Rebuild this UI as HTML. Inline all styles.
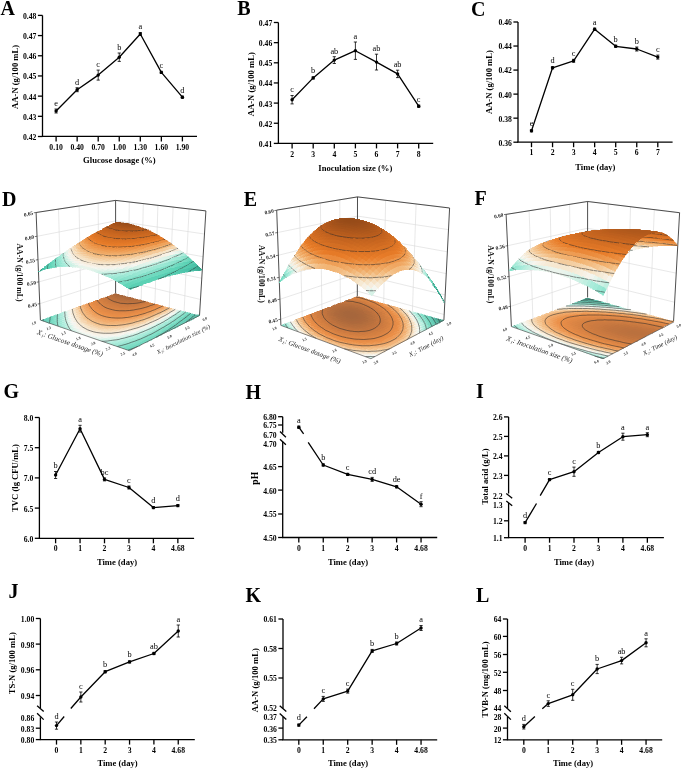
<!DOCTYPE html>
<html><head><meta charset="utf-8"><style>
html,body{margin:0;padding:0;background:#fff;}
svg{display:block;font-family:'Liberation Serif', serif;filter:blur(0.35px);}
.k{fill:none;stroke:#2b2b2b;stroke-width:.55}
.s path{fill:currentColor;stroke:currentColor;stroke-width:1.8;shape-rendering:crispEdges}
.s path.k{fill:none;stroke:#2b2b2b;stroke-width:2.2;shape-rendering:auto}
</style></head><body>
<svg width="685" height="768" viewBox="0 0 685 768">
<rect width="685" height="768" fill="#fff"/>
<line x1="61.5" y1="312.8" x2="58.5" y2="209.1" stroke="#d9d9d9" stroke-width="0.6"/>
<line x1="80.8" y1="305.9" x2="79.1" y2="206.0" stroke="#d9d9d9" stroke-width="0.6"/>
<line x1="98.7" y1="299.5" x2="98.2" y2="203.1" stroke="#d9d9d9" stroke-width="0.6"/>
<line x1="128.0" y1="296.9" x2="129.3" y2="202.0" stroke="#d9d9d9" stroke-width="0.6"/>
<line x1="141.2" y1="300.3" x2="143.3" y2="203.6" stroke="#d9d9d9" stroke-width="0.6"/>
<line x1="154.9" y1="303.9" x2="157.9" y2="205.3" stroke="#d9d9d9" stroke-width="0.6"/>
<line x1="169.2" y1="307.6" x2="173.1" y2="207.1" stroke="#d9d9d9" stroke-width="0.6"/>
<line x1="184.1" y1="311.5" x2="189.1" y2="208.9" stroke="#d9d9d9" stroke-width="0.6"/>
<path d="M36.0 212.5L115.8 200.4L205.8 210.9" fill="none" stroke="#d9d9d9" stroke-width="0.6"/>
<path d="M37.0 236.3L115.7 220.9L204.4 234.0" fill="none" stroke="#d9d9d9" stroke-width="0.6"/>
<path d="M38.0 259.7L115.6 241.0L203.1 256.7" fill="none" stroke="#d9d9d9" stroke-width="0.6"/>
<path d="M38.9 281.9L115.5 260.3L201.8 278.3" fill="none" stroke="#d9d9d9" stroke-width="0.6"/>
<path d="M39.9 303.7L115.4 279.2L200.6 299.5" fill="none" stroke="#d9d9d9" stroke-width="0.6"/>
<line x1="36.1" y1="212.5" x2="115.6" y2="200.4" stroke="#3a3a3a" stroke-width="0.9"/>
<line x1="115.6" y1="200.4" x2="205.9" y2="210.9" stroke="#3a3a3a" stroke-width="0.9"/>
<line x1="40.4" y1="320.1" x2="36.1" y2="212.5" stroke="#3a3a3a" stroke-width="0.9"/>
<line x1="115.6" y1="293.7" x2="115.6" y2="200.4" stroke="#3a3a3a" stroke-width="0.9"/>
<line x1="199.5" y1="315.5" x2="205.9" y2="210.9" stroke="#3a3a3a" stroke-width="0.9"/>
<line x1="33.8" y1="212.8" x2="36.0" y2="212.5" stroke="#3a3a3a" stroke-width="0.7"/>
<text x="33.0" y="212.8" font-size="5.3" font-weight="bold" text-anchor="end" dominant-baseline="central" fill="#222" transform="rotate(-12 33.0 212.8)">0.65</text>
<line x1="34.8" y1="236.6" x2="37.0" y2="236.3" stroke="#3a3a3a" stroke-width="0.7"/>
<text x="34.0" y="236.6" font-size="5.3" font-weight="bold" text-anchor="end" dominant-baseline="central" fill="#222" transform="rotate(-12 34.0 236.6)">0.60</text>
<line x1="35.8" y1="260.0" x2="38.0" y2="259.7" stroke="#3a3a3a" stroke-width="0.7"/>
<text x="35.0" y="260.0" font-size="5.3" font-weight="bold" text-anchor="end" dominant-baseline="central" fill="#222" transform="rotate(-12 35.0 260.0)">0.55</text>
<line x1="36.7" y1="282.2" x2="38.9" y2="281.9" stroke="#3a3a3a" stroke-width="0.7"/>
<text x="35.9" y="282.2" font-size="5.3" font-weight="bold" text-anchor="end" dominant-baseline="central" fill="#222" transform="rotate(-12 35.9 282.2)">0.50</text>
<line x1="37.7" y1="304.0" x2="39.9" y2="303.7" stroke="#3a3a3a" stroke-width="0.7"/>
<text x="36.9" y="304.0" font-size="5.3" font-weight="bold" text-anchor="end" dominant-baseline="central" fill="#222" transform="rotate(-12 36.9 304.0)">0.45</text>
<g class="s" transform="scale(.25)">
<path color="#62c8b2" d="M162 1281l11 3 11-4-10-3z"/>
<path color="#69ceb8" d="M174 1277l10 3 12-4-11-3zM173 1284l10 4 11-4-10-4zM749 1268l13 3 8-4-13-3z"/>
<path color="#6ed3bc" d="M185 1273l11 3 11-4-10-3zM184 1280l10 4 12-4-10-4zM183 1288l10 4 12-5-11-3zM753 1256l12 4 8-4-12-3zM724 1280l13 3 8-4-12-3z"/>
<path color="#74d8c0" d="M197 1269l10 3 11-4-10-3zM196 1276l10 4 11-4-10-4zM194 1284l11 3 11-4-10-3zM728 1268l13 4 8-4-12-4zM689 1296l13 4 9-4-13-4zM536 1382l14 4 11-5-14-5zM547 1376l14 5 10-6-13-4zM609 1346l13 4 10-5-13-4zM619 1341l13 4 10-5-14-4z"/>
<path color="#80dec6" d="M208 1265l10 3 11-4-10-3zM207 1272l10 4 11-5-10-3zM732 1257l13 3 8-4-12-3zM634 1323l14 4 9-5-13-3z"/>
<path color="#92e3cf" d="M219 1261l10 3 11-4-10-3zM521 1368l13 4 10-5-13-5z"/>
<path color="#a2e8d7" d="M230 1257l10 3 11-4-10-3z"/>
<path color="#b3eedf" d="M241 1253l10 3 11-4-11-3zM505 1354l13 4 11-5-13-4z"/>
<path color="#cef2e6" d="M251 1249l11 3 10-3-10-4z"/>
<path color="#ebf6ef" d="M262 1245l10 4 11-4-11-3zM351 1345l12 5 11-5-12-4zM456 1346l13 5 11-5-13-4zM688 1251l12 3 8-4-12-3z"/>
<path color="#f8f2e8" d="M272 1242l11 3 10-4-10-3zM636 1275l12 3 9-4-12-3z"/>
<path color="#f7e9d3" d="M283 1238l10 3 10-4-10-3z"/>
<path color="#f6dbb9" d="M293 1234l10 3 10-3-10-3zM337 1299l11 4 11-5-11-3z"/>
<path color="#f5cc9e" d="M303 1231l10 3 10-4-10-3zM336 1283l11 4 11-4-11-4z"/>
<path color="#f4bd85" d="M313 1227l10 3 10-3-10-3z"/>
<path color="#f1b174" d="M323 1224l10 3 10-4-10-3zM632 1242l11 3 9-3-12-4z"/>
<path color="#f0a565" d="M333 1220l10 3 10-3-10-3zM423 1281l11 3 10-4-11-3z"/>
<path color="#ed9a56" d="M343 1217l10 3 10-4-10-3z"/>
<path color="#eb9048" d="M353 1213l10 3 9-3-10-3zM386 1249l11 3 10-4-11-3zM441 1265l12 4 9-4-11-4zM504 1264l12 3 9-4-11-3z"/>
<path color="#e68b47" d="M362 1210l10 3 10-4-10-3zM374 1225l10 4 10-4-11-3zM385 1235l10 3 10-3-11-3zM407 1248l11 4 10-4-11-3zM418 1252l11 3 10-4-11-3zM429 1255l11 3 10-4-11-3zM502 1256l12 4 9-4-11-4zM532 1252l12 3 9-4-12-3zM597 1233l12 3 8-4-11-3zM606 1229l11 3 9-3-12-3zM614 1226l12 3 8-4-11-3zM623 1222l11 3 8-3-11-3z"/>
<path color="#e08745" d="M372 1206l10 3 9-3-10-3zM500 1249l12 3 9-3-11-4zM530 1245l11 3 10-4-12-3z"/>
<path color="#da8444" d="M381 1203l10 3 9-4-10-2zM425 1234l11 3 9-3-10-4zM436 1237l11 3 9-3-11-3zM447 1240l11 3 9-3-11-3zM478 1243l11 3 10-4-12-3zM499 1242l11 3 9-3-11-3zM528 1238l11 3 9-4-11-3zM566 1230l11 3 9-3-11-3z"/>
<path color="#d48042" d="M390 1200l10 2 10-3-11-3zM401 1209l11 3 9-4-10-3zM413 1218l10 3 9-4-10-3zM466 1233l10 3 10-4-11-3zM497 1236l11 3 9-4-11-3zM526 1231l11 3 9-3-11-3zM555 1227l11 3 9-3-12-3zM563 1224l12 3 8-4-11-3z"/>
<path color="#cf7d41" d="M399 1196l11 3 9-3-10-3zM495 1229l11 3 9-4-11-3z"/>
<path color="#ca7a40" d="M409 1193l10 3 9-3-10-3zM420 1202l10 3 9-4-10-2zM452 1217l11 3 9-4-11-3zM493 1222l11 3 9-3-11-3zM513 1222l11 3 9-4-11-3z"/>
<path color="#c4763f" d="M418 1190l10 3 9-4-10-2zM429 1199l10 2 9-3-10-3zM491 1216l11 3 9-4-11-3zM511 1215l11 3 9-3-11-3zM567 1207l11 3 8-3-10-3z"/>
<path color="#be733e" d="M427 1187l10 2 8-3-10-2zM438 1195l10 3 9-3-10-3zM490 1210l10 2 9-3-11-3zM528 1208l11 3 9-3-11-3zM556 1205l11 2 9-3-11-3z"/>
<path color="#b86f3d" d="M435 1184l10 2 9-3-10-3zM457 1195l10 3 9-4-10-2z"/>
<path color="#b16c3d" d="M444 1180l10 3 9-3-10-3z"/>
<path color="#ac693c" d="M453 1177l10 3 8-3-10-3z"/>
<path color="#91e3cf" d="M218 1268l10 3 11-4-10-3zM650 1306l12 4 10-5-13-4z"/>
<path color="#a2e8d6" d="M229 1264l10 3 11-4-10-3zM228 1271l11 4 11-4-11-4zM712 1258l12 3 8-4-12-3zM508 1363l13 5 10-6-13-4zM664 1289l13 4 9-4-13-4z"/>
<path color="#b2eddf" d="M240 1260l10 3 11-3-10-4zM716 1247l12 3 8-4-12-3z"/>
<path color="#ccf1e6" d="M251 1256l10 4 11-4-10-4zM683 1262l12 3 9-4-13-3z"/>
<path color="#e8f6ee" d="M262 1252l10 4 10-4-10-3zM281 1305l11 4 11-5-11-4zM574 1312l12 4 10-4-13-4z"/>
<path color="#f8f3ea" d="M272 1249l10 3 11-4-10-3zM552 1313l12 4 10-5-13-3z"/>
<path color="#f7ead5" d="M283 1245l10 3 10-4-10-3zM372 1327l12 4 11-5-12-4zM486 1323l13 4 10-4-12-4z"/>
<path color="#f6ddbd" d="M293 1241l10 3 11-3-11-4z"/>
<path color="#f5cea2" d="M303 1237l11 4 10-4-11-3zM314 1262l11 3 10-4-11-3zM359 1298l11 4 11-4-11-4z"/>
<path color="#f4bf88" d="M313 1234l11 3 10-4-11-3zM591 1268l12 4 9-4-12-4zM626 1253l12 3 9-4-12-3z"/>
<path color="#f1b378" d="M323 1230l11 3 10-3-11-3zM402 1289l11 4 11-4-12-4zM510 1286l12 4 10-5-12-3z"/>
<path color="#f0a769" d="M333 1227l11 3 10-4-11-3z"/>
<path color="#ee9c59" d="M343 1223l11 3 9-4-10-2zM355 1239l10 4 10-4-11-3zM421 1273l12 4 10-4-12-4zM454 1276l12 4 9-4-11-4zM475 1276l12 3 10-4-12-4z"/>
<path color="#eb914b" d="M353 1220l10 2 10-3-10-3zM474 1268l11 3 10-4-12-3z"/>
<path color="#e68c47" d="M363 1216l10 3 9-3-10-3zM396 1245l11 3 10-3-11-4zM440 1258l11 3 10-4-11-3zM580 1240l11 3 9-4-12-3zM588 1236l12 3 9-3-12-3z"/>
<path color="#e18946" d="M372 1213l10 3 10-4-10-3zM417 1245l11 3 9-4-11-3zM428 1248l11 3 9-4-11-3zM521 1249l11 3 9-4-11-3zM559 1241l12 3 9-4-12-3z"/>
<path color="#dc8544" d="M382 1209l10 3 9-3-10-3zM404 1228l11 3 9-4-10-3z"/>
<path color="#d68143" d="M391 1206l10 3 10-4-11-3zM402 1215l11 3 9-4-10-2zM424 1227l11 3 9-3-10-3zM435 1230l10 4 10-4-11-3zM445 1234l11 3 10-4-11-3zM546 1231l11 3 9-4-11-3z"/>
<path color="#d27e41" d="M400 1202l11 3 9-3-10-3zM535 1228l11 3 9-4-11-3z"/>
<path color="#cd7b41" d="M410 1199l10 3 9-3-10-3zM421 1208l10 3 9-3-10-3zM504 1225l11 3 9-3-11-3zM561 1217l11 3 9-3-11-3z"/>
<path color="#c77840" d="M419 1196l10 3 9-4-10-2z"/>
<path color="#c1743f" d="M428 1193l10 2 9-3-10-3zM449 1204l11 3 9-3-11-3zM460 1207l10 3 9-3-10-3zM470 1210l11 3 9-3-11-3zM500 1212l11 3 9-3-11-3zM520 1212l11 3 8-4-11-3z"/>
<path color="#bb713e" d="M437 1189l10 3 9-3-11-3zM537 1205l11 3 8-3-10-3z"/>
<path color="#b56e3d" d="M445 1186l11 3 8-3-10-3z"/>
<path color="#af6b3c" d="M454 1183l10 3 9-3-10-3z"/>
<path color="#a9683c" d="M463 1180l10 3 8-3-10-3zM493 1188l11 3 8-3-10-3z"/>
<path color="#80ddc6" d="M206 1280l10 3 12-4-11-3zM523 1377l13 5 11-6-13-4z"/>
<path color="#90e3cf" d="M217 1276l11 3 11-4-11-4z"/>
<path color="#b2edde" d="M239 1267l11 4 11-4-11-4z"/>
<path color="#c9f1e6" d="M250 1263l11 4 11-4-11-3zM259 1297l11 4 11-4-11-4zM492 1350l13 4 11-5-13-4z"/>
<path color="#e5f5ed" d="M261 1260l11 3 10-4-10-3zM696 1247l12 3 8-3-12-3z"/>
<path color="#f8f5ec" d="M272 1256l10 3 11-4-11-3zM292 1300l11 4 12-4-12-4zM542 1318l12 3 10-4-12-4zM653 1267l13 3 8-4-12-3z"/>
<path color="#f7ebd8" d="M282 1252l11 3 10-4-10-3zM293 1277l10 4 11-5-11-3zM326 1312l11 3 12-4-12-4zM529 1314l13 4 10-5-13-4zM667 1252l12 3 9-4-12-3z"/>
<path color="#f6e0c1" d="M293 1248l10 3 11-4-11-3zM326 1295l11 4 11-4-12-4zM680 1237l12 3 8-3-12-3z"/>
<path color="#f6d0a7" d="M303 1244l11 3 10-3-10-3z"/>
<path color="#f4c28d" d="M314 1241l10 3 10-4-10-3z"/>
<path color="#f2b67b" d="M324 1237l10 3 10-4-10-3zM551 1277l12 4 9-5-12-3z"/>
<path color="#f1ab6c" d="M334 1233l10 3 10-3-10-3zM390 1278l11 4 10-5-11-3zM539 1274l12 3 9-4-11-3z"/>
<path color="#eea05e" d="M344 1230l10 3 10-4-10-3z"/>
<path color="#ec954f" d="M354 1226l10 3 10-4-11-3z"/>
<path color="#e98e47" d="M363 1222l11 3 9-3-10-3zM514 1260l11 3 10-4-12-3z"/>
<path color="#e38a47" d="M373 1219l10 3 10-4-11-2zM450 1254l11 3 9-3-11-4zM512 1252l11 4 9-4-11-3z"/>
<path color="#de8645" d="M382 1216l11 2 9-3-10-3zM394 1225l10 3 10-4-11-3zM416 1238l10 3 10-4-11-3zM426 1241l11 3 10-4-11-3zM437 1244l11 3 10-4-11-3zM539 1241l12 3 8-3-11-4zM603 1223l11 3 9-4-12-3zM611 1219l12 3 8-3-11-3z"/>
<path color="#d98343" d="M392 1212l10 3 10-3-11-3z"/>
<path color="#cf7c41" d="M411 1205l10 3 9-3-10-3zM432 1217l11 3 9-3-10-3zM443 1220l10 3 10-3-11-3zM453 1223l11 3 9-3-10-3zM464 1226l11 3 9-3-11-3zM552 1221l11 3 9-4-11-3z"/>
<path color="#b8703e" d="M447 1192l10 3 9-3-10-3z"/>
<path color="#b36d3d" d="M456 1189l10 3 8-3-10-3zM516 1200l10 2 9-3-11-3z"/>
<path color="#ad6a3c" d="M464 1186l10 3 9-4-10-2zM474 1189l11 2 8-3-10-3zM485 1191l10 3 9-3-11-3z"/>
<path color="#a8683c" d="M473 1183l10 2 9-3-11-2zM483 1185l10 3 9-3-10-3z"/>
<path color="#74d8bf" d="M193 1292l11 3 11-4-10-4z"/>
<path color="#7fddc5" d="M205 1287l10 4 12-4-11-4zM644 1319l13 3 9-4-13-4z"/>
<path color="#90e2ce" d="M216 1283l11 4 11-5-10-3zM707 1269l13 3 8-4-12-3zM510 1373l13 4 11-5-13-4z"/>
<path color="#a0e7d5" d="M228 1279l10 3 11-4-10-3z"/>
<path color="#b0ecdd" d="M239 1275l10 3 11-4-10-3z"/>
<path color="#c6f1e5" d="M250 1271l10 3 11-4-10-3zM691 1258l13 3 8-3-12-4zM615 1303l13 3 9-4-13-4z"/>
<path color="#e1f4ec" d="M261 1267l10 3 11-4-10-3zM544 1326l13 4 10-5-13-4z"/>
<path color="#f8f6f0" d="M272 1263l10 3 11-4-11-3zM362 1341l12 4 11-5-12-4zM444 1342l12 4 11-4-12-4zM478 1337l12 4 11-5-13-4zM662 1263l12 3 9-4-12-3z"/>
<path color="#f7eddb" d="M282 1259l11 3 10-4-10-3zM303 1296l12 4 11-5-12-3zM419 1334l13 4 10-4-12-4zM476 1328l12 4 11-5-13-4zM676 1248l12 3 8-4-12-3z"/>
<path color="#f7e3c7" d="M293 1255l10 3 11-4-11-3z"/>
<path color="#f6d4ad" d="M303 1251l11 3 10-3-10-4zM505 1306l12 4 10-5-12-3zM566 1288l12 4 9-4-12-4zM638 1256l12 3 9-4-12-3z"/>
<path color="#f5c593" d="M314 1247l10 4 10-4-10-3zM325 1265l10 3 11-4-11-3zM660 1238l12 3 8-4-11-3z"/>
<path color="#f3b880" d="M324 1244l10 3 10-4-10-3z"/>
<path color="#f1ad70" d="M334 1240l10 3 11-4-11-3zM368 1271l11 4 10-4-11-4z"/>
<path color="#efa362" d="M344 1236l11 3 9-3-10-3zM645 1228l12 3 8-3-11-3z"/>
<path color="#ed9854" d="M354 1233l10 3 10-4-10-3zM443 1273l11 3 10-4-11-3z"/>
<path color="#eb8f48" d="M364 1229l10 3 10-3-10-4zM544 1255l11 3 9-3-11-4z"/>
<path color="#e08846" d="M383 1222l11 3 9-4-10-3zM394 1232l11 3 10-4-11-3zM459 1250l11 4 10-4-11-3zM568 1237l12 3 8-4-11-3zM577 1233l11 3 9-3-11-3z"/>
<path color="#db8544" d="M393 1218l10 3 10-3-11-3zM458 1243l11 4 9-4-11-3zM519 1242l11 3 9-4-11-3zM557 1234l11 3 9-4-11-3z"/>
<path color="#d17e41" d="M412 1212l10 2 9-3-10-3zM581 1217l11 3 8-4-11-3z"/>
<path color="#c97840" d="M430 1205l10 3 9-4-10-3zM482 1219l11 3 9-3-11-3z"/>
<path color="#c3753f" d="M439 1201l10 3 9-3-10-3zM481 1213l10 3 9-4-10-2zM539 1211l11 3 9-3-11-3z"/>
<path color="#bd723e" d="M448 1198l10 3 9-3-10-3zM479 1207l11 3 8-4-10-3zM509 1209l11 3 8-4-10-2z"/>
<path color="#b26d3d" d="M466 1192l10 2 9-3-11-2zM476 1194l10 3 9-3-10-3zM486 1197l11 3 8-3-10-3z"/>
<path color="#7edcc5" d="M204 1295l11 4 11-4-11-4zM703 1280l13 4 8-4-12-4zM512 1382l14 5 10-5-13-5z"/>
<path color="#8ee2cd" d="M215 1291l11 4 12-5-11-3z"/>
<path color="#9ee7d4" d="M227 1287l11 3 11-4-11-4z"/>
<path color="#adebdc" d="M238 1282l11 4 11-4-11-4z"/>
<path color="#c2f1e3" d="M249 1278l11 4 11-4-11-4zM633 1294l13 4 9-5-12-3z"/>
<path color="#dcf4eb" d="M260 1274l11 4 11-4-11-4zM292 1325l11 4 12-4-12-4z"/>
<path color="#f6f7f2" d="M271 1270l11 4 11-4-11-4zM374 1345l12 4 11-5-12-4zM671 1259l12 3 8-4-12-3z"/>
<path color="#f8efe0" d="M282 1266l11 4 10-4-10-4zM350 1328l11 4 11-5-11-4zM509 1323l13 4 10-5-13-4zM684 1244l12 3 8-3-12-4z"/>
<path color="#f7e6cd" d="M293 1262l10 4 11-4-11-4z"/>
<path color="#f6d8b3" d="M303 1258l11 4 10-4-10-4zM462 1316l12 4 10-5-12-4zM655 1248l12 4 9-4-12-3z"/>
<path color="#f5c99a" d="M314 1254l10 4 11-4-11-3zM460 1308l12 3 11-4-12-4z"/>
<path color="#f3bc84" d="M324 1251l11 3 10-4-11-3zM403 1297l12 4 10-5-12-3zM437 1300l11 4 11-5-12-3zM459 1299l12 4 10-4-12-4z"/>
<path color="#f1b275" d="M334 1247l11 3 10-4-11-3zM579 1265l12 3 9-4-12-3zM640 1238l12 4 8-4-11-3z"/>
<path color="#f0a767" d="M344 1243l11 3 10-3-10-4zM456 1284l11 3 10-4-11-3zM508 1278l12 4 10-4-12-4zM558 1266l12 3 9-4-12-3z"/>
<path color="#ec924c" d="M364 1236l11 3 10-4-11-3zM376 1246l10 3 10-4-10-3zM453 1269l11 3 10-4-12-3zM600 1239l11 4 9-4-11-3zM609 1236l11 3 9-4-12-3zM617 1232l12 3 8-3-11-3zM626 1229l11 3 8-4-11-3z"/>
<path color="#e78d47" d="M374 1232l11 3 9-3-10-3zM472 1261l11 3 10-4-11-3zM493 1260l11 4 10-4-12-4zM523 1256l12 3 9-4-12-3zM571 1244l11 3 9-4-11-3z"/>
<path color="#e38a46" d="M384 1229l10 3 10-4-10-3zM551 1244l11 4 9-4-12-3z"/>
<path color="#d98344" d="M403 1221l11 3 9-3-10-3zM575 1227l11 3 8-4-11-3z"/>
<path color="#d07d41" d="M422 1214l10 3 10-3-11-3zM475 1229l11 3 9-3-11-3zM515 1228l11 3 9-3-11-3zM544 1224l11 3 8-3-11-3z"/>
<path color="#cc7a41" d="M431 1211l11 3 9-3-11-3zM473 1223l11 3 9-4-11-3zM533 1221l11 3 8-3-11-3zM570 1214l11 3 8-4-11-3z"/>
<path color="#c77740" d="M440 1208l11 3 9-4-11-3zM472 1216l10 3 9-3-10-3z"/>
<path color="#bc723e" d="M458 1201l11 3 9-4-11-2zM469 1204l10 3 9-4-10-3z"/>
<path color="#b76f3d" d="M467 1198l11 2 8-3-10-3zM478 1200l10 3 9-3-11-3z"/>
<path color="#8be1cc" d="M215 1299l10 3 12-4-11-3z"/>
<path color="#9ce6d4" d="M226 1295l11 3 11-4-10-4zM720 1254l12 3 9-4-13-3zM486 1374l13 4 11-5-13-5zM682 1281l12 3 9-4-13-3z"/>
<path color="#abebda" d="M238 1290l10 4 12-4-11-4zM437 1375l13 5 12-6-13-4zM618 1311l13 4 9-5-12-4z"/>
<path color="#bdf0e2" d="M249 1286l11 4 11-5-11-3z"/>
<path color="#d7f3e9" d="M260 1282l11 3 11-4-11-3zM666 1270l12 3 9-4-13-3z"/>
<path color="#f1f6f1" d="M271 1278l11 3 11-4-11-3zM303 1321l12 4 11-5-11-4zM433 1347l13 4 10-5-12-4zM679 1255l12 3 9-4-12-3z"/>
<path color="#f8f1e5" d="M282 1274l11 3 10-4-10-3zM292 1293l11 3 11-4-11-4zM408 1339l13 4 11-5-13-4zM432 1338l12 4 11-4-13-4zM499 1327l12 4 11-4-13-4zM692 1240l12 4 8-4-12-3zM581 1300l12 3 9-4-12-4zM618 1283l12 3 9-4-12-3z"/>
<path color="#f7e9d2" d="M293 1270l10 3 11-4-11-3zM430 1330l12 4 11-5-12-4zM549 1305l12 4 10-5-12-4zM650 1259l12 4 9-4-12-4z"/>
<path color="#f6dcba" d="M303 1266l11 3 11-4-11-3z"/>
<path color="#f4c08a" d="M324 1258l11 3 10-4-10-3zM635 1249l12 3 8-4-12-3z"/>
<path color="#f2b57a" d="M335 1254l10 3 11-4-11-3zM413 1293l12 3 10-4-11-3z"/>
<path color="#f1ab6d" d="M345 1250l11 3 10-3-11-4zM356 1260l11 4 10-4-11-3zM401 1282l11 3 11-4-12-4z"/>
<path color="#efa15f" d="M355 1246l11 4 10-4-11-3zM603 1246l11 4 9-4-12-3zM611 1243l12 3 9-4-12-3zM620 1239l12 3 8-4-11-3z"/>
<path color="#ed9652" d="M365 1243l11 3 10-4-11-3z"/>
<path color="#ea8f48" d="M375 1239l11 3 9-4-10-3zM397 1252l11 3 10-3-11-4zM430 1262l11 3 10-4-11-3zM462 1265l12 3 9-4-11-3zM483 1264l12 3 9-3-11-4z"/>
<path color="#d78243" d="M414 1224l10 3 10-3-11-3zM456 1237l11 3 9-4-10-3zM487 1239l12 3 9-3-11-3zM592 1220l11 3 8-4-11-3zM600 1216l11 3 9-3-12-3z"/>
<path color="#d38042" d="M423 1221l11 3 9-4-11-3z"/>
<path color="#cb7a40" d="M442 1214l10 3 9-4-10-2zM463 1220l10 3 9-4-10-3zM578 1210l11 3 8-3-11-3z"/>
<path color="#c67740" d="M451 1211l10 2 9-3-10-3zM461 1213l11 3 9-3-11-3zM559 1211l11 3 8-4-11-3z"/>
<path color="#ae6a3c" d="M495 1194l10 3 9-4-10-2z"/>
<path color="#aa693c" d="M504 1191l10 2 8-3-10-2z"/>
<path color="#98e6d2" d="M225 1302l11 4 12-4-11-4zM562 1348l14 4 10-5-13-4z"/>
<path color="#a7ead9" d="M237 1298l11 4 11-5-11-3zM529 1353l13 4 10-5-13-4zM646 1298l13 3 9-4-13-4z"/>
<path color="#b7efe0" d="M248 1294l11 3 11-4-10-3zM660 1282l13 3 9-4-13-4z"/>
<path color="#d0f2e7" d="M260 1290l10 3 11-4-10-4z"/>
<path color="#eaf6ee" d="M271 1285l10 4 11-4-10-4zM593 1303l13 4 9-4-13-4zM602 1299l13 4 9-5-12-3z"/>
<path color="#f8f4ea" d="M282 1281l10 4 11-4-10-4zM488 1332l13 4 10-5-12-4zM645 1271l12 3 9-4-13-3z"/>
<path color="#f6e0c3" d="M303 1273l11 3 11-4-11-3z"/>
<path color="#f6d3ab" d="M314 1269l11 3 10-4-10-3zM629 1260l12 3 9-4-12-3z"/>
<path color="#f3ba80" d="M335 1261l11 3 10-4-11-3z"/>
<path color="#f1af73" d="M345 1257l11 3 10-3-10-4zM606 1253l11 4 9-4-12-3zM614 1250l12 3 9-4-12-3z"/>
<path color="#f0a665" d="M356 1253l10 4 10-4-10-3z"/>
<path color="#ee9c58" d="M366 1250l10 3 10-4-10-3zM388 1263l11 4 10-4-11-4z"/>
<path color="#e88d47" d="M386 1242l10 3 10-4-11-3zM451 1261l11 4 10-4-11-4z"/>
<path color="#e48b47" d="M395 1238l11 3 10-3-11-3zM541 1248l12 3 9-3-11-4z"/>
<path color="#df8745" d="M405 1235l11 3 9-4-10-3zM448 1247l11 3 10-3-11-4zM480 1250l11 3 9-4-11-3zM586 1230l11 3 9-4-12-3zM594 1226l12 3 8-3-11-3z"/>
<path color="#da8544" d="M415 1231l10 3 10-4-11-3z"/>
<path color="#d27f42" d="M434 1224l10 3 9-4-10-3zM444 1227l11 3 9-4-11-3zM486 1232l11 4 9-4-11-3zM506 1232l11 3 9-4-11-3zM572 1220l11 3 9-3-11-3z"/>
<path color="#b86f3e" d="M488 1203l10 3 9-3-10-3zM546 1202l10 3 9-4-11-2z"/>
<path color="#b46e3d" d="M497 1200l10 3 9-3-11-3z"/>
<path color="#b06b3c" d="M505 1197l11 3 8-4-10-3zM524 1196l11 3 8-3-10-3z"/>
<path color="#ad693c" d="M514 1193l10 3 9-3-11-3z"/>
<path color="#a4e9d7" d="M236 1306l11 4 12-4-11-4z"/>
<path color="#b2eedf" d="M248 1302l11 4 11-5-11-4z"/>
<path color="#e2f5ec" d="M270 1293l11 4 11-4-11-4z"/>
<path color="#f8f6f1" d="M281 1289l11 4 11-5-11-3z"/>
<path color="#f7eede" d="M292 1285l11 3 11-4-11-3zM396 1335l12 4 11-5-12-4z"/>
<path color="#f7e6cc" d="M303 1281l11 3 11-4-11-4zM578 1292l12 3 9-4-12-3zM624 1271l12 4 9-4-12-4z"/>
<path color="#f6d9b4" d="M314 1276l11 4 11-4-11-4zM348 1303l11 4 11-5-11-4zM546 1297l13 3 9-4-12-3z"/>
<path color="#f5cb9d" d="M325 1272l11 4 10-4-11-4z"/>
<path color="#f4be87" d="M335 1268l11 4 11-4-11-4zM415 1301l11 3 11-4-12-4zM481 1299l12 3 10-4-12-4zM600 1264l12 4 9-4-12-3zM609 1261l12 3 8-4-12-3zM617 1257l12 3 9-4-12-3z"/>
<path color="#f2b47a" d="M346 1264l11 4 10-4-11-4z"/>
<path color="#efa260" d="M366 1257l11 3 10-4-11-3zM466 1280l11 3 10-4-12-3zM594 1250l12 3 8-3-11-4zM629 1235l11 3 9-3-12-3z"/>
<path color="#ed9853" d="M376 1253l11 3 10-4-11-3z"/>
<path color="#e28a46" d="M406 1241l11 4 9-4-10-3z"/>
<path color="#ba713e" d="M498 1206l11 3 9-3-11-3z"/>
<path color="#b76e3d" d="M507 1203l11 3 8-4-10-2zM526 1202l11 3 9-3-11-3z"/>
<path color="#aeecdc" d="M247 1310l11 4 12-5-11-3z"/>
<path color="#c1f1e3" d="M259 1306l11 3 11-4-11-4zM547 1335l13 4 10-5-13-4z"/>
<path color="#daf3ea" d="M270 1301l11 4 11-5-11-3zM387 1358l12 4 12-5-13-4zM524 1335l13 4 10-4-13-4z"/>
<path color="#f2f6f1" d="M281 1297l11 3 11-4-11-3z"/>
<path color="#f7ead4" d="M303 1288l11 4 11-4-11-4zM315 1300l11 3 11-4-11-4zM337 1315l12 4 11-4-11-4zM407 1330l12 4 11-4-12-4zM453 1329l12 4 11-5-12-4zM539 1309l13 4 9-4-12-4zM659 1255l12 4 8-4-12-3z"/>
<path color="#f6dfbe" d="M314 1284l11 4 11-5-11-3z"/>
<path color="#f6d1a8" d="M325 1280l11 3 11-4-11-3zM603 1272l12 3 9-4-12-3z"/>
<path color="#f5c592" d="M336 1276l11 3 10-4-11-3z"/>
<path color="#f3ba81" d="M346 1272l11 3 11-4-11-3zM380 1290l12 4 10-5-11-3zM491 1294l12 4 10-4-12-4zM532 1285l12 4 10-4-12-4z"/>
<path color="#f1b074" d="M357 1268l11 3 10-4-11-3zM520 1282l12 3 10-4-12-3zM588 1261l12 3 9-3-12-4zM597 1257l12 4 8-4-11-4zM623 1246l12 3 8-4-11-3z"/>
<path color="#f0a768" d="M367 1264l11 3 10-4-11-3zM477 1283l12 4 10-5-12-3z"/>
<path color="#ee9e5c" d="M377 1260l11 3 10-4-11-3z"/>
<path color="#ec9650" d="M387 1256l11 3 10-4-11-3zM431 1269l12 4 10-4-12-4zM573 1251l12 3 9-4-12-3z"/>
<path color="#d37f42" d="M455 1230l11 3 9-4-11-3z"/>
<path color="#b9703e" d="M518 1206l10 2 9-3-11-3z"/>
<path color="#b36e3d" d="M535 1199l11 3 8-3-11-3z"/>
<path color="#b8efe1" d="M258 1314l11 4 12-5-11-4z"/>
<path color="#d1f2e7" d="M270 1309l11 4 11-4-11-4z"/>
<path color="#f7e5ca" d="M314 1292l12 3 10-4-11-3zM596 1283l13 4 9-4-12-4zM606 1279l12 4 9-4-12-4z"/>
<path color="#f6d8b4" d="M325 1288l11 3 11-4-11-4zM383 1314l11 4 11-5-12-3zM495 1311l12 3 10-4-12-4z"/>
<path color="#f4c089" d="M347 1279l11 4 10-4-11-4zM513 1294l12 3 9-4-12-3zM582 1272l12 4 9-4-12-4z"/>
<path color="#f2b77c" d="M357 1275l11 4 11-4-11-4zM447 1296l12 3 10-4-12-3zM501 1290l12 4 9-4-12-4z"/>
<path color="#efa564" d="M378 1267l11 4 10-4-11-4zM567 1262l12 3 9-4-12-3z"/>
<path color="#ec944e" d="M398 1259l11 4 10-4-11-4zM420 1266l11 3 10-4-11-3zM525 1263l12 3 9-4-11-3zM582 1247l12 3 9-4-12-3z"/>
<path color="#ea8e47" d="M408 1255l11 4 10-4-11-3zM419 1259l11 3 10-4-11-3zM553 1251l11 4 9-4-11-3z"/>
<path color="#ce7b41" d="M484 1226l11 3 9-4-11-3zM524 1225l11 3 9-4-11-3z"/>
<path color="#c87840" d="M502 1219l11 3 9-4-11-3zM522 1218l11 3 8-3-10-3zM550 1214l11 3 9-3-11-3z"/>
<path color="#c7f1e5" d="M269 1318l12 3 11-4-11-4zM447 1361l13 4 11-5-13-4zM577 1321l12 4 10-5-13-4zM606 1307l12 4 10-5-13-3z"/>
<path color="#def4eb" d="M281 1313l11 4 11-5-11-3zM704 1244l12 3 8-4-12-3zM534 1331l13 4 10-5-13-4z"/>
<path color="#f5f6f1" d="M292 1309l11 3 12-4-12-4z"/>
<path color="#f8f1e4" d="M303 1304l12 4 11-5-11-3zM326 1320l12 4 11-5-12-4zM373 1336l12 4 11-5-12-4zM590 1295l12 4 10-4-13-4zM599 1291l13 4 9-4-12-4zM609 1287l12 4 9-5-12-3z"/>
<path color="#f6d4ac" d="M336 1291l12 4 10-4-11-4z"/>
<path color="#f5c896" d="M347 1287l11 4 11-5-11-3z"/>
<path color="#f3bd85" d="M358 1283l11 3 10-4-11-3zM522 1290l12 3 10-4-12-4z"/>
<path color="#f2b479" d="M368 1279l11 3 11-4-11-3zM560 1273l12 3 10-4-12-3zM657 1231l12 3 8-3-12-3z"/>
<path color="#f1ac6e" d="M379 1275l11 3 10-4-11-3zM412 1285l12 4 10-5-11-3zM445 1288l12 4 10-5-11-3zM467 1287l12 4 10-4-12-4z"/>
<path color="#efa363" d="M389 1271l11 3 10-4-11-3zM411 1277l12 4 10-4-12-4zM518 1274l12 4 9-4-12-4zM576 1258l12 3 9-4-12-3z"/>
<path color="#ed9b58" d="M399 1267l11 3 10-4-11-3zM546 1262l12 4 9-4-12-4z"/>
<path color="#ec934d" d="M409 1263l11 3 10-4-11-3zM495 1267l11 4 10-4-12-3zM591 1243l12 3 8-3-11-4z"/>
<path color="#e28946" d="M439 1251l11 3 9-4-11-3zM470 1254l12 3 9-4-11-3zM491 1253l11 3 10-4-12-3z"/>
<path color="#d88343" d="M467 1240l11 3 9-4-11-3zM583 1223l11 3 9-3-11-3z"/>
<path color="#d58042" d="M476 1236l11 3 10-3-11-4z"/>
<path color="#c5763f" d="M531 1215l10 3 9-4-11-3z"/>
<path color="#c0743f" d="M548 1208l11 3 8-4-11-2z"/>
<path color="#d3f2e8" d="M281 1321l11 4 11-4-11-4z"/>
<path color="#e9f6ee" d="M292 1317l11 4 12-5-12-4zM315 1333l12 4 11-4-11-4zM583 1308l13 4 10-5-13-4zM612 1295l12 3 9-4-12-3z"/>
<path color="#f8f5ed" d="M303 1312l12 4 11-4-11-4zM421 1343l12 4 11-5-12-4z"/>
<path color="#f7eedd" d="M315 1308l11 4 11-5-11-4z"/>
<path color="#f7e7ce" d="M326 1303l11 4 11-4-11-4z"/>
<path color="#f6cfa5" d="M348 1295l11 3 11-4-12-3zM428 1313l12 3 10-4-12-4z"/>
<path color="#f5c491" d="M358 1291l12 3 10-4-11-4zM554 1285l12 3 9-4-12-3z"/>
<path color="#f3bb82" d="M369 1286l11 4 11-4-12-4z"/>
<path color="#f1b277" d="M379 1282l12 4 10-4-11-4zM391 1286l11 3 10-4-11-3zM479 1291l12 3 10-4-12-3zM570 1269l12 3 9-4-12-3zM649 1235l11 3 9-4-12-3z"/>
<path color="#efa262" d="M400 1274l11 3 10-4-11-3zM487 1279l12 3 9-4-11-3z"/>
<path color="#ed9c58" d="M410 1270l11 3 10-4-11-3z"/>
<path color="#dd8545" d="M469 1247l11 3 9-4-11-3z"/>
<path color="#ca7940" d="M541 1218l11 3 9-4-11-3z"/>
<path color="#f8f2e7" d="M315 1316l11 4 11-5-11-3zM561 1309l13 3 9-4-12-4z"/>
<path color="#f7e4c9" d="M337 1307l12 4 10-4-11-4zM418 1326l12 4 11-5-12-4zM441 1325l12 4 11-5-12-4z"/>
<path color="#f4c48f" d="M370 1294l11 4 11-4-12-4z"/>
<path color="#e58b47" d="M461 1257l11 4 10-4-12-3zM482 1257l11 3 9-4-11-3z"/>
<path color="#dc8545" d="M489 1246l11 3 10-4-11-3zM548 1237l11 4 9-4-11-3z"/>
<path color="#d88243" d="M508 1239l11 3 9-4-11-3zM537 1234l11 3 9-3-11-3z"/>
<path color="#d58143" d="M517 1235l11 3 9-4-11-3z"/>
<path color="#e4f5ec" d="M303 1329l12 4 12-4-12-4z"/>
<path color="#f8f7f2" d="M315 1325l12 4 11-5-12-4zM522 1327l12 4 10-5-12-4z"/>
<path color="#f7e2c4" d="M349 1311l11 4 11-5-12-3z"/>
<path color="#f6d7b2" d="M359 1307l12 3 11-4-12-4zM371 1310l12 4 10-4-11-4zM417 1317l12 4 11-5-12-3z"/>
<path color="#f5cda0" d="M370 1302l12 4 10-5-11-3zM525 1297l12 4 9-4-12-4z"/>
<path color="#f4c38f" d="M381 1298l11 3 11-4-11-3z"/>
<path color="#f3ba82" d="M392 1294l11 3 10-4-11-4z"/>
<path color="#ee9f5d" d="M433 1277l11 3 10-4-11-3zM497 1275l11 3 10-4-12-3z"/>
<path color="#dd8645" d="M510 1245l11 4 9-4-11-3z"/>
<path color="#d07e41" d="M589 1213l11 3 8-3-11-3z"/>
<path color="#f8f6ef" d="M327 1329l11 4 12-5-12-4zM532 1322l12 4 10-5-12-3z"/>
<path color="#f8f0e1" d="M338 1324l12 4 11-5-12-4zM361 1332l12 4 11-5-12-4zM465 1333l13 4 10-5-12-4z"/>
<path color="#f7e9d4" d="M349 1319l12 4 11-4-12-4zM361 1323l11 4 11-5-11-3z"/>
<path color="#f6e1c4" d="M360 1315l12 4 11-5-12-4zM517 1310l12 4 10-5-12-4z"/>
<path color="#f5cea1" d="M382 1306l11 4 11-5-12-4z"/>
<path color="#f4c490" d="M392 1301l12 4 11-4-12-4zM471 1303l12 4 10-5-12-3zM503 1298l12 4 10-5-12-3zM652 1242l12 3 8-4-12-3z"/>
<path color="#f1ae71" d="M424 1289l11 3 10-4-11-4zM489 1287l12 3 9-4-11-4z"/>
<path color="#f0a869" d="M434 1284l11 4 11-4-12-4zM549 1270l11 3 10-4-12-3z"/>
<path color="#efa261" d="M444 1280l12 4 10-4-12-4zM585 1254l12 3 9-4-12-3zM637 1232l12 3 8-4-12-3z"/>
<path color="#ec9652" d="M464 1272l11 4 10-5-11-3z"/>
<path color="#ecf6ef" d="M327 1337l12 4 11-4-12-4z"/>
<path color="#f8f6ee" d="M338 1333l12 4 11-5-11-4zM350 1337l12 4 11-5-12-4zM397 1344l13 4 11-5-13-4z"/>
<path color="#f7e1c4" d="M372 1319l11 3 11-4-11-4zM474 1320l12 3 11-4-13-4z"/>
<path color="#f6cfa4" d="M393 1310l12 3 11-4-12-4zM450 1312l12 4 10-5-12-3z"/>
<path color="#f5c795" d="M404 1305l12 4 10-5-11-3z"/>
<path color="#f2b87e" d="M425 1296l12 4 10-4-12-4zM542 1281l12 4 9-4-12-4z"/>
<path color="#f1b276" d="M435 1292l12 4 10-4-12-4z"/>
<path color="#ed9752" d="M485 1271l12 4 9-4-11-4zM516 1267l11 3 10-4-12-3zM564 1255l12 3 9-4-12-3z"/>
<path color="#edf6ef" d="M339 1341l12 4 11-4-12-4zM501 1336l13 4 10-5-13-4z"/>
<path color="#f7e4c8" d="M383 1322l12 4 11-4-12-4z"/>
<path color="#f6dab8" d="M394 1318l12 4 11-5-12-4z"/>
<path color="#f6d2aa" d="M405 1313l12 4 11-4-12-4zM472 1311l12 4 11-4-12-4z"/>
<path color="#f5ca9c" d="M416 1309l12 4 10-5-12-4z"/>
<path color="#f4c38e" d="M426 1304l12 4 10-4-11-4zM563 1281l12 3 9-4-12-4z"/>
<path color="#f1b175" d="M457 1292l12 3 10-4-12-4z"/>
<path color="#ed9b57" d="M506 1271l12 3 9-4-11-3z"/>
<path color="#eb914a" d="M535 1259l11 3 9-4-11-3z"/>
<path color="#e88e47" d="M562 1248l11 3 9-4-11-3z"/>
<path color="#f7ebd9" d="M384 1331l12 4 11-5-12-4z"/>
<path color="#f7e6ce" d="M395 1326l12 4 11-4-12-4zM464 1324l12 4 10-5-12-3zM568 1296l13 4 9-5-12-3zM633 1267l12 4 8-4-12-4z"/>
<path color="#f6dfbf" d="M406 1322l12 4 11-5-12-4z"/>
<path color="#f5c998" d="M438 1308l12 4 10-4-12-4zM493 1302l12 4 10-4-12-4z"/>
<path color="#f4c28c" d="M448 1304l12 4 11-5-12-4zM643 1245l12 3 9-3-12-3z"/>
<path color="#f2b77d" d="M469 1295l12 4 10-5-12-3z"/>
<path color="#f1aa6c" d="M499 1282l11 4 10-4-12-4z"/>
<path color="#eea15e" d="M527 1270l12 4 10-4-12-4z"/>
<path color="#ee9d5b" d="M537 1266l12 4 9-4-12-4z"/>
<path color="#ed9954" d="M555 1258l12 4 9-4-12-3z"/>
<path color="#ec934c" d="M634 1225l11 3 9-3-12-3z"/>
<path color="#e7f5ee" d="M363 1350l12 4 11-5-12-4zM621 1291l12 3 10-4-13-4z"/>
<path color="#f8f3e8" d="M385 1340l12 4 11-5-12-4zM455 1338l12 4 11-5-13-4z"/>
<path color="#f6ddbc" d="M429 1321l12 4 11-5-12-4zM484 1315l13 4 10-5-12-3zM672 1241l12 3 8-4-12-3z"/>
<path color="#f6d6b0" d="M440 1316l12 4 10-4-12-4z"/>
<path color="#f1ad6f" d="M530 1278l12 3 9-4-12-3z"/>
<path color="#e1f5ec" d="M375 1354l12 4 11-5-12-4zM446 1351l12 5 11-5-13-5z"/>
<path color="#f0f6f0" d="M386 1349l12 4 12-5-13-4z"/>
<path color="#f6debe" d="M452 1320l12 4 10-4-12-4zM527 1305l12 4 10-4-12-4z"/>
<path color="#f5cda1" d="M483 1307l12 4 10-5-12-4z"/>
<path color="#e6f5ed" d="M398 1353l13 4 11-5-12-4zM422 1352l13 4 11-5-13-4zM490 1341l13 4 11-5-13-4zM564 1317l13 4 9-5-12-4zM630 1286l13 4 9-4-13-4z"/>
<path color="#f3f6f1" d="M410 1348l12 4 11-5-12-4zM511 1331l13 4 10-4-12-4z"/>
<path color="#f7eddc" d="M442 1334l13 4 10-5-12-4zM519 1318l13 4 10-4-13-4z"/>
<path color="#f6d0a6" d="M515 1302l12 3 10-4-12-4z"/>
<path color="#f5c99b" d="M534 1293l12 4 10-4-12-4z"/>
<path color="#f5c796" d="M544 1289l12 4 10-5-12-3z"/>
<path color="#f4c18b" d="M572 1276l12 4 10-4-12-4z"/>
<path color="#f5c897" d="M669 1234l11 3 8-3-11-3z"/>
<path color="#cff2e7" d="M399 1362l13 4 11-5-12-4zM458 1356l13 4 11-5-13-4zM503 1345l13 4 10-5-12-4z"/>
<path color="#dbf4eb" d="M411 1357l12 4 12-5-13-4zM657 1274l12 3 9-4-12-3z"/>
<path color="#f7e7cf" d="M497 1319l12 4 10-5-12-4zM559 1300l12 4 10-4-13-4zM641 1263l12 4 9-4-12-4z"/>
<path color="#f7e5c9" d="M507 1314l12 4 10-4-12-4z"/>
<path color="#f6dbb8" d="M537 1301l12 4 10-5-13-3z"/>
<path color="#f6d6b1" d="M556 1293l12 3 10-4-12-4z"/>
<path color="#f6d4ab" d="M575 1284l12 4 9-5-12-3z"/>
<path color="#f6d2a9" d="M584 1280l12 3 10-4-12-3zM621 1264l12 3 8-4-12-3z"/>
<path color="#f6d2a8" d="M594 1276l12 3 9-4-12-3zM612 1268l12 3 9-4-12-3z"/>
<path color="#f6d5af" d="M647 1252l12 3 8-3-12-4z"/>
<path color="#f6dab7" d="M664 1245l12 3 8-4-12-3z"/>
<path color="#c2f1e4" d="M412 1366l13 5 11-5-13-5z"/>
<path color="#cdf1e6" d="M423 1361l13 5 11-5-12-5z"/>
<path color="#d8f3ea" d="M435 1356l12 5 11-5-12-5zM469 1351l13 4 10-5-12-4z"/>
<path color="#f4f6f1" d="M467 1342l13 4 10-5-12-4z"/>
<path color="#f7e6cb" d="M587 1288l12 3 10-4-13-4z"/>
<path color="#f7e6ca" d="M615 1275l12 4 9-4-12-4z"/>
<path color="#b5eee0" d="M425 1371l12 4 12-5-13-4zM460 1365l13 4 11-5-13-4z"/>
<path color="#bef0e2" d="M436 1366l13 4 11-5-13-4zM537 1339l12 4 11-4-13-4zM643 1290l12 3 9-4-12-3z"/>
<path color="#e0f4eb" d="M480 1346l12 4 11-5-13-4zM648 1278l12 4 9-5-12-3z"/>
<path color="#f8f1e6" d="M571 1304l12 4 10-5-12-3z"/>
<path color="#f8f2e6" d="M627 1279l12 3 9-4-12-3z"/>
<path color="#b0eddd" d="M449 1370l13 4 11-5-13-4zM495 1359l13 4 10-5-13-4z"/>
<path color="#bbf0e1" d="M471 1360l13 4 11-5-13-4zM652 1286l12 3 9-4-13-3z"/>
<path color="#c3f1e4" d="M482 1355l13 4 10-5-13-4z"/>
<path color="#d4f3e9" d="M514 1340l12 4 11-5-13-4z"/>
<path color="#e4f5ed" d="M554 1321l13 4 10-4-13-4z"/>
<path color="#e3f5ec" d="M639 1282l13 4 8-4-12-4z"/>
<path color="#d2f2e8" d="M674 1266l13 3 8-4-12-3z"/>
<path color="#bff0e3" d="M700 1254l12 4 8-4-12-4z"/>
<path color="#b8efe0" d="M708 1250l12 4 8-4-12-3z"/>
<path color="#a1e8d5" d="M450 1380l13 4 12-5-13-5z"/>
<path color="#a5e9d8" d="M462 1374l13 5 11-5-13-5z"/>
<path color="#a9ebda" d="M473 1369l13 5 11-6-13-4z"/>
<path color="#adebdb" d="M484 1364l13 4 11-5-13-4zM580 1329l13 4 9-5-13-3zM589 1325l13 3 10-4-13-4zM599 1320l13 4 10-5-13-4z"/>
<path color="#b6efe0" d="M516 1349l13 4 10-5-13-4z"/>
<path color="#baf0e1" d="M526 1344l13 4 10-5-12-4z"/>
<path color="#c4f1e4" d="M557 1330l13 4 10-5-13-4zM624 1298l13 4 9-4-13-4z"/>
<path color="#c5f1e5" d="M567 1325l13 4 9-4-12-4z"/>
<path color="#c8f1e5" d="M586 1316l13 4 10-5-13-3zM596 1312l13 3 9-4-12-4z"/>
<path color="#b4eedf" d="M669 1277l13 4 8-4-12-4z"/>
<path color="#b1edde" d="M678 1273l12 4 9-4-12-4z"/>
<path color="#adecdc" d="M687 1269l12 4 8-4-12-4z"/>
<path color="#aaebda" d="M695 1265l12 4 9-4-12-4zM549 1343l13 5 11-5-13-4zM628 1306l12 4 10-4-13-4z"/>
<path color="#a6ead8" d="M704 1261l12 4 8-4-12-3z"/>
<path color="#97e5d1" d="M728 1250l13 3 8-4-13-3zM552 1352l13 5 11-5-14-4z"/>
<path color="#94e4d0" d="M463 1384l14 5 11-6-13-4zM531 1362l13 5 11-5-13-5z"/>
<path color="#98e5d2" d="M475 1379l13 4 11-5-13-4zM690 1277l13 3 9-4-13-3zM612 1324l13 4 9-5-12-4z"/>
<path color="#9fe7d5" d="M497 1368l13 5 11-5-13-5z"/>
<path color="#a4e9d8" d="M518 1358l13 4 11-5-13-4zM655 1293l13 4 9-4-13-4z"/>
<path color="#a8ebda" d="M539 1348l13 4 10-4-13-5zM637 1302l13 4 9-5-13-3z"/>
<path color="#abebdb" d="M560 1339l13 4 10-5-13-4z"/>
<path color="#acebdb" d="M570 1334l13 4 10-5-13-4zM609 1315l13 4 9-4-13-4z"/>
<path color="#9fe7d4" d="M673 1285l13 4 8-5-12-3z"/>
<path color="#94e4cf" d="M699 1273l13 3 8-4-13-3zM640 1310l13 4 9-4-12-4z"/>
<path color="#8be0cb" d="M716 1265l12 3 9-4-13-3zM488 1383l13 5 11-6-13-4z"/>
<path color="#86e0c9" d="M724 1261l13 3 8-4-13-3z"/>
<path color="#7bdbc4" d="M741 1253l12 3 8-3-12-4z"/>
<path color="#87e0c9" d="M477 1389l13 4 11-5-13-5z"/>
<path color="#8de1cd" d="M499 1378l13 4 11-5-13-4z"/>
<path color="#96e5d0" d="M542 1357l13 5 10-5-13-5z"/>
<path color="#99e6d2" d="M573 1343l13 4 10-5-13-4zM583 1338l13 4 10-5-13-4zM593 1333l13 4 9-5-13-4zM602 1328l13 4 10-4-13-4z"/>
<path color="#96e5d1" d="M622 1319l12 4 10-4-13-4z"/>
<path color="#96e4d0" d="M631 1315l13 4 9-5-13-4z"/>
<path color="#8fe2ce" d="M659 1301l13 4 9-4-13-4z"/>
<path color="#8ce1cc" d="M668 1297l13 4 8-5-12-3z"/>
<path color="#89e0ca" d="M677 1293l12 3 9-4-12-3z"/>
<path color="#85dfc9" d="M686 1289l12 3 9-4-13-4zM565 1357l14 4 10-5-13-4zM576 1352l13 4 10-5-13-4zM586 1347l13 4 10-5-13-4zM596 1342l13 4 10-5-13-4z"/>
<path color="#82dec7" d="M694 1284l13 4 9-4-13-4zM625 1328l13 4 10-5-14-4z"/>
<path color="#79dbc3" d="M712 1276l12 4 9-4-13-4zM490 1393l13 5 12-6-14-4z"/>
<path color="#76dac1" d="M720 1272l13 4 8-4-13-4z"/>
<path color="#73d6be" d="M737 1264l12 4 8-4-12-4z"/>
<path color="#70d4bd" d="M745 1260l12 4 8-4-12-4zM716 1284l12 3 9-4-13-3zM666 1318l13 4 9-5-13-4z"/>
<path color="#7bdcc4" d="M501 1388l14 4 11-5-14-5z"/>
<path color="#81dec7" d="M534 1372l13 4 11-5-14-4z"/>
<path color="#83dec8" d="M544 1367l14 4 10-5-13-4z"/>
<path color="#84dfc8" d="M555 1362l13 4 11-5-14-4z"/>
<path color="#85dfc8" d="M606 1337l13 4 9-5-13-4z"/>
<path color="#83dfc8" d="M615 1332l13 4 10-4-13-4z"/>
<path color="#7cdcc4" d="M653 1314l13 4 9-5-13-3z"/>
<path color="#7adbc3" d="M662 1310l13 3 9-4-12-4z"/>
<path color="#77dac2" d="M672 1305l12 4 9-5-12-3z"/>
<path color="#75dac1" d="M681 1301l12 3 9-4-13-4z"/>
<path color="#73d7bf" d="M698 1292l13 4 9-4-13-4zM515 1392l13 5 11-6-13-4zM638 1332l13 4 10-5-13-4z"/>
<path color="#72d5be" d="M707 1288l13 4 8-5-12-3z"/>
<path color="#6dd1ba" d="M733 1276l12 3 9-4-13-3zM693 1304l13 4 9-4-13-4z"/>
<path color="#6acfb8" d="M741 1272l13 3 8-4-13-3z"/>
<path color="#66ccb6" d="M757 1264l13 3 8-4-13-3zM728 1287l13 4 9-4-13-4z"/>
<path color="#64c9b4" d="M765 1260l13 3 8-4-13-3z"/>
<path color="#72d6be" d="M503 1398l14 4 11-5-13-5zM648 1327l13 4 9-5-13-4z"/>
<path color="#74d7bf" d="M526 1387l13 4 11-5-14-4zM628 1336l14 4 9-4-13-4z"/>
<path color="#74d9c0" d="M558 1371l13 4 11-5-14-4zM599 1351l13 4 10-5-13-4z"/>
<path color="#75d9c0" d="M568 1366l14 4 10-5-13-4zM579 1361l13 4 10-5-13-4zM589 1356l13 4 10-5-13-4z"/>
<path color="#71d5be" d="M657 1322l13 4 9-4-13-4z"/>
<path color="#6fd4bc" d="M675 1313l13 4 10-4-14-4z"/>
<path color="#6ed3bb" d="M684 1309l14 4 8-5-13-4z"/>
<path color="#6bd0b9" d="M702 1300l13 4 9-5-13-3z"/>
<path color="#69cfb8" d="M711 1296l13 3 9-4-13-3z"/>
<path color="#69ceb7" d="M720 1292l13 3 8-4-13-4z"/>
<path color="#64cab4" d="M737 1283l13 4 8-4-13-4z"/>
<path color="#63c9b3" d="M745 1279l13 4 8-5-12-3z"/>
<path color="#60c4af" d="M754 1275l12 3 9-4-13-3z"/>
<path color="#5dc0ab" d="M762 1271l13 3 8-4-13-3z"/>
<path color="#59baa5" d="M770 1267l13 3 8-4-13-3z"/>
<path color="#56b5a0" d="M778 1263l13 3 8-4-13-3z"/>
<path class="k" d="M172 1284l1-7"/>
<path class="k" d="M781 1258l-5 4-4 4-1 1-6 5-5 5-6 4-6 5-4 3"/>
<path class="k" d="M198 1293l0-3 1-5 0-3 1-4 0-4 1-4 0-3"/>
<path class="k" d="M763 1253l-6 5-5 4-6 5-6 4-1 2-5 3-6 5-6 4-7 5-6 5-7 5-1 1-6 4-7 5-8 5-7 5-8 5-8 5-8 5-9 5-9 5-7 4"/>
<path class="k" d="M552 1385l-2 1-12 5-13 5-13 5"/>
<path class="k" d="M232 1305l-1-5-1-4 0-3-1-5 0-2 0-7 0-1 0-6 0-1 0-7 0 0 1-7 0 0"/>
<path class="k" d="M743 1248l-5 4-6 5-1 1-5 3-6 5-7 4-6 5-7 5-6 4-4 2-4 3-7 5-7 4-8 5-8 5-8 4-8 5-9 5-9 5-9 5-9 5-10 4-10 5-11 5-11 5-11 4-12 5-13 4-13 5-13 4-4 1-11 3-15 4"/>
<path class="k" d="M286 1323l-3-3-5-6-1-2-3-4-3-7 0 0-3-7-1-2-2-5-1-4-1-2-1-6 0-1-2-7 0 0 0-7 0-1-1-6 0-1 0-6"/>
<path class="k" d="M723 1243l-3 2-3 2-6 4-6 5-7 4-7 4-7 5-7 4-3 2-4 3-8 4-7 5-8 4-9 5-8 4-9 5-9 4-9 5-10 4-10 4-11 5-11 4-11 5-12 4-8 3-5 1-13 4-14 4-15 3-5 2-11 2-17 2-7 1-13 2-14 1-9 0"/>
<path class="k" d="M701 1237l-6 4-7 4-7 4-7 5-7 4-7 4-8 4-8 4-5 3-3 2-8 4-9 4-9 4-10 4-9 5-10 3 0 1-11 4-11 4-12 4-12 3-13 4-12 3-1 1-15 3-16 3-5 1-13 1-15 2-5 0-18 0-7 0-12-1-16-2-14-3-12-4-11-4-9-5-9-5-7-5-1-1-5-5-6-6-1-1-4-5-3-5-1-1-3-6-2-2-1-4-2-5-1-2-2-6 0 0-2-6 0-2-1-5 0-2-1-4"/>
<path class="k" d="M678 1231l-7 4-8 4-7 4-8 4-8 4-8 3-8 4-9 4-9 4-9 4-10 4-11 4-10 3-12 4-4 1-8 2-12 4-14 3-11 2-4 1-16 2-10 1-9 1-14 0-9 0-10 0-17-2-9-1-5-1-12-4-11-4-4-2-5-2-8-5-8-5-3-3-3-2-6-5-2-3-2-3-5-6 0-1-3-4-2-4-1-2-2-6-1 0-2-6 0-1-1-6"/>
<path class="k" d="M651 1224l-8 4-7 3-9 4-8 4-9 3-9 4-10 3-10 4-11 3-11 3-12 4-3 0-10 2-14 3-11 2-5 0-17 2-4 0-18 0-2 0-17-1-14-2-5-1-8-2-10-3-3-1-7-3-8-4-7-5-4-3-3-2-5-5-3-3-2-2-4-6-1-1-3-4-2-3-1-3-2-5-1 0"/>
<path class="k" d="M620 1216l-8 3-5 2-5 1-9 4-10 3-11 3-12 3-11 2-1 0-14 3-15 2-1 0-16 1-6 0-17 0-1 0-15-1-13-3-11-3-10-3-9-4-7-4-1-1-5-4-6-5-1-1-4-3-4-5 0 0-4-6"/>
<path class="k" d="M581 1206l-11 2-10 2-2 1-14 2-12 1-3 0-17 1-2 0-15-1-14-1-6-2-5-1-10-3-1 0-8-3-8-4-7-4-2-1-4-3-5-5"/>
</g>
<line x1="40.4" y1="320.1" x2="129.3" y2="350.7" stroke="#555" stroke-width="0.7"/>
<line x1="129.3" y1="350.7" x2="199.5" y2="315.5" stroke="#555" stroke-width="0.7"/>
<g class="s" transform="scale(.25)">
<path color="#9d4e1a" d="M454 893l10 0 9-4-10-1z"/>
<path color="#9a4d1a" d="M464 893l11 1 9-4-11-1z"/>
<path color="#a3521b" d="M445 897l10 1 9-5-10 0z"/>
<path color="#994d19" d="M475 894l10 2 9-4-10-2z"/>
<path color="#a1511a" d="M455 898l11 0 9-4-11-1z"/>
<path color="#ab561b" d="M436 902l10 0 9-4-10-1z"/>
<path color="#994d19" d="M485 896l11 1 9-4-11-1z"/>
<path color="#9f501a" d="M466 898l10 2 9-4-10-2z"/>
<path color="#a8541b" d="M446 902l11 1 9-5-11 0z"/>
<path color="#b25a1c" d="M426 907l11 0 9-5-10 0z"/>
<path color="#9a4d19" d="M496 897l11 2 9-4-11-2z"/>
<path color="#9f501a" d="M476 900l11 1 9-4-11-1z"/>
<path color="#a6531b" d="M457 903l10 1 9-4-10-2z"/>
<path color="#af581c" d="M437 907l10 0 10-4-11-1z"/>
<path color="#ba5e1d" d="M417 912l11 0 9-5-11 0z"/>
<path class="k" d="M431 910l-6-3"/>
<path color="#9b4e1a" d="M507 899l11 3 9-4-11-3z"/>
<path color="#9f501a" d="M487 901l11 2 9-4-11-2z"/>
<path color="#a4531b" d="M467 904l11 1 9-4-11-1z"/>
<path color="#ac571c" d="M447 907l11 1 9-4-10-1z"/>
<path color="#b65c1d" d="M428 912l10 0 9-5-10 0z"/>
<path class="k" d="M435 912l-4-2"/>
<path color="#c1621e" d="M408 917l10-1 10-4-11 0z"/>
<path color="#9e4f1a" d="M518 902l11 2 9-3-11-3z"/>
<path color="#a0501a" d="M498 903l11 2 9-3-11-3z"/>
<path color="#a4531b" d="M478 905l11 2 9-4-11-2z"/>
<path color="#ab561b" d="M458 908l11 1 9-4-11-1z"/>
<path color="#b35a1c" d="M438 912l11 1 9-5-11-1z"/>
<path color="#bd601e" d="M418 916l11 1 9-5-10 0z"/>
<path class="k" d="M437 913l-2-1"/>
<path color="#c76620" d="M398 922l11 0 9-6-10 1z"/>
<path color="#a2511a" d="M529 904l11 3 9-3-11-3z"/>
<path color="#a2511a" d="M509 905l11 3 9-4-11-2z"/>
<path color="#a5531b" d="M489 907l11 2 9-4-11-2z"/>
<path color="#aa561b" d="M469 909l11 2 9-4-11-2z"/>
<path color="#b1591c" d="M449 913l11 1 9-5-11-1z"/>
<path color="#ba5e1d" d="M429 917l10 0 10-4-11-1z"/>
<path class="k" d="M444 915l-7-2"/>
<path color="#c4641f" d="M409 922l10 0 10-5-11-1z"/>
<path color="#cd6a21" d="M389 927l10 0 10-5-11 0z"/>
<path color="#a6541b" d="M540 907l11 4 9-3-11-4z"/>
<path color="#a6531b" d="M520 908l11 3 9-4-11-3z"/>
<path color="#a7541b" d="M500 909l11 2 9-3-11-3z"/>
<path color="#aa561b" d="M480 911l11 2 9-4-11-2z"/>
<path color="#b0591c" d="M460 914l10 1 10-4-11-2z"/>
<path color="#b85d1d" d="M439 917l11 1 10-4-11-1z"/>
<path class="k" d="M452 917l-8-2"/>
<path color="#ac561c" d="M551 911l11 4 9-3-11-4z"/>
<path color="#c1621e" d="M419 922l11 0 9-5-10 0z"/>
<path color="#ca6720" d="M399 927l11 0 9-5-10 0z"/>
<path color="#d36e23" d="M379 933l10-1 10-5-10 0z"/>
<path class="k" d="M390 932l-4-3"/>
<path color="#aa551b" d="M531 911l11 3 9-3-11-4z"/>
<path color="#aa551b" d="M511 911l11 3 9-3-11-3z"/>
<path color="#ac561c" d="M491 913l11 2 9-4-11-2z"/>
<path color="#b0591c" d="M470 915l11 2 10-4-11-2z"/>
<path color="#b25a1c" d="M562 915l11 4 9-3-11-4z"/>
<path color="#b65c1d" d="M450 918l11 1 9-4-10-1z"/>
<path class="k" d="M460 919l-8-2"/>
<path color="#bf601e" d="M430 922l11 1 9-5-11-1z"/>
<path color="#c66520" d="M410 927l10 0 10-5-11 0z"/>
<path color="#af581c" d="M542 914l11 4 9-3-11-4z"/>
<path color="#cf6b22" d="M389 932l11 0 10-5-11 0z"/>
<path class="k" d="M390 932l0 0"/>
<path color="#da7224" d="M369 938l11 0 9-6-10 1z"/>
<path color="#ad571c" d="M522 914l11 4 9-4-11-3z"/>
<path color="#ae581c" d="M502 915l11 3 9-4-11-3z"/>
<path color="#ba5e1d" d="M573 919l12 5 9-3-12-5z"/>
<path class="k" d="M588 919l-12 1"/>
<path color="#b1591c" d="M481 917l11 2 10-4-11-2z"/>
<path color="#b65c1d" d="M461 919l11 2 9-4-11-2z"/>
<path color="#b55b1d" d="M553 918l12 4 8-3-11-4z"/>
<path class="k" d="M566 922l-2 0"/>
<path color="#bd5f1e" d="M441 923l11 1 9-5-11-1z"/>
<path class="k" d="M461 920l-1-1"/>
<path color="#c4641f" d="M420 927l11 1 10-5-11-1z"/>
<path color="#cc6921" d="M400 932l11 0 9-5-10 0z"/>
<path color="#d67023" d="M380 938l10-1 10-5-11 0z"/>
<path class="k" d="M395 935l-5-3"/>
<path color="#e17726" d="M359 944l11-1 10-5-11 0z"/>
<path color="#b25a1c" d="M533 918l11 3 9-3-11-4z"/>
<path color="#b1591c" d="M513 918l11 3 9-3-11-4z"/>
<path color="#c2621e" d="M585 924l11 5 9-2-11-6z"/>
<path color="#b35a1c" d="M492 919l11 3 10-4-11-3z"/>
<path color="#b65c1d" d="M472 921l11 2 9-4-11-2z"/>
<path class="k" d="M484 923l-7-1"/>
<path color="#bc5f1e" d="M565 922l11 5 9-3-12-5z"/>
<path class="k" d="M576 920l-10 2"/>
<path color="#bc5f1e" d="M452 924l11 2 9-5-11-2z"/>
<path class="k" d="M471 921l-10-1"/>
<path color="#c3631f" d="M431 928l11 1 10-5-11-1z"/>
<path color="#b85d1d" d="M544 921l12 4 9-3-12-4z"/>
<path class="k" d="M564 922l-15 1"/>
<path color="#c96720" d="M411 932l11 1 9-5-11-1z"/>
<path color="#d26d22" d="M390 937l11 0 10-5-11 0z"/>
<path class="k" d="M398 937l-3-2"/>
<path color="#dc7425" d="M370 943l10 0 10-6-10 1z"/>
<path color="#e77c28" d="M349 950l11-1 10-6-11 1z"/>
<path class="k" d="M350 950l0 0"/>
<path color="#b65c1d" d="M524 921l11 4 9-4-11-3z"/>
<path class="k" d="M537 924l-4 0"/>
<path color="#c86720" d="M596 929l12 6 8-3-11-5z"/>
<path color="#b65c1d" d="M503 922l12 3 9-4-11-3z"/>
<path class="k" d="M516 924l-3 0"/>
<path color="#c3631f" d="M576 927l11 5 9-3-11-5z"/>
<path color="#b85d1d" d="M483 923l11 3 9-4-11-3z"/>
<path class="k" d="M498 924l-14-1"/>
<path color="#bc5f1e" d="M463 926l11 1 9-4-11-2z"/>
<path class="k" d="M477 922l-6-1"/>
<path color="#be601e" d="M556 925l11 5 9-3-11-5z"/>
<path color="#c2621e" d="M442 929l11 1 10-4-11-2z"/>
<path color="#c86620" d="M422 933l10 0 10-4-11-1z"/>
<path color="#d06c22" d="M608 935l11 6 9-3-12-6z"/>
<path color="#cf6b22" d="M401 937l11 1 10-5-11-1z"/>
<path color="#bb5e1d" d="M535 925l11 4 10-4-12-4z"/>
<path class="k" d="M549 923l-12 1"/>
<path color="#d87124" d="M380 943l11 0 10-6-11 0z"/>
<path class="k" d="M400 938l-2-1"/>
<path color="#ea8838" d="M339 956l11-1 10-6-11 1z"/>
<path class="k" d="M353 953l-3-3"/>
<path color="#e27827" d="M360 949l10-1 10-5-10 0z"/>
<path color="#b95e1d" d="M515 925l11 3 9-3-11-4z"/>
<path class="k" d="M533 924l-17 0"/>
<path color="#c96720" d="M587 932l12 5 9-2-12-6z"/>
<path color="#ba5e1d" d="M494 926l11 3 10-4-12-3z"/>
<path class="k" d="M513 924l-15 0"/>
<path color="#c4641f" d="M567 930l11 5 9-3-11-5z"/>
<path color="#bd5f1e" d="M474 927l11 3 9-4-11-3z"/>
<path color="#c1621e" d="M453 930l11 2 10-5-11-1z"/>
<path color="#d87124" d="M619 941l12 6 9-2-12-7z"/>
<path class="k" d="M629 939l-9 2"/>
<path color="#c1611e" d="M546 929l12 4 9-3-11-5z"/>
<path color="#c66520" d="M432 933l11 2 10-5-11-1z"/>
<path color="#cd6a21" d="M412 938l11 0 9-5-10 0z"/>
<path color="#d56f23" d="M391 943l11 0 10-5-11-1z"/>
<path class="k" d="M406 941l-6-3"/>
<path color="#de7526" d="M370 948l11 0 10-5-11 0z"/>
<path color="#ed954a" d="M329 962l11-1 10-6-11 1z"/>
<path color="#e87e2b" d="M350 955l10-1 10-6-10 1z"/>
<path class="k" d="M354 955l-1-2"/>
<path color="#d06c22" d="M599 937l12 6 8-2-11-6z"/>
<path class="k" d="M615 942l-5 1"/>
<path color="#be601e" d="M526 928l11 4 9-3-11-4z"/>
<path color="#be601e" d="M505 929l12 3 9-4-11-3z"/>
<path color="#ca6821" d="M578 935l12 5 9-3-12-5z"/>
<path color="#bf601e" d="M485 930l11 3 9-4-11-3z"/>
<path color="#e17726" d="M631 947l12 7 8-2-11-7z"/>
<path color="#c2621e" d="M464 932l11 2 10-4-11-3z"/>
<path color="#c6651f" d="M558 933l11 5 9-3-11-5z"/>
<path color="#c6651f" d="M443 935l11 1 10-4-11-2z"/>
<path color="#d87124" d="M611 943l11 6 9-2-12-6z"/>
<path class="k" d="M620 941l-5 1"/>
<path color="#cb6921" d="M423 938l11 1 9-4-11-2z"/>
<path color="#c3631f" d="M537 932l12 4 9-3-12-4z"/>
<path color="#d26d23" d="M402 943l11 0 10-5-11 0z"/>
<path class="k" d="M411 943l-5-2"/>
<path color="#db7325" d="M381 948l11 0 10-5-11 0z"/>
<path color="#efa35c" d="M319 969l10-2 11-6-11 1z"/>
<path color="#e57a27" d="M360 954l11 0 10-6-11 0z"/>
<path color="#eb8b3c" d="M340 961l10-1 10-6-10 1z"/>
<path class="k" d="M356 957l-2-2"/>
<path color="#c1621e" d="M517 932l11 4 9-4-11-4z"/>
<path color="#d16d22" d="M590 940l12 6 9-3-12-6z"/>
<path class="k" d="M610 943l-10 2"/>
<path color="#e9802d" d="M643 954l11 7 9-2-12-7z"/>
<path class="k" d="M660 957l-7 3"/>
<path color="#c1621e" d="M496 933l11 3 10-4-12-3z"/>
<path color="#cc6921" d="M569 938l12 5 9-3-12-5z"/>
<path color="#c3631f" d="M475 934l12 3 9-4-11-3z"/>
<path color="#e17726" d="M622 949l12 7 9-2-12-7z"/>
<path color="#c6651f" d="M454 936l12 2 9-4-11-2z"/>
<path color="#c86620" d="M549 936l11 5 9-3-11-5z"/>
<path color="#ca6821" d="M434 939l11 2 9-5-11-1z"/>
<path color="#d06c22" d="M413 943l11 1 10-5-11-1z"/>
<path color="#d97224" d="M602 946l11 6 9-3-11-6z"/>
<path color="#d87124" d="M392 948l11 1 10-6-11 0z"/>
<path class="k" d="M412 944l-1-1"/>
<path color="#ec9346" d="M654 961l12 8 9-2-12-8z"/>
<path color="#c5641f" d="M528 936l12 4 9-4-12-4z"/>
<path color="#f2b16f" d="M309 975l10-1 10-7-10 2z"/>
<path class="k" d="M318 974l-2-3"/>
<path color="#e17726" d="M371 954l11 0 10-6-11 0z"/>
<path color="#ed984e" d="M329 967l11-1 10-6-10 1z"/>
<path color="#e98230" d="M350 960l11 0 10-6-11 0z"/>
<path class="k" d="M359 960l-3-3"/>
<path color="#c4641f" d="M507 936l12 3 9-3-11-4z"/>
<path color="#d26d23" d="M581 943l12 5 9-2-12-6z"/>
<path class="k" d="M600 945l-11 2"/>
<path color="#e97f2c" d="M634 956l12 7 8-2-11-7z"/>
<path class="k" d="M653 960l-9 2"/>
<path color="#c5641f" d="M487 937l11 3 9-4-11-3z"/>
<path color="#cd6a21" d="M560 941l12 5 9-3-12-5z"/>
<path color="#c76520" d="M466 938l11 3 10-4-12-3z"/>
<path color="#f0a761" d="M666 969l12 8 9-2-12-8z"/>
<path color="#ca6821" d="M445 941l11 2 10-5-12-2z"/>
<path color="#e17726" d="M613 952l12 6 9-2-12-7z"/>
<path color="#ca6720" d="M540 940l11 4 9-3-11-5z"/>
<path color="#cf6b22" d="M424 944l11 2 10-5-11-2z"/>
<path color="#d67023" d="M403 949l11 1 10-6-11-1z"/>
<path class="k" d="M420 946l-8-2"/>
<path color="#de7525" d="M382 954l11 0 10-5-11-1z"/>
<path color="#f3c38d" d="M298 982l11-2 10-6-10 1z"/>
<path class="k" d="M318 975l0-1"/>
<path color="#e77b28" d="M361 960l11-1 10-5-11 0z"/>
<path color="#efa660" d="M319 974l11-1 10-7-11 1z"/>
<path color="#eb8f41" d="M340 966l11 0 10-6-11 0z"/>
<path class="k" d="M360 960l-1 0"/>
<path color="#d97224" d="M593 948l11 6 9-2-11-6z"/>
<path color="#c86620" d="M519 939l11 4 10-3-12-4z"/>
<path color="#ec9145" d="M646 963l12 8 8-2-12-8z"/>
<path color="#c76620" d="M498 940l11 3 10-4-12-3z"/>
<path color="#d36e23" d="M572 946l12 5 9-3-12-5z"/>
<path class="k" d="M589 947l-11 2"/>
<path color="#f3be85" d="M678 977l12 8 9-1-12-9z"/>
<path class="k" d="M688 976l-8 2"/>
<path color="#c86620" d="M477 941l11 3 10-4-11-3z"/>
<path color="#e97f2c" d="M625 958l12 7 9-2-12-7z"/>
<path class="k" d="M644 962l-8 3"/>
<path color="#cb6821" d="M456 943l11 2 10-4-11-3z"/>
<path color="#cf6b22" d="M551 944l12 5 9-3-12-5z"/>
<path color="#cf6b22" d="M435 946l11 2 10-5-11-2z"/>
<path color="#e17726" d="M604 954l12 7 9-3-12-6z"/>
<path color="#efa55f" d="M658 971l12 8 8-2-12-8z"/>
<path color="#d46f23" d="M414 950l11 1 10-5-11-2z"/>
<path class="k" d="M429 949l-9-3"/>
<path color="#cc6921" d="M530 943l12 4 9-3-11-4z"/>
<path color="#db7325" d="M393 954l11 1 10-5-11-1z"/>
<path color="#f5d5ad" d="M288 989l10-2 11-7-11 2z"/>
<path color="#e37927" d="M372 959l11 1 10-6-11 0z"/>
<path color="#f2b473" d="M309 980l10-1 11-6-11 1z"/>
<path class="k" d="M320 979l-2-4"/>
<path color="#ea8636" d="M351 966l11-1 10-6-11 1z"/>
<path class="k" d="M364 964l-4-4"/>
<path color="#ee9c52" d="M330 973l10-1 11-6-11 0z"/>
<path color="#f5dab6" d="M690 985l12 9 9-1-12-9z"/>
<path color="#ca6821" d="M509 943l12 4 9-4-11-4z"/>
<path color="#da7325" d="M584 951l11 6 9-3-11-6z"/>
<path color="#ec9144" d="M637 965l12 8 9-2-12-8z"/>
<path color="#ca6821" d="M488 944l12 3 9-4-11-3z"/>
<path color="#d56f23" d="M563 949l12 5 9-3-12-5z"/>
<path class="k" d="M578 949l-12 1"/>
<path color="#cc6921" d="M467 945l12 3 9-4-11-3z"/>
<path color="#f3bb80" d="M670 979l12 8 8-2-12-8z"/>
<path class="k" d="M680 978l-7 3"/>
<path color="#e97f2c" d="M616 961l12 7 9-3-12-7z"/>
<path class="k" d="M636 965l-9 2"/>
<path color="#cf6b22" d="M446 948l11 2 10-5-11-2z"/>
<path color="#d16c22" d="M542 947l12 5 9-3-12-5z"/>
<path class="k" d="M554 952l-1 0"/>
<path color="#d36e23" d="M425 951l11 1 10-4-11-2z"/>
<path class="k" d="M439 951l-10-2"/>
<path color="#f7efe0" d="M702 994l13 9 8-1-12-9z"/>
<path class="k" d="M712 993l-7 3"/>
<path color="#d97224" d="M404 955l11 1 10-5-11-1z"/>
<path color="#e27826" d="M595 957l12 6 9-2-12-7z"/>
<path color="#f6e5cb" d="M277 996l11-2 10-7-10 2z"/>
<path class="k" d="M285 995l-1-3"/>
<path color="#e17726" d="M383 960l11 0 10-5-11-1z"/>
<path color="#efa45d" d="M649 973l12 8 9-2-12-8z"/>
<path color="#ce6b22" d="M521 947l11 4 10-4-12-4z"/>
<path color="#f3c591" d="M298 987l11-1 10-7-10 1z"/>
<path color="#e97f2c" d="M362 965l11 0 10-5-11-1z"/>
<path class="k" d="M366 965l-2-1"/>
<path color="#f0a964" d="M319 979l11-1 10-6-10 1z"/>
<path class="k" d="M320 979l0 0"/>
<path color="#ec9346" d="M340 972l11-1 11-6-11 1z"/>
<path color="#cd6a21" d="M500 947l11 4 10-4-12-4z"/>
<path color="#db7325" d="M575 954l11 6 9-3-11-6z"/>
<path color="#f5d7b0" d="M682 987l12 9 8-2-12-9z"/>
<path color="#ec9043" d="M628 968l12 7 9-2-12-8z"/>
<path color="#ce6a21" d="M479 948l11 3 10-4-12-3z"/>
<path color="#d8f2e8" d="M715 1003l12 10 8-1-12-10z"/>
<path class="k" d="M734 1011l-3 2"/>
<path color="#d67024" d="M554 952l11 5 10-3-12-5z"/>
<path class="k" d="M566 950l-12 2"/>
<path color="#d06c22" d="M457 950l12 2 10-4-12-3z"/>
<path color="#f2b97c" d="M661 981l12 8 9-2-12-8z"/>
<path class="k" d="M673 981l-8 2"/>
<path color="#d36e23" d="M436 952l12 2 9-4-11-2z"/>
<path class="k" d="M451 953l-12-2"/>
<path color="#e97f2c" d="M607 963l12 7 9-2-12-7z"/>
<path class="k" d="M627 967l-9 2"/>
<path color="#d36e23" d="M532 951l12 5 10-4-12-5z"/>
<path class="k" d="M553 952l-14 2"/>
<path color="#d87124" d="M415 956l11 1 10-5-11-1z"/>
<path color="#df7626" d="M394 960l11 1 10-5-11-1z"/>
<path color="#f7f0e4" d="M266 1003l11-2 11-7-11 2z"/>
<path class="k" d="M285 996l0-1"/>
<path color="#f7ecda" d="M694 996l12 9 9-2-13-9z"/>
<path class="k" d="M705 996l-7 3"/>
<path color="#e67b28" d="M373 965l11 1 10-6-11 0z"/>
<path color="#f5d7b1" d="M288 994l10-1 11-7-11 1z"/>
<path color="#eb8b3c" d="M351 971l11 0 11-6-11 0z"/>
<path class="k" d="M369 967l-3-2"/>
<path color="#f2b779" d="M309 986l11-1 10-7-11 1z"/>
<path class="k" d="M323 983l-3-4"/>
<path color="#ee9f57" d="M330 978l11-1 10-6-11 1z"/>
<path color="#e27827" d="M586 960l12 6 9-3-12-6z"/>
<path color="#d16c22" d="M511 951l12 4 9-4-11-4z"/>
<path color="#efa35c" d="M640 975l12 8 9-2-12-8z"/>
<path color="#a5ead9" d="M727 1013l12 11 8-2-12-10z"/>
<path class="k" d="M731 1013l-3 1"/>
<path color="#d06c22" d="M490 951l12 4 9-4-11-4z"/>
<path color="#dc7425" d="M565 957l12 6 9-3-11-6z"/>
<path color="#f5d3aa" d="M673 989l12 8 9-1-12-9z"/>
<path color="#d16d22" d="M469 952l11 3 10-4-11-3z"/>
<path color="#ec9043" d="M619 970l12 7 9-2-12-7z"/>
<path color="#d46e23" d="M448 954l11 3 10-5-12-2z"/>
<path class="k" d="M464 954l-13-1"/>
<path color="#d87124" d="M544 956l12 5 9-4-11-5z"/>
<path color="#e0f3ea" d="M706 1005l12 10 9-2-12-10z"/>
<path color="#d87124" d="M426 957l12 2 10-5-12-2z"/>
<path color="#85e0c9" d="M739 1024l12 10 9-1-13-11z"/>
<path class="k" d="M754 1029l-5 3"/>
<path color="#e9802e" d="M598 966l12 7 9-3-12-7z"/>
<path class="k" d="M618 969l-10 2"/>
<path color="#f2b778" d="M652 983l12 8 9-2-12-8z"/>
<path class="k" d="M665 983l-8 3"/>
<path color="#dd7525" d="M405 961l11 1 10-5-11-1z"/>
<path color="#d56f23" d="M523 955l12 4 9-3-12-5z"/>
<path class="k" d="M539 954l-16 1"/>
<path color="#e7f4ec" d="M256 1011l10-2 11-8-11 2z"/>
<path color="#e47927" d="M384 966l11 1 10-6-11-1z"/>
<path color="#f6e6ce" d="M277 1001l11-2 10-6-10 1z"/>
<path class="k" d="M286 1000l-1-4"/>
<path color="#ea8433" d="M362 971l11 0 11-5-11-1z"/>
<path class="k" d="M375 971l-6-4"/>
<path color="#f4c897" d="M298 993l11-2 11-6-11 1z"/>
<path color="#ed974c" d="M341 977l11 0 10-6-11 0z"/>
<path color="#f1ac69" d="M320 985l10-1 11-7-11 1z"/>
<path class="k" d="M324 984l-1-1"/>
<path color="#f6ead5" d="M685 997l13 10 8-2-12-9z"/>
<path class="k" d="M698 999l-7 3"/>
<path color="#d36e23" d="M502 955l11 3 10-3-12-4z"/>
<path class="k" d="M522 955l-17 1"/>
<path color="#e37927" d="M577 963l12 6 9-3-12-6z"/>
<path color="#efa25b" d="M631 977l12 8 9-2-12-8z"/>
<path color="#abecdb" d="M718 1015l13 10 8-1-12-11z"/>
<path class="k" d="M728 1014l-7 3"/>
<path color="#d36e23" d="M480 955l12 4 10-4-12-4z"/>
<path class="k" d="M499 956l-18 0"/>
<path color="#de7525" d="M556 961l12 5 9-3-12-6z"/>
<path color="#64d5b9" d="M751 1034l13 11 8-1-12-11z"/>
<path color="#d56f23" d="M459 957l12 3 9-5-11-3z"/>
<path class="k" d="M480 955l-16-1"/>
<path color="#f4d1a6" d="M664 991l13 8 8-2-12-8z"/>
<path color="#ec9043" d="M610 973l12 7 9-3-12-7z"/>
<path color="#d87124" d="M438 959l11 3 10-5-11-3z"/>
<path color="#da7224" d="M535 959l12 5 9-3-12-5z"/>
<path color="#dc7425" d="M416 962l12 2 10-5-12-2z"/>
<path color="#e8f4ec" d="M698 1007l12 9 8-1-12-10z"/>
<path color="#c5f0e2" d="M245 1018l10-2 11-7-10 2z"/>
<path class="k" d="M253 1017l0-4"/>
<path color="#e27827" d="M395 967l11 1 10-6-11-1z"/>
<path color="#e9812f" d="M589 969l12 6 9-2-12-7z"/>
<path class="k" d="M608 971l-10 3"/>
<path color="#f7f1e6" d="M266 1009l11-2 11-8-11 2z"/>
<path class="k" d="M286 1001l0-1"/>
<path color="#f2b575" d="M643 985l13 8 8-2-12-8z"/>
<path class="k" d="M657 986l-8 3"/>
<path color="#e97f2c" d="M373 971l11 1 11-5-11-1z"/>
<path class="k" d="M377 972l-2-1"/>
<path color="#d77124" d="M513 958l12 5 10-4-12-4z"/>
<path class="k" d="M523 955l-1 0"/>
<path color="#8be2cc" d="M731 1025l12 10 8-1-12-10z"/>
<path class="k" d="M749 1032l-6 3"/>
<path color="#f5dab6" d="M288 999l10-1 11-7-11 2z"/>
<path color="#ec9043" d="M352 977l11 0 10-6-11 0z"/>
<path color="#f3bb80" d="M309 991l11-1 10-6-10 1z"/>
<path class="k" d="M326 987l-2-3"/>
<path color="#efa45d" d="M330 984l11-1 11-6-11 0z"/>
<path color="#55cbb0" d="M764 1045l12 12 8-1-12-12z"/>
<path class="k" d="M774 1046l-6 3"/>
<path color="#d67024" d="M492 959l12 3 9-4-11-3z"/>
<path class="k" d="M505 956l-6 0"/>
<path color="#e47a27" d="M568 966l12 6 9-3-12-6z"/>
<path color="#f6e8d1" d="M677 999l12 9 9-1-13-10z"/>
<path class="k" d="M691 1002l-7 3"/>
<path color="#efa15a" d="M622 980l12 7 9-2-12-8z"/>
<path color="#d77024" d="M471 960l11 3 10-4-12-4z"/>
<path class="k" d="M481 956l-1-1"/>
<path color="#b4edde" d="M710 1016l12 10 9-1-13-10z"/>
<path class="k" d="M721 1017l-6 3"/>
<path color="#df7626" d="M547 964l11 5 10-3-12-5z"/>
<path color="#d97224" d="M449 962l12 2 10-4-12-3z"/>
<path color="#6ad8bc" d="M743 1035l13 11 8-1-13-11z"/>
<path color="#f4cea1" d="M656 993l12 8 9-2-13-8z"/>
<path color="#dc7425" d="M428 964l11 2 10-4-11-3z"/>
<path color="#49c0a7" d="M776 1057l13 12 8-1-13-12z"/>
<path class="k" d="M792 1064l-5 3"/>
<path color="#ec9144" d="M601 975l12 7 9-2-12-7z"/>
<path color="#dc7425" d="M525 963l12 5 10-4-12-5z"/>
<path color="#e17726" d="M406 968l11 1 11-5-12-2z"/>
<path color="#a6ebd9" d="M234 1026l10-2 11-8-10 2z"/>
<path class="k" d="M253 1018l0-1"/>
<path color="#e87c28" d="M384 972l12 1 10-5-11-1z"/>
<path color="#e4f4eb" d="M255 1016l11-2 11-7-11 2z"/>
<path color="#eff5ee" d="M689 1008l12 10 9-2-12-9z"/>
<path color="#eb8a3b" d="M363 977l11 1 10-6-11-1z"/>
<path class="k" d="M382 974l-5-2"/>
<path color="#f6e8d1" d="M277 1007l10-2 11-7-10 1z"/>
<path class="k" d="M287 1005l-1-4"/>
<path color="#ee9c53" d="M341 983l11 0 11-6-11 0z"/>
<path color="#f4cc9e" d="M298 998l11-1 11-7-11 1z"/>
<path color="#f1b06e" d="M320 990l11 0 10-7-11 1z"/>
<path class="k" d="M329 990l-3-3"/>
<path color="#e98331" d="M580 972l12 6 9-3-12-6z"/>
<path class="k" d="M598 974l-11 2"/>
<path color="#da7224" d="M504 962l11 5 10-4-12-5z"/>
<path color="#f2b473" d="M634 987l13 8 9-2-13-8z"/>
<path class="k" d="M649 989l-8 2"/>
<path color="#91e4cf" d="M722 1026l13 11 8-2-12-10z"/>
<path class="k" d="M743 1035l-1 1"/>
<path color="#d97224" d="M482 963l12 4 10-5-12-3z"/>
<path color="#57cdb1" d="M756 1046l12 12 8-1-12-12z"/>
<path class="k" d="M768 1049l-6 4"/>
<path color="#38a88f" d="M789 1069l12 13 8-1-12-13z"/>
<path color="#e67a27" d="M558 969l12 6 10-3-12-6z"/>
<path color="#f6e6cd" d="M668 1001l12 9 9-2-12-9z"/>
<path class="k" d="M684 1005l-7 3"/>
<path color="#da7325" d="M461 964l11 3 10-4-11-3z"/>
<path color="#efa15a" d="M613 982l12 8 9-3-12-7z"/>
<path color="#dd7425" d="M439 966l12 3 10-5-12-2z"/>
<path color="#e17726" d="M537 968l12 5 9-4-11-5z"/>
<path color="#bceee0" d="M701 1018l13 10 8-2-12-10z"/>
<path class="k" d="M715 1020l-7 3"/>
<path color="#e17726" d="M417 969l12 2 10-5-11-2z"/>
<path color="#92e4d0" d="M223 1034l10-3 11-7-10 2z"/>
<path class="k" d="M223 1034l0 0"/>
<path color="#71dabf" d="M735 1037l12 11 9-2-13-11z"/>
<path class="k" d="M742 1036l-6 2"/>
<path color="#ec9245" d="M592 978l12 7 9-3-12-7z"/>
<path color="#f4cd9e" d="M647 995l12 8 9-2-12-8z"/>
<path color="#e67b28" d="M396 973l11 2 10-6-11-1z"/>
<path color="#de7526" d="M515 967l12 4 10-3-12-5z"/>
<path color="#c3efe2" d="M244 1024l11-3 11-7-11 2z"/>
<path class="k" d="M253 1022l0-4"/>
<path color="#4bc3a9" d="M768 1058l13 12 8-1-13-12z"/>
<path class="k" d="M787 1067l-4 3"/>
<path color="#ea8635" d="M374 978l11 1 11-6-12-1z"/>
<path class="k" d="M389 977l-7-3"/>
<path color="#f7f3e9" d="M266 1014l10-2 11-7-10 2z"/>
<path color="#ed964a" d="M352 983l11 1 11-6-11-1z"/>
<path color="#f6debd" d="M287 1005l11-1 11-7-11 1z"/>
<path class="k" d="M288 1005l-1 0"/>
<path color="#f0a863" d="M331 990l11 0 10-7-11 0z"/>
<path color="#f3c088" d="M309 997l11-1 11-6-11 0z"/>
<path class="k" d="M329 991l0-1"/>
<path color="#f5f6f0" d="M680 1010l13 10 8-2-12-10z"/>
<path color="#dd7425" d="M494 967l12 4 9-4-11-5z"/>
<path color="#ea8534" d="M570 975l13 6 9-3-12-6z"/>
<path class="k" d="M587 976l-11 2"/>
<path color="#f2b372" d="M625 990l13 7 9-2-13-8z"/>
<path class="k" d="M641 991l-9 3"/>
<path color="#96e6d1" d="M714 1028l12 10 9-1-13-11z"/>
<path color="#dd7425" d="M472 967l12 4 10-4-12-4z"/>
<path color="#5acfb3" d="M747 1048l13 11 8-1-12-12z"/>
<path class="k" d="M762 1053l-5 3"/>
<path color="#e77b28" d="M549 973l12 5 9-3-12-6z"/>
<path color="#de7526" d="M451 969l11 3 10-5-11-3z"/>
<path color="#3cae95" d="M781 1070l12 12 8 0-12-13z"/>
<path class="k" d="M783 1070l-2 1"/>
<path color="#f6e5ca" d="M659 1003l12 9 9-2-12-9z"/>
<path class="k" d="M677 1008l-8 3"/>
<path color="#efa25b" d="M604 985l12 7 9-2-12-8z"/>
<path color="#e17726" d="M429 971l11 3 11-5-12-3z"/>
<path color="#e37927" d="M527 971l12 5 10-3-12-5z"/>
<path color="#7fdec6" d="M211 1042l11-3 11-8-10 3z"/>
<path class="k" d="M222 1039l1-5"/>
<path color="#e67a27" d="M407 975l12 2 10-6-12-2z"/>
<path color="#c3efe2" d="M693 1020l12 9 9-1-13-10z"/>
<path class="k" d="M708 1023l-7 3"/>
<path color="#a5ead9" d="M233 1031l11-2 11-8-11 3z"/>
<path class="k" d="M253 1022l0 0"/>
<path color="#e98331" d="M385 979l12 1 10-5-11-2z"/>
<path class="k" d="M398 980l-9-3"/>
<path color="#ec9347" d="M583 981l12 7 9-3-12-7z"/>
<path color="#e0f3ea" d="M255 1021l10-1 11-8-10 2z"/>
<path color="#f4cb9c" d="M638 997l12 9 9-3-12-8z"/>
<path color="#ec9144" d="M363 984l12 1 10-6-11-1z"/>
<path color="#e17726" d="M506 971l12 4 9-4-12-4z"/>
<path color="#76dbc2" d="M726 1038l13 11 8-1-12-11z"/>
<path class="k" d="M736 1038l-6 4"/>
<path color="#f6ead5" d="M276 1012l11-1 11-7-11 1z"/>
<path class="k" d="M290 1009l-2-4"/>
<path color="#efa15a" d="M342 990l11 0 10-6-11-1z"/>
<path color="#f4d1a6" d="M298 1004l11-1 11-7-11 1z"/>
<path color="#f2b575" d="M320 996l11 0 11-6-11 0z"/>
<path class="k" d="M334 994l-5-3"/>
<path color="#4ec5ab" d="M760 1059l12 12 9-1-13-12z"/>
<path color="#e07626" d="M484 971l12 4 10-4-12-4z"/>
<path color="#ea8736" d="M561 978l12 7 10-4-13-6z"/>
<path class="k" d="M576 978l-12 2"/>
<path color="#f7f5ed" d="M671 1012l13 9 9-1-13-10z"/>
<path color="#f2b372" d="M616 992l13 8 9-3-13-7z"/>
<path class="k" d="M632 994l-9 3"/>
<path color="#e07726" d="M462 972l12 3 10-4-12-4z"/>
<path color="#9be7d4" d="M705 1029l13 11 8-2-12-10z"/>
<path color="#e87e2a" d="M539 976l12 6 10-4-12-5z"/>
<path color="#e27827" d="M440 974l12 3 10-5-11-3z"/>
<path color="#5cd1b5" d="M739 1049l12 11 9-1-13-11z"/>
<path class="k" d="M757 1056l-6 4"/>
<path color="#f6e3c7" d="M650 1006l12 8 9-2-12-9z"/>
<path class="k" d="M669 1011l-8 2"/>
<path color="#40b59c" d="M772 1071l13 12 8-1-12-12z"/>
<path class="k" d="M781 1071l-5 3"/>
<path color="#e67a27" d="M419 977l11 2 10-5-11-3z"/>
<path color="#efa25c" d="M595 988l12 7 9-3-12-7z"/>
<path color="#6ad8bc" d="M200 1051l11-3 11-9-11 3z"/>
<path color="#e57a27" d="M518 975l12 5 9-4-12-5z"/>
<path color="#e9812f" d="M397 980l11 2 11-5-12-2z"/>
<path class="k" d="M405 981l-7-1"/>
<path color="#92e4cf" d="M222 1039l10-2 12-8-11 2z"/>
<path class="k" d="M222 1039l0 0"/>
<path color="#eb8d3f" d="M375 985l11 1 11-6-12-1z"/>
<path color="#c0efe1" d="M244 1029l10-2 11-7-10 1z"/>
<path class="k" d="M254 1027l-1-5"/>
<path color="#caf0e4" d="M684 1021l12 10 9-2-12-9z"/>
<path class="k" d="M701 1026l-7 3"/>
<path color="#ee9c53" d="M353 990l11 0 11-5-12-1z"/>
<path color="#f7f5ed" d="M265 1020l11-2 11-7-11 1z"/>
<path color="#f1ae6a" d="M331 996l11 0 11-6-11 0z"/>
<path class="k" d="M336 996l-2-2"/>
<path color="#f6e2c4" d="M287 1011l11-1 11-7-11 1z"/>
<path class="k" d="M290 1011l0-2"/>
<path color="#f3c591" d="M309 1003l11 0 11-7-11 0z"/>
<path color="#ec9549" d="M573 985l12 6 10-3-12-7z"/>
<path color="#e37927" d="M496 975l12 4 10-4-12-4z"/>
<path color="#f4ca9a" d="M629 1000l12 8 9-2-12-9z"/>
<path color="#7cddc5" d="M718 1040l12 10 9-1-13-11z"/>
<path class="k" d="M730 1042l-6 3"/>
<path color="#50c7ac" d="M751 1060l13 12 8-1-12-12z"/>
<path color="#e37927" d="M474 975l12 4 10-4-12-4z"/>
<path color="#ea893a" d="M551 982l12 6 10-3-12-7z"/>
<path class="k" d="M564 980l-12 2"/>
<path color="#f7f3e9" d="M662 1014l13 10 9-3-13-9z"/>
<path color="#e47927" d="M452 977l12 3 10-5-12-3z"/>
<path color="#f2b372" d="M607 995l12 8 10-3-13-8z"/>
<path class="k" d="M623 997l-10 2"/>
<path color="#e67b28" d="M430 979l12 2 10-4-12-3z"/>
<path color="#9fe9d6" d="M696 1031l13 10 9-1-13-11z"/>
<path color="#e9812f" d="M530 980l12 5 9-3-12-6z"/>
<path class="k" d="M549 983l-10 1"/>
<path color="#5cd1b5" d="M189 1059l10-3 12-8-11 3z"/>
<path class="k" d="M193 1058l1-2"/>
<path color="#e9802e" d="M408 982l12 2 10-5-11-2z"/>
<path color="#7edec6" d="M211 1048l10-3 11-8-10 2z"/>
<path class="k" d="M222 1045l0-6"/>
<path color="#5ed3b6" d="M730 1050l13 12 8-2-12-11z"/>
<path class="k" d="M751 1060l-2 1"/>
<path color="#f6e2c5" d="M641 1008l12 9 9-3-12-8z"/>
<path class="k" d="M661 1013l-8 3"/>
<path color="#efa45d" d="M585 991l13 7 9-3-12-7z"/>
<path color="#eb8b3b" d="M386 986l12 1 10-5-11-2z"/>
<path class="k" d="M408 982l-3-1"/>
<path color="#44baa1" d="M764 1072l13 12 8-1-13-12z"/>
<path class="k" d="M776 1074l-6 4"/>
<path color="#e87c28" d="M508 979l12 5 10-4-12-5z"/>
<path color="#a4ead8" d="M232 1037l11-2 11-8-10 2z"/>
<path class="k" d="M254 1027l0 0"/>
<path color="#ed984d" d="M364 990l12 2 10-6-11-1z"/>
<path color="#dcf2e9" d="M254 1027l11-2 11-7-11 2z"/>
<path color="#f0a762" d="M342 996l11 1 11-7-11 0z"/>
<path color="#f7ecda" d="M276 1018l11-1 11-7-11 1z"/>
<path class="k" d="M292 1014l-2-3"/>
<path color="#f3bb80" d="M320 1003l11 0 11-7-11 0z"/>
<path class="k" d="M339 998l-3-2"/>
<path color="#f5d6ae" d="M298 1010l11-1 11-6-11 0z"/>
<path color="#d0f1e5" d="M675 1024l12 9 9-2-12-10z"/>
<path class="k" d="M694 1029l-7 4"/>
<path color="#e67b28" d="M486 979l12 4 10-4-12-4z"/>
<path color="#ed974c" d="M563 988l13 6 9-3-12-6z"/>
<path color="#f4ca99" d="M619 1003l13 8 9-3-12-8z"/>
<path color="#81dfc7" d="M709 1041l13 11 8-2-12-10z"/>
<path class="k" d="M724 1045l-7 3"/>
<path color="#e67b28" d="M464 980l12 4 10-5-12-4z"/>
<path color="#53c9ae" d="M743 1062l13 11 8-1-13-12z"/>
<path class="k" d="M749 1061l-4 2"/>
<path color="#eb8c3e" d="M542 985l12 6 9-3-12-6z"/>
<path class="k" d="M552 982l-3 1"/>
<path color="#e87c28" d="M442 981l12 4 10-5-12-3z"/>
<path color="#f7f2e6" d="M653 1017l13 9 9-2-13-10z"/>
<path color="#f2b473" d="M598 998l12 7 9-2-12-8z"/>
<path class="k" d="M613 999l-9 3"/>
<path color="#55cbb0" d="M177 1068l11-3 11-9-10 3z"/>
<path class="k" d="M192 1061l1-3"/>
<path color="#e9812f" d="M420 984l11 3 11-6-12-2z"/>
<path class="k" d="M432 986l-5 0"/>
<path color="#ea8534" d="M520 984l12 5 10-4-12-5z"/>
<path class="k" d="M539 984l-15 2"/>
<path color="#6ad8bc" d="M199 1056l11-3 11-8-10 3z"/>
<path color="#ea893a" d="M398 987l11 2 11-5-12-2z"/>
<path class="k" d="M419 984l-11-2"/>
<path color="#a3ead8" d="M687 1033l13 10 9-2-13-10z"/>
<path color="#91e4cf" d="M221 1045l11-2 11-8-11 2z"/>
<path class="k" d="M222 1045l0 0"/>
<path color="#ec9549" d="M376 992l11 1 11-6-12-1z"/>
<path color="#efa55f" d="M576 994l12 7 10-3-13-7z"/>
<path color="#bceee0" d="M243 1035l11-2 11-8-11 2z"/>
<path class="k" d="M255 1032l-1-5"/>
<path color="#f6e1c3" d="M632 1011l12 8 9-2-12-9z"/>
<path class="k" d="M653 1016l-6 2"/>
<path color="#efa25c" d="M353 997l12 0 11-5-12-2z"/>
<path color="#61d5b8" d="M722 1052l12 11 9-1-13-12z"/>
<path color="#e9802e" d="M498 983l12 5 10-4-12-5z"/>
<path class="k" d="M513 987l-5 0"/>
<path color="#f5f6f0" d="M265 1025l11-1 11-7-11 1z"/>
<path color="#f2b372" d="M331 1003l12 0 10-6-11-1z"/>
<path class="k" d="M345 1002l-6-4"/>
<path color="#f6e5ca" d="M287 1017l11-1 11-7-11 1z"/>
<path class="k" d="M294 1016l-2-2"/>
<path color="#f4cb9c" d="M309 1009l11 0 11-6-11 0z"/>
<path color="#47bfa6" d="M756 1073l12 12 9-1-13-12z"/>
<path class="k" d="M770 1078l-6 3"/>
<path color="#e87e2b" d="M476 984l12 4 10-5-12-4z"/>
<path color="#d5f2e7" d="M666 1026l13 9 8-2-12-9z"/>
<path class="k" d="M687 1033l-4 1"/>
<path color="#ed994f" d="M554 991l12 7 10-4-13-6z"/>
<path color="#f4c999" d="M610 1005l12 8 10-2-13-8z"/>
<path color="#e97f2c" d="M454 985l11 3 11-4-12-4z"/>
<path color="#86e0ca" d="M700 1043l13 11 9-2-13-11z"/>
<path class="k" d="M717 1048l-7 3"/>
<path color="#eb9042" d="M532 989l12 6 10-4-12-6z"/>
<path color="#e98331" d="M431 987l12 2 11-4-12-4z"/>
<path class="k" d="M447 988l-15-2"/>
<path color="#4ec5ab" d="M166 1077l10-4 12-8-11 3z"/>
<path color="#55cbb0" d="M734 1063l13 12 9-2-13-11z"/>
<path class="k" d="M745 1063l-7 4"/>
<path color="#f7f0e4" d="M644 1019l13 9 9-2-13-9z"/>
<path class="k" d="M647 1018l-3 1"/>
<path color="#f2b574" d="M588 1001l12 7 10-3-12-7z"/>
<path class="k" d="M604 1002l-11 2"/>
<path color="#ea8a3a" d="M409 989l12 3 10-5-11-3z"/>
<path class="k" d="M427 986l-8-2"/>
<path color="#5cd1b5" d="M188 1065l10-3 12-9-11 3z"/>
<path class="k" d="M192 1063l0-2"/>
<path color="#ea8939" d="M510 988l12 5 10-4-12-5z"/>
<path class="k" d="M524 986l-11 1"/>
<path color="#ec9347" d="M387 993l12 2 10-6-11-2z"/>
<path color="#7ddec6" d="M210 1053l10-2 12-8-11 2z"/>
<path class="k" d="M222 1050l0-5"/>
<path color="#ee9f57" d="M365 997l11 2 11-6-11-1z"/>
<path color="#a2e9d7" d="M232 1043l10-2 12-8-11 2z"/>
<path color="#a7ebd9" d="M679 1035l12 10 9-2-13-10z"/>
<path class="k" d="M683 1034l-4 2"/>
<path color="#f1ae6b" d="M343 1003l11 1 11-7-12 0z"/>
<path class="k" d="M347 1003l-2-1"/>
<path color="#d6f2e7" d="M254 1033l11-1 11-8-11 1z"/>
<path class="k" d="M255 1033l0-1"/>
<path color="#f3c28c" d="M320 1009l12 0 11-6-12 0z"/>
<path color="#f7efe0" d="M276 1024l11-1 11-7-11 1z"/>
<path class="k" d="M295 1018l-1-2"/>
<path color="#f5dbb8" d="M298 1016l11 0 11-7-11 0z"/>
<path color="#f0a761" d="M566 998l12 6 10-3-12-7z"/>
<path color="#ea8534" d="M488 988l12 4 10-4-12-5z"/>
<path class="k" d="M508 987l-19 1"/>
<path color="#f6e1c1" d="M622 1013l13 9 9-3-12-8z"/>
<path color="#67d6bb" d="M713 1054l13 11 8-2-12-11z"/>
<path color="#49c1a7" d="M747 1075l13 12 8-2-12-12z"/>
<path class="k" d="M764 1081l-6 4"/>
<path color="#e98433" d="M465 988l12 4 11-4-12-4z"/>
<path class="k" d="M486 988l-19 1"/>
<path color="#ee9c52" d="M544 995l12 6 10-3-12-7z"/>
<path color="#daf2e8" d="M657 1028l12 9 10-2-13-9z"/>
<path color="#ea8636" d="M443 989l12 4 10-5-11-3z"/>
<path class="k" d="M465 988l-18 0"/>
<path color="#f4ca99" d="M600 1008l13 8 9-3-12-8z"/>
<path color="#46bea5" d="M154 1086l10-4 12-9-10 4z"/>
<path class="k" d="M163 1083l2-6"/>
<path color="#eb8b3c" d="M421 992l12 3 10-6-12-2z"/>
<path color="#8ae2cc" d="M691 1045l13 10 9-1-13-11z"/>
<path class="k" d="M710 1051l-7 4"/>
<path color="#ec9347" d="M522 993l12 6 10-4-12-6z"/>
<path color="#55cbb0" d="M176 1073l10-3 12-8-10 3z"/>
<path class="k" d="M191 1067l1-4"/>
<path color="#ec9246" d="M399 995l11 2 11-5-12-3z"/>
<path color="#57cdb1" d="M726 1065l12 11 9-1-13-12z"/>
<path class="k" d="M738 1067l-6 3"/>
<path color="#6ad7bc" d="M198 1062l11-3 11-8-10 2z"/>
<path color="#f7f0e2" d="M635 1022l13 8 9-2-13-9z"/>
<path class="k" d="M644 1019l-8 3"/>
<path color="#f2b677" d="M578 1004l13 7 9-3-12-7z"/>
<path class="k" d="M593 1004l-10 3"/>
<path color="#ee9d54" d="M376 999l12 1 11-5-12-2z"/>
<path color="#eb8e40" d="M500 992l12 5 10-4-12-5z"/>
<path color="#8fe3ce" d="M220 1051l11-2 11-8-10 2z"/>
<path class="k" d="M222 1050l0 0"/>
<path color="#f0aa65" d="M354 1004l11 1 11-6-11-2z"/>
<path color="#b7eede" d="M242 1041l11-2 12-7-11 1z"/>
<path class="k" d="M257 1037l-2-4"/>
<path color="#f3bb7f" d="M332 1009l11 1 11-6-11-1z"/>
<path class="k" d="M351 1005l-4-2"/>
<path color="#eef5ee" d="M265 1032l11-1 11-8-11 1z"/>
<path color="#f5d2a7" d="M309 1016l12 0 11-7-12 0z"/>
<path color="#f6e8d1" d="M287 1023l11 0 11-7-11 0z"/>
<path class="k" d="M299 1022l-4-4"/>
<path color="#aaecdb" d="M669 1037l13 10 9-2-12-10z"/>
<path class="k" d="M679 1036l-8 3"/>
<path color="#eb8b3c" d="M477 992l13 4 10-4-12-4z"/>
<path class="k" d="M489 988l-3 0"/>
<path color="#f0a964" d="M556 1001l13 7 9-4-12-6z"/>
<path color="#f6e0c1" d="M613 1016l13 8 9-2-13-9z"/>
<path color="#6cd8bd" d="M704 1055l13 11 9-1-13-11z"/>
<path color="#eb8b3c" d="M455 993l12 4 10-5-12-4z"/>
<path class="k" d="M467 989l-2-1"/>
<path color="#4bc3a9" d="M738 1076l13 12 9-1-13-12z"/>
<path class="k" d="M758 1085l-4 2"/>
<path color="#ee9f56" d="M534 999l12 6 10-4-12-6z"/>
<path color="#eb8e40" d="M433 995l12 3 10-5-12-4z"/>
<path color="#def3e9" d="M648 1030l12 10 9-3-12-9z"/>
<path color="#f4ca9a" d="M591 1011l12 8 10-3-13-8z"/>
<path color="#4ec5ab" d="M164 1082l11-3 11-9-10 3z"/>
<path color="#ec9347" d="M410 997l12 3 11-5-12-3z"/>
<path color="#ed974c" d="M512 997l12 6 10-4-12-6z"/>
<path color="#5cd1b5" d="M186 1070l11-3 12-8-11 3z"/>
<path class="k" d="M191 1069l0-2"/>
<path color="#8ee3cd" d="M682 1047l13 10 9-2-13-10z"/>
<path class="k" d="M703 1055l-3 1"/>
<path color="#ee9c52" d="M388 1000l12 3 10-6-11-2z"/>
<path color="#7cddc5" d="M209 1059l10-2 12-8-11 2z"/>
<path class="k" d="M222 1055l0-5"/>
<path color="#f0a761" d="M365 1005l12 1 11-6-12-1z"/>
<path color="#f2b87a" d="M569 1008l12 7 10-4-13-7z"/>
<path class="k" d="M583 1007l-11 2"/>
<path color="#9fe8d6" d="M231 1049l11-2 11-8-11 2z"/>
<path color="#f7efe0" d="M626 1024l12 9 10-3-13-8z"/>
<path class="k" d="M636 1022l-9 3"/>
<path color="#59ceb2" d="M717 1066l13 12 8-2-12-11z"/>
<path class="k" d="M732 1070l-7 4"/>
<path color="#f2b574" d="M343 1010l12 1 10-6-11-1z"/>
<path class="k" d="M359 1009l-8-4"/>
<path color="#ec9246" d="M490 996l12 5 10-4-12-5z"/>
<path color="#d0f1e5" d="M253 1039l11-1 12-7-11 1z"/>
<path class="k" d="M257 1039l0-2"/>
<path color="#f4c999" d="M321 1016l11 0 11-6-11-1z"/>
<path color="#f7f2e6" d="M276 1031l11-1 11-7-11 0z"/>
<path color="#f6e1c3" d="M298 1023l11 0 12-7-12 0z"/>
<path class="k" d="M299 1023l0-1"/>
<path color="#ec9144" d="M467 997l12 4 11-5-13-4z"/>
<path color="#afeddc" d="M660 1040l13 9 9-2-13-10z"/>
<path class="k" d="M671 1039l-8 3"/>
<path color="#f0ab67" d="M546 1005l13 6 10-3-13-7z"/>
<path color="#f6e0c1" d="M603 1019l13 8 10-3-13-8z"/>
<path color="#ec9245" d="M445 998l12 3 10-4-12-4z"/>
<path color="#70d9bf" d="M695 1057l13 11 9-2-13-11z"/>
<path class="k" d="M700 1056l-4 2"/>
<path color="#efa25b" d="M524 1003l13 5 9-3-12-6z"/>
<path color="#ed954a" d="M422 1000l12 3 11-5-12-3z"/>
<path color="#4ec5aa" d="M730 1078l13 11 8-1-13-12z"/>
<path color="#e1f3ea" d="M638 1033l13 9 9-2-12-10z"/>
<path color="#f4cc9c" d="M581 1015l13 7 9-3-12-8z"/>
<path color="#ee9c53" d="M400 1003l12 2 10-5-12-3z"/>
<path color="#55cbb0" d="M175 1079l10-3 12-9-11 3z"/>
<path class="k" d="M190 1072l1-3"/>
<path color="#ee9b52" d="M502 1001l12 6 10-4-12-6z"/>
<path color="#efa55f" d="M377 1006l12 2 11-5-12-3z"/>
<path color="#68d7bb" d="M197 1067l11-2 11-8-10 2z"/>
<path color="#f1b16f" d="M355 1011l11 1 11-6-12-1z"/>
<path class="k" d="M367 1012l-8-3"/>
<path color="#8de3cd" d="M219 1057l11-2 12-8-11 2z"/>
<path class="k" d="M222 1056l0-1"/>
<path color="#91e4cf" d="M673 1049l13 10 9-2-13-10z"/>
<path color="#f3c38d" d="M332 1016l12 1 11-6-12-1z"/>
<path color="#b1eddd" d="M242 1047l11-1 11-8-11 1z"/>
<path class="k" d="M259 1042l-2-3"/>
<path color="#f5d9b3" d="M309 1023l12 0 11-7-11 0z"/>
<path color="#e6f4eb" d="M264 1038l11-1 12-7-11 1z"/>
<path color="#f6ebd8" d="M287 1030l11 0 11-7-11 0z"/>
<path class="k" d="M303 1027l-4-4"/>
<path color="#f3ba7e" d="M559 1011l12 7 10-3-12-7z"/>
<path class="k" d="M572 1009l-12 3"/>
<path color="#ed984d" d="M479 1001l12 5 11-5-12-5z"/>
<path color="#f7eedf" d="M616 1027l13 9 9-3-12-9z"/>
<path class="k" d="M627 1025l-10 3"/>
<path color="#5ad0b4" d="M708 1068l13 11 9-1-13-12z"/>
<path class="k" d="M725 1074l-7 3"/>
<path color="#ed974c" d="M457 1001l12 5 10-5-12-4z"/>
<path color="#f1ae6b" d="M537 1008l12 7 10-4-13-6z"/>
<path class="k" d="M555 1012l-8 2"/>
<path color="#b3eddd" d="M651 1042l13 10 9-3-13-9z"/>
<path class="k" d="M663 1042l-8 3"/>
<path color="#ed994e" d="M434 1003l12 3 11-5-12-3z"/>
<path color="#f6e1c2" d="M594 1022l13 8 9-3-13-8z"/>
<path color="#ee9d55" d="M412 1005l11 3 11-5-12-3z"/>
<path color="#74dbc1" d="M686 1059l13 11 9-2-13-11z"/>
<path class="k" d="M696 1058l-8 4"/>
<path color="#efa660" d="M514 1007l12 5 11-4-13-5z"/>
<path color="#efa55f" d="M389 1008l12 3 11-6-12-2z"/>
<path color="#4fc6ac" d="M721 1079l13 12 9-2-13-11z"/>
<path color="#5bd1b4" d="M185 1076l11-2 12-9-11 2z"/>
<path class="k" d="M190 1075l0-3"/>
<path color="#e3f3eb" d="M629 1036l13 9 9-3-13-9z"/>
<path color="#f4cd9f" d="M571 1018l13 7 10-3-13-7z"/>
<path color="#f1af6c" d="M366 1012l12 2 11-6-12-2z"/>
<path class="k" d="M372 1013l-5-1"/>
<path color="#eea058" d="M491 1006l13 5 10-4-12-6z"/>
<path color="#7addc4" d="M208 1065l11-2 11-8-11 2z"/>
<path class="k" d="M223 1060l-1-4"/>
<path color="#f3be84" d="M344 1017l11 2 11-7-11-1z"/>
<path color="#9ce7d4" d="M230 1055l11-1 12-8-11 1z"/>
<path color="#f5d1a7" d="M321 1023l11 1 12-7-12-1z"/>
<path color="#c8f0e3" d="M253 1046l11-1 11-8-11 1z"/>
<path class="k" d="M260 1045l-1-3"/>
<path color="#f6e6cc" d="M298 1030l12 0 11-7-12 0z"/>
<path class="k" d="M307 1030l-4-3"/>
<path color="#f7f5ee" d="M275 1037l12 0 11-7-11 0z"/>
<path color="#94e5d1" d="M664 1052l13 10 9-3-13-10z"/>
<path color="#ee9d55" d="M469 1006l12 4 10-4-12-5z"/>
<path color="#f3bd83" d="M549 1015l13 6 9-3-12-7z"/>
<path class="k" d="M560 1012l-5 0"/>
<path color="#f7eedf" d="M607 1030l12 8 10-2-13-9z"/>
<path class="k" d="M617 1028l-10 3"/>
<path color="#5cd1b5" d="M699 1070l13 11 9-2-13-11z"/>
<path class="k" d="M718 1077l-6 4"/>
<path color="#ee9d55" d="M446 1006l12 4 11-4-12-5z"/>
<path color="#f1b16f" d="M526 1012l13 7 10-4-12-7z"/>
<path class="k" d="M547 1014l-13 2"/>
<path color="#eea058" d="M423 1008l13 4 10-6-12-3z"/>
<path color="#b7eede" d="M642 1045l12 9 10-2-13-10z"/>
<path class="k" d="M655 1045l-8 3"/>
<path color="#f6e1c3" d="M584 1025l13 8 10-3-13-8z"/>
<path color="#efa660" d="M401 1011l12 3 10-6-11-3z"/>
<path color="#f0aa65" d="M504 1011l12 5 10-4-12-5z"/>
<path color="#78dcc3" d="M677 1062l13 10 9-2-13-11z"/>
<path class="k" d="M688 1062l-7 3"/>
<path color="#f1ae6b" d="M378 1014l12 2 11-5-12-3z"/>
<path color="#67d6bb" d="M196 1074l11-2 12-9-11 2z"/>
<path color="#f3ba7e" d="M355 1019l12 1 11-6-12-2z"/>
<path class="k" d="M377 1015l-5-2"/>
<path color="#f4cfa3" d="M562 1021l12 8 10-4-13-7z"/>
<path color="#8ae2cc" d="M219 1063l11-1 11-8-11 1z"/>
<path class="k" d="M223 1062l0-2"/>
<path color="#e5f4eb" d="M619 1038l13 9 10-2-13-9z"/>
<path color="#51c8ad" d="M712 1081l13 12 9-2-13-12z"/>
<path color="#f4cc9d" d="M332 1024l12 1 11-6-11-2z"/>
<path color="#efa55f" d="M481 1010l12 5 11-4-13-5z"/>
<path color="#aaecdb" d="M241 1054l11-2 12-7-11 1z"/>
<path class="k" d="M261 1047l-1-2"/>
<path color="#f6e0c1" d="M310 1030l11 0 11-6-11-1z"/>
<path color="#ddf3e9" d="M264 1045l11-1 12-7-12 0z"/>
<path color="#f7efe0" d="M287 1037l11 0 12-7-12 0z"/>
<path class="k" d="M308 1031l-1-1"/>
<path color="#efa35d" d="M458 1010l13 5 10-5-12-4z"/>
<path color="#97e6d2" d="M654 1054l13 10 10-2-13-10z"/>
<path color="#f3c089" d="M539 1019l13 6 10-4-13-6z"/>
<path color="#f7eedf" d="M597 1033l13 8 9-3-12-8z"/>
<path class="k" d="M607 1031l-10 3"/>
<path color="#efa45e" d="M436 1012l12 3 10-5-12-4z"/>
<path color="#5dd3b6" d="M690 1072l13 11 9-2-13-11z"/>
<path class="k" d="M712 1081l-2 1"/>
<path color="#f2b574" d="M516 1016l13 6 10-3-13-7z"/>
<path class="k" d="M534 1016l-14 2"/>
<path color="#f0a863" d="M413 1014l12 3 11-5-13-4z"/>
<path color="#b9eedf" d="M632 1047l13 10 9-3-12-9z"/>
<path class="k" d="M647 1048l-9 3"/>
<path color="#f6e2c5" d="M574 1029l13 7 10-3-13-8z"/>
<path class="k" d="M588 1036l-1 0"/>
<path color="#f1ae6c" d="M390 1016l12 3 11-5-12-3z"/>
<path color="#f1ae6b" d="M493 1015l13 6 10-5-12-5z"/>
<path class="k" d="M509 1019l-5 1"/>
<path color="#f2b97b" d="M367 1020l12 2 11-6-12-2z"/>
<path class="k" d="M388 1017l-11-2"/>
<path color="#f4c795" d="M344 1025l12 1 11-6-12-1z"/>
<path color="#77dcc3" d="M207 1072l11-2 12-8-11 1z"/>
<path class="k" d="M224 1066l-1-4"/>
<path color="#7bddc5" d="M667 1064l14 10 9-2-13-10z"/>
<path class="k" d="M681 1065l-8 3"/>
<path color="#f5dab6" d="M321 1030l12 1 11-6-12-1z"/>
<path color="#98e6d2" d="M230 1062l11-2 11-8-11 2z"/>
<path color="#f6ead5" d="M298 1037l12 0 11-7-11 0z"/>
<path class="k" d="M314 1035l-6-4"/>
<path color="#c0efe1" d="M252 1052l12 0 11-8-11 1z"/>
<path class="k" d="M264 1051l-3-4"/>
<path color="#f5d2a7" d="M552 1025l12 7 10-3-12-8z"/>
<path color="#f0f5ee" d="M275 1044l12 0 11-7-11 0z"/>
<path color="#f0aa66" d="M471 1015l12 5 10-5-12-5z"/>
<path color="#e6f4eb" d="M610 1041l12 9 10-3-13-9z"/>
<path color="#53c9ae" d="M703 1083l13 12 9-2-13-12z"/>
<path class="k" d="M710 1082l-6 3"/>
<path color="#f0aa65" d="M448 1015l12 5 11-5-13-5z"/>
<path color="#f3c48f" d="M529 1022l12 7 11-4-13-6z"/>
<path color="#99e7d3" d="M645 1057l13 10 9-3-13-10z"/>
<path color="#f0ab67" d="M425 1017l12 3 11-5-12-3z"/>
<path color="#f7efe0" d="M587 1036l13 9 10-4-13-8z"/>
<path class="k" d="M597 1034l-9 2"/>
<path color="#f1b06e" d="M402 1019l12 3 11-5-12-3z"/>
<path class="k" d="M416 1021l-10-1"/>
<path color="#5fd4b7" d="M681 1074l13 11 9-2-13-11z"/>
<path color="#f2ba7d" d="M506 1021l12 6 11-5-13-6z"/>
<path class="k" d="M520 1018l-11 1"/>
<path color="#f2b87b" d="M379 1022l12 3 11-6-12-3z"/>
<path class="k" d="M401 1020l-13-3"/>
<path color="#bceee0" d="M622 1050l13 9 10-2-13-10z"/>
<path class="k" d="M638 1051l-9 4"/>
<path color="#f6e3c7" d="M564 1032l13 8 10-4-13-7z"/>
<path class="k" d="M587 1036l-11 3"/>
<path color="#f3c591" d="M356 1026l12 2 11-6-12-2z"/>
<path color="#f2b372" d="M483 1020l12 5 11-4-13-6z"/>
<path class="k" d="M504 1020l-17 1"/>
<path color="#f5d5ad" d="M333 1031l11 2 12-7-12-1z"/>
<path color="#86e1ca" d="M218 1070l11-2 12-8-11 2z"/>
<path class="k" d="M225 1069l-1-3"/>
<path color="#f6e6cc" d="M310 1037l11 1 12-7-12-1z"/>
<path class="k" d="M320 1038l-6-3"/>
<path color="#a5ebd9" d="M241 1060l11 0 12-8-12 0z"/>
<path color="#f7f3e9" d="M287 1044l11 0 12-7-12 0z"/>
<path color="#d3f1e6" d="M264 1052l11-1 12-7-12 0z"/>
<path class="k" d="M265 1052l-1-1"/>
<path color="#7edec6" d="M658 1067l13 10 10-3-14-10z"/>
<path class="k" d="M673 1068l-8 4"/>
<path color="#f1b06e" d="M460 1020l12 4 11-4-12-5z"/>
<path class="k" d="M477 1022l-9 1"/>
<path color="#f5d5ac" d="M541 1029l13 7 10-4-12-7z"/>
<path color="#e6f4eb" d="M600 1045l13 8 9-3-12-9z"/>
<path color="#55cbaf" d="M694 1085l13 12 9-2-13-12z"/>
<path class="k" d="M704 1085l-7 3"/>
<path color="#f1b06e" d="M437 1020l12 5 11-5-12-5z"/>
<path class="k" d="M453 1023l-9 0"/>
<path color="#f4c896" d="M518 1027l13 6 10-4-12-7z"/>
<path color="#f2b372" d="M414 1022l12 4 11-6-12-3z"/>
<path class="k" d="M433 1023l-17-2"/>
<path color="#9be7d4" d="M635 1059l14 10 9-2-13-10z"/>
<path color="#f7efe1" d="M577 1040l13 8 10-3-13-9z"/>
<path color="#f2ba7d" d="M391 1025l12 3 11-6-12-3z"/>
<path class="k" d="M406 1020l-5 0"/>
<path color="#f3bf86" d="M495 1025l13 6 10-4-12-6z"/>
<path color="#62d5b8" d="M671 1077l13 11 10-3-13-11z"/>
<path color="#f3c48f" d="M368 1028l12 3 11-6-12-3z"/>
<path color="#f5d2a7" d="M344 1033l12 2 12-7-12-2z"/>
<path color="#f6e5ca" d="M554 1036l13 7 10-3-13-8z"/>
<path class="k" d="M576 1039l-12 3"/>
<path color="#bdeee0" d="M613 1053l13 9 9-3-13-9z"/>
<path class="k" d="M629 1055l-10 3"/>
<path color="#f6e3c5" d="M321 1038l12 1 11-6-11-2z"/>
<path color="#f2b97c" d="M472 1024l13 6 10-5-12-5z"/>
<path class="k" d="M487 1021l-10 1"/>
<path color="#94e5d0" d="M229 1068l11-1 12-7-11 0z"/>
<path color="#f7eedf" d="M298 1044l12 1 11-7-11-1z"/>
<path class="k" d="M321 1039l-1-1"/>
<path color="#b6eede" d="M252 1060l11-1 12-8-11 1z"/>
<path class="k" d="M268 1056l-3-4"/>
<path color="#e4f4eb" d="M275 1051l12 1 11-8-11 0z"/>
<path color="#f2b778" d="M449 1025l13 4 10-5-12-4z"/>
<path class="k" d="M468 1023l-15 0"/>
<path color="#81dfc7" d="M649 1069l13 10 9-2-13-10z"/>
<path class="k" d="M665 1072l-9 3"/>
<path color="#f5d8b2" d="M531 1033l13 7 10-4-13-7z"/>
<path color="#e5f4eb" d="M590 1048l13 8 10-3-13-8z"/>
<path color="#f2b87a" d="M426 1026l12 4 11-5-12-5z"/>
<path class="k" d="M444 1023l-11 0"/>
<path color="#56ccb0" d="M684 1088l14 11 9-2-13-12z"/>
<path class="k" d="M697 1088l-8 4"/>
<path color="#f4cc9e" d="M508 1031l13 6 10-4-13-6z"/>
<path color="#f3bd82" d="M403 1028l12 3 11-5-12-4z"/>
<path color="#9ce8d4" d="M626 1062l13 10 10-3-14-10z"/>
<path color="#f7f0e3" d="M567 1043l13 8 10-3-13-8z"/>
<path color="#f3c590" d="M380 1031l12 3 11-6-12-3z"/>
<path color="#f3c490" d="M485 1030l13 5 10-4-13-6z"/>
<path color="#f4d0a4" d="M356 1035l12 2 12-6-12-3z"/>
<path color="#f6dfbf" d="M333 1039l12 2 11-6-12-2z"/>
<path color="#65d6ba" d="M662 1079l13 11 9-2-13-11z"/>
<path color="#f6ebd7" d="M310 1045l12 1 11-7-12-1z"/>
<path class="k" d="M328 1042l-7-3"/>
<path color="#f3f5ef" d="M287 1052l11 0 12-7-12-1z"/>
<path color="#a0e9d6" d="M240 1067l11 0 12-8-11 1z"/>
<path color="#f6e6cd" d="M544 1040l13 7 10-4-13-7z"/>
<path class="k" d="M564 1042l-12 3"/>
<path color="#c9f0e3" d="M263 1059l12 0 12-7-12-1z"/>
<path class="k" d="M271 1059l-3-3"/>
<path color="#f3c088" d="M462 1029l12 5 11-4-13-6z"/>
<path color="#beefe0" d="M603 1056l13 9 10-3-13-9z"/>
<path class="k" d="M619 1058l-9 3"/>
<path color="#f3bf86" d="M438 1030l13 4 11-5-13-4z"/>
<path color="#f5dcb9" d="M521 1037l13 7 10-4-13-7z"/>
<path color="#83dfc8" d="M639 1072l13 10 10-3-13-10z"/>
<path class="k" d="M656 1075l-8 4"/>
<path color="#f3c18a" d="M415 1031l12 4 11-5-12-4z"/>
<path color="#e4f4eb" d="M580 1051l13 9 10-4-13-8z"/>
<path color="#f4c794" d="M392 1034l12 3 11-6-12-3z"/>
<path color="#57cdb1" d="M675 1090l13 11 10-2-14-11z"/>
<path class="k" d="M689 1092l-8 4"/>
<path color="#f5d1a7" d="M498 1035l12 6 11-4-13-6z"/>
<path color="#f4d0a4" d="M368 1037l13 3 11-6-12-3z"/>
<path color="#9de8d5" d="M616 1065l13 10 10-3-13-10z"/>
<path color="#f7f1e6" d="M557 1047l13 8 10-4-13-8z"/>
<path color="#f6ddba" d="M345 1041l12 2 11-6-12-2z"/>
<path color="#f4ca9b" d="M474 1034l13 6 11-5-13-5z"/>
<path color="#f6e8d1" d="M322 1046l11 2 12-7-12-2z"/>
<path class="k" d="M337 1046l-9-4"/>
<path color="#f7f3ea" d="M298 1052l12 1 12-7-12-1z"/>
<path color="#d8f2e8" d="M275 1059l11 0 12-7-11 0z"/>
<path color="#acecdc" d="M251 1067l12 0 12-8-12 0z"/>
<path class="k" d="M272 1061l-1-2"/>
<path color="#68d7bb" d="M652 1082l13 11 10-3-13-11z"/>
<path color="#f4c794" d="M451 1034l12 5 11-5-12-5z"/>
<path color="#f6e8d1" d="M534 1044l12 7 11-4-13-7z"/>
<path class="k" d="M552 1045l-12 2"/>
<path color="#beefe0" d="M593 1060l13 9 10-4-13-9z"/>
<path class="k" d="M610 1061l-11 3"/>
<path color="#f4c795" d="M427 1035l13 4 11-5-13-4z"/>
<path color="#f6e0c0" d="M510 1041l13 7 11-4-13-7z"/>
<path color="#f4ca9b" d="M404 1037l12 4 11-6-12-4z"/>
<path color="#84e0c9" d="M629 1075l13 10 10-3-13-10z"/>
<path class="k" d="M648 1079l-9 3"/>
<path color="#e2f3ea" d="M570 1055l13 8 10-3-13-9z"/>
<path color="#f5d1a7" d="M381 1040l12 3 11-6-12-3z"/>
<path color="#f5d7b0" d="M487 1040l13 6 10-5-12-6z"/>
<path color="#58ceb2" d="M665 1093l14 11 9-3-13-11z"/>
<path class="k" d="M681 1096l-8 3"/>
<path color="#f5dcb9" d="M357 1043l12 3 12-6-13-3z"/>
<path color="#f6e6cd" d="M333 1048l12 2 12-7-12-2z"/>
<path class="k" d="M347 1049l-10-3"/>
<path color="#f7f3e9" d="M546 1051l13 8 11-4-13-8z"/>
<path color="#9ee8d5" d="M606 1069l13 9 10-3-13-10z"/>
<path color="#f7f0e3" d="M310 1053l12 2 11-7-11-2z"/>
<path color="#f5d1a6" d="M463 1039l13 6 11-5-13-6z"/>
<path color="#e5f4eb" d="M286 1059l12 1 12-7-12-1z"/>
<path color="#bdeee0" d="M263 1067l12 0 11-8-11 0z"/>
<path class="k" d="M277 1065l-5-4"/>
<path color="#f4cfa2" d="M440 1039l13 5 10-5-12-5z"/>
<path color="#6ad8bc" d="M642 1085l14 10 9-2-13-11z"/>
<path color="#f6ead6" d="M523 1048l13 7 10-4-12-7z"/>
<path class="k" d="M540 1047l-14 3"/>
<path color="#bdeee0" d="M583 1063l13 9 10-3-13-9z"/>
<path class="k" d="M599 1064l-10 3"/>
<path color="#f4d0a4" d="M416 1041l13 4 11-6-13-4z"/>
<path color="#f6e3c7" d="M500 1046l12 6 11-4-13-7z"/>
<path class="k" d="M514 1052l-2 0"/>
<path color="#f5d4ac" d="M393 1043l12 3 11-5-12-4z"/>
<path color="#86e0ca" d="M619 1078l13 10 10-3-13-10z"/>
<path class="k" d="M639 1082l-9 4"/>
<path color="#dff3ea" d="M559 1059l14 8 10-4-13-8z"/>
<path color="#f6dcba" d="M369 1046l12 3 12-6-12-3z"/>
<path color="#f6dcba" d="M476 1045l13 5 11-4-13-6z"/>
<path color="#f6e5cc" d="M345 1050l13 2 11-6-12-3z"/>
<path class="k" d="M358 1052l-11-3"/>
<path color="#f7eedf" d="M322 1055l12 1 11-6-12-2z"/>
<path color="#59cfb3" d="M656 1095l13 11 10-2-14-11z"/>
<path class="k" d="M673 1099l-8 4"/>
<path color="#eff5ee" d="M298 1060l12 2 12-7-12-2z"/>
<path color="#cbf0e4" d="M275 1067l11 1 12-8-12-1z"/>
<path class="k" d="M280 1067l-3-2"/>
<path color="#f7f4ec" d="M536 1055l13 8 10-4-13-8z"/>
<path color="#f5d8b2" d="M453 1044l12 6 11-5-13-6z"/>
<path color="#9ee8d5" d="M596 1072l13 9 10-3-13-9z"/>
<path color="#f5d7b0" d="M429 1045l12 4 12-5-13-5z"/>
<path color="#f7ecdb" d="M512 1052l13 7 11-4-13-7z"/>
<path class="k" d="M526 1050l-12 2"/>
<path color="#6cd8bd" d="M632 1088l14 10 10-3-14-10z"/>
<path color="#f5d9b4" d="M405 1046l13 4 11-5-13-4z"/>
<path color="#bbeee0" d="M573 1067l13 8 10-3-13-9z"/>
<path class="k" d="M589 1067l-11 3"/>
<path color="#f6dfbe" d="M381 1049l13 3 11-6-12-3z"/>
<path color="#f6e6ce" d="M489 1050l13 7 10-5-12-6z"/>
<path class="k" d="M512 1052l-15 2"/>
<path color="#f6e5cc" d="M358 1052l12 3 11-6-12-3z"/>
<path class="k" d="M370 1055l-12-3"/>
<path color="#87e1ca" d="M609 1081l14 10 9-3-13-10z"/>
<path class="k" d="M630 1086l-10 3"/>
<path color="#dcf2e9" d="M549 1063l13 8 11-4-14-8z"/>
<path color="#f7eddc" d="M334 1056l12 3 12-7-13-2z"/>
<path color="#f6e2c5" d="M465 1050l13 5 11-5-13-5z"/>
<path color="#f7f6f0" d="M310 1062l12 1 12-7-12-1z"/>
<path color="#d6f2e7" d="M286 1068l12 1 12-7-12-2z"/>
<path color="#5ad0b4" d="M646 1098l13 11 10-3-13-11z"/>
<path class="k" d="M665 1103l-8 4"/>
<path color="#f6dfbf" d="M441 1049l13 6 11-5-12-6z"/>
<path color="#f7f6f0" d="M525 1059l14 8 10-4-13-8z"/>
<path color="#9ee8d5" d="M586 1075l13 10 10-4-13-9z"/>
<path color="#f6dfbf" d="M418 1050l12 5 11-6-12-4z"/>
<path color="#f7efe0" d="M502 1057l13 7 10-5-13-7z"/>
<path color="#f6e2c5" d="M394 1052l12 4 12-6-13-4z"/>
<path color="#6dd9be" d="M623 1091l13 10 10-3-14-10z"/>
<path color="#b9eedf" d="M562 1071l13 8 11-4-13-8z"/>
<path class="k" d="M578 1070l-11 3"/>
<path color="#f6e6ce" d="M370 1055l12 3 12-6-13-3z"/>
<path class="k" d="M385 1057l-15-2"/>
<path color="#f6ead5" d="M478 1055l13 6 11-4-13-7z"/>
<path class="k" d="M497 1054l-17 2"/>
<path color="#f7ecdb" d="M346 1059l12 2 12-6-12-3z"/>
<path color="#f7f4ec" d="M322 1063l12 2 12-6-12-3z"/>
<path color="#d8f2e7" d="M539 1067l13 8 10-4-13-8z"/>
<path color="#87e1ca" d="M599 1085l13 9 11-3-14-10z"/>
<path class="k" d="M620 1089l-10 4"/>
<path color="#dff3e9" d="M298 1069l12 1 12-7-12-1z"/>
<path color="#f6e6cd" d="M454 1055l13 5 11-5-13-5z"/>
<path class="k" d="M475 1057l-13 1"/>
<path color="#f6e5ca" d="M430 1055l13 5 11-5-13-6z"/>
<path class="k" d="M445 1059l-4 0"/>
<path color="#5bd0b4" d="M636 1101l13 11 10-3-13-11z"/>
<path class="k" d="M657 1107l-9 4"/>
<path color="#f1f5ee" d="M515 1064l13 7 11-4-14-8z"/>
<path color="#9de8d5" d="M575 1079l14 9 10-3-13-10z"/>
<path color="#f6e6cc" d="M406 1056l13 5 11-6-12-5z"/>
<path class="k" d="M422 1059l-8 0"/>
<path color="#f7f2e6" d="M491 1061l13 7 11-4-13-7z"/>
<path color="#f6e8d2" d="M382 1058l13 4 11-6-12-4z"/>
<path class="k" d="M402 1058l-17-1"/>
<path color="#6fd9be" d="M612 1094l14 10 10-3-13-10z"/>
<path color="#b6eede" d="M552 1075l13 8 10-4-13-8z"/>
<path class="k" d="M567 1073l-12 4"/>
<path color="#f7eddc" d="M358 1061l13 4 11-7-12-3z"/>
<path color="#f7eddc" d="M467 1060l13 6 11-5-13-6z"/>
<path class="k" d="M480 1056l-5 1"/>
<path color="#f7f4eb" d="M334 1065l13 3 11-7-12-2z"/>
<path color="#e5f4eb" d="M310 1070l12 2 12-7-12-2z"/>
<path color="#d3f1e6" d="M528 1071l13 8 11-4-13-8z"/>
<path color="#f6ead6" d="M443 1060l13 5 11-5-13-5z"/>
<path class="k" d="M462 1058l-17 1"/>
<path color="#87e1ca" d="M589 1088l13 10 10-4-13-9z"/>
<path class="k" d="M610 1093l-10 3"/>
<path color="#f6ead5" d="M419 1061l13 4 11-5-13-5z"/>
<path class="k" d="M441 1059l-19 0"/>
<path color="#eaf4ec" d="M504 1068l13 7 11-4-13-7z"/>
<path color="#5cd1b5" d="M626 1104l13 11 10-3-13-11z"/>
<path class="k" d="M648 1111l-9 3"/>
<path color="#f6ebd8" d="M395 1062l13 4 11-5-13-5z"/>
<path class="k" d="M414 1059l-12-1"/>
<path color="#9ce8d5" d="M565 1083l13 9 11-4-14-9z"/>
<path color="#f7eedf" d="M371 1065l12 3 12-6-13-4z"/>
<path color="#f7f5ed" d="M480 1066l13 7 11-5-13-7z"/>
<path color="#f7f4eb" d="M347 1068l12 3 12-6-13-4z"/>
<path color="#6fd9bf" d="M602 1098l14 10 10-4-14-10z"/>
<path color="#b2eddd" d="M541 1079l13 8 11-4-13-8z"/>
<path class="k" d="M555 1077l-12 3"/>
<path color="#e9f4ec" d="M322 1072l13 3 12-7-13-3z"/>
<path color="#f7f1e4" d="M456 1065l13 6 11-5-13-6z"/>
<path color="#f7efe0" d="M432 1065l13 6 11-6-13-5z"/>
<path color="#cdf1e5" d="M517 1075l13 8 11-4-13-8z"/>
<path class="k" d="M534 1081l-4 1"/>
<path color="#87e1ca" d="M578 1092l14 9 10-3-13-10z"/>
<path class="k" d="M600 1096l-10 4"/>
<path color="#f7efe0" d="M408 1066l12 5 12-6-13-4z"/>
<path color="#e2f3ea" d="M493 1073l13 7 11-5-13-7z"/>
<path color="#f7f1e4" d="M383 1068l13 4 12-6-13-4z"/>
<path color="#5cd1b5" d="M616 1108l13 10 10-3-13-11z"/>
<path class="k" d="M639 1114l-8 3"/>
<path color="#9be7d4" d="M554 1087l14 9 10-4-13-9z"/>
<path color="#f7f5ed" d="M359 1071l13 3 11-6-12-3z"/>
<path color="#f2f5ef" d="M469 1071l13 7 11-5-13-7z"/>
<path color="#eaf4ec" d="M335 1075l12 3 12-7-12-3z"/>
<path color="#aeeddc" d="M530 1083l14 8 10-4-13-8z"/>
<path class="k" d="M543 1080l-9 1"/>
<path color="#70d9bf" d="M592 1101l13 10 11-3-14-10z"/>
<path color="#f7f5ed" d="M445 1071l13 5 11-5-13-6z"/>
<path color="#f7f3ea" d="M420 1071l13 5 12-5-13-6z"/>
<path color="#c7f0e3" d="M506 1080l13 7 11-4-13-8z"/>
<path class="k" d="M530 1082l-14 3"/>
<path color="#86e1ca" d="M568 1096l13 9 11-4-14-9z"/>
<path class="k" d="M590 1100l-11 3"/>
<path color="#f7f4eb" d="M396 1072l13 5 11-6-12-5z"/>
<path color="#daf2e8" d="M482 1078l13 7 11-5-13-7z"/>
<path color="#f5f6f0" d="M372 1074l12 4 12-6-13-4z"/>
<path color="#5cd2b5" d="M605 1111l14 10 10-3-13-10z"/>
<path color="#99e7d3" d="M544 1091l13 9 11-4-14-9z"/>
<path color="#e8f4ec" d="M347 1078l13 3 12-7-13-3z"/>
<path color="#e7f4ec" d="M458 1076l13 7 11-5-13-7z"/>
<path color="#a9ecdb" d="M519 1087l14 8 11-4-14-8z"/>
<path color="#eff5ee" d="M433 1076l13 6 12-6-13-5z"/>
<path color="#70d9bf" d="M581 1105l14 10 10-4-13-10z"/>
<path color="#f1f5ee" d="M409 1077l13 5 11-6-13-5z"/>
<path color="#c0efe1" d="M495 1085l13 7 11-5-13-7z"/>
<path class="k" d="M516 1085l-15 3"/>
<path color="#edf5ed" d="M384 1078l13 5 12-6-13-5z"/>
<path color="#85e0c9" d="M557 1100l14 9 10-4-13-9z"/>
<path class="k" d="M579 1103l-12 4"/>
<path color="#e3f3eb" d="M360 1081l12 4 12-7-12-4z"/>
<path color="#d1f1e6" d="M471 1083l13 6 11-4-13-7z"/>
<path color="#5dd2b5" d="M595 1115l14 10 10-4-14-10z"/>
<path color="#97e6d2" d="M533 1095l13 9 11-4-13-9z"/>
<path color="#dcf3e9" d="M446 1082l13 6 12-5-13-7z"/>
<path color="#e2f3ea" d="M422 1082l13 5 11-5-13-6z"/>
<path color="#a6ebd9" d="M508 1092l14 8 11-5-14-8z"/>
<path color="#6fd9bf" d="M571 1109l13 9 11-3-14-10z"/>
<path color="#e2f3ea" d="M397 1083l13 5 12-6-13-5z"/>
<path color="#b8eedf" d="M484 1089l13 8 11-5-13-7z"/>
<path class="k" d="M501 1088l-15 2"/>
<path color="#dcf3e9" d="M372 1085l13 4 12-6-13-5z"/>
<path color="#83e0c8" d="M546 1104l14 9 11-4-14-9z"/>
<path class="k" d="M567 1107l-12 3"/>
<path color="#c7f0e3" d="M459 1088l14 7 11-6-13-6z"/>
<path class="k" d="M480 1091l-11 2"/>
<path color="#94e5d1" d="M522 1100l13 8 11-4-13-9z"/>
<path color="#5dd2b5" d="M584 1118l14 11 11-4-14-10z"/>
<path color="#d1f1e6" d="M435 1087l13 6 11-5-13-6z"/>
<path color="#d5f2e7" d="M410 1088l13 5 12-6-13-5z"/>
<path color="#a2ead7" d="M497 1097l14 8 11-5-14-8z"/>
<path color="#6ed9be" d="M560 1113l14 9 10-4-13-9z"/>
<path color="#d3f1e6" d="M385 1089l13 5 12-6-13-5z"/>
<path color="#afeddc" d="M473 1095l13 7 11-5-13-8z"/>
<path class="k" d="M486 1090l-6 1"/>
<path color="#81dfc8" d="M535 1108l14 9 11-4-14-9z"/>
<path class="k" d="M555 1110l-12 3"/>
<path color="#bdeee0" d="M448 1093l13 7 12-5-14-7z"/>
<path class="k" d="M469 1093l-18 2"/>
<path color="#91e4cf" d="M511 1105l13 8 11-5-13-8z"/>
<path color="#c4efe2" d="M423 1093l13 6 12-6-13-6z"/>
<path class="k" d="M444 1095l-14 1"/>
<path color="#5dd2b5" d="M574 1122l14 10 10-3-14-11z"/>
<path color="#c6f0e3" d="M398 1094l13 5 12-6-13-5z"/>
<path class="k" d="M415 1097l-9 0"/>
<path color="#9ee8d5" d="M486 1102l14 7 11-4-14-8z"/>
<path color="#6dd8be" d="M549 1117l14 10 11-5-14-9z"/>
<path color="#a8ebda" d="M461 1100l14 7 11-5-13-7z"/>
<path color="#7fdec6" d="M524 1113l14 9 11-5-14-9z"/>
<path class="k" d="M543 1113l-13 4"/>
<path color="#b2eddd" d="M436 1099l14 6 11-5-13-7z"/>
<path class="k" d="M451 1095l-7 0"/>
<path color="#b7eedf" d="M411 1099l13 6 12-6-13-6z"/>
<path class="k" d="M430 1096l-15 1"/>
<path color="#8ee3ce" d="M500 1109l13 9 11-5-13-8z"/>
<path color="#5cd2b5" d="M563 1127l14 9 11-4-14-10z"/>
<path color="#9ae7d3" d="M475 1107l13 7 12-5-14-7z"/>
<path color="#6bd8bd" d="M538 1122l14 9 11-4-14-10z"/>
<path color="#a2ead7" d="M450 1105l13 7 12-5-14-7z"/>
<path color="#7cddc5" d="M513 1118l14 8 11-4-14-9z"/>
<path class="k" d="M530 1117l-13 3"/>
<path color="#a8ebda" d="M424 1105l14 6 12-6-14-6z"/>
<path color="#8ae2cc" d="M488 1114l14 8 11-4-13-9z"/>
<path color="#5cd1b5" d="M552 1131l14 10 11-5-14-9z"/>
<path color="#95e5d1" d="M463 1112l14 8 11-6-13-7z"/>
<path color="#69d7bc" d="M527 1126l14 9 11-4-14-9z"/>
<path color="#9ce8d4" d="M438 1111l13 7 12-6-13-7z"/>
<path color="#79dcc4" d="M502 1122l14 9 11-5-14-8z"/>
<path class="k" d="M517 1120l-14 3"/>
<path color="#86e0ca" d="M477 1120l13 7 12-5-14-8z"/>
<path class="k" d="M499 1124l-11 2"/>
<path color="#5cd1b5" d="M541 1135l14 10 11-4-14-10z"/>
<path class="k" d="M557 1144l-3 1"/>
<path color="#90e4ce" d="M451 1118l14 7 12-5-14-8z"/>
<path color="#67d6bb" d="M516 1131l13 9 12-5-14-9z"/>
<path color="#76dbc2" d="M490 1127l14 9 12-5-14-9z"/>
<path class="k" d="M503 1123l-4 1"/>
<path color="#81dfc8" d="M465 1125l14 8 11-6-13-7z"/>
<path class="k" d="M488 1126l-16 3"/>
<path color="#5bd0b4" d="M529 1140l14 10 12-5-14-10z"/>
<path class="k" d="M554 1145l-12 4"/>
<path color="#64d6b9" d="M504 1136l14 9 11-5-13-9z"/>
<path color="#72dac0" d="M479 1133l13 8 12-5-14-9z"/>
<path color="#5ad0b4" d="M518 1145l14 9 11-4-14-10z"/>
<path class="k" d="M542 1149l-13 3"/>
<path color="#61d5b8" d="M492 1141l14 9 12-5-14-9z"/>
<path color="#59cfb3" d="M506 1150l15 9 11-5-14-9z"/>
<path class="k" d="M529 1152l-13 4"/>
</g>
<text x="34.4" y="324.3" font-size="3.8" font-weight="bold" fill="#333" text-anchor="middle" transform="rotate(-22.0 34.4 324.3)">1.0</text>
<text x="49.2" y="329.4" font-size="3.8" font-weight="bold" fill="#333" text-anchor="middle" transform="rotate(-22.0 49.2 329.4)">1.3</text>
<text x="64.0" y="334.5" font-size="3.8" font-weight="bold" fill="#333" text-anchor="middle" transform="rotate(-22.0 64.0 334.5)">1.5</text>
<text x="78.8" y="339.6" font-size="3.8" font-weight="bold" fill="#333" text-anchor="middle" transform="rotate(-22.0 78.8 339.6)">1.8</text>
<text x="93.7" y="344.7" font-size="3.8" font-weight="bold" fill="#333" text-anchor="middle" transform="rotate(-22.0 93.7 344.7)">2.0</text>
<text x="108.5" y="349.8" font-size="3.8" font-weight="bold" fill="#333" text-anchor="middle" transform="rotate(-22.0 108.5 349.8)">2.3</text>
<text x="123.3" y="354.9" font-size="3.8" font-weight="bold" fill="#333" text-anchor="middle" transform="rotate(-22.0 123.3 354.9)">2.5</text>
<text x="135.1" y="355.5" font-size="3.8" font-weight="bold" fill="#333" text-anchor="middle" transform="rotate(-26.6 135.1 355.5)">4.0</text>
<text x="152.7" y="346.7" font-size="3.8" font-weight="bold" fill="#333" text-anchor="middle" transform="rotate(-26.6 152.7 346.7)">4.5</text>
<text x="170.2" y="337.9" font-size="3.8" font-weight="bold" fill="#333" text-anchor="middle" transform="rotate(-26.6 170.2 337.9)">5.0</text>
<text x="187.8" y="329.1" font-size="3.8" font-weight="bold" fill="#333" text-anchor="middle" transform="rotate(-26.6 187.8 329.1)">5.5</text>
<text x="205.3" y="320.3" font-size="3.8" font-weight="bold" fill="#333" text-anchor="middle" transform="rotate(-26.6 205.3 320.3)">6.0</text>
<text x="70.0" y="343.4" font-size="7.15" font-style="italic" fill="#222" text-anchor="middle" dominant-baseline="central" transform="rotate(19.0 70.0 343.4)">X₁: Glucose dosage (%)</text>
<text x="183.4" y="339.3" font-size="6.1" font-style="italic" fill="#222" text-anchor="middle" dominant-baseline="central" transform="rotate(-26.6 183.4 339.3)">X₂: Inoculation size (%)</text>
<text x="0" y="0" font-size="7.8" font-weight="bold" fill="#111" text-anchor="middle" dominant-baseline="central" transform="translate(19.7 272.5) rotate(90)">AA-N (g/100 mL)</text>
<text x="2.1" y="206.3" font-size="20" font-weight="bold">D</text>
<line x1="302.2" y1="317.2" x2="299.4" y2="206.5" stroke="#d9d9d9" stroke-width="0.6"/>
<line x1="321.9" y1="309.8" x2="320.4" y2="203.1" stroke="#d9d9d9" stroke-width="0.6"/>
<line x1="340.3" y1="302.8" x2="339.8" y2="199.9" stroke="#d9d9d9" stroke-width="0.6"/>
<line x1="383.7" y1="303.7" x2="385.6" y2="200.2" stroke="#d9d9d9" stroke-width="0.6"/>
<line x1="412.4" y1="311.7" x2="416.1" y2="203.8" stroke="#d9d9d9" stroke-width="0.6"/>
<path d="M276.6 210.3L357.7 196.9L449.5 207.8" fill="none" stroke="#d9d9d9" stroke-width="0.6"/>
<path d="M277.4 232.6L357.6 216.1L448.4 229.6" fill="none" stroke="#d9d9d9" stroke-width="0.6"/>
<path d="M278.2 255.3L357.6 235.6L447.2 251.8" fill="none" stroke="#d9d9d9" stroke-width="0.6"/>
<path d="M279.0 277.5L357.5 254.9L446.1 273.6" fill="none" stroke="#d9d9d9" stroke-width="0.6"/>
<path d="M279.8 299.3L357.4 273.7L445.1 294.9" fill="none" stroke="#d9d9d9" stroke-width="0.6"/>
<path d="M280.6 319.3L357.3 291.2L444.1 314.5" fill="none" stroke="#d9d9d9" stroke-width="0.6"/>
<line x1="276.7" y1="210.1" x2="357.5" y2="196.9" stroke="#3a3a3a" stroke-width="0.9"/>
<line x1="357.5" y1="196.9" x2="449.6" y2="208.0" stroke="#3a3a3a" stroke-width="0.9"/>
<line x1="280.9" y1="325.4" x2="276.7" y2="210.1" stroke="#3a3a3a" stroke-width="0.9"/>
<line x1="357.3" y1="296.5" x2="357.5" y2="196.9" stroke="#3a3a3a" stroke-width="0.9"/>
<line x1="443.9" y1="320.1" x2="449.6" y2="208.0" stroke="#3a3a3a" stroke-width="0.9"/>
<line x1="274.4" y1="210.6" x2="276.6" y2="210.3" stroke="#3a3a3a" stroke-width="0.7"/>
<text x="273.6" y="210.6" font-size="5.3" font-weight="bold" text-anchor="end" dominant-baseline="central" fill="#222" transform="rotate(-12 273.6 210.6)">0.60</text>
<line x1="275.2" y1="232.9" x2="277.4" y2="232.6" stroke="#3a3a3a" stroke-width="0.7"/>
<text x="274.4" y="232.9" font-size="5.3" font-weight="bold" text-anchor="end" dominant-baseline="central" fill="#222" transform="rotate(-12 274.4 232.9)">0.57</text>
<line x1="276.0" y1="255.6" x2="278.2" y2="255.3" stroke="#3a3a3a" stroke-width="0.7"/>
<text x="275.2" y="255.6" font-size="5.3" font-weight="bold" text-anchor="end" dominant-baseline="central" fill="#222" transform="rotate(-12 275.2 255.6)">0.54</text>
<line x1="276.8" y1="277.8" x2="279.0" y2="277.5" stroke="#3a3a3a" stroke-width="0.7"/>
<text x="276.0" y="277.8" font-size="5.3" font-weight="bold" text-anchor="end" dominant-baseline="central" fill="#222" transform="rotate(-12 276.0 277.8)">0.51</text>
<line x1="277.6" y1="299.6" x2="279.8" y2="299.3" stroke="#3a3a3a" stroke-width="0.7"/>
<text x="276.8" y="299.6" font-size="5.3" font-weight="bold" text-anchor="end" dominant-baseline="central" fill="#222" transform="rotate(-12 276.8 299.6)">0.48</text>
<line x1="278.4" y1="319.6" x2="280.6" y2="319.3" stroke="#3a3a3a" stroke-width="0.7"/>
<text x="277.6" y="319.6" font-size="5.3" font-weight="bold" text-anchor="end" dominant-baseline="central" fill="#222" transform="rotate(-12 277.6 319.6)">0.45</text>
<g class="s" transform="scale(.25)">
<path color="#8ae0cb" d="M1123 1301l11 4 11-4-10-4z"/>
<path color="#a8eada" d="M1135 1297l10 4 12-5-10-4z"/>
<path color="#cff2e7" d="M1147 1292l10 4 12-4-11-4z"/>
<path color="#f8f5ed" d="M1158 1288l11 4 11-5-10-3z"/>
<path color="#f7e5c9" d="M1170 1284l10 3 11-4-10-4z"/>
<path color="#f5cb9d" d="M1181 1279l10 4 12-4-11-4z"/>
<path color="#f2b67b" d="M1192 1275l11 4 11-4-11-4zM1614 1311l13 4 9-4-12-4z"/>
<path color="#efa463" d="M1203 1271l11 4 11-5-11-3zM1375 1375l13 4 11-5-13-5zM1449 1382l13 5 11-6-13-4zM1473 1381l13 5 11-5-13-5zM1589 1334l13 5 10-5-13-4z"/>
<path color="#ec944d" d="M1214 1267l11 3 10-4-10-3zM1586 1295l12 4 9-4-12-4z"/>
<path color="#e68b47" d="M1225 1263l10 3 11-4-10-3zM1235 1282l10 3 11-4-10-4zM1493 1209l11 3 9-3-11-3zM1517 1222l11 3 9-3-11-3zM1565 1268l12 4 9-5-12-3zM1385 1360l13 4 11-5-13-4zM1570 1284l13 3 9-4-12-4z"/>
<path color="#df8745" d="M1236 1259l10 3 11-4-11-3zM1555 1272l12 4 10-4-12-4zM1558 1280l12 4 10-5-13-3zM1490 1352l13 4 10-5-13-5z"/>
<path color="#d88243" d="M1246 1255l11 3 10-4-10-3zM1487 1342l13 4 11-4-13-5zM1528 1323l13 4 10-5-13-4z"/>
<path color="#d27f41" d="M1257 1251l10 3 11-4-11-3zM1516 1319l12 4 10-5-13-4z"/>
<path color="#cd7b41" d="M1267 1247l11 3 10-4-10-3zM1267 1254l11 3 10-4-10-3zM1404 1202l10 3 9-3-10-3zM1456 1217l11 3 9-3-11-4zM1334 1316l12 4 11-5-12-4zM1358 1324l12 4 10-5-11-4zM1520 1297l13 4 9-4-12-4zM1473 1329l12 4 10-5-12-4z"/>
<path color="#c87840" d="M1278 1243l10 3 10-4-10-3zM1278 1250l10 3 10-3-10-4zM1289 1276l10 4 11-4-11-4zM1300 1288l11 3 10-4-11-4zM1482 1237l11 3 9-3-11-4zM1495 1248l11 3 9-4-11-3zM1380 1323l12 4 11-5-12-4zM1508 1294l12 3 10-4-12-4z"/>
<path color="#c4753f" d="M1288 1239l10 3 10-4-10-3zM1299 1280l11 3 11-4-11-3zM1483 1244l12 4 9-4-11-4zM1499 1262l12 4 9-4-12-4zM1501 1270l12 3 9-4-11-3zM1504 1278l11 3 10-4-12-4zM1448 1321l12 4 11-5-13-4z"/>
<path color="#bf743f" d="M1298 1235l10 3 10-3-10-4zM1396 1212l10 3 9-3-10-3zM1449 1228l10 3 10-4-11-3zM1344 1303l12 4 11-5-12-4zM1356 1307l12 4 10-5-11-4zM1368 1311l11 3 11-4-12-4zM1414 1318l12 4 10-5-12-4zM1494 1282l12 4 9-5-11-3zM1436 1317l12 4 10-5-12-4z"/>
<path color="#bc723e" d="M1308 1231l10 4 10-4-10-3zM1424 1313l12 4 10-5-12-4zM1456 1308l13 4 10-5-12-4z"/>
<path color="#ba713e" d="M1318 1228l10 3 10-4-10-3zM1450 1234l11 4 9-4-11-3zM1476 1255l12 4 9-4-11-4z"/>
<path color="#b9703e" d="M1328 1224l10 3 10-4-11-3zM1337 1220l11 3 9-3-10-3zM1308 1238l11 4 10-4-11-3zM1367 1216l10 3 9-3-10-3zM1397 1219l10 3 10-4-11-3zM1321 1279l11 4 10-4-11-4zM1344 1295l11 3 11-4-12-4zM1463 1245l11 3 9-4-11-3zM1355 1298l12 4 10-4-11-4zM1378 1306l12 4 10-5-11-4zM1478 1263l12 3 9-4-11-3zM1482 1278l12 4 10-4-12-4zM1434 1308l12 4 10-4-11-4z"/>
<path color="#bb713e" d="M1347 1217l10 3 10-4-11-3zM1386 1216l11 3 9-4-10-3zM1332 1291l12 4 10-5-11-4zM1390 1310l12 4 10-5-12-4zM1484 1286l12 4 10-4-12-4z"/>
<path color="#bd723e" d="M1356 1213l11 3 9-3-10-3zM1376 1213l10 3 10-4-11-3zM1298 1250l11 3 10-4-10-3zM1299 1257l10 3 10-4-10-3zM1310 1276l11 3 10-4-11-4zM1461 1238l11 3 10-4-12-3zM1474 1248l12 3 9-3-12-4zM1402 1314l12 4 10-5-12-4zM1446 1312l12 4 11-4-13-4zM1477 1299l12 4 9-5-12-4z"/>
<path color="#c0743f" d="M1366 1210l10 3 9-4-10-3zM1299 1272l11 4 10-5-10-3zM1310 1283l11 4 11-4-11-4zM1333 1299l11 4 11-5-11-3zM1472 1241l11 3 10-4-11-3zM1379 1314l12 4 11-4-12-4z"/>
<path color="#c4763f" d="M1375 1206l10 3 10-3-11-3zM1415 1212l11 3 9-4-11-3zM1288 1269l11 3 11-4-11-4zM1426 1215l10 3 9-4-10-3zM1436 1218l11 3 9-4-11-3zM1311 1291l11 4 10-4-11-4zM1470 1234l12 3 9-4-11-3zM1403 1322l12 4 11-4-12-4zM1498 1298l13 4 9-5-12-3z"/>
<path color="#c97940" d="M1384 1203l11 3 9-4-11-3zM1278 1265l10 4 11-5-11-3zM1469 1227l11 3 9-4-11-3zM1511 1266l11 3 10-4-12-3zM1392 1327l12 4 11-5-12-4zM1513 1273l12 4 9-4-12-4zM1515 1281l12 4 10-4-12-4zM1460 1325l13 4 10-5-12-4z"/>
<path color="#cf7c41" d="M1393 1199l11 3 9-3-10-3zM1278 1280l11 4 10-4-10-4zM1289 1292l11 4 11-5-11-3zM1311 1308l12 4 11-5-12-4zM1491 1233l11 4 9-4-11-3zM1504 1244l11 3 9-4-11-3zM1520 1262l12 3 9-4-12-3zM1381 1332l13 4 10-5-12-4zM1527 1285l12 4 10-5-12-3zM1462 1334l13 4 10-5-12-4z"/>
<path color="#d48042" d="M1403 1196l10 3 9-4-10-3zM1257 1266l10 3 11-4-11-3zM1465 1213l11 4 9-4-11-3zM1312 1317l11 4 11-5-11-4zM1323 1321l12 4 11-5-12-4zM1529 1258l12 3 9-4-12-3zM1371 1337l12 4 11-5-13-4zM1532 1265l11 4 10-4-12-4zM1537 1281l12 3 9-4-12-4zM1418 1344l12 5 11-5-12-4zM1539 1289l13 3 9-4-12-4zM1441 1344l13 4 10-5-12-4zM1525 1314l13 4 10-4-13-4z"/>
<path color="#da8444" d="M1412 1192l10 3 9-3-11-3zM1463 1207l11 3 9-4-11-3zM1498 1223l11 3 8-4-11-3zM1324 1329l12 4 11-4-12-4zM1524 1243l12 3 9-4-12-3zM1336 1333l12 5 11-5-12-4zM1348 1338l11 4 12-5-12-4zM1359 1342l13 4 11-5-12-4zM1541 1261l12 4 9-5-12-3zM1407 1349l13 5 10-5-12-5zM1549 1284l12 4 9-4-12-4zM1477 1347l13 5 10-6-13-4zM1538 1318l13 4 9-4-12-4z"/>
<path color="#e08846" d="M1420 1189l11 3 8-4-10-2zM1235 1266l11 4 11-4-11-4zM1462 1200l10 3 9-3-11-3zM1278 1313l11 4 11-4-11-4zM1520 1229l11 3 9-4-12-3zM1432 1358l13 5 11-6-13-4zM1456 1357l13 5 10-5-13-5zM1551 1322l12 4 10-5-13-3z"/>
<path color="#9be6d3" d="M1134 1305l10 4 12-5-11-3z"/>
<path color="#b9efe1" d="M1145 1301l11 3 12-4-11-4z"/>
<path color="#ebf6ef" d="M1157 1296l11 4 11-5-10-3zM1176 1321l11 4 12-5-11-4z"/>
<path color="#f7ebd8" d="M1169 1292l10 3 11-4-10-4z"/>
<path color="#f6d4ae" d="M1180 1287l10 4 12-4-11-4z"/>
<path color="#f3bd85" d="M1191 1283l11 4 11-5-10-3zM1607 1267l12 3 8-4-12-3z"/>
<path color="#f1aa6b" d="M1203 1279l10 3 11-4-10-3z"/>
<path color="#ed9954" d="M1214 1275l10 3 11-4-10-4z"/>
<path color="#e88d47" d="M1225 1270l10 4 11-4-11-4zM1504 1212l11 3 9-3-11-3zM1398 1364l12 5 11-6-12-4zM1576 1300l13 4 9-5-12-4zM1458 1367l13 4 10-5-12-4z"/>
<path color="#d98344" d="M1246 1262l11 4 10-4-10-4zM1256 1281l11 4 11-5-11-3zM1267 1293l11 4 11-5-11-4zM1543 1269l12 3 10-4-12-3z"/>
<path color="#d37f42" d="M1257 1258l10 4 11-5-11-3zM1489 1226l11 4 9-4-11-3zM1335 1325l12 4 11-5-12-4zM1347 1329l12 4 11-5-12-4zM1533 1301l12 4 9-4-12-4z"/>
<path color="#c2743f" d="M1288 1246l10 4 11-4-11-4zM1385 1209l11 3 9-3-10-3zM1288 1253l11 4 10-4-11-3zM1459 1231l11 3 10-4-11-3zM1391 1318l12 4 11-4-12-4zM1458 1316l13 4 10-4-12-4zM1489 1303l12 3 10-4-13-4z"/>
<path color="#be733e" d="M1298 1242l11 4 10-4-11-4zM1406 1215l11 3 9-3-11-3zM1299 1264l11 4 10-4-11-4zM1417 1218l10 3 9-3-10-3zM1427 1221l11 3 9-3-11-3zM1438 1224l11 4 9-4-11-3zM1488 1259l11 3 9-4-11-3zM1490 1266l11 4 10-4-12-4zM1492 1274l12 4 9-5-12-3zM1486 1294l12 4 10-4-12-4z"/>
<path color="#b76f3d" d="M1318 1235l11 3 9-4-10-3zM1357 1220l10 3 10-4-10-3zM1332 1283l11 3 10-4-11-3zM1455 1299l12 4 10-4-12-4z"/>
<path color="#b56e3d" d="M1328 1231l10 3 10-4-10-3zM1338 1227l10 3 10-3-10-4zM1348 1223l10 4 9-4-10-3zM1319 1242l10 3 10-4-10-3zM1343 1286l11 4 11-4-12-4zM1467 1259l11 4 10-4-12-4zM1389 1301l11 4 11-4-12-4zM1471 1275l11 3 10-4-12-3z"/>
<path color="#c77840" d="M1395 1206l10 3 9-4-10-3zM1458 1224l11 3 9-4-11-3zM1415 1326l12 5 11-5-12-4zM1471 1320l12 4 10-4-12-4z"/>
<path color="#d27f42" d="M1413 1199l10 3 9-4-10-3zM1267 1277l11 3 11-4-11-3zM1454 1210l11 3 9-3-11-3zM1515 1247l12 3 9-4-12-3zM1406 1340l12 4 11-4-12-5z"/>
<path color="#d98343" d="M1422 1195l10 3 9-3-10-3zM1453 1204l10 3 9-4-10-3zM1511 1233l11 3 9-4-11-3zM1546 1276l12 4 9-4-12-4zM1545 1305l12 4 10-5-13-3z"/>
<path color="#e08745" d="M1431 1192l10 3 9-4-11-3zM1441 1195l10 3 9-4-10-3zM1451 1198l11 2 8-3-10-3zM1495 1216l11 3 9-4-11-3zM1553 1265l12 3 9-4-12-4zM1396 1355l13 4 11-5-13-5zM1557 1309l13 4 9-5-12-4z"/>
<path color="#abebda" d="M1144 1309l11 4 11-5-10-4z"/>
<path color="#d5f3e9" d="M1156 1304l10 4 12-4-10-4z"/>
<path color="#f8f2e8" d="M1168 1300l10 4 12-5-11-4z"/>
<path color="#f6e0c2" d="M1179 1295l11 4 11-4-11-4z"/>
<path color="#f5c694" d="M1190 1291l11 4 11-5-10-3zM1559 1384l13 4 11-5-14-5z"/>
<path color="#f1b175" d="M1202 1287l10 3 12-4-11-4z"/>
<path color="#ee9f5d" d="M1213 1282l11 4 11-4-11-4zM1290 1344l12 4 11-5-12-4zM1586 1267l12 4 9-4-13-4zM1595 1291l12 4 10-5-13-3zM1579 1339l14 5 9-5-13-5z"/>
<path color="#eb8f48" d="M1224 1278l11 4 11-5-11-3zM1301 1339l12 4 11-5-11-4zM1579 1308l13 4 10-4-13-4zM1516 1360l13 5 10-6-13-4z"/>
<path color="#e28a46" d="M1235 1274l11 3 10-4-10-3zM1506 1219l11 3 9-3-11-4zM1360 1351l13 4 11-5-12-4zM1523 1346l13 4 10-5-12-4zM1534 1341l12 4 11-5-13-4z"/>
<path color="#da8544" d="M1246 1270l10 3 11-4-10-3zM1278 1305l11 4 11-5-11-4zM1312 1325l12 4 11-4-12-4zM1552 1292l12 4 9-4-12-4z"/>
<path color="#ce7c41" d="M1267 1262l11 3 10-4-10-4zM1467 1220l11 3 9-3-11-3zM1522 1269l12 4 9-4-11-4zM1525 1277l12 4 9-5-12-3zM1417 1335l12 5 10-5-12-4z"/>
<path color="#c97840" d="M1278 1257l10 4 11-4-11-4zM1322 1303l12 4 10-4-11-4zM1501 1306l12 4 10-4-12-4z"/>
<path color="#b86f3e" d="M1309 1246l10 3 10-4-10-3zM1309 1253l10 3 11-4-11-3zM1309 1260l11 4 10-4-11-4zM1407 1222l11 3 9-4-10-3zM1429 1228l10 3 10-3-11-4z"/>
<path color="#b26d3d" d="M1329 1238l10 3 10-4-11-3zM1409 1229l10 3 10-4-11-3zM1419 1232l11 3 9-4-10-3zM1461 1279l12 4 9-5-11-3zM1443 1296l12 3 10-4-12-4z"/>
<path color="#b26c3d" d="M1338 1234l11 3 10-3-11-4zM1358 1227l10 3 10-4-11-3zM1378 1226l10 3 10-4-11-3zM1331 1267l11 4 10-4-11-4zM1342 1279l11 3 11-4-11-4zM1455 1256l12 3 9-4-11-3z"/>
<path color="#b16c3d" d="M1348 1230l11 4 9-4-10-3zM1329 1245l11 3 10-4-11-3zM1443 1245l11 4 9-4-11-3zM1457 1264l12 3 9-4-11-4zM1399 1297l12 4 10-5-12-3zM1459 1271l12 4 9-4-11-4zM1421 1296l12 4 10-4-12-4z"/>
<path color="#b46e3d" d="M1367 1223l11 3 9-4-10-3zM1387 1222l11 3 9-3-10-3zM1320 1264l11 3 10-4-11-3zM1441 1238l11 4 9-4-11-4zM1354 1290l12 4 10-4-11-4zM1377 1298l12 3 10-4-12-4zM1469 1267l11 4 10-5-12-3zM1463 1287l12 4 9-5-11-3z"/>
<path color="#b76e3d" d="M1377 1219l10 3 10-3-11-3zM1320 1271l11 4 11-4-11-4zM1452 1242l11 3 9-4-11-3zM1465 1252l11 3 10-4-12-3zM1400 1305l12 4 10-4-11-4z"/>
<path color="#c5773f" d="M1405 1209l10 3 9-4-10-3zM1447 1221l11 3 9-4-11-3z"/>
<path color="#cc7a41" d="M1414 1205l10 3 9-4-10-2zM1278 1273l11 3 10-4-11-3zM1445 1214l11 3 9-4-11-3zM1300 1296l11 4 11-5-11-4zM1480 1230l11 3 9-3-11-4zM1506 1251l12 3 9-4-12-3zM1483 1324l12 4 11-4-13-4zM1493 1320l13 4 10-5-13-4z"/>
<path color="#d17e41" d="M1423 1202l10 2 9-3-10-3zM1433 1204l11 3 9-3-11-3zM1444 1207l10 3 9-3-10-3zM1300 1304l11 4 11-5-11-3zM1502 1237l11 3 9-4-11-3zM1429 1340l12 4 11-5-13-4zM1452 1339l12 4 11-5-13-4zM1495 1328l13 4 10-4-12-4zM1506 1324l12 4 10-5-12-4z"/>
<path color="#d88343" d="M1432 1198l10 3 9-3-10-3zM1442 1201l11 3 9-4-11-2zM1289 1309l11 4 11-5-11-4zM1430 1349l13 4 11-5-13-4zM1454 1348l12 4 11-5-13-4z"/>
<path color="#bcf0e2" d="M1155 1313l10 4 12-5-11-4z"/>
<path color="#eff6f0" d="M1166 1308l11 4 12-4-11-4z"/>
<path color="#f7ead5" d="M1178 1304l11 4 11-5-10-4z"/>
<path color="#f6d2a8" d="M1190 1299l10 4 12-4-11-4z"/>
<path color="#f3ba80" d="M1201 1295l11 4 11-5-11-4z"/>
<path color="#f0a767" d="M1212 1290l11 4 11-4-10-4zM1223 1302l10 4 12-4-11-4zM1497 1381l13 4 11-5-13-5zM1542 1369l14 5 10-6-14-4z"/>
<path color="#ec954f" d="M1224 1286l10 4 11-5-10-3zM1423 1373l13 5 11-6-13-4z"/>
<path color="#de8645" d="M1246 1277l10 4 11-4-11-4zM1267 1301l11 4 11-5-11-3zM1289 1317l12 4 11-4-12-4zM1536 1246l11 4 9-4-11-4zM1541 1327l13 4 9-5-12-4z"/>
<path color="#d68143" d="M1256 1273l11 4 11-4-11-4zM1300 1313l12 4 11-5-12-4zM1527 1250l11 4 9-4-11-4zM1542 1297l12 4 10-5-12-4zM1498 1337l13 5 10-5-13-5zM1508 1332l13 5 10-5-13-4zM1518 1328l13 4 10-5-13-4z"/>
<path color="#cf7d41" d="M1267 1269l11 4 10-4-10-4z"/>
<path color="#c3753f" d="M1288 1261l11 3 10-4-10-3zM1322 1295l11 4 11-4-12-4zM1426 1322l12 4 10-5-12-4z"/>
<path color="#b36e3d" d="M1319 1249l11 3 10-4-11-3zM1331 1275l11 4 11-5-11-3zM1433 1300l12 4 10-5-12-3z"/>
<path color="#af6b3c" d="M1339 1241l11 3 9-3-10-4zM1368 1230l11 3 9-4-10-3zM1342 1271l11 3 10-4-11-3zM1432 1242l11 3 9-3-11-4zM1365 1286l11 4 10-5-11-3zM1444 1253l11 3 10-4-11-3zM1376 1290l11 3 11-4-12-4zM1431 1292l12 4 10-5-12-3zM1441 1288l12 3 10-4-12-4z"/>
<path color="#ae6a3c" d="M1349 1237l10 4 10-4-10-3zM1359 1234l10 3 10-4-11-3zM1399 1232l11 4 9-4-10-3zM1410 1236l11 3 9-4-11-3zM1421 1239l11 3 9-4-11-3zM1409 1293l12 3 10-4-12-4zM1449 1275l12 4 10-4-12-4z"/>
<path color="#cb7a41" d="M1424 1208l11 3 9-4-11-3zM1435 1211l10 3 9-4-10-3zM1404 1331l13 4 10-4-12-5z"/>
<path color="#d4f3e8" d="M1165 1317l11 4 12-5-11-4z"/>
<path color="#f8f2e7" d="M1177 1312l11 4 12-5-11-3zM1443 1419l14 5 12-6-14-5z"/>
<path color="#f6e0c0" d="M1189 1308l11 3 11-4-11-4z"/>
<path color="#f5c591" d="M1200 1303l11 4 12-5-11-3z"/>
<path color="#f1b073" d="M1212 1299l11 3 11-4-11-4zM1244 1327l11 4 12-4-12-4zM1560 1228l11 3 9-4-12-3z"/>
<path color="#ee9d5a" d="M1223 1294l11 4 11-5-11-3zM1551 1232l11 3 9-4-11-3z"/>
<path color="#ea8e47" d="M1234 1290l11 3 11-4-11-4zM1528 1225l12 3 8-3-11-3zM1542 1235l12 4 8-4-11-3zM1313 1343l12 4 11-5-12-4z"/>
<path color="#e08946" d="M1245 1285l11 4 11-4-11-4zM1550 1257l12 3 9-4-12-3z"/>
<path color="#b36d3d" d="M1319 1256l11 4 10-4-10-4zM1398 1225l11 4 9-4-11-3zM1430 1235l11 3 9-4-11-3zM1454 1249l11 3 9-4-11-3zM1366 1294l11 4 10-5-11-3zM1411 1301l11 4 11-5-12-4zM1453 1291l12 4 10-4-12-4z"/>
<path color="#b06b3c" d="M1330 1252l10 4 10-4-10-4zM1388 1229l11 3 10-3-11-4zM1330 1260l11 3 10-4-11-3zM1353 1282l12 4 10-4-11-4zM1387 1293l12 4 10-4-11-4zM1451 1283l12 4 10-4-12-4z"/>
<path color="#ad6a3c" d="M1340 1248l10 4 10-4-10-4zM1379 1233l11 3 9-4-11-3zM1341 1263l11 4 10-4-11-4zM1353 1274l11 4 10-4-11-4zM1446 1260l11 4 10-5-12-3zM1448 1268l11 3 10-4-12-3z"/>
<path color="#ac693c" d="M1350 1244l10 4 10-4-11-3zM1369 1237l11 3 10-4-11-3zM1390 1236l10 3 10-3-11-4zM1422 1246l11 3 10-4-11-3zM1364 1278l11 4 10-5-11-3zM1375 1282l11 3 11-4-12-4zM1435 1257l11 3 9-4-11-3zM1386 1285l12 4 10-4-11-4z"/>
<path color="#ab693c" d="M1359 1241l11 3 10-4-11-3zM1350 1252l11 3 10-4-11-3zM1400 1239l11 4 10-4-11-3zM1352 1267l11 3 10-4-11-3zM1411 1243l11 3 10-4-11-3zM1436 1264l12 4 9-4-11-4zM1408 1285l11 3 10-4-11-4zM1438 1272l11 3 10-4-11-3z"/>
<path color="#f7ebd7" d="M1188 1316l11 4 12-5-11-4z"/>
<path color="#f6d3aa" d="M1200 1311l11 4 11-4-11-4z"/>
<path color="#f3ba81" d="M1211 1307l11 4 11-5-10-4zM1571 1231l11 3 9-4-11-3zM1535 1384l13 5 11-5-14-5z"/>
<path color="#ec944e" d="M1234 1298l11 4 11-5-11-4zM1540 1228l11 4 9-4-12-3zM1583 1317l13 4 9-5-13-4z"/>
<path color="#e58b47" d="M1245 1293l11 4 11-4-11-4zM1289 1326l12 4 11-5-11-4zM1531 1232l11 3 9-3-11-4zM1567 1276l13 3 9-4-12-3zM1421 1363l13 5 11-5-13-5zM1554 1331l12 4 10-5-13-4z"/>
<path color="#dd8545" d="M1256 1289l11 4 11-5-11-3zM1485 1213l10 3 9-4-11-3zM1522 1236l11 3 9-4-11-3z"/>
<path color="#d58042" d="M1267 1285l11 3 11-4-11-4zM1476 1217l11 3 8-4-10-3zM1513 1240l11 3 9-4-11-3zM1464 1343l13 4 10-5-12-4z"/>
<path color="#ba703e" d="M1310 1268l10 3 11-4-11-3z"/>
<path color="#ad693c" d="M1340 1256l11 3 10-4-11-3zM1433 1249l11 4 10-4-11-4zM1398 1289l11 4 10-5-11-3zM1419 1288l12 4 10-4-12-4zM1429 1284l12 4 10-5-12-3zM1439 1280l12 3 10-4-12-4z"/>
<path color="#a9683c" d="M1360 1248l11 3 10-4-11-3zM1370 1244l11 3 10-4-11-3zM1391 1243l10 4 10-4-11-4zM1374 1274l11 3 10-4-11-3zM1385 1277l12 4 10-4-12-4zM1425 1261l11 3 10-4-11-3zM1397 1281l11 4 10-5-11-3zM1426 1268l12 4 10-4-12-4z"/>
<path color="#aa693c" d="M1380 1240l11 3 9-4-10-3zM1351 1259l11 4 10-5-11-3zM1418 1280l11 4 10-4-11-4zM1428 1276l11 4 10-5-11-3z"/>
<path color="#b86f3d" d="M1418 1225l11 3 9-4-11-3zM1445 1304l11 4 11-5-12-4zM1465 1295l12 4 9-5-11-3z"/>
<path color="#e18946" d="M1472 1203l11 3 9-3-11-3zM1256 1297l11 4 11-4-11-4zM1533 1239l12 3 9-3-12-4zM1324 1338l12 4 12-4-12-5zM1336 1342l12 5 11-5-11-4zM1348 1347l12 4 12-5-13-4zM1564 1296l12 4 10-5-13-3zM1479 1357l13 4 11-5-13-4z"/>
<path color="#f8f5ec" d="M1187 1325l11 4 12-5-11-4zM1659 1310l13 4 9-5-13-3z"/>
<path color="#f7e2c6" d="M1199 1320l11 4 12-5-11-4z"/>
<path color="#f5c896" d="M1211 1315l11 4 11-4-11-4z"/>
<path color="#f1b275" d="M1222 1311l11 4 11-5-11-4zM1278 1349l12 4 12-5-12-4zM1611 1303l13 4 9-5-13-3z"/>
<path color="#ee9e5c" d="M1233 1306l11 4 12-4-11-4zM1350 1366l12 4 12-5-13-5z"/>
<path color="#ea8f47" d="M1245 1302l11 4 11-5-11-4z"/>
<path color="#d27e41" d="M1278 1288l11 4 11-4-11-4zM1485 1333l13 4 10-5-13-4z"/>
<path color="#cb7a40" d="M1289 1284l11 4 10-5-11-3zM1493 1240l11 4 9-4-11-3zM1518 1289l12 4 9-4-12-4zM1450 1330l12 4 11-5-13-4z"/>
<path color="#a8683c" d="M1361 1255l11 3 10-4-11-3zM1362 1263l11 3 10-4-11-4zM1401 1247l11 3 10-4-11-3zM1412 1250l11 3 10-4-11-3zM1407 1277l11 3 10-4-11-4z"/>
<path color="#a7673c" d="M1371 1251l11 3 10-3-11-4zM1381 1247l11 4 9-4-10-4zM1372 1258l11 4 10-4-11-4zM1392 1251l11 3 9-4-11-3zM1373 1266l11 4 10-5-11-3zM1403 1254l11 3 9-4-11-3zM1384 1270l11 3 10-4-11-4zM1414 1257l11 4 10-4-12-4zM1395 1273l12 4 10-5-12-3zM1405 1269l12 3 9-4-11-3zM1415 1265l11 3 10-4-11-3z"/>
<path color="#db8544" d="M1474 1210l11 3 8-4-10-3zM1538 1254l12 3 9-4-12-3zM1372 1346l12 4 11-5-12-4zM1443 1353l13 4 10-5-12-4z"/>
<path color="#e38a47" d="M1483 1206l10 3 9-3-10-3zM1567 1304l12 4 10-4-13-4zM1544 1336l13 4 9-5-12-4z"/>
<path color="#f7eede" d="M1198 1329l11 4 12-5-11-4z"/>
<path color="#f6d8b2" d="M1210 1324l11 4 12-5-11-4z"/>
<path color="#f4be85" d="M1222 1319l11 4 11-4-11-4z"/>
<path color="#f0a96b" d="M1233 1315l11 4 12-5-12-4z"/>
<path color="#ec9652" d="M1244 1310l12 4 11-5-11-3z"/>
<path color="#e68c47" d="M1256 1306l11 3 11-4-11-4zM1278 1322l11 4 12-5-12-4zM1545 1242l11 4 9-4-11-3zM1562 1260l12 4 8-4-11-4zM1573 1292l13 3 9-4-12-4zM1570 1313l13 4 9-5-13-4zM1492 1361l13 4 11-5-13-4z"/>
<path color="#d58143" d="M1278 1297l11 3 11-4-11-4zM1383 1341l12 4 11-5-12-4zM1535 1310l13 4 9-5-12-4z"/>
<path color="#a7663c" d="M1382 1254l11 4 10-4-11-3zM1383 1262l11 3 10-4-11-3zM1404 1261l11 4 10-4-11-4z"/>
<path color="#b8703e" d="M1439 1231l11 3 9-3-10-3zM1367 1302l11 4 11-5-12-3zM1480 1271l12 3 9-4-11-4zM1412 1309l12 4 10-5-12-3zM1475 1291l11 3 10-4-12-4z"/>
<path color="#f7e8d1" d="M1209 1333l11 4 12-5-11-4zM1624 1259l12 3 9-4-12-3z"/>
<path color="#f5cea2" d="M1221 1328l11 4 12-5-11-4zM1477 1402l14 5 11-6-13-5z"/>
<path color="#f2b67c" d="M1233 1323l11 4 11-4-11-4zM1586 1358l14 4 10-5-14-4z"/>
<path color="#efa262" d="M1244 1319l11 4 12-5-11-4zM1596 1321l12 4 10-5-13-4z"/>
<path color="#eb9049" d="M1256 1314l11 4 11-5-11-4zM1577 1272l12 3 9-4-12-4zM1580 1279l12 4 9-4-12-4zM1566 1335l13 4 10-5-13-4z"/>
<path color="#e38a46" d="M1267 1309l11 4 11-4-11-4zM1301 1330l12 4 11-5-12-4zM1547 1250l12 3 9-4-12-3zM1560 1318l13 3 10-4-13-4zM1513 1351l13 4 10-5-13-4z"/>
<path color="#d38042" d="M1289 1300l11 4 11-4-11-4zM1359 1333l12 4 10-5-11-4zM1534 1273l12 3 9-4-12-3zM1475 1338l12 4 11-5-13-4z"/>
<path color="#be723e" d="M1321 1287l11 4 11-5-11-3z"/>
<path color="#aa683c" d="M1363 1270l11 4 10-4-11-4zM1423 1253l12 4 9-4-11-4z"/>
<path color="#a6663c" d="M1393 1258l11 3 10-4-11-3zM1394 1265l11 4 10-4-11-4z"/>
<path color="#d07d41" d="M1478 1223l11 3 9-3-11-3zM1518 1254l11 4 9-4-11-4zM1394 1336l12 4 11-5-13-4zM1523 1306l12 4 10-5-12-4z"/>
<path color="#d78243" d="M1487 1220l11 3 8-4-11-3zM1395 1345l12 4 11-5-12-4z"/>
<path color="#f6e0c3" d="M1220 1337l12 4 12-5-12-4z"/>
<path color="#f5c593" d="M1232 1332l12 4 11-5-11-4zM1352 1385l12 5 12-5-13-5z"/>
<path color="#ee9c59" d="M1255 1323l12 4 11-5-11-4zM1338 1361l12 5 11-6-12-4zM1592 1312l13 4 9-5-12-3zM1518 1370l14 4 10-5-13-4z"/>
<path color="#e98e47" d="M1267 1318l11 4 11-5-11-4zM1325 1347l12 5 11-5-12-5zM1337 1352l12 4 11-5-12-4zM1559 1253l12 3 9-4-12-3zM1434 1368l13 4 11-5-13-4zM1481 1366l14 5 10-6-13-4zM1526 1355l13 4 10-5-13-4zM1536 1350l13 4 11-5-14-4zM1546 1345l14 4 10-5-13-4z"/>
<path color="#ca7a40" d="M1311 1300l11 3 11-4-11-4zM1508 1258l12 4 9-4-11-4zM1427 1331l12 4 11-5-12-4zM1511 1302l12 4 10-5-13-4z"/>
<path color="#eb9048" d="M1515 1215l11 4 9-4-11-3zM1290 1335l11 4 12-5-12-4zM1556 1246l12 3 9-4-12-3zM1361 1360l13 5 11-5-12-5zM1410 1369l13 4 11-5-13-5z"/>
<path color="#f6d8b4" d="M1232 1341l11 4 12-4-11-5z"/>
<path color="#f4be86" d="M1244 1336l11 5 12-5-12-5zM1585 1241l12 4 9-4-12-4zM1620 1299l13 3 9-4-13-4z"/>
<path color="#f1aa6c" d="M1255 1331l12 5 11-5-11-4z"/>
<path color="#ed9752" d="M1267 1327l11 4 11-5-11-4zM1589 1304l13 4 9-5-13-4zM1549 1354l14 5 10-5-13-5z"/>
<path color="#d58043" d="M1500 1230l11 3 9-4-11-3z"/>
<path color="#dd8645" d="M1509 1226l11 3 8-4-11-3zM1384 1350l12 5 11-6-12-4zM1500 1346l13 5 10-5-12-4z"/>
<path color="#ec9651" d="M1526 1219l11 3 9-4-11-3zM1386 1369l13 5 11-5-12-5zM1495 1371l13 4 10-5-13-5z"/>
<path color="#f6d1a8" d="M1243 1345l12 5 12-5-12-4z"/>
<path color="#f3b980" d="M1255 1341l12 4 11-5-11-4zM1500 1391l13 4 11-5-14-5zM1596 1353l14 4 9-5-13-4z"/>
<path color="#f0a665" d="M1267 1336l11 4 12-5-12-4zM1563 1359l13 4 10-5-13-4z"/>
<path color="#ec934d" d="M1278 1331l12 4 11-5-12-4z"/>
<path color="#dc8544" d="M1301 1321l11 4 11-4-11-4zM1548 1314l12 4 10-5-13-4zM1511 1342l12 4 11-5-13-4zM1521 1337l13 4 10-5-13-4z"/>
<path color="#ce7b41" d="M1323 1312l11 4 11-5-11-4zM1370 1328l11 4 11-5-12-4zM1439 1335l13 4 10-5-12-4zM1513 1310l12 4 10-4-12-4z"/>
<path color="#c77740" d="M1334 1307l11 4 11-4-12-4zM1369 1319l11 4 11-5-12-4zM1438 1326l12 4 10-5-12-4zM1481 1316l12 4 10-5-12-4zM1491 1311l12 4 10-5-12-4z"/>
<path color="#a8673c" d="M1417 1272l11 4 10-4-12-4z"/>
<path color="#ee9d5b" d="M1537 1222l11 3 9-4-11-3z"/>
<path color="#f5cc9e" d="M1255 1350l12 4 11-5-11-4z"/>
<path color="#f2b57a" d="M1267 1345l11 4 12-5-12-4z"/>
<path color="#efa260" d="M1278 1340l12 4 11-5-11-4zM1582 1260l12 3 9-4-12-3z"/>
<path color="#c67740" d="M1345 1311l12 4 11-4-12-4zM1357 1315l12 4 10-5-11-3z"/>
<path color="#c1743f" d="M1486 1251l11 4 9-4-11-3zM1496 1290l12 4 10-5-12-3zM1469 1312l12 4 10-5-12-4zM1479 1307l12 4 10-5-12-3z"/>
<path color="#f0a666" d="M1548 1225l12 3 8-4-11-3zM1580 1252l11 4 9-4-12-3zM1602 1308l12 3 10-4-13-4z"/>
<path color="#f5c796" d="M1267 1354l11 4 12-5-12-4zM1582 1234l12 3 9-3-12-4z"/>
<path color="#e28946" d="M1313 1334l11 4 12-5-12-4zM1409 1359l12 4 11-5-12-4z"/>
<path color="#cd7a41" d="M1346 1320l12 4 11-5-12-4zM1503 1315l13 4 9-5-12-4z"/>
<path color="#c5763f" d="M1497 1255l11 3 10-4-12-3zM1506 1286l12 3 9-4-12-4z"/>
<path color="#f4c490" d="M1278 1358l12 5 12-5-12-5zM1439 1398l14 5 11-6-13-5zM1579 1373l14 4 10-5-13-4z"/>
<path color="#f1af72" d="M1290 1353l12 5 12-5-12-5zM1594 1263l13 4 8-4-12-4zM1438 1388l13 4 11-5-13-5z"/>
<path color="#ee9c5a" d="M1302 1348l12 5 11-6-12-4z"/>
<path color="#ec9650" d="M1554 1239l11 3 9-4-12-3zM1571 1256l11 4 9-4-11-4z"/>
<path color="#f0a768" d="M1562 1235l12 3 8-4-11-3zM1425 1383l13 5 11-6-13-4zM1573 1354l13 4 10-5-13-4z"/>
<path color="#f4c18b" d="M1290 1363l12 4 12-5-12-4zM1464 1397l13 5 12-6-14-5z"/>
<path color="#f1ad70" d="M1302 1358l12 4 12-5-12-4zM1326 1366l12 5 12-5-12-5zM1400 1384l13 4 12-5-13-5z"/>
<path color="#ee9c58" d="M1314 1353l12 4 11-5-12-5zM1326 1357l12 4 11-5-12-4zM1436 1378l13 4 11-5-13-5zM1484 1376l13 5 11-6-13-4z"/>
<path color="#b66e3d" d="M1422 1305l12 3 11-4-12-4zM1473 1283l11 3 10-4-12-4z"/>
<path color="#eea05e" d="M1565 1242l12 3 8-4-11-3z"/>
<path color="#f1b276" d="M1574 1238l11 3 9-4-12-3z"/>
<path color="#f4bf89" d="M1302 1367l12 5 12-6-12-4z"/>
<path color="#f1ad6f" d="M1314 1362l12 4 12-5-12-4zM1598 1271l12 4 9-5-12-3zM1462 1387l13 4 11-5-13-5zM1521 1380l14 4 10-5-13-5z"/>
<path color="#ed9a56" d="M1568 1249l12 3 8-3-11-4z"/>
<path color="#f1ab6d" d="M1577 1245l11 4 9-4-12-4z"/>
<path color="#f6d6b0" d="M1594 1237l12 4 8-4-11-3z"/>
<path color="#f4bf88" d="M1314 1372l13 4 11-5-12-5zM1524 1390l14 5 10-6-13-5z"/>
<path color="#ea8f48" d="M1349 1356l12 4 12-5-13-4zM1573 1321l13 5 10-5-13-4zM1557 1340l13 4 9-5-13-4z"/>
<path color="#bc713e" d="M1467 1303l12 4 10-4-12-4z"/>
<path color="#f2b87e" d="M1588 1249l12 3 9-4-12-3zM1376 1385l13 4 11-5-12-5z"/>
<path color="#f5cda0" d="M1597 1245l12 3 8-4-11-3zM1610 1357l13 5 10-6-14-4z"/>
<path color="#f7e6cd" d="M1606 1241l11 3 9-4-12-3zM1644 1328l13 4 10-5-14-4z"/>
<path color="#f4c08a" d="M1327 1376l12 5 12-6-13-4zM1603 1259l12 4 9-4-12-4z"/>
<path color="#f1ae71" d="M1338 1371l13 4 11-5-12-4zM1607 1295l13 4 9-5-12-4zM1486 1386l14 5 10-6-13-4zM1593 1344l13 4 10-5-14-4z"/>
<path color="#e48b47" d="M1373 1355l12 5 11-5-12-5zM1445 1363l13 4 11-5-13-5zM1469 1362l12 4 11-5-13-4zM1503 1356l13 4 10-5-13-4z"/>
<path color="#ec924c" d="M1574 1264l12 3 8-4-12-3zM1471 1371l13 5 11-5-14-5z"/>
<path color="#f1b277" d="M1591 1256l12 3 9-4-12-3zM1608 1325l14 4 9-5-13-4zM1510 1385l14 5 11-6-14-4z"/>
<path color="#f5c693" d="M1600 1252l12 3 9-4-12-3zM1616 1343l13 4 10-5-14-4z"/>
<path color="#f6debe" d="M1609 1248l12 3 8-4-12-3zM1640 1319l13 4 10-4-14-4z"/>
<path color="#f8f1e3" d="M1617 1244l12 3 9-4-12-3zM1651 1293l13 4 8-4-12-4z"/>
<path color="#f4c38e" d="M1339 1381l13 4 11-5-12-5zM1402 1394l13 5 11-6-13-5z"/>
<path color="#f1b174" d="M1351 1375l12 5 12-5-13-5z"/>
<path color="#efa15f" d="M1362 1370l13 5 11-6-12-4zM1412 1378l13 5 11-5-13-5zM1508 1375l13 5 11-6-14-4z"/>
<path color="#eb924c" d="M1374 1365l12 4 12-5-13-4z"/>
<path color="#d07e41" d="M1530 1293l12 4 10-5-13-3z"/>
<path color="#f6d7b2" d="M1612 1255l12 4 9-4-12-4zM1636 1311l13 4 10-5-13-4zM1527 1400l14 5 10-6-13-4z"/>
<path color="#f7ebd9" d="M1621 1251l12 4 8-4-12-4z"/>
<path color="#eef6f0" d="M1629 1247l12 4 9-4-12-4z"/>
<path color="#f2b378" d="M1363 1380l13 5 12-6-13-4z"/>
<path color="#dc8545" d="M1420 1354l12 4 11-5-13-4zM1554 1301l13 3 9-4-12-4zM1466 1352l13 5 11-5-13-5zM1531 1332l13 4 10-5-13-4z"/>
<path color="#e08845" d="M1561 1288l12 4 10-5-13-3z"/>
<path color="#ee9e5b" d="M1589 1275l12 4 9-4-12-4zM1592 1283l12 4 9-5-12-3z"/>
<path color="#f6d2a9" d="M1615 1263l12 3 9-4-12-3zM1633 1302l13 4 9-4-13-4z"/>
<path color="#f8f6f1" d="M1633 1255l12 3 8-4-12-3z"/>
<path color="#cdf1e6" d="M1641 1251l12 3 9-4-12-3zM1676 1323l13 4 9-5-13-4z"/>
<path color="#f5c99b" d="M1364 1390l13 5 12-6-13-4z"/>
<path color="#f0a869" d="M1388 1379l12 5 12-6-13-4z"/>
<path color="#ed9b57" d="M1399 1374l13 4 11-5-13-4zM1460 1377l13 4 11-5-13-5z"/>
<path color="#eb914a" d="M1583 1287l12 4 9-4-12-4z"/>
<path color="#f1ac6e" d="M1601 1279l12 3 9-4-12-3zM1605 1316l13 4 9-5-13-4z"/>
<path color="#f3bb82" d="M1610 1275l12 3 9-4-12-4zM1613 1282l13 4 9-4-13-4zM1426 1393l13 5 12-6-13-4zM1612 1334l13 4 10-5-13-4z"/>
<path color="#f6cfa3" d="M1619 1270l12 4 9-4-13-4zM1629 1294l13 4 9-5-13-3zM1453 1403l13 5 11-6-13-5zM1625 1338l14 4 9-5-13-4z"/>
<path color="#f7e5ca" d="M1627 1266l13 4 8-4-12-4z"/>
<path color="#f8f3ea" d="M1636 1262l12 4 9-4-12-4z"/>
<path color="#d9f3ea" d="M1645 1258l12 4 8-5-12-3zM1672 1314l13 4 9-5-13-4z"/>
<path color="#b0ecdd" d="M1653 1254l12 3 9-4-12-3z"/>
<path color="#f6cfa4" d="M1377 1395l13 5 12-6-13-5z"/>
<path color="#f3bc84" d="M1389 1389l13 5 11-6-13-4zM1618 1320l13 4 9-5-13-4z"/>
<path color="#f1ad6e" d="M1604 1287l13 3 9-4-13-4z"/>
<path color="#f5cda1" d="M1622 1278l13 4 8-5-12-3zM1626 1286l12 4 9-5-12-3z"/>
<path color="#f7e2c5" d="M1631 1274l12 3 9-4-12-3z"/>
<path color="#f8f1e5" d="M1640 1270l12 3 9-4-13-3z"/>
<path color="#e1f4ec" d="M1648 1266l13 3 8-4-12-3zM1668 1306l13 3 9-4-13-4z"/>
<path color="#b6efe0" d="M1657 1262l12 3 9-4-13-4z"/>
<path color="#9ce6d4" d="M1665 1257l13 4 8-4-12-4z"/>
<path color="#f6d5af" d="M1390 1400l13 4 12-5-13-5z"/>
<path color="#f2b479" d="M1413 1388l13 5 12-5-13-5z"/>
<path color="#eb924b" d="M1447 1372l13 5 11-6-13-4z"/>
<path color="#efa261" d="M1598 1299l13 4 9-4-13-4z"/>
<path color="#f3bc83" d="M1617 1290l12 4 9-4-12-4z"/>
<path color="#f6e1c4" d="M1635 1282l12 3 9-4-13-4z"/>
<path color="#f8f0e2" d="M1643 1277l13 4 9-4-13-4zM1469 1418l13 5 12-6-14-5z"/>
<path color="#e6f5ed" d="M1652 1273l13 4 8-4-12-4zM1664 1297l13 4 8-4-13-4z"/>
<path color="#bdf0e2" d="M1661 1269l12 4 9-5-13-3z"/>
<path color="#a1e8d6" d="M1669 1265l13 3 8-4-12-3z"/>
<path color="#86e0c9" d="M1678 1261l12 3 8-4-12-3z"/>
<path color="#f6ddbd" d="M1403 1404l13 5 12-5-13-5z"/>
<path color="#f5cb9c" d="M1415 1399l13 5 11-6-13-5z"/>
<path color="#e78c47" d="M1563 1326l13 4 10-4-13-5z"/>
<path color="#f7e1c4" d="M1638 1290l13 3 9-4-13-4z"/>
<path color="#f8f0e1" d="M1647 1285l13 4 8-4-12-4zM1494 1417l14 5 11-5-14-5z"/>
<path color="#eaf6ee" d="M1656 1281l12 4 9-5-12-3zM1660 1289l12 4 9-5-13-3z"/>
<path color="#c1f1e3" d="M1665 1277l12 3 9-4-13-3z"/>
<path color="#a5e9d8" d="M1673 1273l13 3 8-4-12-4z"/>
<path color="#8be1cb" d="M1682 1268l12 4 9-4-13-4zM1703 1309l13 4 9-5-14-4z"/>
<path color="#74d9c0" d="M1690 1264l13 4 8-4-13-4z"/>
<path color="#f7e6cc" d="M1416 1409l14 5 11-6-13-4z"/>
<path color="#f6d4ad" d="M1428 1404l13 4 12-5-14-5z"/>
<path color="#f2b77d" d="M1451 1392l13 5 11-6-13-4z"/>
<path color="#eb904a" d="M1505 1365l13 5 11-5-13-5z"/>
<path color="#ec9550" d="M1576 1330l13 4 10-4-13-4z"/>
<path color="#ed9c58" d="M1586 1326l13 4 9-5-12-4z"/>
<path color="#f4c28d" d="M1624 1307l12 4 10-5-13-4z"/>
<path color="#f7e4c9" d="M1642 1298l13 4 9-5-13-4z"/>
<path color="#c3f1e4" d="M1668 1285l13 3 9-4-13-4z"/>
<path color="#a7ead9" d="M1677 1280l13 4 8-4-12-4zM1681 1288l13 4 9-4-13-4zM1685 1297l13 3 9-4-13-4z"/>
<path color="#8ee2cd" d="M1686 1276l12 4 9-4-13-4zM1698 1300l13 4 9-4-13-4z"/>
<path color="#76dac1" d="M1694 1272l13 4 8-5-12-3z"/>
<path color="#6dd1ba" d="M1703 1268l12 3 9-4-13-3z"/>
<path color="#f7ecd9" d="M1430 1414l13 5 12-6-14-5z"/>
<path color="#f6dfbf" d="M1441 1408l14 5 11-5-13-5z"/>
<path color="#f2b77c" d="M1475 1391l14 5 11-5-14-5zM1545 1379l14 5 10-6-13-4z"/>
<path color="#ed9955" d="M1529 1365l13 4 10-5-13-5z"/>
<path color="#ed9853" d="M1539 1359l13 5 11-5-14-5z"/>
<path color="#ed9854" d="M1560 1349l13 5 10-5-13-5z"/>
<path color="#ed9b58" d="M1570 1344l13 5 10-5-14-5z"/>
<path color="#f1ab6c" d="M1599 1330l13 4 10-5-14-4z"/>
<path color="#f5c998" d="M1627 1315l13 4 9-4-13-4z"/>
<path color="#f7e7cf" d="M1646 1306l13 4 9-4-13-4zM1480 1412l14 5 11-5-14-5z"/>
<path color="#f8f2e6" d="M1655 1302l13 4 9-5-13-4z"/>
<path color="#c2f1e4" d="M1672 1293l13 4 9-5-13-4z"/>
<path color="#90e2ce" d="M1690 1284l13 4 8-5-13-3zM1694 1292l13 4 9-5-13-3z"/>
<path color="#77dac2" d="M1698 1280l13 3 9-4-13-3z"/>
<path color="#6ed3bb" d="M1707 1276l13 3 8-4-13-4z"/>
<path color="#64cab5" d="M1715 1271l13 4 8-4-12-4z"/>
<path color="#f7e9d2" d="M1455 1413l14 5 11-6-14-4zM1505 1412l14 5 11-6-14-5z"/>
<path color="#f6dbb8" d="M1466 1408l14 4 11-5-14-5z"/>
<path color="#f4c28c" d="M1489 1396l13 5 11-6-13-4z"/>
<path color="#f0a96a" d="M1532 1374l13 5 11-5-14-5z"/>
<path color="#f0a565" d="M1552 1364l14 4 10-5-13-4z"/>
<path color="#f0aa6b" d="M1583 1349l13 4 10-5-13-4z"/>
<path color="#f2b379" d="M1602 1339l14 4 9-5-13-4zM1566 1368l13 5 11-5-14-5z"/>
<path color="#f5c490" d="M1622 1329l13 4 9-5-13-4zM1569 1378l14 5 10-6-14-4z"/>
<path color="#f6d0a6" d="M1631 1324l13 4 9-5-13-4zM1502 1401l14 5 11-6-14-5z"/>
<path color="#f7ebd6" d="M1649 1315l14 4 9-5-13-4z"/>
<path color="#bef0e2" d="M1677 1301l13 4 8-5-13-3z"/>
<path color="#78dac3" d="M1703 1288l13 3 8-4-13-4z"/>
<path color="#6ed4bc" d="M1711 1283l13 4 9-4-13-4z"/>
<path color="#66cbb5" d="M1720 1279l13 4 8-4-13-4z"/>
<path color="#5abba6" d="M1728 1275l13 4 8-5-13-3z"/>
<path color="#f3f6f1" d="M1457 1424l14 5 11-6-13-5z"/>
<path color="#f6dbb9" d="M1491 1407l14 5 11-6-14-5zM1629 1347l14 4 9-5-13-4z"/>
<path color="#f5c795" d="M1513 1395l14 5 11-5-14-5z"/>
<path color="#f2b47a" d="M1556 1374l13 4 10-5-13-5zM1576 1363l14 5 10-6-14-4z"/>
<path color="#f4be87" d="M1606 1348l13 4 10-5-13-4z"/>
<path color="#f6dab7" d="M1635 1333l13 4 9-5-13-4z"/>
<path color="#f7efe0" d="M1653 1323l14 4 9-4-13-4z"/>
<path color="#f6f7f1" d="M1663 1319l13 4 9-5-13-4z"/>
<path color="#b8efe0" d="M1681 1309l13 4 9-4-13-4z"/>
<path color="#a4e9d7" d="M1690 1305l13 4 8-5-13-4z"/>
<path color="#78dac2" d="M1707 1296l13 4 9-5-13-4z"/>
<path color="#6fd4bc" d="M1716 1291l13 4 8-4-13-4z"/>
<path color="#66ccb6" d="M1724 1287l13 4 9-5-13-3zM1729 1295l13 4 8-4-13-4z"/>
<path color="#5bbea8" d="M1733 1283l13 3 8-4-13-3z"/>
<path color="#4da792" d="M1741 1279l13 3 8-4-13-4z"/>
<path color="#ddf4eb" d="M1471 1429l14 5 11-6-14-5z"/>
<path color="#f6f7f2" d="M1482 1423l14 5 12-6-14-5z"/>
<path color="#f6e0c1" d="M1516 1406l14 5 11-6-14-5z"/>
<path color="#f6cfa5" d="M1538 1395l13 4 11-5-14-5z"/>
<path color="#f5ca9b" d="M1548 1389l14 5 10-6-13-4z"/>
<path color="#f5c592" d="M1590 1368l13 4 10-5-13-5z"/>
<path color="#f5c897" d="M1600 1362l13 5 10-5-13-5z"/>
<path color="#f6d3ab" d="M1619 1352l14 4 10-5-14-4z"/>
<path color="#f7e6cb" d="M1639 1342l13 4 10-5-14-4z"/>
<path color="#f7ecda" d="M1648 1337l14 4 9-5-14-4z"/>
<path color="#f8f4eb" d="M1657 1332l14 4 9-4-13-5z"/>
<path color="#e9f6ee" d="M1667 1327l13 5 9-5-13-4z"/>
<path color="#b2edde" d="M1685 1318l13 4 9-5-13-4z"/>
<path color="#a0e7d5" d="M1694 1313l13 4 9-4-13-4z"/>
<path color="#76dac2" d="M1711 1304l14 4 8-4-13-4z"/>
<path color="#6ed3bc" d="M1720 1300l13 4 9-5-13-4z"/>
<path color="#5cbea9" d="M1737 1291l13 4 9-5-13-4z"/>
<path color="#4ea994" d="M1746 1286l13 4 8-4-13-4z"/>
<path color="#4ca690" d="M1754 1282l13 4 8-4-13-4z"/>
<path class="k" d="M1751 1275l5 6 1 2 4 6"/>
<path class="k" d="M1726 1268l5 6 2 2 3 5 2 3 3 5 2 4 3 4"/>
<path class="k" d="M1699 1261l6 6 1 2 4 5 2 3 3 4 2 4 3 4 2 4 2 5 2 3 2 5"/>
<path class="k" d="M1151 1312l-3-5-4-6 0-1-3-5"/>
<path class="k" d="M1670 1252l2 2 6 7 0 0 5 7 1 1 4 6 2 2 3 6 2 2 2 6 2 2 2 6 1 2 2 7 0 1 2 8 0 1"/>
<path class="k" d="M1193 1327l-3-3-6-6-4-5-2-1-4-7-4-4-1-2-4-6-2-3-1-3"/>
<path class="k" d="M1637 1243l1 0 6 7 2 2 3 4 4 4 2 2 5 7 0 0 5 8 0 0 4 7 0 1 4 8 0 0 2 8 1 0 1 7 1 3 0 5 1 5 0 3-1 7 0 2"/>
<path class="k" d="M1500 1426l-9 0-15 0-14 0"/>
<path class="k" d="M1265 1353l-8-4-9-6-8-5-8-6 0 0-7-6-7-5-4-4-2-2-6-6-5-6 0 0-5-6-3-5-1-1-4-7-1-3-2-3"/>
<path class="k" d="M1599 1233l2 1 7 6 2 2 4 4 4 5 2 1 5 6 1 1 4 6 2 2 3 5 2 4 2 4 2 4 1 4 2 3 1 5 1 3 1 7 0 1 0 7 0 2 0 5-1 6-1 2-2 7-2 5-1 1-4 7-5 7-4 4"/>
<path class="k" d="M1559 1395l-11 3-18 3-8 2-12 1-16 1-7 0-17 1-10-1-11 0-20-2-3 0-15-2-18-3-16-3"/>
<path class="k" d="M1550 1219l5 3 7 5 3 2 4 3 6 5 2 2 4 4 5 5 1 1 6 6 1 2 4 5 2 3 2 4 3 4 1 3 2 5 1 3 2 5 1 4 0 3 1 6 0 2-1 7 0 2-1 5-3 7 0 0-3 6-5 7-3 3-3 3-6 6-8 6-10 5-10 5-13 5-14 4-5 1-11 2-18 3-4 0-18 2-7 0-20 0-2 0-20-2-12-1-6-1-17-3-15-3-15-3-7-2-7-2-13-4-12-5-11-4-8-3-3-2-10-5-10-5-9-5-8-6-4-2-4-3-7-6-7-5-2-2-4-4-6-6-2-3-3-3-5-6-1-2-2-4-4-6 0-1-3-6"/>
<path class="k" d="M1423 1188l12 2 11 3 10 3 10 3 9 3 9 4 8 3 1 0 9 4 8 5 8 4 0 0 7 5 7 5 2 1 5 4 6 5 1 1 5 5 3 4 2 2 5 6 0 1 5 7 0 1 3 6 0 1 2 7 1 1 0 7 0 1 0 7-1 3-1 3-2 7-2 3-2 4-5 6-7 6-4 3-4 2-9 5-11 5-4 1-9 3-15 4-15 2-3 0-22 2-1 0-21-1-6 0-12-1-17-3-14-2-1-1-15-3-13-4-12-4-11-4-11-5-10-5-3-1-7-3-8-6-8-5-7-5-1 0-6-6-6-6-2-1-4-5-5-6 0 0-4-6-2-4-1-2-3-7 0 0-2-6"/>
<path class="k" d="M1382 1203l6 1 9 1 14 1 12 3 11 2 10 3 10 4 9 4 9 4 8 4 1 1 7 4 7 5 3 2 3 3 6 6 1 0 4 6 2 3 2 3 3 5 0 3 2 5 0 3 0 4-1 5 0 2-3 6-3 4-2 2-6 6-8 5-10 5-12 4-15 3-1 0-20 1-4 1-19-1-6-1-11-1-14-3-14-4-12-3-11-5-9-4-10-5-7-5-1 0-7-5-7-6-2-2-4-3-4-6-2-2-2-5-2-4-1-2-2-6 0-1 0-7 0 0 1-6 1-2"/>
</g>
<line x1="280.9" y1="325.4" x2="370.9" y2="358.7" stroke="#555" stroke-width="0.7"/>
<line x1="370.9" y1="358.7" x2="443.9" y2="320.1" stroke="#555" stroke-width="0.7"/>
<g class="s" transform="scale(.25)">
<path color="#db7325" d="M1421 899l11 0 9 7-11-1z"/>
<path class="k" d="M1424 901l12 2"/>
<path color="#da7224" d="M1432 899l11 1 9 7-11-1z"/>
<path class="k" d="M1436 903l11 1"/>
<path color="#d36e23" d="M1412 893l11 0 9 6-11 0z"/>
<path color="#da7224" d="M1443 900l10 2 9 7-10-2z"/>
<path class="k" d="M1447 904l11 2"/>
<path color="#d26d22" d="M1423 893l10 1 10 6-11-1z"/>
<path color="#cc6921" d="M1403 889l10-1 10 5-11 0z"/>
<path color="#da7224" d="M1453 902l11 2 9 8-11-3z"/>
<path class="k" d="M1458 906l11 2"/>
<path color="#d16d22" d="M1433 894l11 1 9 7-10-2z"/>
<path color="#ca6821" d="M1413 888l11 1 9 5-10-1z"/>
<path color="#db7325" d="M1464 904l11 3 9 8-11-3z"/>
<path class="k" d="M1469 908l9 2"/>
<path color="#c6651f" d="M1393 885l11-1 9 4-10 1z"/>
<path color="#d16d22" d="M1444 895l11 2 9 7-11-2z"/>
<path color="#c96720" d="M1424 889l11 1 9 5-11-1z"/>
<path color="#dc7425" d="M1475 907l11 3 9 9-11-4z"/>
<path class="k" d="M1478 910l10 2"/>
<path color="#c4641f" d="M1404 884l11 0 9 5-11-1z"/>
<path color="#d26d22" d="M1455 897l11 3 9 7-11-3z"/>
<path color="#c0611e" d="M1384 882l10-1 10 3-11 1z"/>
<path class="k" d="M1388 881l9 1"/>
<path color="#c96720" d="M1435 890l11 1 9 6-11-2z"/>
<path color="#de7526" d="M1486 910l11 5 9 8-11-4z"/>
<path class="k" d="M1488 912l8 2"/>
<path color="#c3631f" d="M1415 884l11 1 9 5-11-1z"/>
<path color="#d36e23" d="M1466 900l11 3 9 7-11-3z"/>
<path color="#bd601e" d="M1394 881l11 0 10 3-11 0z"/>
<path class="k" d="M1397 882l14 1"/>
<path color="#ba5e1d" d="M1374 880l11-2 9 3-10 1z"/>
<path class="k" d="M1381 881l7 0"/>
<path color="#e17726" d="M1497 915l11 4 9 9-11-5z"/>
<path color="#c96720" d="M1446 891l11 3 9 6-11-3z"/>
<path color="#c2621f" d="M1426 885l11 1 9 5-11-1z"/>
<path color="#d56f23" d="M1477 903l11 4 9 8-11-5z"/>
<path class="k" d="M1496 914l1 0"/>
<path color="#bb5f1d" d="M1405 881l11 0 10 4-11-1z"/>
<path class="k" d="M1411 883l13 1"/>
<path color="#e47927" d="M1508 919l12 6 9 9-12-6z"/>
<path color="#ca6821" d="M1457 894l11 2 9 7-11-3z"/>
<path color="#b75c1d" d="M1385 878l11 0 9 3-11 0z"/>
<path color="#b55b1d" d="M1364 879l11-2 10 1-11 2z"/>
<path color="#c2621f" d="M1437 886l11 2 9 6-11-3z"/>
<path color="#d77024" d="M1488 907l11 4 9 8-11-4z"/>
<path class="k" d="M1497 914l9 3"/>
<path color="#e87c28" d="M1520 925l11 6 9 9-11-6z"/>
<path color="#ba5e1d" d="M1416 881l11 1 10 4-11-1z"/>
<path class="k" d="M1424 884l12 2"/>
<path color="#cc6921" d="M1468 896l11 4 9 7-11-4z"/>
<path color="#b45b1d" d="M1396 878l10 0 10 3-11 0z"/>
<path color="#b1591c" d="M1375 877l11-1 10 2-11 0z"/>
<path color="#da7224" d="M1499 911l12 5 9 9-12-6z"/>
<path class="k" d="M1506 917l8 2"/>
<path color="#c3631f" d="M1448 888l11 3 9 5-11-2z"/>
<path color="#b1591c" d="M1355 878l10-2 10 1-11 2z"/>
<path color="#e98332" d="M1531 931l12 6 8 10-11-7z"/>
<path color="#ba5e1d" d="M1427 882l11 1 10 5-11-2z"/>
<path class="k" d="M1436 886l11 2"/>
<path color="#ce6a21" d="M1479 900l11 4 9 7-11-4z"/>
<path color="#b35a1c" d="M1406 878l11 0 10 4-11-1z"/>
<path color="#dd7525" d="M1511 916l11 6 9 9-11-6z"/>
<path class="k" d="M1514 919l8 3"/>
<path color="#af581c" d="M1386 876l11 0 9 2-10 0z"/>
<path color="#c4641f" d="M1459 891l11 3 9 6-11-4z"/>
<path color="#eb8c3e" d="M1543 937l11 8 9 10-12-8z"/>
<path class="k" d="M1556 950l4 2"/>
<path color="#ad571c" d="M1365 876l11-1 10 1-11 1z"/>
<path color="#af581c" d="M1345 879l10-2 10-1-10 2z"/>
<path color="#ba5e1d" d="M1438 883l11 3 10 5-11-3z"/>
<path class="k" d="M1447 888l10 1"/>
<path color="#d06c22" d="M1490 904l12 5 9 7-12-5z"/>
<path color="#b25a1c" d="M1417 878l12 2 9 3-11-1z"/>
<path color="#e17726" d="M1522 922l12 6 9 9-12-6z"/>
<path class="k" d="M1522 922l1 0"/>
<path color="#ed964b" d="M1554 945l12 8 8 10-11-8z"/>
<path class="k" d="M1560 952l8 3"/>
<path color="#c5651f" d="M1470 894l11 3 9 7-11-4z"/>
<path color="#ad571c" d="M1397 876l11 0 9 2-11 0z"/>
<path color="#aa551b" d="M1376 875l11-1 10 2-11 0z"/>
<path color="#d36e23" d="M1502 909l11 5 9 8-11-6z"/>
<path color="#bb5f1d" d="M1449 886l12 2 9 6-11-3z"/>
<path class="k" d="M1457 889l9 3"/>
<path color="#aa561b" d="M1355 877l11-2 10 0-11 1z"/>
<path color="#ad571c" d="M1335 881l10-3 10-1-10 2z"/>
<path color="#e67a27" d="M1534 928l11 7 9 10-11-8z"/>
<path color="#b25a1c" d="M1429 880l11 2 9 4-11-3z"/>
<path color="#efa25a" d="M1566 953l11 8 9 11-12-9z"/>
<path class="k" d="M1568 955l3 2"/>
<path color="#c86620" d="M1481 897l12 5 9 7-12-5z"/>
<path color="#ab561c" d="M1408 876l11 1 10 3-12-2z"/>
<path color="#d77124" d="M1513 914l12 6 9 8-12-6z"/>
<path class="k" d="M1523 922l7 3"/>
<path color="#a7541b" d="M1387 874l11 0 10 2-11 0z"/>
<path color="#bd601e" d="M1461 888l11 4 9 5-11-3z"/>
<path class="k" d="M1466 892l9 2"/>
<path color="#e9812f" d="M1545 935l12 8 9 10-12-8z"/>
<path color="#a7541b" d="M1366 875l11-1 10 0-11 1z"/>
<path color="#f1ae6b" d="M1577 961l12 10 8 11-11-10z"/>
<path color="#a8551b" d="M1345 878l11-2 10-1-11 2z"/>
<path color="#ad571c" d="M1324 883l11-3 10-2-10 3z"/>
<path color="#b35a1c" d="M1440 882l11 2 10 4-12-2z"/>
<path color="#cb6821" d="M1493 902l11 5 9 7-11-5z"/>
<path color="#ab561b" d="M1419 877l11 1 10 4-11-2z"/>
<path color="#db7325" d="M1525 920l11 7 9 8-11-7z"/>
<path class="k" d="M1530 925l7 3"/>
<path color="#c0611e" d="M1472 892l11 4 10 6-12-5z"/>
<path class="k" d="M1475 894l9 2"/>
<path color="#eb8c3d" d="M1557 943l12 9 8 9-11-8z"/>
<path class="k" d="M1571 957l4 2"/>
<path color="#f3bd83" d="M1589 971l12 10 8 11-12-10z"/>
<path class="k" d="M1606 989l2 1"/>
<path color="#a6531b" d="M1398 874l11 1 10 2-11-1z"/>
<path color="#a4521b" d="M1377 874l11 0 10 0-11 0z"/>
<path color="#ce6a22" d="M1504 907l12 6 9 7-12-6z"/>
<path color="#b45b1d" d="M1451 884l11 3 10 5-11-4z"/>
<path color="#a4521b" d="M1356 876l11-1 10-1-11 1z"/>
<path color="#a8541b" d="M1335 880l11-2 10-2-11 2z"/>
<path color="#ae581c" d="M1314 887l11-3 10-4-11 3z"/>
<path color="#e07726" d="M1536 927l12 7 9 9-12-8z"/>
<path class="k" d="M1537 928l2 1"/>
<path color="#ab561c" d="M1430 878l11 3 10 3-11-2z"/>
<path color="#ed984d" d="M1569 952l11 9 9 10-12-10z"/>
<path class="k" d="M1575 959l7 3"/>
<path color="#f4cfa2" d="M1601 981l12 11 8 11-12-11z"/>
<path class="k" d="M1608 990l6 4"/>
<path color="#c3631f" d="M1483 896l12 5 9 6-11-5z"/>
<path class="k" d="M1484 896l1 1"/>
<path color="#a5531b" d="M1409 875l11 1 10 2-11-1z"/>
<path color="#d26d22" d="M1516 913l11 6 9 8-11-7z"/>
<path color="#a2511a" d="M1388 874l11 0 10 1-11-1z"/>
<path color="#b75c1d" d="M1462 887l12 4 9 5-11-4z"/>
<path color="#a1511a" d="M1367 875l11-1 10 0-11 0z"/>
<path color="#e67a27" d="M1548 934l12 8 9 10-12-9z"/>
<path color="#f6e2c4" d="M1613 992l11 11 9 12-12-12z"/>
<path class="k" d="M1614 994l3 2"/>
<path color="#efa45e" d="M1580 961l12 9 9 11-12-10z"/>
<path class="k" d="M1582 962l1 1"/>
<path color="#a3521b" d="M1346 878l11-2 10-1-11 1z"/>
<path color="#b0591c" d="M1304 891l11-3 10-4-11 3z"/>
<path color="#a8551b" d="M1325 884l11-3 10-3-11 2z"/>
<path color="#ac571c" d="M1441 881l12 3 9 3-11-3z"/>
<path color="#c6651f" d="M1495 901l11 5 10 7-12-6z"/>
<path color="#a5531b" d="M1420 876l12 2 9 3-11-3z"/>
<path color="#d77024" d="M1527 919l12 7 9 8-12-7z"/>
<path class="k" d="M1539 929l5 2"/>
<path color="#f7eede" d="M1624 1003l12 12 9 12-12-12z"/>
<path class="k" d="M1644 1027l1 0"/>
<path color="#ba5e1d" d="M1474 891l11 5 10 5-12-5z"/>
<path class="k" d="M1485 897l7 2"/>
<path color="#e98331" d="M1560 942l12 9 8 10-11-9z"/>
<path color="#a0501a" d="M1399 874l11 1 10 1-11-1z"/>
<path color="#f2b271" d="M1592 970l12 11 9 11-12-11z"/>
<path color="#9f501a" d="M1378 874l11 0 10 0-11 0z"/>
<path color="#a0501a" d="M1357 876l11-1 10-1-11 1z"/>
<path color="#c96720" d="M1506 906l12 6 9 7-11-6z"/>
<path color="#ae581c" d="M1453 884l11 3 10 4-12-4z"/>
<path color="#b45b1d" d="M1293 897l11-4 11-5-11 3z"/>
<path color="#a4521b" d="M1336 881l11-2 10-3-11 2z"/>
<path color="#aa561b" d="M1315 888l10-3 11-4-11 3z"/>
<path color="#dc7425" d="M1539 926l12 8 9 8-12-8z"/>
<path class="k" d="M1544 931l7 4"/>
<path color="#ebf4ed" d="M1636 1015l12 13 9 12-12-13z"/>
<path class="k" d="M1645 1027l6 5"/>
<path color="#a6531b" d="M1432 878l11 3 10 3-12-3z"/>
<path color="#eb8f42" d="M1572 951l11 10 9 9-12-9z"/>
<path class="k" d="M1583 963l5 3"/>
<path color="#f3c48f" d="M1604 981l12 11 8 11-11-11z"/>
<path class="k" d="M1617 996l4 2"/>
<path color="#be601e" d="M1485 896l12 5 9 5-11-5z"/>
<path class="k" d="M1492 899l7 3"/>
<path color="#a0501a" d="M1410 875l12 2 10 1-12-2z"/>
<path color="#ce6a21" d="M1518 912l12 7 9 7-12-7z"/>
<path color="#9d4f1a" d="M1389 874l11 1 10 0-11-1z"/>
<path color="#b1591c" d="M1464 887l12 4 9 5-11-5z"/>
<path color="#c4efe2" d="M1648 1028l13 14 8 12-12-14z"/>
<path class="k" d="M1651 1032l2 1"/>
<path color="#9d4f1a" d="M1368 875l11 0 10-1-11 0z"/>
<path color="#b95d1d" d="M1283 903l11-4 10-6-11 4z"/>
<path class="k" d="M1285 902l1-1"/>
<path color="#e17826" d="M1551 934l12 9 9 8-12-9z"/>
<path class="k" d="M1551 935l1 0"/>
<path color="#f5d8b2" d="M1616 992l12 12 8 11-12-12z"/>
<path class="k" d="M1621 998l5 4"/>
<path color="#a0501a" d="M1347 879l11-1 10-3-11 1z"/>
<path color="#ad571c" d="M1304 893l11-3 10-5-10 3z"/>
<path color="#ee9c53" d="M1583 961l12 10 9 10-12-11z"/>
<path class="k" d="M1588 966l5 3"/>
<path color="#a5531b" d="M1325 885l11-2 11-4-11 2z"/>
<path color="#a7541b" d="M1443 881l12 3 9 3-11-3z"/>
<path color="#c2621e" d="M1497 901l12 6 9 5-12-6z"/>
<path class="k" d="M1499 902l3 1"/>
<path color="#a2e9d7" d="M1661 1042l12 14 8 13-12-15z"/>
<path class="k" d="M1677 1064l2 2"/>
<path color="#a0501a" d="M1422 877l11 2 10 2-11-3z"/>
<path color="#d36e23" d="M1530 919l12 8 9 7-12-8z"/>
<path color="#f6e8d2" d="M1628 1004l12 13 8 11-12-13z"/>
<path color="#b55b1d" d="M1476 891l12 5 9 5-12-5z"/>
<path color="#e87c28" d="M1563 943l12 9 8 9-11-10z"/>
<path color="#9c4e1a" d="M1400 875l12 1 10 1-12-2z"/>
<path color="#f0ab67" d="M1595 971l12 11 9 10-12-11z"/>
<path color="#9b4e1a" d="M1379 875l11 0 10 0-11-1z"/>
<path color="#be601e" d="M1272 911l11-4 11-8-11 4z"/>
<path class="k" d="M1284 906l1-4"/>
<path color="#9c4e1a" d="M1358 878l11-1 10-2-11 0z"/>
<path color="#b25a1c" d="M1294 899l10-3 11-6-11 3z"/>
<path color="#c6651f" d="M1509 907l12 6 9 6-12-7z"/>
<path color="#aa551b" d="M1455 884l11 4 10 3-12-4z"/>
<path color="#8ae2cc" d="M1673 1056l12 15 8 13-12-15z"/>
<path class="k" d="M1679 1066l6 5"/>
<path color="#a1511a" d="M1336 883l11-2 11-3-11 1z"/>
<path color="#a8541b" d="M1315 890l11-3 10-4-11 2z"/>
<path color="#d87124" d="M1542 927l12 8 9 8-12-9z"/>
<path class="k" d="M1552 935l5 3"/>
<path color="#f7f5ee" d="M1640 1017l12 13 9 12-13-14z"/>
<path class="k" d="M1653 1033l4 3"/>
<path color="#a1511a" d="M1433 879l12 3 10 2-12-3z"/>
<path color="#ea8838" d="M1575 952l12 10 8 9-12-10z"/>
<path class="k" d="M1593 969l1 1"/>
<path color="#f3bc80" d="M1607 982l13 11 8 11-12-12z"/>
<path class="k" d="M1626 1002l1 1"/>
<path color="#b95d1d" d="M1488 896l11 6 10 5-12-6z"/>
<path class="k" d="M1502 903l4 2"/>
<path color="#9c4e1a" d="M1412 876l11 2 10 1-11-2z"/>
<path color="#71dac0" d="M1685 1071l12 16 8 13-12-16z"/>
<path color="#c4641f" d="M1262 920l10-5 11-8-11 4z"/>
<path color="#9a4d19" d="M1390 875l12 1 10 0-12-1z"/>
<path color="#ca6821" d="M1521 913l11 7 10 7-12-8z"/>
<path color="#ad571c" d="M1466 888l12 4 10 4-12-5z"/>
<path color="#d2f1e6" d="M1652 1030l13 14 8 12-12-14z"/>
<path class="k" d="M1657 1036l4 4"/>
<path color="#b75c1d" d="M1283 907l11-4 10-7-10 3z"/>
<path class="k" d="M1284 906l0 0"/>
<path color="#9a4d19" d="M1369 877l11 0 10-2-11 0z"/>
<path color="#de7525" d="M1554 935l12 9 9 8-12-9z"/>
<path class="k" d="M1557 938l4 2"/>
<path color="#ac561c" d="M1304 896l11-3 11-6-11 3z"/>
<path color="#9d4f1a" d="M1347 881l12-1 10-3-11 1z"/>
<path color="#a3521b" d="M1326 887l11-2 10-4-11 2z"/>
<path color="#f4d0a4" d="M1620 993l12 13 8 11-12-13z"/>
<path class="k" d="M1627 1003l6 4"/>
<path color="#ed964b" d="M1587 962l12 10 8 10-12-11z"/>
<path class="k" d="M1594 970l6 4"/>
<path color="#5cd2b5" d="M1697 1087l12 16 8 14-12-17z"/>
<path class="k" d="M1706 1101l5 5"/>
<path color="#a3521b" d="M1445 882l11 3 10 3-11-4z"/>
<path color="#be601e" d="M1499 902l12 6 10 5-12-6z"/>
<path class="k" d="M1506 905l6 3"/>
<path color="#9d4f1a" d="M1423 878l12 2 10 2-12-3z"/>
<path color="#a9ecda" d="M1665 1044l12 15 8 12-12-15z"/>
<path class="k" d="M1685 1071l0 0"/>
<path color="#cf6b22" d="M1532 920l12 8 10 7-12-8z"/>
<path color="#ca6820" d="M1251 929l11-5 10-9-10 5z"/>
<path color="#f6e4c9" d="M1632 1006l12 13 8 11-12-13z"/>
<path class="k" d="M1633 1007l1 1"/>
<path color="#b1591c" d="M1478 892l12 5 9 5-11-6z"/>
<path color="#994d19" d="M1402 876l11 2 10 0-11-2z"/>
<path color="#53c9ae" d="M1709 1103l13 17 7 14-12-17z"/>
<path class="k" d="M1711 1106l2 2"/>
<path color="#e57a27" d="M1566 944l12 10 9 8-12-10z"/>
<path color="#efa55f" d="M1599 972l12 12 9 9-13-11z"/>
<path class="k" d="M1600 974l1 1"/>
<path color="#be601e" d="M1272 915l11-4 11-8-11 4z"/>
<path class="k" d="M1284 910l0-4"/>
<path color="#984c19" d="M1380 877l12 1 10-2-12-1z"/>
<path color="#b1591c" d="M1294 903l11-3 10-7-11 3z"/>
<path color="#9a4d19" d="M1359 880l11 0 10-3-11 0z"/>
<path color="#a6541b" d="M1315 893l11-2 11-6-11 2z"/>
<path color="#9f501a" d="M1337 885l11-1 11-4-12 1z"/>
<path color="#a6531b" d="M1456 885l12 4 10 3-12-4z"/>
<path color="#c3631f" d="M1511 908l12 7 9 5-11-7z"/>
<path class="k" d="M1512 908l1 1"/>
<path color="#90e4cf" d="M1677 1059l12 15 8 13-12-16z"/>
<path class="k" d="M1685 1071l5 5"/>
<path color="#49c1a8" d="M1722 1120l12 18 8 14-13-18z"/>
<path class="k" d="M1732 1138l4 4"/>
<path color="#d56f23" d="M1544 928l12 9 10 7-12-9z"/>
<path class="k" d="M1561 940l2 2"/>
<path color="#f7f1e6" d="M1644 1019l12 14 9 11-13-14z"/>
<path class="k" d="M1661 1040l2 1"/>
<path color="#9e4f1a" d="M1435 880l12 4 9 1-11-3z"/>
<path color="#e98331" d="M1578 954l12 10 9 8-12-10z"/>
<path color="#f2b575" d="M1611 984l12 12 9 10-12-13z"/>
<path color="#b65c1d" d="M1490 897l12 6 9 5-12-6z"/>
<path color="#d16c22" d="M1240 940l11-5 11-11-11 5z"/>
<path color="#994d19" d="M1413 878l12 2 10 0-12-2z"/>
<path color="#77dcc2" d="M1689 1074l12 16 8 13-12-16z"/>
<path class="k" d="M1690 1076l1 1"/>
<path color="#c4641f" d="M1262 924l10-4 11-9-11 4z"/>
<path color="#3daf96" d="M1734 1138l12 19 8 14-12-19z"/>
<path class="k" d="M1736 1142l2 3"/>
<path color="#974c19" d="M1392 878l11 1 10-1-11-2z"/>
<path color="#c86620" d="M1523 915l12 7 9 6-12-8z"/>
<path color="#aa551b" d="M1468 889l12 5 10 3-12-5z"/>
<path color="#b75c1d" d="M1283 911l11-4 11-7-11 3z"/>
<path class="k" d="M1284 910l0 0"/>
<path color="#dcf2e9" d="M1656 1033l13 14 8 12-12-15z"/>
<path class="k" d="M1663 1041l4 5"/>
<path color="#984c19" d="M1370 880l11 0 11-2-12-1z"/>
<path color="#ab561c" d="M1305 900l11-3 10-6-11 2z"/>
<path color="#9c4e1a" d="M1348 884l11-1 11-3-11 0z"/>
<path color="#a2511a" d="M1326 891l12-2 10-5-11 1z"/>
<path color="#db7425" d="M1556 937l13 9 9 8-12-10z"/>
<path class="k" d="M1563 942l5 4"/>
<path color="#f4ca9a" d="M1623 996l12 13 9 10-12-13z"/>
<path class="k" d="M1634 1008l4 4"/>
<path color="#ec9144" d="M1590 964l12 11 9 9-12-12z"/>
<path class="k" d="M1601 975l4 3"/>
<path color="#5ed3b6" d="M1701 1090l13 17 8 13-13-17z"/>
<path class="k" d="M1713 1108l4 4"/>
<path color="#a1511a" d="M1447 884l11 4 10 1-12-4z"/>
<path color="#2e987f" d="M1746 1157l13 19 7 14-12-19z"/>
<path class="k" d="M1756 1174l5 6"/>
<path color="#bb5e1d" d="M1502 903l12 7 9 5-12-7z"/>
<path class="k" d="M1513 909l4 3"/>
<path color="#d97224" d="M1229 952l11-6 11-11-11 5z"/>
<path class="k" d="M1239 947l-2-4"/>
<path color="#9b4d1a" d="M1425 880l11 3 11 1-12-4z"/>
<path color="#b1eddd" d="M1669 1047l12 15 8 12-12-15z"/>
<path color="#cd6a21" d="M1535 922l12 9 9 6-12-9z"/>
<path color="#cb6821" d="M1251 935l10-5 11-10-10 4z"/>
<path color="#974c19" d="M1403 879l12 2 10-1-12-2z"/>
<path color="#ae581c" d="M1480 894l12 6 10 3-12-6z"/>
<path color="#f6e0c1" d="M1635 1009l13 13 8 11-12-14z"/>
<path class="k" d="M1638 1012l2 2"/>
<path color="#2d967d" d="M1759 1176l12 20 8 15-13-21z"/>
<path class="k" d="M1761 1180l1 1"/>
<path color="#55cbaf" d="M1714 1107l12 18 8 13-12-18z"/>
<path class="k" d="M1717 1112l2 2"/>
<path color="#e27827" d="M1569 946l12 10 9 8-12-10z"/>
<path color="#bf601e" d="M1272 920l11-4 11-9-11 4z"/>
<path class="k" d="M1286 914l-2-4"/>
<path color="#efa159" d="M1602 975l12 12 9 9-12-12z"/>
<path class="k" d="M1605 978l3 2"/>
<path color="#974b19" d="M1381 880l12 1 10-2-11-1z"/>
<path color="#b1591c" d="M1294 907l11-2 11-8-11 3z"/>
<path color="#994d19" d="M1359 883l12 0 10-3-11 0z"/>
<path color="#a6531b" d="M1316 897l11-2 11-6-12 2z"/>
<path color="#9e4f1a" d="M1338 889l11-1 10-5-11 1z"/>
<path color="#a4521b" d="M1458 888l12 4 10 2-12-5z"/>
<path color="#c1621e" d="M1514 910l12 7 9 5-12-7z"/>
<path class="k" d="M1517 912l3 2"/>
<path color="#95e5d1" d="M1681 1062l12 16 8 12-12-16z"/>
<path class="k" d="M1691 1077l5 5"/>
<path color="#e17726" d="M1218 965l11-6 11-13-11 6z"/>
<path class="k" d="M1239 947l0 0"/>
<path color="#4bc2a8" d="M1726 1125l13 18 7 14-12-19z"/>
<path class="k" d="M1738 1145l4 4"/>
<path color="#d36e23" d="M1547 931l12 9 10 6-13-9z"/>
<path class="k" d="M1568 946l0 0"/>
<path color="#f7efe0" d="M1648 1022l12 14 9 11-13-14z"/>
<path class="k" d="M1667 1046l1 0"/>
<path color="#9d4e1a" d="M1436 883l12 4 10 1-11-4z"/>
<path color="#e97f2c" d="M1581 956l12 11 9 8-12-11z"/>
<path color="#f1b16f" d="M1614 987l13 12 8 10-12-13z"/>
<path color="#d26d23" d="M1240 946l10-5 11-11-10 5z"/>
<path color="#b35a1c" d="M1492 900l12 6 10 4-12-7z"/>
<path color="#984c19" d="M1415 881l11 2 10 0-11-3z"/>
<path color="#7addc4" d="M1693 1078l13 17 8 12-13-17z"/>
<path class="k" d="M1696 1082l1 2"/>
<path color="#c5651f" d="M1261 930l11-4 11-10-11 4z"/>
<path color="#3eb299" d="M1739 1143l12 19 8 14-13-19z"/>
<path class="k" d="M1742 1149l2 3"/>
<path color="#964b19" d="M1393 881l11 2 11-2-12-2z"/>
<path color="#b85d1d" d="M1283 916l11-3 11-8-11 2z"/>
<path class="k" d="M1287 915l-1-1"/>
<path color="#c66520" d="M1526 917l12 8 9 6-12-9z"/>
<path color="#a8541b" d="M1470 892l12 5 10 3-12-6z"/>
<path color="#974c19" d="M1371 883l11 1 11-3-12-1z"/>
<path color="#ac561c" d="M1305 905l11-3 11-7-11 2z"/>
<path color="#e2f3ea" d="M1660 1036l13 15 8 11-12-15z"/>
<path class="k" d="M1668 1046l5 6"/>
<path color="#e9812e" d="M1207 979l11-6 11-14-11 6z"/>
<path color="#9b4e1a" d="M1349 888l11 0 11-5-12 0z"/>
<path color="#a2511a" d="M1327 895l11-1 11-6-11 1z"/>
<path color="#da7224" d="M1559 940l13 9 9 7-12-10z"/>
<path class="k" d="M1568 946l5 4"/>
<path color="#f4c693" d="M1627 999l12 14 9 9-13-13z"/>
<path class="k" d="M1640 1014l3 3"/>
<path color="#eb8e40" d="M1593 967l12 12 9 8-12-12z"/>
<path class="k" d="M1608 980l2 3"/>
<path color="#5fd4b7" d="M1706 1095l12 17 8 13-12-18z"/>
<path class="k" d="M1719 1114l3 4"/>
<path color="#9f501a" d="M1448 887l12 4 10 1-12-4z"/>
<path color="#2f9a81" d="M1751 1162l13 20 7 14-12-20z"/>
<path class="k" d="M1762 1181l4 5"/>
<path color="#da7325" d="M1229 959l10-5 11-13-10 5z"/>
<path class="k" d="M1242 951l-3-4"/>
<path color="#b95d1d" d="M1504 906l12 7 10 4-12-7z"/>
<path class="k" d="M1520 914l2 2"/>
<path color="#9a4d19" d="M1426 883l12 4 10 0-12-4z"/>
<path color="#b6eede" d="M1673 1051l12 16 8 11-12-16z"/>
<path class="k" d="M1673 1052l0 0"/>
<path color="#cc6921" d="M1250 941l11-4 11-11-11 4z"/>
<path color="#cc6921" d="M1538 925l12 9 9 6-12-9z"/>
<path color="#974b19" d="M1404 883l12 2 10-2-11-2z"/>
<path color="#ad571c" d="M1482 897l12 6 10 3-12-6z"/>
<path color="#c0611e" d="M1272 926l11-3 11-10-11 3z"/>
<path class="k" d="M1289 918l-2-3"/>
<path color="#f6ddbb" d="M1639 1013l13 14 8 9-12-14z"/>
<path class="k" d="M1643 1017l2 2"/>
<path color="#55ccb0" d="M1718 1112l13 19 8 12-13-18z"/>
<path class="k" d="M1722 1118l2 3"/>
<path color="#ec9448" d="M1196 994l11-7 11-14-11 6z"/>
<path class="k" d="M1207 987l-3-4"/>
<path color="#e17726" d="M1572 949l12 11 9 7-12-11z"/>
<path class="k" d="M1573 950l0 1"/>
<path color="#ee9e56" d="M1605 979l13 12 9 8-13-12z"/>
<path class="k" d="M1610 983l3 3"/>
<path color="#974b19" d="M1382 884l12 1 10-2-11-2z"/>
<path color="#b25a1c" d="M1294 913l11-2 11-9-11 3z"/>
<path color="#994d19" d="M1360 888l12 0 10-4-11-1z"/>
<path color="#a7541b" d="M1316 902l12-1 10-7-11 1z"/>
<path color="#9f501a" d="M1338 894l12-1 10-5-11 0z"/>
<path color="#a3521b" d="M1460 891l12 5 10 1-12-5z"/>
<path color="#c0611e" d="M1516 913l12 8 10 4-12-8z"/>
<path class="k" d="M1522 916l2 3"/>
<path color="#e47927" d="M1218 973l10-6 11-13-10 5z"/>
<path color="#97e6d2" d="M1685 1067l13 17 8 11-13-17z"/>
<path class="k" d="M1697 1084l4 4"/>
<path color="#4bc3a9" d="M1731 1131l13 18 7 13-12-19z"/>
<path class="k" d="M1744 1152l3 3"/>
<path color="#d26d23" d="M1550 934l12 10 10 5-13-9z"/>
<path color="#f7eddd" d="M1652 1027l12 14 9 10-13-15z"/>
<path color="#9c4e1a" d="M1438 887l12 4 10 0-12-4z"/>
<path color="#d46f23" d="M1239 954l11-5 11-12-11 4z"/>
<path class="k" d="M1242 952l0-1"/>
<path color="#e87d29" d="M1584 960l12 11 9 8-12-12z"/>
<path color="#f1af6c" d="M1618 991l12 13 9 9-12-14z"/>
<path color="#f0a964" d="M1185 1010l10-7 12-16-11 7z"/>
<path color="#b25a1c" d="M1494 903l12 7 10 3-12-7z"/>
<path color="#984c19" d="M1416 885l12 3 10-1-12-4z"/>
<path color="#c76620" d="M1261 937l11-4 11-10-11 3z"/>
<path color="#7cddc5" d="M1698 1084l12 17 8 11-12-17z"/>
<path class="k" d="M1701 1088l1 2"/>
<path color="#964b19" d="M1394 885l12 2 10-2-12-2z"/>
<path color="#3fb39a" d="M1744 1149l12 20 8 13-13-20z"/>
<path class="k" d="M1747 1155l2 4"/>
<path color="#ba5e1d" d="M1283 923l11-3 11-9-11 2z"/>
<path class="k" d="M1292 920l-3-2"/>
<path color="#c5651f" d="M1528 921l13 8 9 5-12-9z"/>
<path color="#ea8736" d="M1207 987l10-5 11-15-10 6z"/>
<path class="k" d="M1207 987l0 0"/>
<path color="#984c19" d="M1372 888l11 1 11-4-12-1z"/>
<path color="#ae571c" d="M1305 911l12-2 11-8-12 1z"/>
<path color="#a7541b" d="M1472 896l12 6 10 1-12-6z"/>
<path color="#9c4e1a" d="M1350 893l11 0 11-5-12 0z"/>
<path color="#a4521b" d="M1328 901l11-1 11-7-12 1z"/>
<path color="#e6f4eb" d="M1664 1041l13 16 8 10-12-16z"/>
<path class="k" d="M1673 1052l4 5"/>
<path color="#d97224" d="M1562 944l13 10 9 6-12-11z"/>
<path class="k" d="M1573 951l3 4"/>
<path color="#f3c490" d="M1630 1004l13 13 9 10-13-14z"/>
<path class="k" d="M1645 1019l2 3"/>
<path color="#eb8d3e" d="M1596 971l13 12 9 8-13-12z"/>
<path class="k" d="M1613 986l1 2"/>
<path color="#dd7525" d="M1228 967l11-5 11-13-11 5z"/>
<path class="k" d="M1245 955l-3-3"/>
<path color="#9f501a" d="M1450 891l12 4 10 1-12-5z"/>
<path color="#60d4b8" d="M1710 1101l13 18 8 12-13-19z"/>
<path class="k" d="M1724 1121l3 3"/>
<path color="#f3c28c" d="M1174 1027l10-7 11-17-10 7z"/>
<path class="k" d="M1179 1024l-1-3"/>
<path color="#b95d1d" d="M1506 910l13 8 9 3-12-8z"/>
<path class="k" d="M1524 919l1 1"/>
<path color="#cf6b22" d="M1250 949l11-4 11-12-11 4z"/>
<path color="#9a4d19" d="M1428 888l12 4 10-1-12-4z"/>
<path color="#b8eedf" d="M1677 1057l12 16 9 11-13-17z"/>
<path class="k" d="M1677 1057l1 1"/>
<path color="#cb6921" d="M1541 929l12 10 9 5-12-10z"/>
<path color="#ee9b51" d="M1195 1003l11-6 11-15-10 5z"/>
<path class="k" d="M1211 991l-4-4"/>
<path color="#c3631f" d="M1272 933l11-3 11-10-11 3z"/>
<path class="k" d="M1293 921l-1-1"/>
<path color="#974c19" d="M1406 887l12 3 10-2-12-3z"/>
<path color="#ac571c" d="M1484 902l12 6 10 2-12-7z"/>
<path color="#f5dcb9" d="M1643 1017l13 15 8 9-12-14z"/>
<path class="k" d="M1647 1022l2 3"/>
<path color="#56ccb0" d="M1723 1119l13 18 8 12-13-18z"/>
<path class="k" d="M1727 1124l2 4"/>
<path color="#e07726" d="M1575 954l12 11 9 6-12-11z"/>
<path class="k" d="M1576 955l1 1"/>
<path color="#b55b1d" d="M1294 920l12-2 11-9-12 2z"/>
<path color="#984c19" d="M1383 889l12 2 11-4-12-2z"/>
<path color="#ee9d54" d="M1609 983l12 13 9 8-12-13z"/>
<path class="k" d="M1614 988l2 3"/>
<path color="#aa551b" d="M1317 909l11-2 11-7-11 1z"/>
<path color="#9b4d1a" d="M1361 893l12 1 10-5-11-1z"/>
<path color="#f6e0c0" d="M1162 1046l11-7 11-19-10 7z"/>
<path class="k" d="M1181 1026l-2-2"/>
<path color="#a1511a" d="M1339 900l11 0 11-7-11 0z"/>
<path color="#e77b28" d="M1217 982l11-5 11-15-11 5z"/>
<path color="#a3521b" d="M1462 895l12 6 10 1-12-6z"/>
<path color="#c0611e" d="M1519 918l12 8 10 3-13-8z"/>
<path class="k" d="M1525 920l2 3"/>
<path color="#98e6d2" d="M1689 1073l13 17 8 11-12-17z"/>
<path class="k" d="M1702 1090l3 4"/>
<path color="#4bc3a9" d="M1736 1137l12 20 8 12-12-20z"/>
<path class="k" d="M1749 1159l3 3"/>
<path color="#d87124" d="M1239 962l11-4 11-13-11 4z"/>
<path class="k" d="M1249 959l-4-4"/>
<path color="#9c4e1a" d="M1440 892l12 4 10-1-12-4z"/>
<path color="#d26d22" d="M1553 939l12 10 10 5-13-10z"/>
<path color="#f7eddc" d="M1656 1032l12 15 9 10-13-16z"/>
<path color="#f1b16f" d="M1184 1020l11-6 11-17-11 6z"/>
<path color="#e87d29" d="M1587 965l13 11 9 7-13-12z"/>
<path color="#f1af6c" d="M1621 996l13 13 9 8-13-13z"/>
<path color="#b25a1c" d="M1496 908l13 7 10 3-13-8z"/>
<path color="#ca6821" d="M1261 945l11-3 11-12-11 3z"/>
<path color="#994c19" d="M1418 890l12 3 10-1-12-4z"/>
<path color="#f7f3ea" d="M1151 1065l10-7 12-19-11 7z"/>
<path class="k" d="M1156 1062l-1-3"/>
<path color="#7cddc5" d="M1702 1090l13 18 8 11-13-18z"/>
<path class="k" d="M1705 1094l2 2"/>
<path color="#be601e" d="M1283 930l12-2 11-10-12 2z"/>
<path class="k" d="M1298 925l-5-4"/>
<path color="#984c19" d="M1395 891l12 2 11-3-12-3z"/>
<path color="#eb8e40" d="M1206 997l11-5 11-15-11 5z"/>
<path class="k" d="M1213 994l-2-3"/>
<path color="#b1591c" d="M1306 918l11-2 11-9-11 2z"/>
<path color="#9a4d19" d="M1373 894l12 1 10-4-12-2z"/>
<path color="#c5651f" d="M1531 926l12 9 10 4-12-10z"/>
<path color="#a8541b" d="M1474 901l12 6 10 1-12-6z"/>
<path color="#a6541b" d="M1328 907l12 0 10-7-11 0z"/>
<path color="#9f501a" d="M1350 900l12 0 11-6-12-1z"/>
<path color="#e6f4eb" d="M1668 1047l13 16 8 10-12-16z"/>
<path class="k" d="M1678 1058l3 5"/>
<path color="#d97224" d="M1565 949l13 10 9 6-12-11z"/>
<path class="k" d="M1577 956l2 4"/>
<path color="#f4cda0" d="M1173 1039l10-7 12-18-11 6z"/>
<path class="k" d="M1185 1030l-4-4"/>
<path color="#e17726" d="M1228 977l11-5 11-14-11 4z"/>
<path class="k" d="M1249 959l0 0"/>
<path color="#f3c490" d="M1634 1009l13 15 9 8-13-15z"/>
<path class="k" d="M1649 1025l2 3"/>
<path color="#eb8d3e" d="M1600 976l12 13 9 7-12-13z"/>
<path class="k" d="M1616 991l2 2"/>
<path color="#a0501a" d="M1452 896l12 5 10 0-12-6z"/>
<path color="#60d4b7" d="M1715 1108l13 18 8 11-13-18z"/>
<path class="k" d="M1729 1128l2 3"/>
<path color="#c7f0e3" d="M1140 1086l10-8 11-20-10 7z"/>
<path class="k" d="M1158 1064l-2-2"/>
<path color="#b95d1d" d="M1509 915l12 8 10 3-12-8z"/>
<path class="k" d="M1527 923l0 2"/>
<path color="#d26d23" d="M1250 958l11-4 11-12-11 3z"/>
<path color="#9b4e1a" d="M1430 893l12 4 10-1-12-4z"/>
<path color="#efa35d" d="M1195 1014l10-5 12-17-11 5z"/>
<path class="k" d="M1215 995l-2-1"/>
<path color="#b7eedf" d="M1681 1063l13 17 8 10-13-17z"/>
<path class="k" d="M1681 1063l0 1"/>
<path color="#c6651f" d="M1272 942l12-3 11-11-12 2z"/>
<path color="#cc6921" d="M1543 935l13 9 9 5-12-10z"/>
<path color="#994d19" d="M1407 893l12 3 11-3-12-3z"/>
<path color="#ad571c" d="M1486 907l13 7 10 1-13-7z"/>
<path color="#b95d1d" d="M1295 928l11-2 11-10-11 2z"/>
<path class="k" d="M1301 927l-3-2"/>
<path color="#55cbb0" d="M1728 1126l12 19 8 12-12-20z"/>
<path class="k" d="M1731 1131l2 3"/>
<path color="#f6dcba" d="M1647 1024l13 15 8 8-12-15z"/>
<path class="k" d="M1651 1028l1 2"/>
<path color="#f6e8d1" d="M1161 1058l11-7 11-19-10 7z"/>
<path color="#e17726" d="M1578 959l12 12 10 5-13-11z"/>
<path class="k" d="M1579 960l0 0"/>
<path color="#9a4d19" d="M1385 895l11 2 11-4-12-2z"/>
<path color="#ee9e55" d="M1612 989l13 13 9 7-13-13z"/>
<path class="k" d="M1618 993l1 3"/>
<path color="#ad571c" d="M1317 916l12-1 11-8-12 0z"/>
<path color="#9d4f1a" d="M1362 900l12 1 11-6-12-1z"/>
<path color="#e98230" d="M1217 992l11-5 11-15-11 5z"/>
<path color="#a4521b" d="M1340 907l11 0 11-7-12 0z"/>
<path color="#99e6d3" d="M1128 1108l11-8 11-22-10 8z"/>
<path class="k" d="M1137 1101l-3-4"/>
<path color="#a4531b" d="M1464 901l12 6 10 0-12-6z"/>
<path color="#c0611e" d="M1521 923l13 9 9 3-12-9z"/>
<path class="k" d="M1527 925l0 2"/>
<path color="#97e6d2" d="M1694 1080l13 17 8 11-13-18z"/>
<path class="k" d="M1707 1096l2 4"/>
<path color="#db7425" d="M1239 972l11-4 11-14-11 4z"/>
<path class="k" d="M1254 963l-5-4"/>
<path color="#f3bc81" d="M1183 1032l11-6 11-17-10 5z"/>
<path class="k" d="M1186 1031l-1-1"/>
<path color="#9e4f1a" d="M1442 897l12 5 10-1-12-5z"/>
<path color="#d36e23" d="M1556 944l12 11 10 4-13-10z"/>
<path color="#f7eede" d="M1660 1039l12 15 9 9-13-16z"/>
<path color="#ce6a21" d="M1261 954l11-3 12-12-12 3z"/>
<path color="#e8f4ec" d="M1150 1078l10-7 12-20-11 7z"/>
<path class="k" d="M1162 1069l-4-5"/>
<path color="#e87e2a" d="M1590 971l13 12 9 6-12-13z"/>
<path color="#f1b06d" d="M1625 1002l13 14 9 8-13-15z"/>
<path color="#75dbc2" d="M1117 1131l10-8 12-23-11 8z"/>
<path class="k" d="M1137 1102l0-1"/>
<path color="#b45b1d" d="M1499 914l12 7 10 2-12-8z"/>
<path color="#9b4e1a" d="M1419 896l12 4 11-3-12-4z"/>
<path color="#c2621e" d="M1284 939l11-2 11-11-11 2z"/>
<path class="k" d="M1304 928l-3-1"/>
<path color="#ed974c" d="M1205 1009l11-6 12-16-11 5z"/>
<path class="k" d="M1219 999l-4-4"/>
<path color="#7addc4" d="M1707 1097l12 19 9 10-13-18z"/>
<path class="k" d="M1709 1100l1 2"/>
<path color="#9a4d1a" d="M1396 897l12 3 11-4-12-3z"/>
<path color="#b55b1d" d="M1306 926l12-1 11-10-12 1z"/>
<path color="#9d4f1a" d="M1374 901l12 2 10-6-11-2z"/>
<path color="#aa561b" d="M1329 915l11 0 11-8-11 0z"/>
<path color="#c66520" d="M1534 932l12 9 10 3-13-9z"/>
<path color="#a2511a" d="M1351 907l12 1 11-7-12-1z"/>
<path color="#a9551b" d="M1476 907l13 6 10 1-13-7z"/>
<path color="#f5dab7" d="M1172 1051l11-6 11-19-11 6z"/>
<path class="k" d="M1189 1034l-3-3"/>
<path color="#e2f3ea" d="M1672 1054l13 17 9 9-13-17z"/>
<path class="k" d="M1681 1064l3 5"/>
<path color="#e67a27" d="M1228 987l11-4 11-15-11 4z"/>
<path color="#da7324" d="M1568 955l13 11 9 5-12-12z"/>
<path class="k" d="M1579 960l1 5"/>
<path color="#adecdc" d="M1139 1100l10-7 11-22-10 7z"/>
<path color="#f4c693" d="M1638 1016l13 15 9 8-13-15z"/>
<path class="k" d="M1652 1030l2 4"/>
<path color="#eb8e40" d="M1603 983l13 13 9 6-13-13z"/>
<path class="k" d="M1619 996l1 3"/>
<path color="#a2511a" d="M1454 902l12 6 10-1-12-6z"/>
<path color="#5ed3b7" d="M1719 1116l13 19 8 10-12-19z"/>
<path class="k" d="M1733 1134l2 4"/>
<path color="#d77024" d="M1250 968l11-3 11-14-11 3z"/>
<path class="k" d="M1258 966l-4-3"/>
<path color="#bb5e1d" d="M1511 921l13 9 10 2-13-9z"/>
<path class="k" d="M1527 927l-1 3"/>
<path color="#f1ae6a" d="M1194 1026l11-5 11-18-11 6z"/>
<path color="#9e4f1a" d="M1431 900l12 4 11-2-12-5z"/>
<path color="#ca6720" d="M1272 951l12-2 11-12-11 2z"/>
<path color="#b3eddd" d="M1685 1071l13 17 9 9-13-17z"/>
<path color="#cd6a21" d="M1546 941l13 10 9 4-12-11z"/>
<path color="#9c4e1a" d="M1408 900l13 4 10-4-12-4z"/>
<path color="#f7f0e4" d="M1160 1071l11-6 12-20-11 6z"/>
<path class="k" d="M1163 1070l-1-1"/>
<path color="#be601e" d="M1295 937l12-2 11-10-12 1z"/>
<path class="k" d="M1311 931l-7-3"/>
<path color="#af581c" d="M1489 913l12 8 10 0-12-7z"/>
<path color="#89e2cb" d="M1127 1123l10-8 12-22-10 7z"/>
<path class="k" d="M1142 1107l-5-5"/>
<path color="#9d4f1a" d="M1386 903l12 2 10-5-12-3z"/>
<path color="#f6dfbf" d="M1651 1031l13 15 8 8-12-15z"/>
<path class="k" d="M1654 1034l1 2"/>
<path color="#eb8c3d" d="M1216 1003l11-4 12-16-11 4z"/>
<path class="k" d="M1222 1001l-3-2"/>
<path color="#b2591c" d="M1318 925l11-1 11-9-11 0z"/>
<path color="#e27826" d="M1581 966l13 12 9 5-13-12z"/>
<path color="#a1511a" d="M1363 908l12 1 11-6-12-2z"/>
<path color="#a8541b" d="M1340 915l12 0 11-7-12-1z"/>
<path color="#eea058" d="M1616 996l13 13 9 7-13-14z"/>
<path class="k" d="M1620 999l1 2"/>
<path color="#a7541b" d="M1466 908l12 6 11-1-13-6z"/>
<path color="#c2621e" d="M1524 930l12 9 10 2-12-9z"/>
<path class="k" d="M1526 930l0 1"/>
<path color="#e07726" d="M1239 983l11-4 11-14-11 3z"/>
<path class="k" d="M1260 966l-2 0"/>
<path color="#f4ca99" d="M1183 1045l10-6 12-18-11 5z"/>
<path class="k" d="M1194 1039l-5-5"/>
<path color="#94e5d0" d="M1698 1088l13 18 8 10-12-19z"/>
<path class="k" d="M1710 1102l2 5"/>
<path color="#cef1e5" d="M1149 1093l11-7 11-21-11 6z"/>
<path class="k" d="M1167 1073l-4-3"/>
<path color="#a1511a" d="M1443 904l13 6 10-2-12-6z"/>
<path color="#d46f23" d="M1559 951l12 11 10 4-13-11z"/>
<path class="k" d="M1580 965l0 0"/>
<path color="#d26d23" d="M1261 965l12-3 11-13-12 2z"/>
<path color="#f7f0e2" d="M1664 1046l12 16 9 9-13-17z"/>
<path class="k" d="M1684 1069l0 1"/>
<path color="#e9812e" d="M1594 978l13 12 9 6-13-13z"/>
<path color="#f2b271" d="M1629 1009l13 15 9 7-13-15z"/>
<path color="#b65c1d" d="M1501 921l13 8 10 1-13-9z"/>
<path color="#9e4f1a" d="M1421 904l12 4 10-4-12-4z"/>
<path color="#efa25a" d="M1205 1021l11-5 11-17-11 4z"/>
<path class="k" d="M1225 1003l-3-2"/>
<path color="#c66520" d="M1284 949l11-2 12-12-12 2z"/>
<path color="#77dcc2" d="M1711 1106l13 19 8 10-13-19z"/>
<path class="k" d="M1712 1107l1 1"/>
<path color="#9e4f1a" d="M1398 905l12 3 11-4-13-4z"/>
<path color="#ba5e1d" d="M1307 935l11 0 11-11-11 1z"/>
<path class="k" d="M1318 934l-7-3"/>
<path color="#a1511a" d="M1375 909l12 2 11-6-12-2z"/>
<path color="#af581c" d="M1329 924l12 0 11-9-12 0z"/>
<path color="#f6e6ce" d="M1171 1065l11-6 11-20-10 6z"/>
<path color="#a7541b" d="M1352 915l12 2 11-8-12-1z"/>
<path color="#c86720" d="M1536 939l13 9 10 3-13-10z"/>
<path color="#ac571c" d="M1478 914l13 7 10 0-12-8z"/>
<path color="#e9812f" d="M1227 999l11-4 12-16-11 4z"/>
<path color="#9ce7d4" d="M1137 1115l11-7 12-22-11 7z"/>
<path class="k" d="M1145 1110l-3-3"/>
<path color="#dcf2e9" d="M1676 1062l13 17 9 9-13-17z"/>
<path class="k" d="M1684 1070l2 5"/>
<path color="#dc7425" d="M1571 962l13 12 10 4-13-12z"/>
<path class="k" d="M1580 965l0 4"/>
<path color="#f4ca9a" d="M1642 1024l13 15 9 7-13-15z"/>
<path class="k" d="M1655 1036l1 4"/>
<path color="#ec9245" d="M1607 990l12 14 10 5-13-13z"/>
<path class="k" d="M1621 1001l0 4"/>
<path color="#a6531b" d="M1456 910l12 6 10-2-12-6z"/>
<path color="#dc7425" d="M1250 979l11-3 12-14-12 3z"/>
<path class="k" d="M1266 970l-6-4"/>
<path color="#f3bb7e" d="M1193 1039l11-5 12-18-11 5z"/>
<path class="k" d="M1194 1039l0 0"/>
<path color="#be601e" d="M1514 929l12 8 10 2-12-9z"/>
<path class="k" d="M1526 931l-3 4"/>
<path color="#a1511a" d="M1433 908l12 5 11-3-13-6z"/>
<path color="#ce6b22" d="M1273 962l11-2 11-13-11 2z"/>
<path color="#ecf5ed" d="M1160 1086l10-6 12-21-11 6z"/>
<path class="k" d="M1172 1078l-5-5"/>
<path color="#abecdb" d="M1689 1079l13 18 9 9-13-18z"/>
<path color="#a0501a" d="M1410 908l12 4 11-4-12-4z"/>
<path color="#c3631f" d="M1295 947l12-1 11-11-11 0z"/>
<path color="#cf6b22" d="M1549 948l13 11 9 3-12-11z"/>
<path color="#ed974c" d="M1216 1016l11-4 11-17-11 4z"/>
<path class="k" d="M1230 1007l-5-4"/>
<path color="#b35a1c" d="M1491 921l13 8 10 0-13-8z"/>
<path color="#a2511a" d="M1387 911l12 3 11-6-12-3z"/>
<path color="#b85d1d" d="M1318 935l12-1 11-10-12 0z"/>
<path class="k" d="M1319 935l-1-1"/>
<path color="#f6e3c6" d="M1655 1039l13 16 8 7-12-16z"/>
<path class="k" d="M1656 1040l0 1"/>
<path color="#a6531b" d="M1364 917l12 1 11-7-12-2z"/>
<path color="#ad571c" d="M1341 924l12 1 11-8-12-2z"/>
<path color="#e47927" d="M1584 974l13 12 10 4-13-12z"/>
<path color="#efa45d" d="M1619 1004l13 14 10 6-13-15z"/>
<path class="k" d="M1621 1005l0 1"/>
<path color="#f5dab5" d="M1182 1059l11-5 11-20-11 5z"/>
<path class="k" d="M1199 1043l-5-4"/>
<path color="#e67b27" d="M1238 995l12-3 11-16-11 3z"/>
<path color="#ab561b" d="M1468 916l13 6 10-1-13-7z"/>
<path color="#c4641f" d="M1526 937l13 10 10 1-13-9z"/>
<path color="#8fe3ce" d="M1702 1097l14 19 8 9-13-19z"/>
<path class="k" d="M1713 1108l2 6"/>
<path color="#b0eddd" d="M1148 1108l11-6 11-22-10 6z"/>
<path color="#d87124" d="M1261 976l12-2 11-14-11 2z"/>
<path class="k" d="M1273 974l-7-4"/>
<path color="#a5531b" d="M1445 913l13 5 10-2-12-6z"/>
<path color="#d67024" d="M1562 959l13 11 9 4-13-12z"/>
<path class="k" d="M1580 969l-1 3"/>
<path color="#f7f3e9" d="M1668 1055l13 17 8 7-13-17z"/>
<path class="k" d="M1686 1075l1 2"/>
<path color="#f1ae6b" d="M1204 1034l11-4 12-18-11 4z"/>
<path color="#cb6921" d="M1284 960l12-1 11-13-12 1z"/>
<path color="#ea8534" d="M1597 986l13 13 9 5-12-14z"/>
<path color="#f2b779" d="M1632 1018l13 15 10 6-13-15z"/>
<path color="#a3521b" d="M1422 912l13 5 10-4-12-5z"/>
<path color="#ba5e1d" d="M1504 929l12 8 10 0-12-8z"/>
<path class="k" d="M1523 935l-3 2"/>
<path color="#c1621e" d="M1307 946l12 0 11-12-12 1z"/>
<path class="k" d="M1327 937l-8-2"/>
<path color="#a3521b" d="M1399 914l12 4 11-6-12-4z"/>
<path color="#f7f0e3" d="M1170 1080l11-5 12-21-11 5z"/>
<path class="k" d="M1173 1079l-1-1"/>
<path color="#b55b1d" d="M1330 934l12 1 11-10-12-1z"/>
<path color="#a7541b" d="M1376 918l12 3 11-7-12-3z"/>
<path color="#ad571c" d="M1353 925l12 2 11-9-12-1z"/>
<path color="#eb8d3f" d="M1227 1012l11-3 12-17-12 3z"/>
<path class="k" d="M1235 1010l-5-3"/>
<path color="#cb6821" d="M1539 947l13 10 10 2-13-11z"/>
<path color="#b1591c" d="M1481 922l12 8 11-1-13-8z"/>
<path color="#d2f1e6" d="M1681 1072l13 17 8 8-13-18z"/>
<path class="k" d="M1687 1077l0 4"/>
<path color="#de7526" d="M1575 970l12 12 10 4-13-12z"/>
<path class="k" d="M1579 972l-1 2"/>
<path color="#e27826" d="M1250 992l11-3 12-15-12 2z"/>
<path color="#f4cb9b" d="M1193 1054l11-5 11-19-11 4z"/>
<path class="k" d="M1205 1047l-6-4"/>
<path color="#f4d0a5" d="M1645 1033l14 16 9 6-13-16z"/>
<path class="k" d="M1656 1041l0 5"/>
<path color="#aa561b" d="M1458 918l12 7 11-3-13-6z"/>
<path color="#ed964b" d="M1610 999l13 14 9 5-13-14z"/>
<path class="k" d="M1621 1006l0 5"/>
<path color="#c1621e" d="M1516 937l13 9 10 1-13-10z"/>
<path class="k" d="M1520 937l-2 1"/>
<path color="#cdf1e4" d="M1159 1102l10-6 12-21-11 5z"/>
<path class="k" d="M1177 1082l-4-3"/>
<path color="#d46f23" d="M1273 974l11-2 12-13-12 1z"/>
<path class="k" d="M1274 974l-1 0"/>
<path color="#a6541b" d="M1435 917l12 5 11-4-13-5z"/>
<path color="#c96720" d="M1296 959l11-1 12-12-12 0z"/>
<path color="#efa45d" d="M1215 1030l12-4 11-17-11 3z"/>
<path class="k" d="M1237 1011l-2-1"/>
<path color="#a5ead8" d="M1694 1089l13 19 9 8-14-19z"/>
<path class="k" d="M1715 1114l0 1"/>
<path color="#a6531b" d="M1411 918l13 4 11-5-13-5z"/>
<path color="#d26d22" d="M1552 957l13 11 10 2-13-11z"/>
<path color="#bf601e" d="M1319 946l12 0 11-11-12-1z"/>
<path class="k" d="M1337 940l-10-3"/>
<path color="#a8541b" d="M1388 921l12 3 11-6-12-4z"/>
<path color="#b75c1d" d="M1493 930l13 8 10-1-12-8z"/>
<path color="#b45b1d" d="M1342 935l12 1 11-9-12-2z"/>
<path color="#ac571c" d="M1365 927l12 2 11-8-12-3z"/>
<path color="#f6e7cf" d="M1659 1049l13 16 9 7-13-17z"/>
<path color="#e77b28" d="M1587 982l14 13 9 4-13-13z"/>
<path color="#f6e7d0" d="M1181 1075l11-5 12-21-11 5z"/>
<path color="#f0a964" d="M1623 1013l13 15 9 5-13-15z"/>
<path color="#e98433" d="M1238 1009l12-3 11-17-11 3z"/>
<path color="#b0581c" d="M1470 925l13 7 10-2-12-8z"/>
<path color="#c86620" d="M1529 946l13 10 10 1-13-10z"/>
<path color="#de7525" d="M1261 989l12-2 11-15-11 2z"/>
<path class="k" d="M1281 977l-7-3"/>
<path color="#ab561b" d="M1447 922l13 6 10-3-12-7z"/>
<path color="#f3be84" d="M1204 1049l11-4 12-19-12 4z"/>
<path class="k" d="M1207 1048l-2-1"/>
<path color="#da7224" d="M1565 968l13 12 9 2-12-12z"/>
<path class="k" d="M1578 974l-3 4"/>
<path color="#f5f6ef" d="M1672 1065l13 17 9 7-13-17z"/>
<path class="k" d="M1687 1081l1 4"/>
<path color="#d16d22" d="M1284 972l12 0 11-14-11 1z"/>
<path color="#a9551b" d="M1424 922l12 5 11-5-12-5z"/>
<path color="#eb8b3c" d="M1601 995l13 14 9 4-13-14z"/>
<path class="k" d="M1621 1011l-1 1"/>
<path color="#bf601e" d="M1506 938l13 9 10-1-13-9z"/>
<path class="k" d="M1518 938l-6 4"/>
<path color="#f3bf86" d="M1636 1028l13 15 10 6-14-16z"/>
<path class="k" d="M1656 1046l0 1"/>
<path color="#e7f4ec" d="M1169 1096l11-5 12-21-11 5z"/>
<path class="k" d="M1183 1087l-6-5"/>
<path color="#c66520" d="M1307 958l12 0 12-12-12 0z"/>
<path color="#aa551b" d="M1400 924l13 4 11-6-13-4z"/>
<path color="#ed9a51" d="M1227 1026l11-3 12-17-12 3z"/>
<path class="k" d="M1244 1015l-7-4"/>
<path color="#bd5f1e" d="M1331 946l12 1 11-11-12-1z"/>
<path class="k" d="M1347 943l-10-3"/>
<path color="#ad571c" d="M1377 929l12 3 11-8-12-3z"/>
<path color="#b45b1d" d="M1354 936l12 2 11-9-12-2z"/>
<path color="#b65c1d" d="M1483 932l13 8 10-2-13-8z"/>
<path color="#ce6b22" d="M1542 956l13 11 10 1-13-11z"/>
<path color="#c4efe2" d="M1685 1082l13 19 9 7-13-19z"/>
<path class="k" d="M1688 1085l0 1"/>
<path color="#e87d29" d="M1250 1006l11-2 12-17-12 2z"/>
<path color="#f6ddbc" d="M1192 1070l11-4 12-21-11 4z"/>
<path class="k" d="M1212 1051l-5-3"/>
<path color="#e27826" d="M1578 980l13 13 10 2-14-13z"/>
<path color="#f5d8b3" d="M1649 1043l14 16 9 6-13-16z"/>
<path class="k" d="M1656 1047l0 4"/>
<path color="#b0591c" d="M1460 928l12 7 11-3-13-7z"/>
<path color="#ee9d54" d="M1614 1009l13 14 9 5-13-15z"/>
<path class="k" d="M1620 1012l-1 3"/>
<path color="#db7325" d="M1273 987l12-1 11-14-12 0z"/>
<path class="k" d="M1289 980l-8-3"/>
<path color="#c5641f" d="M1519 947l13 9 10 0-13-10z"/>
<path color="#ad571c" d="M1436 927l13 6 11-5-13-6z"/>
<path color="#f2b270" d="M1215 1045l11-3 12-19-11 3z"/>
<path color="#cf6b22" d="M1296 972l12-1 11-13-12 0z"/>
<path color="#ac571c" d="M1413 928l12 5 11-6-12-5z"/>
<path color="#c5641f" d="M1319 958l12 1 12-12-12-1z"/>
<path color="#d67023" d="M1555 967l13 12 10 1-13-12z"/>
<path class="k" d="M1575 978l-1 1"/>
<path color="#af581c" d="M1389 932l13 4 11-8-13-4z"/>
<path color="#bc5f1e" d="M1343 947l12 2 11-11-12-2z"/>
<path class="k" d="M1359 945l-12-2"/>
<path color="#bd5f1e" d="M1496 940l12 8 11-1-13-9z"/>
<path class="k" d="M1512 942l-9 3"/>
<path color="#f7f3e9" d="M1180 1091l12-4 11-21-11 4z"/>
<path class="k" d="M1186 1089l-3-2"/>
<path color="#b45b1d" d="M1366 938l12 3 11-9-12-3z"/>
<path color="#f6ecda" d="M1663 1059l13 17 9 6-13-17z"/>
<path color="#ec9246" d="M1238 1023l12-2 11-17-11 2z"/>
<path class="k" d="M1251 1018l-7-3"/>
<path color="#e9812f" d="M1591 993l13 13 10 3-13-14z"/>
<path color="#f1b06e" d="M1627 1023l13 16 9 4-13-15z"/>
<path color="#b65c1d" d="M1472 935l13 8 11-3-13-8z"/>
<path color="#cc6921" d="M1532 956l13 11 10 0-13-11z"/>
<path color="#e57a27" d="M1261 1004l12-2 12-16-12 1z"/>
<path color="#f4d1a5" d="M1203 1066l12-4 11-20-11 3z"/>
<path class="k" d="M1219 1055l-7-4"/>
<path color="#b1591c" d="M1449 933l13 6 10-4-12-7z"/>
<path color="#d87124" d="M1285 986l11 0 12-15-12 1z"/>
<path class="k" d="M1298 983l-9-3"/>
<path color="#de7525" d="M1568 979l13 12 10 2-13-13z"/>
<path class="k" d="M1574 979l-3 3"/>
<path color="#e5f4eb" d="M1676 1076l13 18 9 7-13-19z"/>
<path class="k" d="M1688 1086l-1 6"/>
<path color="#b0591c" d="M1425 933l13 6 11-6-13-6z"/>
<path color="#c4631f" d="M1508 948l13 10 11-2-13-9z"/>
<path color="#ec9246" d="M1604 1006l13 14 10 3-13-14z"/>
<path class="k" d="M1619 1015l-2 5"/>
<path color="#cd6a21" d="M1308 971l12 1 11-13-12-1z"/>
<path color="#f4c896" d="M1640 1039l13 16 10 4-14-16z"/>
<path class="k" d="M1656 1051l-1 4"/>
<path color="#f0a965" d="M1226 1042l12-3 12-18-12 2z"/>
<path color="#b1591c" d="M1402 936l12 4 11-7-12-5z"/>
<path color="#c4641f" d="M1331 959l13 1 11-11-12-2z"/>
<path color="#b55b1d" d="M1378 941l13 3 11-8-13-4z"/>
<path color="#bc5f1e" d="M1355 949l12 2 11-10-12-3z"/>
<path class="k" d="M1371 947l-12-2"/>
<path color="#bd5f1e" d="M1485 943l13 8 10-3-12-8z"/>
<path class="k" d="M1503 945l-10 3"/>
<path color="#d36e23" d="M1545 967l13 11 10 1-13-12z"/>
<path color="#f6ebd8" d="M1192 1087l11-4 12-21-12 4z"/>
<path color="#eb8b3c" d="M1250 1021l11-2 12-17-12 2z"/>
<path class="k" d="M1255 1020l-4-2"/>
<path color="#e67b28" d="M1581 991l13 13 10 2-13-13z"/>
<path color="#b75c1d" d="M1462 939l12 8 11-4-13-8z"/>
<path color="#f6e2c4" d="M1653 1055l14 16 9 5-13-17z"/>
<path class="k" d="M1655 1055l0 1"/>
<path color="#e27826" d="M1273 1002l12-1 11-15-11 0z"/>
<path color="#efa55f" d="M1617 1020l13 15 10 4-13-16z"/>
<path color="#ca6820" d="M1521 958l13 10 11-1-13-11z"/>
<path color="#f3c591" d="M1215 1062l11-3 12-20-12 3z"/>
<path class="k" d="M1226 1059l-7-4"/>
<path color="#b45b1d" d="M1438 939l13 6 11-6-13-6z"/>
<path color="#d67023" d="M1296 986l12 0 12-14-12-1z"/>
<path class="k" d="M1305 986l-7-3"/>
<path color="#b45b1d" d="M1414 940l13 5 11-6-13-6z"/>
<path color="#cc6921" d="M1320 972l12 1 12-13-13-1z"/>
<path color="#b75c1d" d="M1391 944l12 5 11-9-12-4z"/>
<path color="#da7325" d="M1558 978l13 12 10 1-13-12z"/>
<path class="k" d="M1571 982l-5 4"/>
<path color="#c4631f" d="M1344 960l12 2 11-11-12-2z"/>
<path color="#bd5f1e" d="M1367 951l13 3 11-10-13-3z"/>
<path class="k" d="M1385 949l-14-2"/>
<path color="#c3631f" d="M1498 951l13 9 10-2-13-10z"/>
<path color="#efa25a" d="M1238 1039l12-2 11-18-11 2z"/>
<path class="k" d="M1259 1022l-4-2"/>
<path color="#f7f2e7" d="M1667 1071l13 18 9 5-13-18z"/>
<path class="k" d="M1687 1092l0 1"/>
<path color="#ea8a3a" d="M1594 1004l13 14 10 2-13-14z"/>
<path class="k" d="M1617 1020l0 0"/>
<path color="#f3ba7d" d="M1630 1035l14 16 9 4-13-16z"/>
<path color="#bd601e" d="M1474 947l13 8 11-4-13-8z"/>
<path class="k" d="M1493 948l-14 2"/>
<path color="#ea8534" d="M1261 1019l12-1 12-17-12 1z"/>
<path color="#f6e4c9" d="M1203 1083l11-3 12-21-11 3z"/>
<path class="k" d="M1226 1059l0 0"/>
<path color="#d16c22" d="M1534 968l13 11 11-1-13-11z"/>
<path color="#b95d1d" d="M1451 945l13 7 10-5-12-8z"/>
<path class="k" d="M1464 952l-1 0"/>
<path color="#e07626" d="M1285 1001l12 0 11-15-12 0z"/>
<path class="k" d="M1308 986l-3 0"/>
<path color="#e37827" d="M1571 990l13 13 10 1-13-13z"/>
<path color="#b85d1d" d="M1427 945l13 6 11-6-13-6z"/>
<path color="#d46f23" d="M1308 986l13 1 11-14-12-1z"/>
<path color="#f3bb80" d="M1226 1059l12-2 12-20-12 2z"/>
<path color="#c96720" d="M1511 960l13 10 10-2-13-10z"/>
<path color="#ee9c52" d="M1607 1018l14 15 9 2-13-15z"/>
<path class="k" d="M1617 1020l-4 4"/>
<path color="#f5d3aa" d="M1644 1051l13 16 10 4-14-16z"/>
<path class="k" d="M1655 1056l-3 5"/>
<path color="#ba5e1d" d="M1403 949l13 4 11-8-13-5z"/>
<path class="k" d="M1418 952l-6 0"/>
<path color="#cb6821" d="M1332 973l12 2 12-13-12-2z"/>
<path color="#be601e" d="M1380 954l12 4 11-9-12-5z"/>
<path class="k" d="M1400 951l-15-2"/>
<path color="#c4641f" d="M1356 962l12 3 12-11-13-3z"/>
<path color="#ee9b52" d="M1250 1037l11-1 12-18-12 1z"/>
<path class="k" d="M1268 1025l-9-3"/>
<path color="#c3631f" d="M1487 955l13 9 11-4-13-9z"/>
<path color="#d87124" d="M1547 979l14 12 10-1-13-12z"/>
<path class="k" d="M1566 986l-7 3"/>
<path color="#e9802e" d="M1273 1018l12 0 12-17-12 0z"/>
<path color="#e98231" d="M1584 1003l13 14 10 1-13-14z"/>
<path color="#bf611e" d="M1464 952l12 8 11-5-13-8z"/>
<path class="k" d="M1479 950l-15 2"/>
<path color="#f6e9d3" d="M1657 1067l14 18 9 4-13-18z"/>
<path color="#f5dbb8" d="M1214 1080l12-3 12-20-12 2z"/>
<path class="k" d="M1234 1063l-8-4"/>
<path color="#f1af6c" d="M1621 1033l13 15 10 3-14-16z"/>
<path color="#cf6b22" d="M1524 970l13 11 10-2-13-11z"/>
<path color="#de7525" d="M1297 1001l12 1 12-15-13-1z"/>
<path class="k" d="M1318 989l-10-3"/>
<path color="#bd5f1e" d="M1440 951l13 7 11-6-13-7z"/>
<path class="k" d="M1463 952l-21 1"/>
<path color="#d36e23" d="M1321 987l12 1 11-13-12-2z"/>
<path color="#bd601e" d="M1416 953l13 6 11-8-13-6z"/>
<path class="k" d="M1438 953l-20-1"/>
<path color="#f2b371" d="M1238 1057l12-2 11-19-11 1z"/>
<path color="#cb6821" d="M1344 975l13 2 11-12-12-3z"/>
<path color="#c0611e" d="M1392 958l13 5 11-10-13-4z"/>
<path class="k" d="M1412 952l-12-1"/>
<path color="#c5641f" d="M1368 965l13 4 11-11-12-4z"/>
<path color="#e07726" d="M1561 991l13 12 10 0-13-13z"/>
<path color="#c96720" d="M1500 964l13 9 11-3-13-10z"/>
<path color="#ec9448" d="M1597 1017l14 14 10 2-14-15z"/>
<path class="k" d="M1613 1024l-5 5"/>
<path color="#f4c693" d="M1634 1048l14 16 9 3-13-16z"/>
<path class="k" d="M1652 1061l-2 4"/>
<path color="#ed964a" d="M1261 1036l12-1 12-17-12 0z"/>
<path class="k" d="M1278 1029l-10-4"/>
<path color="#c4641f" d="M1476 960l14 8 10-4-13-9z"/>
<path color="#d67024" d="M1537 981l13 11 11-1-14-12z"/>
<path class="k" d="M1559 989l-4 3"/>
<path color="#e87c28" d="M1285 1018l12 0 12-16-12-1z"/>
<path color="#c2621e" d="M1453 958l13 8 10-6-12-8z"/>
<path color="#f5d1a7" d="M1226 1077l12-1 12-21-12 2z"/>
<path class="k" d="M1243 1067l-9-4"/>
<path color="#dd7425" d="M1309 1002l12 1 12-15-12-1z"/>
<path class="k" d="M1330 992l-12-3"/>
<path color="#e87d29" d="M1574 1003l13 14 10 0-13-14z"/>
<path color="#c1621e" d="M1429 959l13 6 11-7-13-7z"/>
<path class="k" d="M1442 953l-4 0"/>
<path color="#cf6b22" d="M1513 973l14 11 10-3-13-11z"/>
<path color="#d36e23" d="M1333 988l12 2 12-13-13-2z"/>
<path color="#f0a661" d="M1611 1031l13 15 10 2-13-15z"/>
<path color="#f6e1c2" d="M1648 1064l13 18 10 3-14-18z"/>
<path class="k" d="M1650 1065l-1 1"/>
<path color="#c2631f" d="M1405 963l12 5 12-9-13-6z"/>
<path color="#cb6921" d="M1357 977l12 3 12-11-13-4z"/>
<path color="#c6651f" d="M1381 969l12 4 12-10-13-5z"/>
<path color="#f1ad69" d="M1250 1055l11-1 12-19-12 1z"/>
<path color="#ca6720" d="M1490 968l13 9 10-4-13-9z"/>
<path color="#de7526" d="M1550 992l14 12 10-1-13-12z"/>
<path class="k" d="M1555 992l-4 1"/>
<path color="#ec9144" d="M1273 1035l12 0 12-17-12 0z"/>
<path class="k" d="M1287 1032l-9-3"/>
<path color="#eb8e40" d="M1587 1017l14 14 10 0-14-14z"/>
<path class="k" d="M1608 1029l-3 2"/>
<path color="#c66520" d="M1466 966l13 8 11-6-14-8z"/>
<path color="#f3bc80" d="M1624 1046l14 16 10 2-14-16z"/>
<path color="#e77b28" d="M1297 1018l12 1 12-16-12-1z"/>
<path color="#d67023" d="M1527 984l13 11 10-3-13-11z"/>
<path color="#c5641f" d="M1442 965l13 8 11-7-13-8z"/>
<path color="#dc7425" d="M1321 1003l13 2 11-15-12-2z"/>
<path class="k" d="M1342 995l-12-3"/>
<path color="#f4c999" d="M1238 1076l12-2 11-20-11 1z"/>
<path class="k" d="M1252 1071l-9-4"/>
<path color="#c5651f" d="M1417 968l13 6 12-9-13-6z"/>
<path color="#d36e23" d="M1345 990l13 3 11-13-12-3z"/>
<path color="#c86620" d="M1393 973l13 5 11-10-12-5z"/>
<path color="#cd6921" d="M1369 980l13 4 11-11-12-4z"/>
<path color="#e67b28" d="M1564 1004l13 14 10-1-13-14z"/>
<path color="#cf6b22" d="M1503 977l13 11 11-4-14-11z"/>
<path color="#f0a862" d="M1261 1054l13 0 11-19-12 0z"/>
<path color="#eea058" d="M1601 1031l13 15 10 0-13-15z"/>
<path class="k" d="M1605 1031l-2 2"/>
<path color="#f5d5ad" d="M1638 1062l14 17 9 3-13-18z"/>
<path class="k" d="M1649 1066l-4 5"/>
<path color="#cb6921" d="M1479 974l13 9 11-6-13-9z"/>
<path color="#eb8e40" d="M1285 1035l13 1 11-17-12-1z"/>
<path class="k" d="M1298 1036l-11-4"/>
<path color="#dd7525" d="M1540 995l13 12 11-3-14-12z"/>
<path class="k" d="M1551 993l-9 3"/>
<path color="#c96720" d="M1455 973l13 8 11-7-13-8z"/>
<path color="#e67a27" d="M1309 1019l13 2 12-16-13-2z"/>
<path color="#ea893a" d="M1577 1018l14 13 10 0-14-14z"/>
<path color="#c96720" d="M1430 974l13 7 12-8-13-8z"/>
<path color="#dc7425" d="M1334 1005l12 3 12-15-13-3z"/>
<path class="k" d="M1354 997l-12-2"/>
<path color="#d67023" d="M1516 988l13 10 11-3-13-11z"/>
<path color="#ca6821" d="M1406 978l13 6 11-10-13-6z"/>
<path color="#f2b372" d="M1614 1046l14 16 10 0-14-16z"/>
<path color="#d46e23" d="M1358 993l12 4 12-13-13-4z"/>
<path color="#ce6b22" d="M1382 984l13 5 11-11-13-5z"/>
<path color="#f3c38d" d="M1250 1074l12 0 12-20-13 0z"/>
<path class="k" d="M1260 1074l-8-3"/>
<path color="#d16c22" d="M1492 983l13 10 11-5-13-11z"/>
<path color="#e57a27" d="M1553 1007l14 13 10-2-13-14z"/>
<path color="#efa45d" d="M1274 1054l12 1 12-19-13-1z"/>
<path color="#ce6a21" d="M1468 981l13 8 11-6-13-9z"/>
<path color="#ed9b51" d="M1591 1031l13 15 10 0-13-15z"/>
<path class="k" d="M1603 1033l-7 4"/>
<path color="#eb8b3d" d="M1298 1036l12 2 12-17-13-2z"/>
<path class="k" d="M1302 1037l-4-1"/>
<path color="#f4cb9c" d="M1628 1062l14 16 10 1-14-17z"/>
<path class="k" d="M1645 1071l-5 4"/>
<path color="#dd7525" d="M1529 998l14 12 10-3-13-12z"/>
<path class="k" d="M1542 996l-12 3"/>
<path color="#cd6921" d="M1443 981l14 8 11-8-13-8z"/>
<path color="#e57a27" d="M1322 1021l12 2 12-15-12-3z"/>
<path color="#cd6a21" d="M1419 984l13 6 11-9-13-7z"/>
<path color="#dc7425" d="M1346 1008l13 3 11-14-12-4z"/>
<path class="k" d="M1368 1000l-14-3"/>
<path color="#d06c22" d="M1395 989l13 6 11-11-13-6z"/>
<path color="#d56f23" d="M1370 997l13 5 12-13-13-5z"/>
<path color="#ea8636" d="M1567 1020l13 13 11-2-14-13z"/>
<path color="#d77124" d="M1505 993l14 10 10-5-13-10z"/>
<path class="k" d="M1526 1000l-9 2"/>
<path color="#f3bd83" d="M1262 1074l12 0 12-19-12-1z"/>
<path color="#f1ad6a" d="M1604 1046l14 16 10 0-14-16z"/>
<path color="#d36e23" d="M1481 989l13 10 11-6-13-10z"/>
<path color="#efa159" d="M1286 1055l12 1 12-18-12-2z"/>
<path class="k" d="M1309 1039l-7-2"/>
<path color="#e57a27" d="M1543 1010l13 13 11-3-14-13z"/>
<path color="#d16d22" d="M1457 989l13 8 11-8-13-8z"/>
<path color="#eb8a3b" d="M1310 1038l13 2 11-17-12-2z"/>
<path color="#d16d22" d="M1432 990l13 8 12-9-14-8z"/>
<path color="#e57a27" d="M1334 1023l13 3 12-15-13-3z"/>
<path color="#ed974d" d="M1580 1033l14 15 10-2-13-15z"/>
<path class="k" d="M1596 1037l-9 3"/>
<path color="#d36e23" d="M1408 995l13 6 11-11-13-6z"/>
<path color="#dd7525" d="M1359 1011l13 4 11-13-13-5z"/>
<path class="k" d="M1383 1002l-15-2"/>
<path color="#de7525" d="M1519 1003l13 12 11-5-14-12z"/>
<path class="k" d="M1530 999l-4 1"/>
<path color="#d77124" d="M1383 1002l13 5 12-12-13-6z"/>
<path class="k" d="M1399 1004l-15-2"/>
<path color="#f3c48f" d="M1618 1062l14 16 10 0-14-16z"/>
<path class="k" d="M1640 1075l-4 3"/>
<path color="#f2b97c" d="M1274 1074l12 1 12-19-12-1z"/>
<path color="#d97224" d="M1494 999l14 10 11-6-14-10z"/>
<path class="k" d="M1517 1002l-16 2"/>
<path color="#ea8534" d="M1556 1023l14 13 10-3-13-13z"/>
<path color="#ee9f57" d="M1298 1056l13 2 12-18-13-2z"/>
<path class="k" d="M1321 1042l-12-3"/>
<path color="#d67024" d="M1470 997l13 9 11-7-13-10z"/>
<path class="k" d="M1485 1005l-3 1"/>
<path color="#f0a965" d="M1594 1048l14 15 10-1-14-16z"/>
<path color="#eb8a3b" d="M1323 1040l12 3 12-17-13-3z"/>
<path color="#d56f23" d="M1445 998l14 8 11-9-13-8z"/>
<path color="#e57a27" d="M1532 1015l14 12 10-4-13-13z"/>
<path color="#e67b28" d="M1347 1026l13 4 12-15-13-4z"/>
<path color="#d67024" d="M1421 1001l13 7 11-10-13-8z"/>
<path class="k" d="M1436 1006l-7 0"/>
<path color="#df7626" d="M1372 1015l13 5 11-13-13-5z"/>
<path class="k" d="M1384 1002l-1 0"/>
<path color="#da7224" d="M1396 1007l13 6 12-12-13-6z"/>
<path class="k" d="M1417 1005l-18-1"/>
<path color="#ed964a" d="M1570 1036l14 14 10-2-14-15z"/>
<path class="k" d="M1587 1040l-9 4"/>
<path color="#df7626" d="M1508 1009l13 11 11-5-13-12z"/>
<path color="#f3be85" d="M1608 1063l14 16 10-1-14-16z"/>
<path color="#f2b677" d="M1286 1075l13 2 12-19-13-2z"/>
<path color="#dc7425" d="M1483 1006l14 10 11-7-14-10z"/>
<path class="k" d="M1501 1004l-16 1"/>
<path color="#ea8635" d="M1546 1027l13 13 11-4-14-13z"/>
<path color="#ee9e56" d="M1311 1058l12 2 12-17-12-3z"/>
<path class="k" d="M1334 1045l-13-3"/>
<path color="#da7325" d="M1459 1006l13 9 11-9-13-9z"/>
<path class="k" d="M1482 1006l-23 0"/>
<path color="#eb8b3c" d="M1335 1043l13 3 12-16-13-4z"/>
<path color="#da7325" d="M1434 1008l13 8 12-10-14-8z"/>
<path class="k" d="M1458 1006l-22 0"/>
<path color="#f0a762" d="M1584 1050l13 15 11-2-14-15z"/>
<path color="#e87c28" d="M1360 1030l13 5 12-15-13-5z"/>
<path color="#dd7425" d="M1409 1013l13 7 12-12-13-7z"/>
<path class="k" d="M1429 1006l-12-1"/>
<path color="#e17726" d="M1385 1020l13 6 11-13-13-6z"/>
<path color="#e77b28" d="M1521 1020l14 12 11-5-14-12z"/>
<path color="#e27826" d="M1497 1016l13 11 11-7-13-11z"/>
<path color="#ed954a" d="M1559 1040l14 14 11-4-14-14z"/>
<path class="k" d="M1578 1044l-11 3"/>
<path color="#f2b474" d="M1299 1077l12 2 12-19-12-2z"/>
<path color="#df7626" d="M1472 1015l13 10 12-9-14-10z"/>
<path color="#f3bb7f" d="M1597 1065l14 16 11-2-14-16z"/>
<path color="#ee9f57" d="M1323 1060l13 4 12-18-13-3z"/>
<path class="k" d="M1347 1047l-13-2"/>
<path color="#df7626" d="M1447 1016l14 9 11-10-13-9z"/>
<path class="k" d="M1459 1006l-1 0"/>
<path color="#ea8737" d="M1535 1032l14 13 10-5-13-13z"/>
<path color="#eb8d3f" d="M1348 1046l13 5 12-16-13-5z"/>
<path class="k" d="M1362 1050l-7-1"/>
<path color="#e07726" d="M1422 1020l14 8 11-12-13-8z"/>
<path color="#e87f2c" d="M1373 1035l13 6 12-15-13-6z"/>
<path color="#e47927" d="M1398 1026l13 7 11-13-13-7z"/>
<path color="#f0a661" d="M1573 1054l14 15 10-4-13-15z"/>
<path color="#e87d2a" d="M1510 1027l14 12 11-7-14-12z"/>
<path color="#e57a27" d="M1485 1025l14 10 11-8-13-11z"/>
<path color="#f2b473" d="M1311 1079l13 4 12-19-13-4z"/>
<path color="#ed974c" d="M1549 1045l13 14 11-5-14-14z"/>
<path class="k" d="M1567 1047l-13 4"/>
<path color="#e47927" d="M1461 1025l13 9 11-9-13-10z"/>
<path color="#eea058" d="M1336 1064l13 4 12-17-13-5z"/>
<path class="k" d="M1355 1049l-8-2"/>
<path color="#e57a27" d="M1436 1028l13 8 12-11-14-9z"/>
<path color="#ec9043" d="M1361 1051l13 5 12-15-13-6z"/>
<path class="k" d="M1377 1052l-15-2"/>
<path color="#f2b97c" d="M1587 1069l14 15 10-3-14-16z"/>
<path color="#e77c28" d="M1411 1033l13 7 12-12-14-8z"/>
<path color="#e98332" d="M1386 1041l13 6 12-14-13-7z"/>
<path color="#eb8b3c" d="M1524 1039l14 13 11-7-14-13z"/>
<path color="#e98332" d="M1499 1035l14 12 11-8-14-12z"/>
<path color="#f0a762" d="M1562 1059l14 14 11-4-14-15z"/>
<path color="#e97f2c" d="M1474 1034l14 11 11-10-14-10z"/>
<path color="#f2b575" d="M1324 1083l13 4 12-19-13-4z"/>
<path color="#e87f2b" d="M1449 1036l14 9 11-11-13-9z"/>
<path color="#efa35c" d="M1349 1068l13 5 12-17-13-5z"/>
<path color="#ed9a50" d="M1538 1052l13 13 11-6-13-14z"/>
<path class="k" d="M1554 1051l-15 2"/>
<path color="#e98230" d="M1424 1040l14 8 11-12-13-8z"/>
<path color="#ec9448" d="M1374 1056l13 6 12-15-13-6z"/>
<path class="k" d="M1393 1054l-16-2"/>
<path color="#ea8939" d="M1399 1047l13 7 12-14-13-7z"/>
<path color="#ec9043" d="M1513 1047l14 12 11-7-14-13z"/>
<path class="k" d="M1534 1054l-12 2"/>
<path color="#f3ba7d" d="M1576 1073l14 16 11-5-14-15z"/>
<path color="#eb8b3b" d="M1488 1045l13 11 12-9-14-12z"/>
<path color="#f0aa65" d="M1551 1065l14 14 11-6-14-14z"/>
<path color="#ea8939" d="M1463 1045l13 10 12-10-14-11z"/>
<path color="#f2b87a" d="M1337 1087l13 4 12-18-13-5z"/>
<path color="#eb8a3b" d="M1438 1048l13 9 12-12-14-9z"/>
<path color="#f0a660" d="M1362 1073l13 6 12-17-13-6z"/>
<path color="#ec9043" d="M1412 1054l14 8 12-14-14-8z"/>
<path class="k" d="M1429 1058l-12-1"/>
<path color="#ed994f" d="M1387 1062l13 7 12-15-13-7z"/>
<path class="k" d="M1411 1056l-18-2"/>
<path color="#ee9f56" d="M1527 1059l13 13 11-7-13-13z"/>
<path class="k" d="M1539 1053l-5 1"/>
<path color="#ed974c" d="M1501 1056l14 12 12-9-14-12z"/>
<path class="k" d="M1522 1056l-19 1"/>
<path color="#f3bc81" d="M1565 1079l15 15 10-5-14-16z"/>
<path color="#ec9448" d="M1476 1055l14 11 11-10-13-11z"/>
<path class="k" d="M1500 1058l-20 1"/>
<path color="#ec9448" d="M1451 1057l14 10 11-12-13-10z"/>
<path class="k" d="M1473 1059l-20 0"/>
<path color="#f3bb80" d="M1350 1091l13 6 12-18-13-6z"/>
<path color="#f1ae6b" d="M1540 1072l14 14 11-7-14-14z"/>
<path color="#ed984d" d="M1426 1062l13 9 12-14-13-9z"/>
<path class="k" d="M1450 1059l-21-1"/>
<path color="#f0ab67" d="M1375 1079l14 6 11-16-13-7z"/>
<path color="#ee9f57" d="M1400 1069l14 8 12-15-14-8z"/>
<path class="k" d="M1417 1057l-6-1"/>
<path color="#efa55f" d="M1515 1068l14 13 11-9-13-13z"/>
<path color="#eea058" d="M1490 1066l14 12 11-10-14-12z"/>
<path class="k" d="M1503 1057l-3 1"/>
<path color="#f3c189" d="M1554 1086l15 15 11-7-15-15z"/>
<path color="#ee9e56" d="M1465 1067l14 11 11-12-14-11z"/>
<path class="k" d="M1480 1059l-7 0"/>
<path color="#f3c089" d="M1363 1097l13 6 13-18-14-6z"/>
<path color="#efa159" d="M1439 1071l14 9 12-13-14-10z"/>
<path class="k" d="M1453 1059l-3 0"/>
<path color="#f1b06e" d="M1389 1085l13 8 12-16-14-8z"/>
<path color="#f0a761" d="M1414 1077l14 8 11-14-13-9z"/>
<path color="#f2b473" d="M1529 1081l14 14 11-9-14-14z"/>
<path color="#f1ad69" d="M1504 1078l14 13 11-10-14-13z"/>
<path color="#f0aa65" d="M1479 1078l13 11 12-11-14-12z"/>
<path color="#f0aa66" d="M1453 1080l14 11 12-13-14-11z"/>
<path color="#f4c794" d="M1376 1103l14 7 12-17-13-8z"/>
<path class="k" d="M1393 1105l-16-2"/>
<path color="#f1af6c" d="M1428 1085l13 9 12-14-14-9z"/>
<path color="#f4c795" d="M1543 1095l14 14 12-8-15-15z"/>
<path class="k" d="M1566 1103l-12 2"/>
<path color="#f2b87a" d="M1402 1093l14 8 12-16-14-8z"/>
<path color="#f3bd82" d="M1518 1091l14 13 11-9-14-14z"/>
<path color="#f2b778" d="M1492 1089l14 13 12-11-14-13z"/>
<path color="#f2b676" d="M1467 1091l14 11 11-13-13-11z"/>
<path color="#f2b97d" d="M1441 1094l14 11 12-14-14-11z"/>
<path color="#f4cea1" d="M1390 1110l14 8 12-17-14-8z"/>
<path class="k" d="M1411 1107l-18-2"/>
<path color="#f3c28b" d="M1416 1101l13 9 12-16-13-9z"/>
<path class="k" d="M1430 1109l-3 0"/>
<path color="#f4d0a4" d="M1532 1104l14 14 11-9-14-14z"/>
<path class="k" d="M1554 1105l-18 3"/>
<path color="#f4c896" d="M1506 1102l15 13 11-11-14-13z"/>
<path class="k" d="M1527 1109l-12 0"/>
<path color="#f3c591" d="M1481 1102l14 12 11-12-14-13z"/>
<path class="k" d="M1498 1110l-7 1"/>
<path color="#f4c693" d="M1455 1105l14 11 12-14-14-11z"/>
<path class="k" d="M1473 1111l-10 0"/>
<path color="#f4cd9e" d="M1429 1110l14 10 12-15-14-11z"/>
<path class="k" d="M1451 1110l-21-1"/>
<path color="#f5d7b1" d="M1404 1118l13 9 12-17-13-9z"/>
<path class="k" d="M1427 1109l-16-2"/>
<path color="#f5dab6" d="M1521 1115l14 14 11-11-14-14z"/>
<path class="k" d="M1536 1108l-9 1"/>
<path color="#f5d5ad" d="M1495 1114l14 13 12-12-15-13z"/>
<path class="k" d="M1515 1109l-17 1"/>
<path color="#f5d5ac" d="M1469 1116l14 11 12-13-14-12z"/>
<path class="k" d="M1491 1111l-18 0"/>
<path color="#f5d9b4" d="M1443 1120l14 11 12-15-14-11z"/>
<path class="k" d="M1463 1111l-12-1"/>
<path color="#f6e2c3" d="M1417 1127l14 10 12-17-14-10z"/>
<path color="#f6e5ca" d="M1509 1127l14 14 12-12-14-14z"/>
<path color="#f6e3c7" d="M1483 1127l14 13 12-13-14-13z"/>
<path color="#f6e5ca" d="M1457 1131l14 11 12-15-14-11z"/>
<path color="#f6e9d2" d="M1431 1137l14 10 12-16-14-11z"/>
<path color="#f7eddc" d="M1497 1140l15 14 11-13-14-14z"/>
<path color="#f7eddd" d="M1471 1142l14 13 12-15-14-13z"/>
<path color="#f7f0e3" d="M1445 1147l14 11 12-16-14-11z"/>
<path color="#f5f6f0" d="M1485 1155l15 13 12-14-15-14z"/>
<path class="k" d="M1504 1163l-10 0"/>
<path color="#f1f5ee" d="M1459 1158l14 13 12-16-14-13z"/>
<path class="k" d="M1479 1163l-15-1"/>
<path color="#d7f2e7" d="M1473 1171l15 13 12-16-15-13z"/>
<path class="k" d="M1494 1163l-15 0"/>
</g>
<text x="274.9" y="329.6" font-size="3.8" font-weight="bold" fill="#333" text-anchor="middle" transform="rotate(-22.0 274.9 329.6)">1.0</text>
<text x="304.9" y="340.7" font-size="3.8" font-weight="bold" fill="#333" text-anchor="middle" transform="rotate(-22.0 304.9 340.7)">1.3</text>
<text x="334.9" y="351.8" font-size="3.8" font-weight="bold" fill="#333" text-anchor="middle" transform="rotate(-22.0 334.9 351.8)">1.6</text>
<text x="364.9" y="362.9" font-size="3.8" font-weight="bold" fill="#333" text-anchor="middle" transform="rotate(-22.0 364.9 362.9)">1.9</text>
<text x="376.7" y="363.5" font-size="3.8" font-weight="bold" fill="#333" text-anchor="middle" transform="rotate(-27.9 376.7 363.5)">3.0</text>
<text x="394.9" y="353.9" font-size="3.8" font-weight="bold" fill="#333" text-anchor="middle" transform="rotate(-27.9 394.9 353.9)">3.5</text>
<text x="413.2" y="344.2" font-size="3.8" font-weight="bold" fill="#333" text-anchor="middle" transform="rotate(-27.9 413.2 344.2)">4.0</text>
<text x="431.4" y="334.6" font-size="3.8" font-weight="bold" fill="#333" text-anchor="middle" transform="rotate(-27.9 431.4 334.6)">4.5</text>
<text x="449.7" y="324.9" font-size="3.8" font-weight="bold" fill="#333" text-anchor="middle" transform="rotate(-27.9 449.7 324.9)">5.0</text>
<text x="309.8" y="349.8" font-size="6.8" font-style="italic" fill="#222" text-anchor="middle" dominant-baseline="central" transform="rotate(20.3 309.8 349.8)">X₁: Glucose dosage (%)</text>
<text x="426.0" y="345.9" font-size="6.5" font-style="italic" fill="#222" text-anchor="middle" dominant-baseline="central" transform="rotate(-27.9 426.0 345.9)">X₂: Time (day)</text>
<text x="0" y="0" font-size="7.8" font-weight="bold" fill="#111" text-anchor="middle" dominant-baseline="central" transform="translate(261.1 273.9) rotate(90)">AA-N (g/100 mL)</text>
<text x="243.8" y="206.1" font-size="20" font-weight="bold">E</text>
<line x1="532.9" y1="318.4" x2="529.1" y2="210.6" stroke="#d9d9d9" stroke-width="0.6"/>
<line x1="552.5" y1="311.0" x2="550.2" y2="207.3" stroke="#d9d9d9" stroke-width="0.6"/>
<line x1="570.6" y1="304.3" x2="569.6" y2="204.2" stroke="#d9d9d9" stroke-width="0.6"/>
<line x1="607.1" y1="303.3" x2="608.3" y2="204.0" stroke="#d9d9d9" stroke-width="0.6"/>
<line x1="627.9" y1="309.0" x2="630.5" y2="206.8" stroke="#d9d9d9" stroke-width="0.6"/>
<line x1="650.1" y1="315.1" x2="654.3" y2="209.8" stroke="#d9d9d9" stroke-width="0.6"/>
<path d="M506.2 214.3L587.5 201.3L679.6 213.0" fill="none" stroke="#d9d9d9" stroke-width="0.6"/>
<path d="M507.7 245.7L587.5 228.3L678.0 243.4" fill="none" stroke="#d9d9d9" stroke-width="0.6"/>
<path d="M509.2 276.5L587.5 254.7L676.4 273.2" fill="none" stroke="#d9d9d9" stroke-width="0.6"/>
<path d="M510.6 306.4L587.5 280.6L674.8 302.3" fill="none" stroke="#d9d9d9" stroke-width="0.6"/>
<line x1="506.1" y1="214.4" x2="587.6" y2="201.5" stroke="#3a3a3a" stroke-width="0.9"/>
<line x1="587.6" y1="201.5" x2="679.6" y2="212.7" stroke="#3a3a3a" stroke-width="0.9"/>
<line x1="511.4" y1="326.6" x2="506.1" y2="214.4" stroke="#3a3a3a" stroke-width="0.9"/>
<line x1="587.6" y1="297.5" x2="587.6" y2="201.5" stroke="#3a3a3a" stroke-width="0.9"/>
<line x1="673.5" y1="322.2" x2="679.6" y2="212.7" stroke="#3a3a3a" stroke-width="0.9"/>
<line x1="504.0" y1="214.6" x2="506.2" y2="214.3" stroke="#3a3a3a" stroke-width="0.7"/>
<text x="503.2" y="214.6" font-size="5.3" font-weight="bold" text-anchor="end" dominant-baseline="central" fill="#222" transform="rotate(-12 503.2 214.6)">0.60</text>
<line x1="505.5" y1="246.0" x2="507.7" y2="245.7" stroke="#3a3a3a" stroke-width="0.7"/>
<text x="504.7" y="246.0" font-size="5.3" font-weight="bold" text-anchor="end" dominant-baseline="central" fill="#222" transform="rotate(-12 504.7 246.0)">0.56</text>
<line x1="507.0" y1="276.8" x2="509.2" y2="276.5" stroke="#3a3a3a" stroke-width="0.7"/>
<text x="506.2" y="276.8" font-size="5.3" font-weight="bold" text-anchor="end" dominant-baseline="central" fill="#222" transform="rotate(-12 506.2 276.8)">0.52</text>
<line x1="508.4" y1="306.7" x2="510.6" y2="306.4" stroke="#3a3a3a" stroke-width="0.7"/>
<text x="507.6" y="306.7" font-size="5.3" font-weight="bold" text-anchor="end" dominant-baseline="central" fill="#222" transform="rotate(-12 507.6 306.7)">0.48</text>
<g class="s" transform="scale(.25)">
<path color="#9ce6d4" d="M2046 1305l11 4 12-4-11-4zM2386 1219l11 3 9-3-11-3zM2447 1224l11 3 9-3-11-3z"/>
<path color="#b1eddd" d="M2058 1301l11 4 11-5-10-3zM2347 1220l11 3 9-3-11-3z"/>
<path color="#ccf1e6" d="M2070 1297l10 3 12-4-11-4zM2288 1222l11 3 9-4-10-3zM2388 1226l11 3 9-4-11-3z"/>
<path color="#eaf6ee" d="M2081 1292l11 4 11-4-10-4z"/>
<path color="#f8f3e9" d="M2093 1288l10 4 11-5-10-3z"/>
<path color="#f7ebd7" d="M2104 1284l10 3 11-4-10-3zM2227 1361l12 4 11-5-12-4zM2239 1365l12 5 12-5-13-5zM2251 1370l13 4 11-5-12-4zM2378 1405l14 5 11-6-14-4z"/>
<path color="#f7e3c7" d="M2115 1280l10 3 11-4-10-3zM2168 1331l11 4 12-4-12-4z"/>
<path color="#f6d9b5" d="M2126 1276l10 3 11-4-10-3z"/>
<path color="#f6d1a7" d="M2137 1272l10 3 11-4-10-3zM2321 1238l11 3 9-4-11-3z"/>
<path color="#f5cb9c" d="M2148 1268l10 3 11-4-11-3z"/>
<path color="#f5c796" d="M2158 1264l11 3 10-4-10-3z"/>
<path color="#f5c491" d="M2169 1260l10 3 11-4-11-3zM2179 1256l11 3 10-4-10-3zM2251 1243l10 3 10-3-11-4z"/>
<path color="#f5c695" d="M2190 1252l10 3 10-4-10-3zM2202 1335l12 4 11-5-11-4z"/>
<path color="#f5ca9b" d="M2200 1248l10 3 10-4-10-3zM2191 1331l11 4 12-5-12-4z"/>
<path color="#f6cfa5" d="M2210 1244l10 3 10-3-10-4zM2260 1239l11 4 10-4-11-3z"/>
<path color="#f6d7b2" d="M2220 1240l10 4 10-4-10-3zM2214 1348l12 4 12-5-12-4z"/>
<path color="#f6e1c4" d="M2230 1237l10 3 10-4-10-3z"/>
<path color="#f7ead4" d="M2240 1233l10 3 10-3-11-4zM2145 1323l12 4 11-4-11-4zM2538 1249l12 4 8-4-12-3z"/>
<path color="#f8f1e6" d="M2249 1229l11 4 9-4-10-3zM2269 1229l11 3 9-4-10-3zM2483 1240l12 4 8-4-11-3zM2405 1415l14 5 11-6-14-5z"/>
<path color="#eff6f0" d="M2259 1226l10 3 10-4-11-3zM2215 1366l12 5 12-6-12-4z"/>
<path color="#d2f2e8" d="M2268 1222l11 3 9-3-10-3z"/>
<path color="#b3eedf" d="M2278 1219l10 3 10-4-11-3z"/>
<path color="#a0e7d5" d="M2287 1215l11 3 9-3-11-3z"/>
<path color="#8be0cb" d="M2296 1212l11 3 9-4-10-3z"/>
<path color="#75dac1" d="M2306 1208l10 3 9-3-10-3zM2414 1215l11 3 9-3-11-3z"/>
<path color="#6dd2bb" d="M2315 1205l10 3 9-3-10-3z"/>
<path color="#64c9b4" d="M2324 1202l10 3 9-4-11-3z"/>
<path color="#58b8a2" d="M2332 1198l11 3 8-3-10-3z"/>
<path color="#4ca690" d="M2341 1195l10 3 9-3-10-3z"/>
<path color="#a4e9d7" d="M2057 1309l11 4 11-4-10-4z"/>
<path color="#b9efe1" d="M2069 1305l10 4 12-5-11-4zM2328 1221l10 3 9-4-10-3z"/>
<path color="#daf4eb" d="M2080 1300l11 4 11-4-10-4z"/>
<path color="#f8f7f1" d="M2092 1296l10 4 12-5-11-3zM2410 1232l11 3 9-4-11-3z"/>
<path color="#f7eedd" d="M2103 1292l11 3 11-4-11-4zM2289 1383l12 5 12-6-13-4z"/>
<path color="#f7e5ca" d="M2114 1287l11 4 11-4-11-4zM2506 1247l12 3 8-4-11-3z"/>
<path color="#f6d9b4" d="M2125 1283l11 4 11-4-11-4z"/>
<path color="#f6cfa2" d="M2136 1279l11 4 11-4-11-4zM2281 1239l10 3 10-4-11-3z"/>
<path color="#f5c694" d="M2147 1275l11 4 11-5-11-3zM2350 1386l13 4 11-5-13-4z"/>
<path color="#f4bf89" d="M2158 1271l11 3 10-4-10-3z"/>
<path color="#f3bc84" d="M2169 1267l10 3 11-4-11-3zM2158 1279l11 3 10-4-10-4zM2363 1244l11 3 9-4-11-3z"/>
<path color="#f3ba80" d="M2179 1263l11 3 10-4-10-3z"/>
<path color="#f3b980" d="M2190 1259l10 3 11-4-11-3zM2261 1246l11 4 10-4-11-3z"/>
<path color="#f3ba82" d="M2200 1255l11 3 10-3-11-4z"/>
<path color="#f4be85" d="M2210 1251l11 4 10-4-11-4zM2158 1294l10 4 11-5-10-3zM2446 1248l11 4 9-4-11-3z"/>
<path color="#f4c28d" d="M2220 1247l11 4 10-4-11-3z"/>
<path color="#f5c99a" d="M2230 1244l11 3 10-4-11-3zM2403 1243l11 3 9-4-11-3zM2441 1408l14 5 11-6-14-4z"/>
<path color="#f6d3aa" d="M2240 1240l11 3 9-4-10-3zM2136 1295l10 3 12-4-11-4zM2146 1307l11 3 11-4-11-4zM2168 1323l11 4 12-5-12-4zM2389 1400l14 4 11-5-14-5z"/>
<path color="#f6debe" d="M2250 1236l10 3 10-3-10-3zM2146 1315l11 4 11-5-11-4zM2443 1241l12 4 8-4-11-3zM2416 1409l14 5 11-6-14-4z"/>
<path color="#f7e9d3" d="M2260 1233l10 3 10-4-11-3zM2280 1232l10 3 10-4-11-3zM2124 1307l11 4 11-4-11-4zM2401 1236l11 3 9-4-11-3zM2463 1241l12 3 8-4-11-3z"/>
<path color="#ecf6ef" d="M2279 1225l10 3 10-3-11-3zM2503 1240l12 3 8-4-11-3z"/>
<path color="#afecdd" d="M2298 1218l10 3 9-3-10-3z"/>
<path color="#9ae6d3" d="M2307 1215l10 3 9-4-10-3z"/>
<path color="#83dec8" d="M2316 1211l10 3 9-3-10-3z"/>
<path color="#73d7be" d="M2325 1208l10 3 9-4-10-2z"/>
<path color="#69cfb8" d="M2334 1205l10 2 9-3-10-3z"/>
<path color="#5fc4af" d="M2343 1201l10 3 9-3-11-3z"/>
<path color="#52ad98" d="M2351 1198l11 3 8-4-10-2z"/>
<path color="#abebda" d="M2068 1313l10 4 12-5-11-3z"/>
<path color="#c6f1e5" d="M2079 1309l11 3 12-4-11-4zM2481 1234l11 3 8-4-11-3z"/>
<path color="#e9f6ee" d="M2091 1304l11 4 11-5-11-3z"/>
<path color="#f8f2e6" d="M2102 1300l11 3 11-4-10-4zM2156 1336l12 4 11-5-11-4z"/>
<path color="#f7e9d2" d="M2114 1295l10 4 12-4-11-4z"/>
<path color="#f6dbb9" d="M2125 1291l11 4 11-5-11-3zM2518 1250l12 3 8-4-12-3zM2562 1256l12 3 8-4-12-3z"/>
<path color="#f6cfa3" d="M2136 1287l11 3 11-4-11-3zM2301 1238l11 3 9-3-11-3z"/>
<path color="#f5c490" d="M2147 1283l11 3 11-4-11-3z"/>
<path color="#f2b77c" d="M2169 1274l10 4 11-4-11-4zM2322 1245l11 3 10-4-11-3z"/>
<path color="#f1b277" d="M2179 1270l11 4 10-4-10-4zM2374 1247l11 3 9-4-11-3zM2648 1280l13 3 8-4-13-3z"/>
<path color="#f1b174" d="M2190 1266l10 4 11-4-11-4zM2211 1258l10 4 10-4-10-3zM2179 1302l11 3 11-4-11-4z"/>
<path color="#f1b073" d="M2200 1262l11 4 10-4-10-4zM2501 1258l12 3 8-4-12-3z"/>
<path color="#f1b378" d="M2221 1255l10 3 10-4-10-3zM2452 1403l14 4 10-5-14-5z"/>
<path color="#f2b77d" d="M2231 1251l10 3 10-4-10-3zM2282 1246l10 3 10-4-11-3zM2168 1298l11 4 11-5-11-4zM2179 1310l12 4 11-5-12-4zM2489 1254l12 4 8-4-11-3zM2387 1390l13 4 11-5-13-5z"/>
<path color="#f3bd85" d="M2241 1247l10 3 10-4-10-3z"/>
<path color="#f6dcbb" d="M2270 1236l11 3 9-4-10-3zM2191 1339l12 4 11-4-12-4z"/>
<path color="#f8f2e8" d="M2289 1228l11 3 9-3-10-3z"/>
<path color="#e6f5ed" d="M2299 1225l10 3 9-4-10-3z"/>
<path color="#c4f1e4" d="M2308 1221l10 3 10-3-11-3zM2358 1223l10 3 9-3-10-3z"/>
<path color="#a9ebda" d="M2317 1218l11 3 9-4-11-3z"/>
<path color="#92e3cf" d="M2326 1214l11 3 9-3-11-3z"/>
<path color="#7adbc4" d="M2335 1211l11 3 9-4-11-3z"/>
<path color="#6fd4bc" d="M2344 1207l11 3 8-3-10-3z"/>
<path color="#66cbb5" d="M2353 1204l10 3 9-3-10-3z"/>
<path color="#59baa5" d="M2362 1201l10 3 9-4-11-3z"/>
<path color="#b1edde" d="M2078 1317l11 4 12-5-11-4zM2369 1421l14 5 11-5-13-5z"/>
<path color="#d3f2e8" d="M2090 1312l11 4 11-4-10-4zM2338 1224l11 3 9-4-11-3z"/>
<path color="#f6f7f1" d="M2102 1308l10 4 12-5-11-4zM2472 1237l11 3 9-3-11-3z"/>
<path color="#f7eddc" d="M2113 1303l11 4 11-4-11-4z"/>
<path color="#f7e1c4" d="M2124 1299l11 4 11-5-10-3z"/>
<path color="#f5c693" d="M2147 1290l11 4 11-4-11-4z"/>
<path color="#f3bc83" d="M2158 1286l11 4 10-4-10-4zM2191 1322l11 4 11-5-11-4z"/>
<path color="#f2b47a" d="M2169 1282l10 4 11-5-11-3zM2169 1290l10 3 11-4-11-3zM2533 1260l12 4 9-4-12-3z"/>
<path color="#f1ae71" d="M2179 1278l11 3 11-4-11-3zM2249 1342l12 4 11-5-12-4zM2545 1264l12 3 9-4-12-3z"/>
<path color="#f1aa6c" d="M2190 1274l11 3 10-4-11-3z"/>
<path color="#f0a769" d="M2200 1270l11 3 11-4-11-3z"/>
<path color="#f0a767" d="M2211 1266l11 3 10-4-11-3zM2190 1281l11 4 11-4-11-4zM2225 1325l11 4 11-4-11-4z"/>
<path color="#f0a768" d="M2221 1262l11 3 10-4-11-3zM2190 1297l11 4 11-4-11-4zM2615 1277l12 3 9-4-13-3zM2411 1389l14 4 10-5-13-5z"/>
<path color="#f0a96a" d="M2231 1258l11 3 10-4-11-3zM2513 1261l12 3 8-4-12-3z"/>
<path color="#f1ad6f" d="M2241 1254l11 3 10-4-11-3zM2179 1286l11 3 11-4-11-4zM2292 1249l11 3 10-4-11-3zM2333 1248l11 3 10-4-11-3zM2437 1252l11 4 9-4-11-4zM2469 1255l11 3 9-4-11-3zM2674 1287l13 4 8-5-13-3z"/>
<path color="#f1b276" d="M2251 1250l11 3 10-3-11-4zM2191 1314l11 3 11-4-11-4zM2225 1334l12 4 11-5-12-4z"/>
<path color="#f4c28c" d="M2271 1243l11 3 9-4-10-3zM2383 1243l11 3 9-3-11-4zM2554 1260l12 3 8-4-12-3z"/>
<path color="#f6dcbc" d="M2290 1235l11 3 9-3-10-4z"/>
<path color="#f7ead5" d="M2300 1231l10 4 10-4-11-3z"/>
<path color="#f8f5ec" d="M2309 1228l11 3 9-4-11-3z"/>
<path color="#dff4eb" d="M2318 1224l11 3 9-3-10-3z"/>
<path color="#a2e8d6" d="M2337 1217l10 3 9-3-10-3z"/>
<path color="#8ae0ca" d="M2346 1214l10 3 9-4-10-3z"/>
<path color="#74d8c0" d="M2355 1210l10 3 9-3-11-3z"/>
<path color="#6bd0b9" d="M2363 1207l11 3 9-4-11-2z"/>
<path color="#61c7b2" d="M2372 1204l11 2 8-3-10-3z"/>
<path color="#b7efe0" d="M2089 1321l11 4 12-5-11-4zM2438 1228l12 3 8-4-11-3zM2356 1417l13 4 12-5-14-5z"/>
<path color="#def4eb" d="M2101 1316l11 4 11-4-11-4zM2145 1341l11 4 12-5-12-4zM2290 1393l13 5 11-6-13-4z"/>
<path color="#f8f4eb" d="M2112 1312l11 4 12-5-11-4zM2145 1332l11 4 12-5-11-4z"/>
<path color="#f6dab7" d="M2135 1303l11 4 11-5-11-4z"/>
<path color="#f5ca9c" d="M2146 1298l11 4 11-4-10-4z"/>
<path color="#efa261" d="M2201 1277l11 4 10-4-11-4zM2324 1252l11 3 9-4-11-3z"/>
<path color="#ee9f5d" d="M2211 1273l11 4 10-4-10-4zM2201 1285l11 4 10-5-10-3zM2201 1293l11 4 11-5-11-3zM2492 1262l12 3 9-4-12-3zM2372 1375l13 5 10-5-13-5z"/>
<path color="#ee9d5b" d="M2222 1269l10 4 11-4-11-4z"/>
<path color="#ee9e5b" d="M2232 1265l11 4 10-4-11-4zM2428 1256l11 3 9-3-11-4z"/>
<path color="#eea05e" d="M2242 1261l11 4 10-4-11-4zM2640 1284l13 4 8-5-13-3z"/>
<path color="#efa363" d="M2252 1257l11 4 10-4-11-4zM2344 1251l11 3 10-3-11-4zM2236 1329l12 4 11-5-12-3zM2627 1280l13 4 8-4-12-4z"/>
<path color="#f0a869" d="M2262 1253l11 4 10-4-11-3zM2557 1267l12 4 9-4-12-4z"/>
<path color="#f1ae72" d="M2272 1250l11 3 9-4-10-3zM2405 1250l12 3 9-4-12-3z"/>
<path color="#f4c18b" d="M2291 1242l11 3 10-4-11-3zM2226 1343l12 4 11-5-12-4zM2324 1377l13 4 11-5-13-4z"/>
<path color="#f6dfbf" d="M2310 1235l11 3 9-4-10-3zM2412 1239l11 3 9-4-11-3z"/>
<path color="#f7ecda" d="M2320 1231l10 3 10-4-11-3zM2276 1379l13 4 11-5-13-5z"/>
<path color="#f7f7f2" d="M2329 1227l11 3 9-3-11-3z"/>
<path color="#98e6d2" d="M2356 1217l11 3 9-4-11-3z"/>
<path color="#7fddc5" d="M2365 1213l11 3 8-3-10-3z"/>
<path color="#70d4bd" d="M2374 1210l10 3 9-4-10-3z"/>
<path color="#67ccb6" d="M2383 1206l10 3 9-3-11-3z"/>
<path color="#c1f1e3" d="M2100 1325l11 4 12-5-11-4z"/>
<path color="#e8f6ee" d="M2112 1320l11 4 11-5-11-3z"/>
<path color="#f8f1e3" d="M2123 1316l11 3 12-4-11-4z"/>
<path color="#f7e4c9" d="M2135 1311l11 4 11-5-11-3zM2430 1414l14 5 11-6-14-5z"/>
<path color="#f4c38e" d="M2157 1302l11 4 11-4-11-4zM2509 1254l12 3 9-4-12-3z"/>
<path color="#f1ad70" d="M2179 1293l11 4 11-4-11-4zM2202 1317l11 4 11-4-11-4zM2335 1372l13 4 11-5-13-4z"/>
<path color="#f0a665" d="M2190 1289l11 4 11-4-11-4z"/>
<path color="#ed9a57" d="M2212 1281l10 3 11-4-11-3zM2321 1358l12 4 11-5-12-4z"/>
<path color="#ed9752" d="M2222 1277l11 3 10-4-11-3zM2549 1271l12 4 8-4-12-4z"/>
<path color="#ec9650" d="M2232 1273l11 3 11-4-11-3zM2243 1269l11 3 10-4-11-3zM2284 1260l11 3 9-4-11-3zM2422 1383l13 5 11-5-14-5z"/>
<path color="#ec9652" d="M2253 1265l11 3 10-4-11-3zM2224 1308l11 4 11-4-11-4z"/>
<path color="#ed9a56" d="M2263 1261l11 3 10-4-11-3zM2314 1256l11 3 10-4-11-3zM2308 1354l13 4 11-5-13-4zM2594 1278l12 3 9-4-13-3z"/>
<path color="#ee9e5c" d="M2273 1257l11 3 9-4-10-3zM2260 1337l12 4 11-4-12-5zM2582 1274l12 4 8-4-12-4z"/>
<path color="#efa564" d="M2283 1253l10 3 10-4-11-3zM2448 1256l12 3 9-4-12-3z"/>
<path color="#f2b67b" d="M2302 1245l11 3 9-3-10-4z"/>
<path color="#f4c28b" d="M2312 1241l10 4 10-4-11-3z"/>
<path color="#f7e2c6" d="M2330 1234l11 3 9-3-10-4z"/>
<path color="#f8efe0" d="M2340 1230l10 4 9-4-10-3z"/>
<path color="#ebf6ef" d="M2349 1227l10 3 9-4-10-3zM2180 1353l11 5 12-5-12-5zM2252 1379l13 5 11-5-12-5zM2367 1411l14 5 11-6-14-5z"/>
<path color="#a7ead9" d="M2367 1220l10 3 9-4-10-3z"/>
<path color="#8ee2cd" d="M2376 1216l10 3 9-3-11-3z"/>
<path color="#75d9c1" d="M2384 1213l11 3 9-4-11-3z"/>
<path color="#6cd0ba" d="M2393 1209l11 3 8-3-10-3z"/>
<path color="#c9f1e6" d="M2111 1329l11 4 12-5-11-4zM2329 1407l13 5 12-6-14-5z"/>
<path color="#f1f6f1" d="M2123 1324l11 4 11-5-11-4z"/>
<path color="#f7eddb" d="M2134 1319l11 4 12-4-11-4zM2191 1348l12 5 11-5-11-5z"/>
<path color="#f5cc9e" d="M2157 1310l11 4 11-4-11-4zM2498 1251l11 3 9-4-12-3zM2586 1263l12 3 8-4-12-3z"/>
<path color="#f3bd84" d="M2168 1306l11 4 11-5-11-3z"/>
<path color="#ed9853" d="M2212 1289l11 3 11-4-12-4z"/>
<path color="#ec934c" d="M2222 1284l12 4 10-4-11-4zM2223 1300l12 4 10-4-11-4zM2259 1328l12 4 11-4-12-4z"/>
<path color="#eb9048" d="M2233 1280l11 4 10-4-11-4zM2451 1263l12 3 9-4-12-3zM2483 1266l12 3 9-4-12-3zM2632 1288l13 4 8-4-13-4zM2473 1392l14 4 10-5-14-5z"/>
<path color="#eb8f48" d="M2243 1276l11 4 11-4-11-4zM2264 1268l11 3 10-4-11-3zM2235 1304l11 4 11-5-12-3zM2247 1316l11 4 11-5-12-3zM2283 1337l12 4 11-5-12-4zM2382 1370l13 5 11-6-13-4zM2573 1278l13 4 8-4-12-4z"/>
<path color="#ea8f48" d="M2254 1272l11 4 10-5-11-3zM2295 1263l11 4 9-4-11-4zM2295 1341l12 4 11-5-12-4zM2528 1272l12 3 9-4-12-3zM2370 1366l12 4 11-5-13-4zM2645 1292l13 3 8-4-13-3z"/>
<path color="#eb914a" d="M2274 1264l11 3 10-4-11-3z"/>
<path color="#ed9c58" d="M2293 1256l11 3 10-3-11-4zM2284 1345l12 5 11-5-12-4z"/>
<path color="#efa362" d="M2303 1252l11 4 10-4-11-4zM2569 1271l13 3 8-4-12-3z"/>
<path color="#f1ac6e" d="M2313 1248l11 4 9-4-11-3zM2190 1305l12 4 11-4-12-4zM2273 1350l12 5 11-5-12-5zM2322 1367l13 5 11-5-13-5zM2602 1274l13 3 8-4-12-4z"/>
<path color="#f4c490" d="M2332 1241l11 3 9-4-11-3z"/>
<path color="#f6d4ae" d="M2341 1237l11 3 9-3-11-3zM2238 1356l12 4 12-5-12-4z"/>
<path color="#f7e7cf" d="M2350 1234l11 3 9-4-11-3zM2157 1327l11 4 11-4-11-4z"/>
<path color="#f8f3ea" d="M2359 1230l11 3 9-4-11-3zM2327 1397l13 4 12-5-13-5z"/>
<path color="#ddf4eb" d="M2368 1226l11 3 9-3-11-3z"/>
<path color="#b5eee0" d="M2377 1223l11 3 9-4-11-3z"/>
<path color="#81dec7" d="M2395 1216l11 3 8-4-10-3zM2425 1218l11 3 9-3-11-3z"/>
<path color="#71d5be" d="M2404 1212l10 3 9-3-11-3z"/>
<path color="#d1f2e8" d="M2122 1333l11 4 12-5-11-4z"/>
<path color="#f8f6f1" d="M2134 1328l11 4 12-5-12-4zM2441 1235l11 3 9-4-11-3z"/>
<path color="#f6d8b3" d="M2157 1319l11 4 11-5-11-4zM2300 1378l13 4 11-5-13-4zM2403 1404l13 5 11-5-13-5z"/>
<path color="#f5c593" d="M2168 1314l11 4 12-4-12-4z"/>
<path color="#efa260" d="M2201 1301l12 4 10-5-11-3zM2213 1313l11 4 11-5-11-4zM2385 1380l13 4 11-5-14-4z"/>
<path color="#ed9854" d="M2212 1297l11 3 11-4-11-4zM2407 1257l12 3 9-4-11-3zM2504 1265l12 3 9-4-12-3z"/>
<path color="#eb914b" d="M2223 1292l11 4 11-4-11-4zM2366 1258l12 3 9-4-11-3z"/>
<path color="#ea8e47" d="M2234 1288l11 4 10-5-11-3zM2459 1387l14 5 10-6-13-4z"/>
<path color="#e78d47" d="M2244 1284l11 3 10-4-11-3zM2336 1262l11 4 10-4-11-4zM2246 1308l11 4 11-5-11-4zM2357 1262l11 3 10-4-12-3zM2463 1266l11 4 9-4-11-4zM2540 1275l12 4 9-4-12-4z"/>
<path color="#e68c47" d="M2254 1280l11 3 11-4-11-3zM2265 1276l11 3 10-4-11-4zM2275 1271l11 4 10-4-11-4zM2245 1292l11 3 10-4-11-4zM2245 1300l12 3 10-4-11-4zM2598 1285l13 4 8-4-13-4zM2432 1378l14 5 10-6-13-4z"/>
<path color="#e88d47" d="M2285 1267l11 4 10-4-11-4zM2378 1261l11 4 9-4-11-4zM2430 1263l12 4 9-4-12-4zM2495 1269l12 3 9-4-12-3zM2586 1282l12 3 8-4-12-3zM2446 1383l13 4 11-5-14-5z"/>
<path color="#ec924c" d="M2304 1259l11 4 10-4-11-3zM2516 1268l12 4 9-4-12-4zM2561 1275l12 3 9-4-13-3zM2409 1379l13 4 10-5-13-4zM2619 1285l13 3 8-4-13-4z"/>
<path color="#f3b880" d="M2343 1244l11 3 9-3-11-4z"/>
<path color="#f5c897" d="M2352 1240l11 4 9-4-11-3z"/>
<path color="#f6dab8" d="M2361 1237l11 3 9-4-11-3zM2313 1382l13 5 11-6-13-4z"/>
<path color="#f7ebd8" d="M2370 1233l11 3 9-3-11-4zM2215 1357l12 4 11-5-12-4zM2495 1244l11 3 9-4-12-3z"/>
<path color="#f5f6f1" d="M2379 1229l11 4 9-4-11-3z"/>
<path color="#aaebda" d="M2397 1222l11 3 9-3-11-3zM2427 1225l11 3 9-4-11-3zM2383 1426l14 5 11-5-14-5z"/>
<path color="#90e2ce" d="M2406 1219l11 3 8-4-11-3z"/>
<path color="#d8f3ea" d="M2133 1337l12 4 11-5-11-4zM2303 1398l13 4 11-5-13-5z"/>
<path color="#f4c08a" d="M2179 1318l12 4 11-5-11-3z"/>
<path color="#f0a666" d="M2202 1309l11 4 11-5-11-3zM2365 1251l11 3 9-4-11-3zM2417 1253l11 3 9-4-11-3zM2480 1258l12 4 9-4-12-4z"/>
<path color="#ee9c58" d="M2213 1305l11 3 11-4-12-4zM2346 1367l13 4 11-5-13-4z"/>
<path color="#e98e47" d="M2234 1296l11 4 11-5-11-3zM2258 1320l12 4 11-5-12-4zM2307 1345l12 4 11-5-12-4zM2319 1349l13 4 10-5-12-4zM2332 1353l12 4 11-5-13-4zM2344 1357l13 5 10-6-12-4zM2357 1362l13 4 10-5-13-5zM2658 1295l13 4 8-4-13-4z"/>
<path color="#e48b47" d="M2255 1287l11 4 11-4-12-4zM2296 1271l11 3 10-4-11-3zM2327 1266l11 4 9-4-11-4zM2389 1265l11 3 10-4-12-3zM2294 1332l12 4 10-5-12-4zM2474 1270l12 3 9-4-12-3zM2406 1369l13 5 11-5-14-5zM2483 1386l14 5 10-5-14-5z"/>
<path color="#e28a46" d="M2265 1283l12 4 10-4-11-4zM2286 1275l11 3 10-4-11-3zM2318 1340l12 4 11-5-13-4zM2519 1276l12 3 9-4-12-3zM2565 1282l12 4 9-4-13-4z"/>
<path color="#e28946" d="M2276 1279l11 4 10-5-11-3zM2421 1267l12 4 9-4-12-4zM2330 1344l12 4 11-5-12-4zM2380 1361l13 4 11-5-13-4zM2636 1296l13 4 9-5-13-3z"/>
<path color="#e68b47" d="M2306 1267l11 3 10-4-12-3zM2257 1312l12 3 11-4-12-4zM2410 1264l11 3 9-4-11-3zM2282 1328l12 4 10-5-12-4z"/>
<path color="#e88e47" d="M2315 1263l12 3 9-4-11-3z"/>
<path color="#eb904a" d="M2325 1259l11 3 10-4-11-3zM2419 1260l11 3 9-4-11-3z"/>
<path color="#ed9955" d="M2335 1255l11 3 9-4-11-3zM2236 1321l11 4 11-5-11-4z"/>
<path color="#f1af72" d="M2354 1247l11 4 9-4-11-3zM2348 1376l13 5 11-6-13-4zM2438 1398l14 5 10-6-13-4z"/>
<path color="#f5cea2" d="M2372 1240l11 3 9-4-11-3zM2376 1395l13 5 11-6-13-4z"/>
<path color="#f7e2c5" d="M2381 1236l11 3 9-3-11-3z"/>
<path color="#f8f1e4" d="M2390 1233l11 3 9-4-11-3z"/>
<path color="#e3f5ec" d="M2399 1229l11 3 9-4-11-3zM2156 1345l12 4 12-5-12-4zM2277 1388l13 5 11-5-12-5z"/>
<path color="#b8efe0" d="M2408 1225l11 3 8-3-10-3z"/>
<path color="#9de6d4" d="M2417 1222l10 3 9-4-11-3z"/>
<path color="#f6cea2" d="M2179 1327l12 4 11-5-11-4z"/>
<path color="#e38a46" d="M2256 1295l11 4 11-4-12-4zM2393 1365l13 4 10-5-12-4zM2623 1292l13 4 9-4-13-4z"/>
<path color="#e08846" d="M2266 1291l12 4 10-5-11-3zM2267 1299l12 4 10-5-11-3zM2338 1270l11 3 10-4-12-3zM2400 1268l12 3 9-4-11-3zM2531 1279l13 4 8-4-12-4zM2577 1286l13 3 8-4-12-3zM2456 1377l14 5 10-5-14-5zM2649 1300l13 3 9-4-13-4z"/>
<path color="#df8745" d="M2277 1287l11 3 10-4-11-3zM2287 1283l11 3 10-4-11-4zM2297 1278l11 4 10-4-11-4zM2280 1311l11 4 11-5-12-4zM2433 1271l12 3 9-4-12-3zM2590 1289l12 4 9-4-13-4zM2443 1373l13 4 10-5-13-4z"/>
<path color="#e08745" d="M2307 1274l11 4 10-4-11-4zM2359 1269l11 4 10-5-12-3zM2380 1268l11 4 9-4-11-3z"/>
<path color="#e18946" d="M2317 1270l11 4 10-4-11-4zM2281 1319l11 4 11-4-12-4zM2454 1270l11 4 9-4-11-4zM2486 1273l12 3 9-4-12-3zM2342 1348l13 4 10-5-12-4zM2355 1352l12 4 11-4-13-5zM2367 1356l13 5 11-5-13-4zM2470 1382l13 4 10-5-13-4z"/>
<path color="#eb9049" d="M2346 1258l11 4 9-4-11-4zM2271 1332l12 5 11-5-12-4zM2395 1375l14 4 10-5-13-5z"/>
<path color="#ed9b57" d="M2355 1254l11 4 10-4-11-3zM2296 1350l12 4 11-5-12-4zM2333 1362l13 5 11-5-13-5zM2666 1291l13 4 8-4-13-4z"/>
<path color="#f6d5af" d="M2392 1239l11 4 9-4-11-3z"/>
<path color="#cff2e7" d="M2419 1228l11 3 8-3-11-3z"/>
<path color="#8fe2cd" d="M2436 1221l11 3 9-3-11-3z"/>
<path color="#f8f0e2" d="M2168 1340l12 4 11-5-12-4zM2452 1238l11 3 9-4-11-3z"/>
<path color="#f6e0c1" d="M2179 1335l12 4 11-4-11-4z"/>
<path color="#f2b87f" d="M2202 1326l12 4 11-5-12-4z"/>
<path color="#f0aa6b" d="M2213 1321l12 4 11-4-12-4z"/>
<path color="#ee9d5a" d="M2224 1317l12 4 11-5-12-4zM2460 1259l12 3 8-4-11-3zM2359 1371l13 4 10-5-12-4zM2653 1288l13 3 8-4-13-4z"/>
<path color="#eb924c" d="M2235 1312l12 4 10-4-11-4z"/>
<path color="#e38b47" d="M2257 1303l11 4 11-4-12-4zM2368 1265l12 3 9-3-11-4z"/>
<path color="#dd8645" d="M2278 1295l11 3 10-4-11-4zM2328 1274l11 3 10-4-11-3zM2279 1303l11 3 11-4-12-4zM2544 1283l12 3 9-4-13-3zM2430 1369l13 4 10-5-13-4z"/>
<path color="#db8544" d="M2288 1290l11 4 10-4-11-4zM2318 1278l11 3 10-4-11-3zM2370 1273l12 3 9-4-11-4zM2391 1272l12 3 9-4-12-3zM2445 1274l11 4 9-4-11-4zM2341 1339l12 4 10-5-12-4zM2510 1280l13 4 8-5-12-3zM2404 1360l12 4 11-5-13-4zM2556 1286l12 4 9-4-12-4zM2615 1297l13 3 8-4-13-4z"/>
<path color="#da8544" d="M2298 1286l11 4 10-4-11-4zM2308 1282l11 4 10-5-11-3zM2289 1298l12 4 10-4-12-4zM2290 1306l12 4 10-4-11-4zM2303 1319l12 3 10-4-12-4zM2477 1277l12 4 9-5-12-3zM2353 1343l12 4 11-5-13-4zM2365 1347l13 5 10-5-12-5zM2378 1352l13 4 10-5-13-4zM2391 1356l13 4 10-5-13-4zM2628 1300l13 4 8-4-13-4z"/>
<path color="#e38a47" d="M2347 1266l12 3 9-4-11-3zM2269 1315l12 4 10-4-11-4zM2306 1336l12 4 10-5-12-4z"/>
<path color="#ee9c5a" d="M2376 1254l11 3 9-4-11-3z"/>
<path color="#f0a96b" d="M2385 1250l11 3 9-3-11-4z"/>
<path color="#f2b87e" d="M2394 1246l11 4 9-4-11-3z"/>
<path color="#f8f0e1" d="M2421 1235l11 3 9-3-11-4z"/>
<path color="#e5f5ed" d="M2430 1231l11 4 9-4-12-3z"/>
<path color="#e7f5ee" d="M2168 1349l12 4 11-5-11-4zM2265 1384l12 4 12-5-13-4z"/>
<path color="#f7eede" d="M2180 1344l11 4 12-5-12-4zM2392 1410l13 5 11-6-13-5z"/>
<path color="#f2b57a" d="M2214 1330l11 4 11-5-11-4zM2426 1249l11 3 9-4-11-3zM2457 1252l12 3 9-4-12-3z"/>
<path color="#e08946" d="M2268 1307l12 4 10-5-11-3z"/>
<path color="#d98343" d="M2299 1294l12 4 10-5-12-3zM2360 1277l12 3 10-4-12-3zM2302 1310l11 4 11-4-12-4zM2466 1372l14 5 10-6-14-4z"/>
<path color="#d88243" d="M2309 1290l12 3 10-4-12-3zM2301 1302l11 4 10-5-11-3zM2327 1326l12 4 10-4-12-4zM2489 1281l12 3 9-4-12-4zM2581 1294l13 3 8-4-12-4z"/>
<path color="#d78243" d="M2319 1286l12 3 10-4-12-4zM2535 1287l12 4 9-5-12-3zM2453 1368l13 4 10-5-13-4z"/>
<path color="#d88343" d="M2329 1281l12 4 10-4-12-4zM2382 1276l11 4 10-5-12-3zM2403 1275l11 4 10-4-12-4zM2456 1278l12 3 9-4-12-3z"/>
<path color="#da8444" d="M2339 1277l12 4 9-4-11-4zM2424 1275l11 3 10-4-12-3zM2568 1290l13 4 9-5-13-3zM2480 1377l13 4 10-5-13-5zM2641 1304l13 4 8-5-13-3z"/>
<path color="#dc8544" d="M2349 1273l11 4 10-4-11-4zM2328 1335l13 4 10-5-12-4zM2416 1364l14 5 10-5-13-5zM2493 1381l14 5 10-6-14-4z"/>
<path color="#ec954e" d="M2387 1257l11 4 9-4-11-4z"/>
<path color="#efa15f" d="M2396 1253l11 4 10-4-12-3zM2248 1333l12 4 11-5-12-4zM2462 1397l14 5 11-6-14-4z"/>
<path color="#f4be86" d="M2414 1246l12 3 9-4-12-3zM2250 1351l12 4 11-5-12-4zM2299 1368l12 5 11-6-12-4zM2414 1399l13 5 11-6-13-5z"/>
<path color="#f6d3ab" d="M2423 1242l12 3 8-4-11-3zM2455 1245l11 3 9-4-12-3zM2574 1259l12 4 8-4-12-4z"/>
<path color="#f7e8d1" d="M2432 1238l11 3 9-3-11-3z"/>
<path color="#cdf1e6" d="M2450 1231l11 3 8-4-11-3z"/>
<path color="#a8eada" d="M2458 1227l11 3 9-3-11-3z"/>
<path color="#f6dab6" d="M2203 1343l11 5 12-5-12-4z"/>
<path color="#f4c48f" d="M2214 1339l12 4 11-5-12-4zM2337 1381l13 5 11-5-13-5zM2427 1404l14 4 11-5-14-5z"/>
<path color="#ec9651" d="M2247 1325l12 3 11-4-12-4zM2439 1259l12 4 9-4-12-3zM2472 1262l11 4 9-4-12-4zM2606 1281l13 4 8-5-12-3z"/>
<path color="#d68143" d="M2311 1298l11 3 10-4-11-4zM2351 1281l11 3 10-4-12-3zM2313 1314l12 4 11-5-12-3zM2435 1278l12 4 9-4-11-4zM2339 1330l12 4 11-4-13-4zM2440 1364l13 4 10-5-13-5zM2594 1297l13 4 8-4-13-4z"/>
<path color="#d48042" d="M2321 1293l11 4 11-4-12-4zM2331 1289l12 4 9-5-11-3zM2341 1285l11 3 10-4-11-3zM2322 1301l12 4 10-4-12-4zM2324 1310l12 3 10-4-12-4zM2393 1280l12 3 9-4-11-4zM2325 1318l12 4 11-5-12-4zM2337 1322l12 4 11-5-12-4zM2376 1342l12 5 11-5-13-4zM2388 1347l13 4 10-5-12-4zM2401 1351l13 4 10-5-13-4zM2547 1291l13 3 8-4-12-4zM2490 1371l13 5 10-5-13-5zM2619 1305l14 4 8-5-13-4zM2633 1309l13 3 8-4-13-4z"/>
<path color="#ea8f47" d="M2398 1261l12 3 9-4-12-3z"/>
<path color="#f5c896" d="M2435 1245l11 3 9-3-12-4z"/>
<path color="#e1f5ec" d="M2461 1234l11 3 9-3-12-4z"/>
<path color="#b4eedf" d="M2469 1230l12 4 8-4-11-3z"/>
<path color="#edf6ef" d="M2191 1358l12 4 12-5-12-4zM2240 1375l12 4 12-5-13-4z"/>
<path color="#f7ecd9" d="M2203 1353l12 4 11-5-12-4z"/>
<path color="#f1b074" d="M2237 1338l12 4 11-5-12-4zM2590 1270l12 4 9-5-13-3z"/>
<path color="#e78c47" d="M2270 1324l12 4 10-5-11-4z"/>
<path color="#dc8545" d="M2291 1315l12 4 10-5-11-4z"/>
<path color="#d58143" d="M2312 1306l12 4 10-5-12-4zM2351 1334l12 4 11-4-12-4zM2427 1359l13 5 10-6-13-4zM2503 1376l14 4 10-5-14-4z"/>
<path color="#d27f42" d="M2332 1297l12 4 10-5-11-3zM2426 1282l12 4 9-4-12-4zM2349 1326l13 4 10-5-12-4z"/>
<path color="#d17e41" d="M2343 1293l11 3 10-4-12-4zM2334 1305l12 4 10-5-12-3zM2336 1313l12 4 10-4-12-4zM2362 1330l12 4 10-5-12-4zM2526 1291l12 4 9-4-12-4zM2463 1363l13 4 11-5-14-4z"/>
<path color="#d27f41" d="M2352 1288l12 4 10-4-12-4zM2384 1284l11 3 10-4-12-3z"/>
<path color="#d38042" d="M2362 1284l12 4 10-4-12-4zM2447 1282l12 3 9-4-12-3zM2514 1288l12 3 9-4-12-3zM2560 1294l12 4 9-4-13-4z"/>
<path color="#d58042" d="M2372 1280l12 4 9-4-11-4zM2414 1279l12 3 9-4-11-3zM2468 1281l12 4 9-4-12-4zM2363 1338l13 4 10-4-12-4zM2414 1355l13 4 10-5-13-4zM2607 1301l12 4 9-5-13-3z"/>
<path color="#eef6f0" d="M2203 1362l12 4 12-5-12-4zM2227 1371l13 4 11-5-12-5z"/>
<path color="#f6d6b0" d="M2226 1352l12 4 12-5-12-4zM2486 1247l12 4 8-4-11-3z"/>
<path color="#f4bf87" d="M2238 1347l12 4 11-5-12-4zM2311 1373l13 4 11-5-13-5z"/>
<path color="#e08845" d="M2292 1323l12 4 11-5-12-3z"/>
<path color="#cf7d41" d="M2344 1301l12 3 10-4-12-4zM2348 1317l12 4 10-4-12-4zM2438 1286l12 4 9-5-12-3zM2386 1338l13 4 10-5-13-4zM2399 1342l12 4 11-5-13-4zM2411 1346l13 4 10-5-12-4zM2424 1350l13 4 10-5-13-4zM2538 1295l13 4 9-5-13-3zM2598 1305l13 4 8-4-12-4z"/>
<path color="#cf7c41" d="M2354 1296l12 4 10-4-12-4zM2364 1292l12 4 10-5-12-3zM2346 1309l12 4 10-5-12-4zM2395 1287l12 4 10-4-12-4zM2417 1287l11 3 10-4-12-4zM2360 1321l12 4 10-5-12-3zM2500 1366l13 5 10-5-13-5zM2611 1309l13 4 9-4-14-4z"/>
<path color="#d07d41" d="M2374 1288l12 3 9-4-11-3zM2374 1334l12 4 10-5-12-4zM2492 1288l13 4 9-4-13-4zM2437 1354l13 4 10-5-13-4zM2585 1302l13 3 9-4-13-4zM2513 1371l14 4 10-5-14-4z"/>
<path color="#dd8545" d="M2412 1271l12 4 9-4-12-4zM2316 1331l12 4 11-5-12-4zM2602 1293l13 4 8-5-12-3z"/>
<path color="#f5c998" d="M2466 1248l12 3 8-4-11-3z"/>
<path color="#f6e0c2" d="M2475 1244l11 3 9-3-12-4z"/>
<path color="#daf3ea" d="M2492 1237l11 3 9-4-12-3z"/>
<path color="#f1ad6e" d="M2261 1346l12 4 11-5-12-4z"/>
<path color="#ee9c59" d="M2272 1341l12 4 11-4-12-4zM2537 1268l12 3 8-4-12-3zM2449 1393l13 4 11-5-14-5z"/>
<path color="#de8645" d="M2304 1327l12 4 11-5-12-4zM2465 1274l12 3 9-4-12-3zM2498 1276l12 4 9-4-12-4z"/>
<path color="#d98344" d="M2315 1322l12 4 10-4-12-4zM2523 1284l12 3 9-4-13-4z"/>
<path color="#cd7b41" d="M2356 1304l12 4 10-4-12-4zM2358 1313l12 4 10-5-12-4zM2372 1325l12 4 10-5-12-4zM2450 1290l12 3 9-4-12-4zM2487 1362l13 4 10-5-14-4z"/>
<path color="#cc7a41" d="M2366 1300l12 4 10-5-12-3zM2407 1291l12 3 9-4-11-3zM2428 1290l12 4 10-4-12-4zM2384 1329l12 4 11-5-13-4zM2483 1293l13 3 9-4-13-4zM2517 1296l12 3 9-4-12-4zM2564 1302l12 4 9-4-13-4zM2473 1358l14 4 9-5-13-4z"/>
<path color="#cd7a41" d="M2376 1296l12 3 9-4-11-4z"/>
<path color="#ce7b41" d="M2386 1291l11 4 10-4-12-4zM2551 1299l13 3 8-4-12-4z"/>
<path color="#d27e41" d="M2405 1283l12 4 9-5-12-3zM2572 1298l13 4 9-5-13-3z"/>
<path color="#e58b47" d="M2442 1267l12 3 9-4-12-3zM2507 1272l12 4 9-4-12-4zM2552 1279l13 3 8-4-12-3zM2419 1374l13 4 11-5-13-4zM2611 1289l12 3 9-4-13-3z"/>
<path color="#f4be87" d="M2478 1251l11 3 9-3-12-4z"/>
<path color="#f6d4ad" d="M2250 1360l13 5 11-5-12-5zM2263 1365l12 4 11-5-12-4z"/>
<path color="#f4bd85" d="M2262 1355l12 5 11-5-12-5zM2274 1360l12 4 11-5-12-4zM2286 1364l13 4 11-5-13-4z"/>
<path color="#cb7a41" d="M2368 1308l12 4 10-4-12-4zM2370 1317l12 3 10-4-12-4zM2396 1333l13 4 10-5-12-4zM2460 1353l13 5 10-5-13-4zM2576 1306l13 4 9-5-13-3z"/>
<path color="#ca7a40" d="M2378 1304l12 4 10-5-12-4zM2388 1299l12 4 9-4-12-4zM2382 1320l12 4 10-4-12-4zM2462 1293l12 4 9-4-12-4zM2529 1299l13 4 9-4-13-4zM2589 1310l13 4 9-5-13-4z"/>
<path color="#cb7a40" d="M2397 1295l12 4 10-5-12-3zM2409 1337l13 4 10-5-13-4zM2422 1341l12 4 10-5-12-4zM2434 1345l13 4 10-5-13-4zM2447 1349l13 4 10-4-13-5zM2523 1366l14 4 9-5-13-5z"/>
<path color="#f8f6ee" d="M2515 1243l11 3 9-4-12-3zM2419 1420l14 5 11-6-14-5z"/>
<path color="#f1ab6d" d="M2285 1355l12 4 11-5-12-4zM2297 1359l13 4 11-5-13-4zM2310 1363l12 4 11-5-12-4zM2425 1393l13 5 11-5-14-5z"/>
<path color="#c97940" d="M2380 1312l12 4 10-5-12-3zM2440 1294l13 4 9-5-12-3zM2394 1324l13 4 10-4-13-4zM2542 1303l13 4 9-5-13-3zM2510 1361l13 5 10-6-14-4zM2615 1317l14 4 8-4-13-4z"/>
<path color="#c87840" d="M2390 1308l12 3 10-4-12-4zM2400 1303l12 4 9-5-12-3zM2392 1316l12 4 10-5-12-4zM2407 1328l12 4 10-4-12-4zM2474 1297l12 4 10-5-13-3zM2508 1300l12 4 9-5-12-3zM2555 1307l12 3 9-4-12-4z"/>
<path color="#c97840" d="M2409 1299l12 3 10-4-12-4zM2496 1357l14 4 9-5-13-4z"/>
<path color="#ca7940" d="M2419 1294l12 4 9-4-12-4zM2496 1296l12 4 9-4-12-4zM2602 1314l13 3 9-4-13-4z"/>
<path color="#f8f0e0" d="M2526 1246l12 3 8-3-11-4zM2301 1388l13 4 12-5-13-5z"/>
<path color="#f7ebd9" d="M2264 1374l12 5 11-6-12-4z"/>
<path color="#f6d5ae" d="M2275 1369l12 4 12-5-13-4z"/>
<path color="#c5773f" d="M2402 1311l12 4 10-4-12-4zM2404 1320l13 4 9-5-12-4zM2486 1301l13 3 9-4-12-4z"/>
<path color="#c5763f" d="M2412 1307l12 4 10-5-13-4zM2421 1302l13 4 9-4-12-4zM2580 1314l13 4 9-4-13-4z"/>
<path color="#c77840" d="M2431 1298l12 4 10-4-13-4zM2453 1298l12 3 9-4-12-4zM2483 1353l13 4 10-5-13-4z"/>
<path color="#d07e41" d="M2459 1285l12 4 9-4-12-4zM2450 1358l13 5 10-5-13-5z"/>
<path color="#f3bb82" d="M2521 1257l12 3 9-3-12-4zM2566 1263l12 4 8-4-12-4z"/>
<path color="#f6d2a9" d="M2530 1253l12 4 8-4-12-4z"/>
<path color="#f6d6b1" d="M2287 1373l13 5 11-5-12-5z"/>
<path color="#c4753f" d="M2414 1315l12 4 10-5-12-3zM2499 1304l12 4 9-4-12-4zM2506 1352l13 4 10-5-13-4z"/>
<path color="#c3753f" d="M2424 1311l12 3 10-4-12-4zM2434 1306l12 4 9-4-12-4zM2429 1328l13 4 9-5-12-4zM2546 1311l13 4 8-5-12-3zM2493 1348l13 4 10-5-13-4z"/>
<path color="#c4763f" d="M2443 1302l12 4 10-5-12-3zM2417 1324l12 4 10-5-13-4zM2465 1301l12 4 9-4-12-4zM2533 1307l13 4 9-4-13-4zM2519 1356l14 4 9-5-13-4zM2593 1318l14 4 8-5-13-3zM2607 1322l13 4 9-5-14-4z"/>
<path color="#ce7c41" d="M2471 1289l12 4 9-5-12-3zM2505 1292l12 4 9-5-12-3zM2624 1313l13 4 9-5-13-3z"/>
<path color="#d37f42" d="M2480 1285l12 3 9-4-12-3zM2476 1367l14 4 10-5-13-4z"/>
<path color="#efa262" d="M2525 1264l12 4 8-4-12-4z"/>
<path color="#f5c99b" d="M2542 1257l12 3 8-4-12-3zM2363 1390l13 5 11-5-13-5z"/>
<path color="#f7e4c8" d="M2550 1253l12 3 8-4-12-3z"/>
<path color="#c2743f" d="M2426 1319l13 4 10-5-13-4zM2455 1306l13 3 9-4-12-4zM2454 1336l13 4 10-5-13-4zM2511 1308l13 4 9-5-13-3zM2467 1340l13 4 10-5-13-4zM2480 1344l13 4 10-5-13-4zM2559 1315l12 4 9-5-13-4zM2542 1355l14 5 9-5-13-4z"/>
<path color="#c1743f" d="M2436 1314l13 4 9-4-12-4zM2446 1310l12 4 10-5-13-3zM2571 1319l14 4 8-5-13-4zM2585 1323l13 4 9-5-14-4z"/>
<path color="#d58043" d="M2501 1284l13 4 9-4-13-4z"/>
<path color="#c77740" d="M2419 1332l13 4 10-4-13-4zM2470 1349l13 4 10-5-13-4z"/>
<path color="#c0743f" d="M2439 1323l12 4 10-5-12-4zM2468 1309l12 4 9-4-12-4zM2489 1309l13 3 9-4-12-4zM2524 1312l13 4 9-5-13-4zM2529 1351l13 4 10-4-13-5zM2598 1327l13 4 9-5-13-4z"/>
<path color="#bf743f" d="M2449 1318l12 4 10-4-13-4zM2458 1314l13 4 9-5-12-4zM2451 1327l13 4 10-5-13-4zM2537 1316l13 4 9-5-13-4zM2516 1347l13 4 10-5-14-4z"/>
<path color="#c2753f" d="M2477 1305l12 4 10-5-13-3zM2442 1332l12 4 10-5-13-4z"/>
<path color="#f8f1e5" d="M2314 1392l13 5 12-6-13-4z"/>
<path color="#f6ddbd" d="M2326 1387l13 4 11-5-13-5z"/>
<path color="#c67740" d="M2432 1336l12 4 10-4-12-4zM2444 1340l13 4 10-4-13-4zM2457 1344l13 5 10-5-13-4zM2567 1310l13 4 9-4-13-4zM2533 1360l13 5 10-5-14-5z"/>
<path color="#be733e" d="M2461 1322l13 4 9-4-12-4zM2471 1318l12 4 10-5-13-4zM2480 1313l13 4 9-5-13-3zM2502 1312l13 4 9-4-13-4zM2477 1335l13 4 9-5-13-4zM2515 1316l12 4 10-4-13-4zM2490 1339l13 4 9-5-13-4zM2550 1320l12 3 9-4-12-4zM2562 1323l14 4 9-4-14-4zM2539 1346l13 5 9-5-13-4zM2576 1327l13 4 9-4-13-4zM2552 1351l13 4 10-5-14-4zM2589 1331l13 4 9-4-13-4z"/>
<path color="#f2b57b" d="M2578 1267l12 3 8-4-12-3z"/>
<path color="#d1f2e7" d="M2316 1402l13 5 11-6-13-4z"/>
<path color="#f6e0c3" d="M2339 1391l13 5 11-6-13-4z"/>
<path color="#f1b175" d="M2361 1381l13 4 11-5-13-5z"/>
<path color="#be733f" d="M2464 1331l13 4 9-5-12-4zM2503 1343l13 4 9-5-13-4z"/>
<path color="#bd723e" d="M2474 1326l12 4 10-5-13-3zM2483 1322l13 3 9-4-12-4zM2493 1317l12 4 10-5-13-4zM2486 1330l13 4 10-5-13-4zM2527 1320l13 4 10-4-13-4zM2525 1342l14 4 9-4-13-5zM2561 1346l14 4 9-5-13-4z"/>
<path color="#c6773f" d="M2520 1304l13 3 9-4-13-4z"/>
<path color="#f5c592" d="M2598 1266l13 3 8-3-13-4z"/>
<path color="#f8f6ef" d="M2340 1401l14 5 11-5-13-5z"/>
<path color="#f7e5c9" d="M2352 1396l13 5 11-6-13-5z"/>
<path color="#f2b379" d="M2374 1385l13 5 11-6-13-4z"/>
<path color="#bc713e" d="M2496 1325l13 4 9-4-13-4z"/>
<path color="#bc723e" d="M2505 1321l13 4 9-5-12-4zM2499 1334l13 4 10-5-13-4zM2512 1338l13 4 10-5-13-4zM2540 1324l13 4 9-5-12-3zM2553 1328l14 4 9-5-14-4zM2548 1342l13 4 10-5-14-4zM2567 1332l13 4 9-5-13-4zM2571 1341l13 4 9-5-13-4zM2580 1336l13 4 9-5-13-4z"/>
<path color="#f4bf88" d="M2611 1269l12 4 8-4-12-3z"/>
<path color="#c0f0e3" d="M2342 1412l14 5 11-6-13-5z"/>
<path color="#f4f6f1" d="M2354 1406l13 5 11-6-13-4z"/>
<path color="#f7e8d0" d="M2365 1401l13 4 11-5-13-5z"/>
<path color="#efa463" d="M2398 1384l13 5 11-6-13-4z"/>
<path color="#bb713e" d="M2509 1329l13 4 9-4-13-4zM2518 1325l13 4 9-5-13-4zM2522 1333l13 4 9-4-13-4zM2531 1329l13 4 9-5-13-4zM2535 1337l13 5 9-5-13-4zM2544 1333l13 4 10-5-14-4zM2557 1337l14 4 9-5-13-4z"/>
<path color="#f3ba81" d="M2623 1273l13 3 8-4-13-3zM2400 1394l14 5 11-6-14-4z"/>
<path color="#f2b67c" d="M2636 1276l12 4 8-4-12-4z"/>
<path color="#e1f4ec" d="M2381 1416l13 5 11-6-13-5z"/>
<path color="#ed9954" d="M2435 1388l14 5 10-6-13-4z"/>
<path color="#d6f3e9" d="M2394 1421l14 5 11-6-14-5z"/>
<path color="#f1af73" d="M2661 1283l13 4 8-4-13-4z"/>
<path color="#a3e9d7" d="M2397 1431l14 5 11-6-14-4z"/>
<path color="#caf1e6" d="M2408 1426l14 4 11-5-14-5z"/>
<path class="k" d="M2337 1197l12 0 4 0 15 1 8 1"/>
<path class="k" d="M2323 1202l1 0 15 1 11 0 4 1 16 0 7 1 8 1 15 1 6 0"/>
<path class="k" d="M2307 1208l17 0 3 1 13 0 13 1 2 0 16 1 9 1 6 0 16 1 6 1 9 0 15 2 7 0"/>
<path class="k" d="M2073 1315l-4-3-6-5-6-5"/>
<path class="k" d="M2288 1215l18 0 2 0 14 1 10 0 7 0 16 1 3 0 13 1 14 1 2 0 15 1 11 1 5 0 15 2 11 1 4 0 15 1 14 2"/>
<path class="k" d="M2417 1433l-17-3-16-4-5-1"/>
<path class="k" d="M2433 1424l-1 0-15-3-16-4-16-3-16-4-15-4-1 0-14-4-15-4-14-4-15-4-13-4-14-4-13-4-13-4-12-4-13-5-11-4-12-5-11-4-11-5-10-4-10-5-10-5-9-5-3-1-5-4-9-5-7-5-7-5 0 0-6-6-6-5-1-2-3-4"/>
<path class="k" d="M2264 1224l9 0 10 0 11 0 8 0 15 0 2 0 18 0 4 1 12 0 13 1 4 0 16 1 7 0 9 1 16 1 4 0 11 1 15 1 5 1 10 1 15 1 9 1 6 1 15 2 15 1 1 1"/>
<path class="k" d="M2452 1415l-17-4-16-3-16-4-3 0-12-3-15-4-15-4-15-4-14-4-14-4-14-4-13-4-11-3-2-1-13-4-12-5-12-4-2-1-9-3-11-5-11-5-10-4-10-5-9-5-9-5-4-2-4-3-8-5-7-6-3-2-3-3-5-6-2-3-2-4-2-5 0-1 0-7 1-1"/>
<path class="k" d="M2228 1237l3 0 17-1 4-1 15 0 7-1 12 0 8 0 13 0 6 0 16 0 2 0 18 0 4 0 13 1 12 0 5 1 16 0 6 1 10 1 16 1 3 0 13 1 15 1 4 1 12 1 15 1 8 1 7 1 15 2 15 2 3 0 11 2 15 2 14 2 5 1"/>
<path class="k" d="M2472 1404l-16-3-16-4-11-2-5-1-16-4-15-3-14-4-15-4-14-4-14-4-13-4-13-4-13-4-12-5-12-4-11-4-11-5-10-5-10-4-10-5-8-5-3-2-6-4-7-5-6-6 0 0-6-6-3-5 0-1-2-7 0-1 1-6 2-2 3-5 7-5 8-4 11-4 12-3 13-3 13-2 2-1 16-2 8 0 10-1 13-1 6 0 15 0 5 0 14-1 8 0 11 1 12 0 6 0 17 1 3 0 14 1 13 0 4 1 16 1 10 1 6 0 15 2 13 1 3 0 15 2 15 1 4 1 11 1 15 2 15 2 2 1 13 2 14 2 15 2 12 2 2 1 15 2 14 3 14 3 14 3 14 3"/>
<path class="k" d="M2496 1392l-17-4-16-3-15-3-15-4-1 0-15-3-14-4-14-4-14-4-13-4-13-4-13-4-12-4-11-5-11-4-11-5-10-5-2-1-7-4-8-5-8-6-1-1-5-5-4-6 0 0-2-8 0-1 2-6 3-3 3-3 9-5 10-4 13-3 3 0 11-2 16-2 3-1 15-1 8 0 12-1 9 0 12 0 8 0 16 0 2 0 18 1 6 0 11 1 17 1 0 0 16 1 16 1 0 1 16 1 16 2 4 0 11 2 15 2 15 2 3 0 12 2 15 3 15 2 14 3 0 0 14 2 15 3 14 3 14 3"/>
<path class="k" d="M2526 1376l-17-3-16-3-15-4-10-2-5-1-15-4-14-3-14-4-13-4-12-4-12-5-12-4-10-5-5-2-5-3-9-5-7-6-1-1-4-6-1-4 1-5 1-2 7-5 10-4 13-3 3-1 13-1 14-2 4 0 18 0 3-1 16 1 8 0 11 0 17 1 0 0 17 1 15 2 2 0 16 2 16 2 4 0 11 2 15 2 16 2 10 2 4 1 15 3 14 3 14 3 14 3"/>
</g>
<line x1="511.4" y1="326.6" x2="603.0" y2="358.7" stroke="#555" stroke-width="0.7"/>
<line x1="603.0" y1="358.7" x2="673.5" y2="322.2" stroke="#555" stroke-width="0.7"/>
<g class="s" transform="scale(.25)">
<path color="#2d967d" d="M2341 1068l10-6 9 13-10 6z"/>
<path class="k" d="M2349 1063l4 0"/>
<path color="#339f86" d="M2351 1062l11-7 9 13-11 7z"/>
<path class="k" d="M2353 1063l15 1"/>
<path color="#3aab92" d="M2332 1056l11-7 8 13-10 6z"/>
<path class="k" d="M2337 1062l12 1"/>
<path color="#3cae95" d="M2362 1055l11-6 8 13-10 6z"/>
<path class="k" d="M2368 1064l9 1"/>
<path color="#43baa1" d="M2343 1049l10-6 9 12-11 7z"/>
<path class="k" d="M2350 1045l5 0"/>
<path color="#49c0a7" d="M2323 1044l10-6 10 11-11 7z"/>
<path class="k" d="M2324 1044l15 0"/>
<path color="#45bda4" d="M2373 1049l10-6 9 13-11 6z"/>
<path class="k" d="M2378 1046l8 1"/>
<path color="#4bc2a8" d="M2353 1043l11-6 9 12-11 6z"/>
<path class="k" d="M2355 1045l15 1"/>
<path color="#4fc6ac" d="M2333 1038l11-6 9 11-10 6z"/>
<path class="k" d="M2339 1044l11 1"/>
<path color="#4cc3a9" d="M2383 1043l11-5 9 12-11 6z"/>
<path class="k" d="M2386 1047l15 1"/>
<path color="#53caaf" d="M2314 1033l10-6 9 11-10 6z"/>
<path class="k" d="M2323 1044l1 0"/>
<path color="#51c8ad" d="M2364 1037l11-6 8 12-10 6z"/>
<path class="k" d="M2370 1046l8 0"/>
<path color="#56ccb0" d="M2344 1032l11-6 9 11-11 6z"/>
<path class="k" d="M2353 1027l3 0"/>
<path color="#52c8ae" d="M2394 1038l11-6 9 13-11 5z"/>
<path class="k" d="M2401 1048l6 0"/>
<path color="#5ad0b3" d="M2324 1027l11-6 9 11-11 6z"/>
<path class="k" d="M2327 1026l12 0"/>
<path color="#57cdb1" d="M2375 1031l10-5 9 12-11 5z"/>
<path class="k" d="M2381 1028l7 1"/>
<path color="#5dd3b6" d="M2304 1023l11-6 9 10-10 6z"/>
<path class="k" d="M2306 1025l17 1"/>
<path color="#5cd1b5" d="M2355 1026l11-6 9 11-11 6z"/>
<path class="k" d="M2356 1027l16 1"/>
<path color="#58ceb2" d="M2405 1032l11-5 9 12-11 6z"/>
<path class="k" d="M2410 1030l9 0"/>
<path color="#63d5b9" d="M2335 1021l11-6 9 11-11 6z"/>
<path class="k" d="M2339 1026l14 1"/>
<path color="#5dd2b6" d="M2385 1026l11-6 9 12-11 6z"/>
<path class="k" d="M2388 1029l15 0"/>
<path color="#6dd8be" d="M2315 1017l10-6 10 10-11 6z"/>
<path class="k" d="M2323 1026l4 0"/>
<path color="#76dbc2" d="M2295 1014l10-6 10 9-11 6z"/>
<path color="#68d7bb" d="M2366 1020l10-6 9 12-10 5z"/>
<path class="k" d="M2372 1028l9 0"/>
<path color="#5dd3b6" d="M2416 1027l12-5 8 12-11 5z"/>
<path class="k" d="M2419 1030l15 1"/>
<path color="#75dbc1" d="M2346 1015l10-5 10 10-11 6z"/>
<path color="#6bd8bd" d="M2396 1020l12-5 8 12-11 5z"/>
<path class="k" d="M2403 1029l7 1"/>
<path color="#7fdec7" d="M2325 1011l11-6 10 10-11 6z"/>
<path class="k" d="M2332 1008l7 0"/>
<path color="#88e1cb" d="M2305 1008l11-6 9 9-10 6z"/>
<path class="k" d="M2307 1007l15 0"/>
<path color="#7addc4" d="M2376 1014l11-5 9 11-11 6z"/>
<path class="k" d="M2386 1010l2 0"/>
<path color="#6bd8bd" d="M2428 1022l11-5 8 12-11 5z"/>
<path class="k" d="M2434 1031l8 1"/>
<path color="#8fe3ce" d="M2285 1006l11-6 9 8-10 6z"/>
<path class="k" d="M2286 1007l18 0"/>
<path color="#86e1ca" d="M2356 1010l11-6 9 10-10 6z"/>
<path class="k" d="M2358 1009l14 0"/>
<path color="#7cddc5" d="M2408 1015l11-5 9 12-12 5z"/>
<path class="k" d="M2416 1011l4 1"/>
<path color="#91e4cf" d="M2336 1005l11-5 9 10-10 5z"/>
<path class="k" d="M2339 1008l16 1"/>
<path color="#9ae7d3" d="M2316 1002l11-6 9 9-11 6z"/>
<path class="k" d="M2322 1007l10 1"/>
<path color="#8be2cc" d="M2387 1009l12-5 9 11-12 5z"/>
<path class="k" d="M2388 1010l16 1"/>
<path color="#7bddc4" d="M2439 1017l11-5 9 13-12 4z"/>
<path class="k" d="M2447 1014l4 0"/>
<path color="#a1e9d7" d="M2296 1000l10-6 10 8-11 6z"/>
<path class="k" d="M2304 1007l3 0"/>
<path color="#97e6d2" d="M2367 1004l11-5 9 10-11 5z"/>
<path class="k" d="M2372 1009l14 1"/>
<path color="#a6ebd9" d="M2275 998l11-6 10 8-11 6z"/>
<path color="#8ce2cc" d="M2419 1010l11-5 9 12-11 5z"/>
<path class="k" d="M2420 1012l16 1"/>
<path color="#a3ead7" d="M2347 1000l11-6 9 10-11 6z"/>
<path class="k" d="M2355 1009l3 0"/>
<path color="#adecdc" d="M2327 996l11-5 9 9-11 5z"/>
<path color="#9be7d4" d="M2399 1004l11-5 9 11-11 5z"/>
<path class="k" d="M2404 1011l12 0"/>
<path color="#8ae2cc" d="M2450 1012l12-4 8 12-11 5z"/>
<path class="k" d="M2451 1014l16 1"/>
<path color="#baeedf" d="M2306 994l11-6 10 8-11 6z"/>
<path class="k" d="M2316 989l2 0"/>
<path color="#a8ebda" d="M2378 999l12-5 9 10-12 5z"/>
<path color="#c3efe2" d="M2286 992l11-5 9 7-10 6z"/>
<path class="k" d="M2292 989l8 0"/>
<path color="#9be7d4" d="M2430 1005l12-4 8 11-11 5z"/>
<path class="k" d="M2436 1013l11 1"/>
<path color="#baeedf" d="M2358 994l11-5 9 10-11 5z"/>
<path class="k" d="M2367 991l3 0"/>
<path color="#caf0e4" d="M2266 991l10-5 10 6-11 6z"/>
<path class="k" d="M2270 989l11 0"/>
<path color="#abecdb" d="M2410 999l11-5 9 11-11 5z"/>
<path color="#cbf0e4" d="M2338 991l11-5 9 8-11 6z"/>
<path class="k" d="M2340 990l13 0"/>
<path color="#99e6d3" d="M2462 1008l12-4 8 12-12 4z"/>
<path class="k" d="M2467 1015l15 1"/>
<path color="#d9f2e8" d="M2317 988l11-5 10 8-11 5z"/>
<path class="k" d="M2318 989l18 1"/>
<path color="#c3efe2" d="M2390 994l11-5 9 10-11 5z"/>
<path class="k" d="M2395 992l9 0"/>
<path color="#e2f3ea" d="M2297 987l11-6 9 7-11 6z"/>
<path class="k" d="M2300 989l16 0"/>
<path color="#aaecdb" d="M2442 1001l11-5 9 12-12 4z"/>
<path color="#d7f2e7" d="M2369 989l11-5 10 10-12 5z"/>
<path class="k" d="M2370 991l17 0"/>
<path color="#e9f4ec" d="M2276 986l11-6 10 7-11 5z"/>
<path class="k" d="M2281 989l11 0"/>
<path color="#c6f0e3" d="M2421 994l12-4 9 11-12 4z"/>
<path class="k" d="M2424 993l12 1"/>
<path color="#ecf5ed" d="M2256 986l10-6 10 6-10 5z"/>
<path class="k" d="M2261 989l9 0"/>
<path color="#e8f4ec" d="M2349 986l11-5 9 8-11 5z"/>
<path class="k" d="M2353 990l14 1"/>
<path color="#a7ebd9" d="M2474 1004l11-4 9 12-12 4z"/>
<path color="#f6f6f0" d="M2328 983l11-5 10 8-11 5z"/>
<path class="k" d="M2336 990l4 0"/>
<path color="#def3e9" d="M2401 989l11-5 9 10-11 5z"/>
<path class="k" d="M2404 992l16 1"/>
<path color="#f7f3e9" d="M2308 981l10-5 10 7-11 5z"/>
<path color="#c4efe2" d="M2453 996l12-4 9 12-12 4z"/>
<path class="k" d="M2457 995l11 1"/>
<path color="#f3f5ef" d="M2380 984l12-4 9 9-11 5z"/>
<path class="k" d="M2387 991l8 1"/>
<path color="#f7f0e4" d="M2287 980l11-5 10 6-11 6z"/>
<path color="#e0f3ea" d="M2433 990l11-4 9 10-11 5z"/>
<path class="k" d="M2436 994l16 1"/>
<path color="#f7f1e6" d="M2360 981l11-5 9 8-11 5z"/>
<path color="#f7efe1" d="M2266 980l11-5 10 5-11 6z"/>
<path color="#bceee0" d="M2485 1000l12-4 9 12-12 4z"/>
<path class="k" d="M2492 998l7 0"/>
<path color="#f7efe1" d="M2245 981l11-6 10 5-10 6z"/>
<path color="#f7ecdb" d="M2339 978l11-5 10 8-11 5z"/>
<path color="#f7f6ef" d="M2412 984l12-4 9 10-12 4z"/>
<path class="k" d="M2420 993l4 0"/>
<path color="#dcf3e9" d="M2465 992l12-3 8 11-11 4z"/>
<path class="k" d="M2468 996l15 1"/>
<path color="#f6e9d3" d="M2318 976l12-5 9 7-11 5z"/>
<path class="k" d="M2328 971l2 0"/>
<path color="#f7eedf" d="M2392 980l11-5 9 9-11 5z"/>
<path color="#f6e6ce" d="M2298 975l11-5 9 6-10 5z"/>
<path class="k" d="M2305 971l6 0"/>
<path color="#f7f5ef" d="M2444 986l12-4 9 10-12 4z"/>
<path class="k" d="M2452 995l5 0"/>
<path color="#f6e8d1" d="M2371 976l11-5 10 9-12 4z"/>
<path class="k" d="M2379 973l5 0"/>
<path color="#f6e5cb" d="M2277 975l11-6 10 6-11 5z"/>
<path class="k" d="M2284 971l7 0"/>
<path color="#d3f1e6" d="M2497 996l12-3 9 11-12 4z"/>
<path class="k" d="M2499 998l15 2"/>
<path color="#f6e5cb" d="M2256 975l11-5 10 5-11 5z"/>
<path class="k" d="M2263 972l8 0"/>
<path color="#f6e3c6" d="M2350 973l12-5 9 8-11 5z"/>
<path class="k" d="M2353 972l14 0"/>
<path color="#f7eddc" d="M2424 980l12-4 8 10-11 4z"/>
<path color="#f6e6cd" d="M2235 977l11-6 10 4-11 6z"/>
<path class="k" d="M2244 972l4 0"/>
<path color="#f4f6ef" d="M2477 989l12-4 8 11-12 4z"/>
<path class="k" d="M2483 997l9 1"/>
<path color="#f6ddbc" d="M2330 971l11-5 9 7-11 5z"/>
<path class="k" d="M2330 971l19 1"/>
<path color="#f6e5cb" d="M2403 975l12-4 9 9-12 4z"/>
<path class="k" d="M2407 974l11 0"/>
<path color="#f5d9b4" d="M2309 970l11-5 10 6-12 5z"/>
<path class="k" d="M2311 971l17 0"/>
<path color="#f7eddd" d="M2456 982l12-4 9 11-12 3z"/>
<path color="#f6ddbb" d="M2382 971l12-4 9 8-11 5z"/>
<path class="k" d="M2384 973l17 1"/>
<path color="#f5d6b0" d="M2288 969l11-5 10 6-11 5z"/>
<path class="k" d="M2291 971l14 0"/>
<path color="#e9f4ec" d="M2509 993l12-4 9 12-12 3z"/>
<path class="k" d="M2514 1000l15 1"/>
<path color="#f5d6af" d="M2267 970l11-5 10 4-11 6z"/>
<path class="k" d="M2271 972l13-1"/>
<path color="#f5d4ac" d="M2362 968l11-4 9 7-11 5z"/>
<path class="k" d="M2367 972l12 1"/>
<path color="#f6e4c9" d="M2436 976l11-4 9 10-12 4z"/>
<path class="k" d="M2438 975l13 1"/>
<path color="#f5d8b2" d="M2246 971l11-5 10 4-11 5z"/>
<path class="k" d="M2248 972l15 0"/>
<path color="#f7efe2" d="M2489 985l12-3 8 11-12 3z"/>
<path color="#f5dcb9" d="M2225 974l11-5 10 2-11 6z"/>
<path class="k" d="M2226 973l18-1"/>
<path color="#f4cda0" d="M2341 966l11-4 10 6-12 5z"/>
<path class="k" d="M2349 972l4 0"/>
<path color="#f5d9b4" d="M2415 971l11-4 10 9-12 4z"/>
<path class="k" d="M2418 974l17 1"/>
<path color="#f4c998" d="M2320 965l11-5 10 6-11 5z"/>
<path color="#f6e5cb" d="M2468 978l12-3 9 10-12 4z"/>
<path class="k" d="M2471 977l12 1"/>
<path color="#f4cea1" d="M2394 967l12-4 9 8-12 4z"/>
<path class="k" d="M2401 974l6 0"/>
<path color="#f7f4eb" d="M2521 989l13-3 8 12-12 3z"/>
<path class="k" d="M2529 1001l2 0"/>
<path color="#f4c693" d="M2299 964l11-4 10 5-11 5z"/>
<path color="#f4c692" d="M2278 965l11-5 10 4-11 5z"/>
<path color="#f5d8b3" d="M2447 972l12-3 9 9-12 4z"/>
<path class="k" d="M2451 976l16 1"/>
<path color="#f3c591" d="M2373 964l12-4 9 7-12 4z"/>
<path color="#f4c795" d="M2257 966l11-5 10 4-11 5z"/>
<path color="#f6e8d1" d="M2501 982l12-4 8 11-12 4z"/>
<path class="k" d="M2508 980l6 0"/>
<path color="#f3be85" d="M2352 962l11-5 10 7-11 4z"/>
<path color="#f4cb9b" d="M2236 969l10-5 11 2-11 5z"/>
<path color="#f4cb9c" d="M2426 967l12-4 9 9-11 4z"/>
<path class="k" d="M2435 975l3 0"/>
<path color="#f4d0a5" d="M2214 972l11-5 11 2-11 5z"/>
<path class="k" d="M2223 973l3 0"/>
<path color="#f2b97c" d="M2331 960l11-4 10 6-11 4z"/>
<path color="#f5dbb7" d="M2480 975l12-4 9 11-12 3z"/>
<path class="k" d="M2483 978l16 1"/>
<path color="#f7eddb" d="M2534 986l12-2 8 11-12 3z"/>
<path color="#f3c088" d="M2406 963l11-4 9 8-11 4z"/>
<path color="#f2b777" d="M2310 960l11-5 10 5-11 5z"/>
<path color="#f4cb9c" d="M2459 969l12-4 9 10-12 3z"/>
<path class="k" d="M2467 977l4 0"/>
<path color="#f2b676" d="M2289 960l11-5 10 5-11 4z"/>
<path color="#f2b778" d="M2385 960l11-4 10 7-12 4z"/>
<path color="#f6e0c1" d="M2513 978l12-2 9 10-13 3z"/>
<path class="k" d="M2514 980l16 2"/>
<path color="#f2b778" d="M2268 961l11-4 10 3-11 5z"/>
<path color="#f1b06e" d="M2363 957l12-4 10 7-12 4z"/>
<path class="k" d="M2371 954l6 1"/>
<path color="#f3ba7e" d="M2246 964l11-5 11 2-11 5z"/>
<path color="#f3be84" d="M2438 963l12-3 9 9-12 3z"/>
<path color="#f3c088" d="M2225 967l11-5 10 2-10 5z"/>
<path color="#f1ac69" d="M2342 956l12-4 9 5-11 5z"/>
<path class="k" d="M2347 954l11 0"/>
<path color="#f4cfa2" d="M2492 971l12-3 9 10-12 4z"/>
<path class="k" d="M2499 979l9 1"/>
<path color="#f4c795" d="M2204 971l11-5 10 1-11 5z"/>
<path color="#f6e6cd" d="M2546 984l13-3 8 12-13 2z"/>
<path class="k" d="M2549 983l12 1"/>
<path color="#f2b371" d="M2417 959l12-4 9 8-12 4z"/>
<path class="k" d="M2427 956l3 0"/>
<path color="#f0aa65" d="M2321 955l11-4 10 5-11 4z"/>
<path class="k" d="M2324 954l15 0"/>
<path color="#f3bf86" d="M2471 965l12-3 9 9-12 4z"/>
<path color="#f0ab67" d="M2396 956l12-4 9 7-11 4z"/>
<path class="k" d="M2398 955l15 1"/>
<path color="#f0a964" d="M2300 955l11-4 10 4-11 5z"/>
<path class="k" d="M2303 954l16 0"/>
<path color="#f5d5ad" d="M2525 976l13-3 8 11-12 2z"/>
<path class="k" d="M2530 982l15 1"/>
<path color="#f0aa66" d="M2279 957l11-5 10 3-11 5z"/>
<path class="k" d="M2283 955l14-1"/>
<path color="#efa55f" d="M2375 953l12-4 9 7-11 4z"/>
<path class="k" d="M2377 955l18 0"/>
<path color="#f2b270" d="M2450 960l12-3 9 8-12 4z"/>
<path class="k" d="M2458 958l6 0"/>
<path color="#f1ad69" d="M2257 959l11-5 11 3-11 4z"/>
<path class="k" d="M2265 956l8-1"/>
<path color="#f1b16f" d="M2236 962l11-5 10 2-11 5z"/>
<path color="#f3c38d" d="M2504 968l13-2 8 10-12 2z"/>
<path color="#efa159" d="M2354 952l11-4 10 5-12 4z"/>
<path class="k" d="M2358 954l13 0"/>
<path color="#f2b779" d="M2215 966l10-5 11 1-11 5z"/>
<path color="#f6dfbe" d="M2559 981l12-2 8 11-12 3z"/>
<path class="k" d="M2561 984l15 2"/>
<path color="#f3c189" d="M2193 971l11-5 11 0-11 5z"/>
<path color="#f0a863" d="M2429 955l12-3 9 8-12 3z"/>
<path class="k" d="M2430 956l17 1"/>
<path color="#ee9e56" d="M2332 951l12-4 10 5-12 4z"/>
<path class="k" d="M2339 954l8 0"/>
<path color="#f2b372" d="M2483 962l13-3 8 9-12 3z"/>
<path class="k" d="M2493 960l4 0"/>
<path color="#efa059" d="M2408 952l12-4 9 7-12 4z"/>
<path class="k" d="M2413 956l14 0"/>
<path color="#ee9d55" d="M2311 951l11-4 10 4-11 4z"/>
<path class="k" d="M2319 954l5 0"/>
<path color="#f4ca9a" d="M2538 973l12-2 9 10-13 3z"/>
<path class="k" d="M2545 983l4 0"/>
<path color="#ee9e56" d="M2290 952l11-4 10 3-11 4z"/>
<path class="k" d="M2297 954l6 0"/>
<path color="#ed9a51" d="M2387 949l11-3 10 6-12 4z"/>
<path class="k" d="M2395 955l3 0"/>
<path color="#f0a863" d="M2462 957l12-3 9 8-12 3z"/>
<path class="k" d="M2464 958l16 1"/>
<path color="#efa059" d="M2268 954l11-4 11 2-11 5z"/>
<path class="k" d="M2273 955l10 0"/>
<path color="#f2b87a" d="M2517 966l12-3 9 10-13 3z"/>
<path color="#efa45e" d="M2247 957l11-4 10 1-11 5z"/>
<path class="k" d="M2248 957l17-1"/>
<path color="#ed964b" d="M2365 948l12-4 10 5-12 4z"/>
<path color="#f5d5ad" d="M2571 979l13-2 8 11-13 2z"/>
<path class="k" d="M2576 986l15 1"/>
<path color="#f0aa66" d="M2225 961l11-4 11 0-11 5z"/>
<path class="k" d="M2232 958l13-1"/>
<path color="#ee9e56" d="M2441 952l12-3 9 8-12 3z"/>
<path class="k" d="M2447 957l11 1"/>
<path color="#f2b270" d="M2204 966l11-5 10 0-10 5z"/>
<path color="#f3bc82" d="M2183 971l10-4 11-1-11 5z"/>
<path color="#ec9347" d="M2344 947l11-4 10 5-11 4z"/>
<path color="#f0aa66" d="M2496 959l12-2 9 9-13 2z"/>
<path class="k" d="M2497 960l15 1"/>
<path color="#ed964b" d="M2420 948l12-3 9 7-12 3z"/>
<path color="#ec9245" d="M2322 947l12-4 10 4-12 4z"/>
<path color="#f3c089" d="M2550 971l13-2 8 10-12 2z"/>
<path color="#ec9346" d="M2301 948l11-4 10 3-11 4z"/>
<path color="#ec9043" d="M2398 946l12-4 10 6-12 4z"/>
<path color="#ee9f56" d="M2474 954l13-3 9 8-13 3z"/>
<path class="k" d="M2480 959l13 1"/>
<path color="#ec9549" d="M2279 950l12-4 10 2-11 4z"/>
<path color="#f1af6c" d="M2529 963l13-2 8 10-12 2z"/>
<path class="k" d="M2532 963l12 1"/>
<path color="#f4cb9c" d="M2584 977l13-1 8 11-13 1z"/>
<path class="k" d="M2591 987l5 1"/>
<path color="#ed994e" d="M2258 953l11-4 10 1-11 4z"/>
<path color="#eb8b3d" d="M2377 944l12-4 9 6-11 3z"/>
<path color="#ee9e56" d="M2236 957l11-5 11 1-11 4z"/>
<path class="k" d="M2245 957l3 0"/>
<path color="#ec9549" d="M2453 949l12-3 9 8-12 3z"/>
<path color="#efa660" d="M2215 961l11-4 10 0-11 4z"/>
<path class="k" d="M2218 960l14-2"/>
<path color="#f1ae6c" d="M2193 967l11-4 11-2-11 5z"/>
<path color="#ea8939" d="M2355 943l12-4 10 5-12 4z"/>
<path color="#f3ba7e" d="M2172 973l10-4 11-2-10 4z"/>
<path color="#efa25a" d="M2508 957l13-3 8 9-12 3z"/>
<path class="k" d="M2512 961l16 1"/>
<path color="#eb8d3e" d="M2432 945l12-3 9 7-12 3z"/>
<path color="#f2b778" d="M2563 969l13-2 8 10-13 2z"/>
<path color="#ea8737" d="M2334 943l12-4 9 4-11 4z"/>
<path color="#ea8838" d="M2312 944l12-4 10 3-12 4z"/>
<path color="#ed964b" d="M2487 951l12-3 9 9-12 2z"/>
<path color="#ea8636" d="M2410 942l12-3 10 6-12 3z"/>
<path color="#ea8a3a" d="M2291 946l11-4 10 2-11 4z"/>
<path color="#f0a762" d="M2542 961l12-2 9 10-13 2z"/>
<path class="k" d="M2544 964l16 1"/>
<path color="#f3c38d" d="M2597 976l13-2 8 11-13 2z"/>
<path color="#eb8d3f" d="M2269 949l11-4 11 1-12 4z"/>
<path color="#e9822f" d="M2389 940l12-3 9 5-12 4z"/>
<path class="k" d="M2399 938l3 0"/>
<path color="#eb8c3d" d="M2465 946l13-2 9 7-13 3z"/>
<path color="#ec9347" d="M2247 952l12-4 10 1-11 4z"/>
<path color="#ed9a50" d="M2226 957l11-4 10-1-11 5z"/>
<path color="#e87e2b" d="M2367 939l12-3 10 4-12 4z"/>
<path class="k" d="M2374 937l8 0"/>
<path color="#efa35c" d="M2204 963l11-5 11-1-11 4z"/>
<path class="k" d="M2205 962l13-2"/>
<path color="#ed9a50" d="M2521 954l12-2 9 9-13 2z"/>
<path class="k" d="M2528 962l4 1"/>
<path color="#f1ad6a" d="M2182 969l11-4 11-2-11 4z"/>
<path color="#f3ba7e" d="M2161 976l11-4 10-3-10 4z"/>
<path color="#f1af6c" d="M2576 967l13-2 8 11-13 1z"/>
<path class="k" d="M2578 967l13 1"/>
<path color="#e98432" d="M2444 942l12-2 9 6-12 3z"/>
<path color="#e87d29" d="M2346 939l11-3 10 3-12 4z"/>
<path class="k" d="M2352 938l10-1"/>
<path color="#e87d2a" d="M2324 940l11-3 11 2-12 4z"/>
<path class="k" d="M2331 938l9 0"/>
<path color="#eb8e40" d="M2499 948l13-2 9 8-13 3z"/>
<path color="#e87d2a" d="M2422 939l13-3 9 6-12 3z"/>
<path class="k" d="M2426 938l12 1"/>
<path color="#eea058" d="M2554 959l13-2 9 10-13 2z"/>
<path class="k" d="M2560 965l15 1"/>
<path color="#e97f2c" d="M2302 942l12-4 10 2-12 4z"/>
<path class="k" d="M2312 939l3 0"/>
<path color="#f3bb7f" d="M2610 974l13-1 8 11-13 1z"/>
<path color="#e67b27" d="M2401 937l12-3 9 5-12 3z"/>
<path class="k" d="M2402 938l18 0"/>
<path color="#e98331" d="M2280 945l12-4 10 1-11 4z"/>
<path color="#e98432" d="M2478 944l12-3 9 7-12 3z"/>
<path class="k" d="M2490 941l0 0"/>
<path color="#ea8838" d="M2259 948l11-3 10 0-11 4z"/>
<path color="#eb8f41" d="M2237 953l11-4 11-1-12 4z"/>
<path color="#e47927" d="M2379 936l12-3 10 4-12 3z"/>
<path class="k" d="M2382 937l17 1"/>
<path color="#ec9246" d="M2533 952l13-2 8 9-12 2z"/>
<path color="#ed974d" d="M2215 958l11-3 11-2-11 4z"/>
<path color="#efa25a" d="M2193 965l11-4 11-3-11 5z"/>
<path class="k" d="M2194 964l11-2"/>
<path color="#f3bd83" d="M2150 981l10-4 12-5-11 4z"/>
<path color="#f0a864" d="M2589 965l13-1 8 10-13 2z"/>
<path class="k" d="M2591 968l15 1"/>
<path color="#f1ae6a" d="M2172 972l10-4 11-3-11 4z"/>
<path color="#e87c28" d="M2456 940l13-3 9 7-13 2z"/>
<path class="k" d="M2456 940l17 0"/>
<path color="#e37927" d="M2357 936l12-3 10 3-12 3z"/>
<path class="k" d="M2362 937l12 0"/>
<path color="#ea8636" d="M2512 946l12-2 9 8-12 2z"/>
<path color="#e37927" d="M2335 937l12-4 10 3-11 3z"/>
<path class="k" d="M2340 938l12 0"/>
<path color="#e47927" d="M2435 936l12-2 9 6-12 2z"/>
<path class="k" d="M2438 939l18 1"/>
<path color="#ed994f" d="M2567 957l13-1 9 9-13 2z"/>
<path class="k" d="M2575 966l3 1"/>
<path color="#f2b473" d="M2623 973l13-1 8 11-13 1z"/>
<path class="k" d="M2634 972l2 1"/>
<path color="#e47a27" d="M2314 938l11-3 10 2-11 3z"/>
<path class="k" d="M2315 939l16-1"/>
<path color="#e17726" d="M2413 934l12-2 10 4-13 3z"/>
<path class="k" d="M2420 938l6 0"/>
<path color="#e67b28" d="M2292 941l11-3 11 0-12 4z"/>
<path class="k" d="M2296 940l16-1"/>
<path color="#e87c28" d="M2490 941l13-2 9 7-13 2z"/>
<path class="k" d="M2490 941l17 1"/>
<path color="#e87e2a" d="M2270 945l11-4 11 0-12 4z"/>
<path class="k" d="M2280 941l4 0"/>
<path color="#eb8b3c" d="M2546 950l13-1 8 8-13 2z"/>
<path color="#e98433" d="M2248 949l11-3 11-1-11 3z"/>
<path color="#df7626" d="M2391 933l12-3 10 4-12 3z"/>
<path color="#efa25b" d="M2602 964l13-1 8 10-13 1z"/>
<path class="k" d="M2606 969l15 2"/>
<path color="#eb8d3e" d="M2226 955l11-4 11-2-11 4z"/>
<path color="#f3c28b" d="M2139 986l10-4 11-5-10 4z"/>
<path color="#ed974c" d="M2204 961l11-4 11-2-11 3z"/>
<path color="#f1b06e" d="M2160 977l11-4 11-5-10 4z"/>
<path color="#e37927" d="M2469 937l12-2 9 6-12 3z"/>
<path class="k" d="M2473 940l17 1"/>
<path color="#efa35c" d="M2182 968l11-3 11-4-11 4z"/>
<path class="k" d="M2185 967l9-3"/>
<path color="#de7626" d="M2369 933l12-3 10 3-12 3z"/>
<path color="#e97f2c" d="M2524 944l13-1 9 7-13 2z"/>
<path class="k" d="M2528 944l11 1"/>
<path color="#e07626" d="M2447 934l12-2 10 5-13 3z"/>
<path class="k" d="M2456 940l0 0"/>
<path color="#de7526" d="M2347 933l12-2 10 2-12 3z"/>
<path color="#ec9346" d="M2580 956l13-1 9 9-13 1z"/>
<path color="#f1ae6b" d="M2636 972l13 0 8 10-13 1z"/>
<path class="k" d="M2636 973l15 1"/>
<path color="#df7626" d="M2325 935l12-3 10 1-12 4z"/>
<path color="#dd7425" d="M2425 932l12-3 10 5-12 2z"/>
<path color="#e47927" d="M2503 939l12-2 9 7-12 2z"/>
<path class="k" d="M2507 942l16 2"/>
<path color="#e17726" d="M2303 938l12-3 10 0-11 3z"/>
<path color="#e47927" d="M2281 941l12-3 10 0-11 3z"/>
<path class="k" d="M2284 941l12-1"/>
<path color="#ea8534" d="M2559 949l13-1 8 8-13 1z"/>
<path color="#ee9d54" d="M2615 963l13-1 8 10-13 1z"/>
<path class="k" d="M2621 971l13 1"/>
<path color="#db7325" d="M2403 930l12-2 10 4-12 2z"/>
<path color="#e77b28" d="M2259 946l12-4 10-1-11 4z"/>
<path class="k" d="M2267 943l13-2"/>
<path color="#f4c998" d="M2127 992l11-4 11-6-10 4z"/>
<path color="#e98331" d="M2237 951l12-3 10-2-11 3z"/>
<path color="#df7626" d="M2481 935l13-2 9 6-13 2z"/>
<path color="#f2b474" d="M2149 982l11-4 11-5-11 4z"/>
<path color="#eb8c3e" d="M2215 957l12-3 10-3-11 4z"/>
<path color="#efa55f" d="M2171 973l11-4 11-4-11 3z"/>
<path class="k" d="M2178 971l7-4"/>
<path color="#ed984e" d="M2193 965l11-4 11-4-11 4z"/>
<path color="#da7224" d="M2381 930l12-3 10 3-12 3z"/>
<path color="#e67b28" d="M2537 943l13-2 9 8-13 1z"/>
<path class="k" d="M2539 945l16 1"/>
<path color="#dc7425" d="M2459 932l13-2 9 5-12 2z"/>
<path color="#f0a965" d="M2649 972l14-1 8 11-14 0z"/>
<path class="k" d="M2651 974l15 2"/>
<path color="#da7224" d="M2359 931l12-3 10 2-12 3z"/>
<path color="#eb8d3f" d="M2593 955l14-1 8 9-13 1z"/>
<path color="#da7325" d="M2337 932l12-3 10 2-12 2z"/>
<path color="#d97224" d="M2437 929l13-2 9 5-12 2z"/>
<path color="#e07726" d="M2515 937l13-1 9 7-13 1z"/>
<path class="k" d="M2523 944l5 0"/>
<path color="#dc7425" d="M2315 935l12-3 10 0-12 3z"/>
<path color="#e97f2c" d="M2572 948l13-1 8 8-13 1z"/>
<path class="k" d="M2574 948l13 1"/>
<path color="#df7626" d="M2293 938l12-3 10 0-12 3z"/>
<path color="#ed984d" d="M2628 962l13 0 8 10-13 0z"/>
<path color="#d77024" d="M2415 928l13-2 9 3-12 3z"/>
<path color="#f5d2a8" d="M2116 999l11-3 11-8-11 4z"/>
<path class="k" d="M2117 999l1-1"/>
<path color="#e27827" d="M2271 942l11-3 11-1-12 3z"/>
<path color="#dc7425" d="M2494 933l12-2 9 6-12 2z"/>
<path color="#f3bc81" d="M2138 988l11-3 11-7-11 4z"/>
<path color="#e67b28" d="M2249 948l11-3 11-3-12 4z"/>
<path class="k" d="M2256 946l11-3"/>
<path color="#f0aa65" d="M2160 978l11-3 11-6-11 4z"/>
<path class="k" d="M2175 973l3-2"/>
<path color="#e98331" d="M2227 954l11-3 11-3-12 3z"/>
<path color="#ee9b52" d="M2182 969l11-3 11-5-11 4z"/>
<path color="#eb8e40" d="M2204 961l12-3 11-4-12 3z"/>
<path color="#d56f23" d="M2393 927l12-2 10 3-12 2z"/>
<path color="#e37927" d="M2550 941l13-1 9 8-13 1z"/>
<path class="k" d="M2555 946l16 1"/>
<path color="#efa55f" d="M2663 971l13 1 8 10-13 0z"/>
<path class="k" d="M2666 976l15 2"/>
<path color="#d87124" d="M2472 930l12-2 10 5-13 2z"/>
<path color="#ea8838" d="M2607 954l13 0 8 8-13 1z"/>
<path color="#d56f23" d="M2371 928l12-3 10 2-12 3z"/>
<path color="#d67023" d="M2349 929l12-2 10 1-12 3z"/>
<path color="#dd7525" d="M2528 936l13-1 9 6-13 2z"/>
<path color="#d56f23" d="M2450 927l12-2 10 5-13 2z"/>
<path color="#d77124" d="M2327 932l12-3 10 0-12 3z"/>
<path color="#e77b28" d="M2585 947l13-1 9 8-14 1z"/>
<path class="k" d="M2587 949l16 1"/>
<path color="#ec9347" d="M2641 962l14 0 8 9-14 1z"/>
<path color="#f6debd" d="M2105 1008l11-3 11-9-11 3z"/>
<path class="k" d="M2117 1003l0-4"/>
<path color="#da7224" d="M2305 935l11-3 11 0-12 3z"/>
<path color="#d36e23" d="M2428 926l12-2 10 3-13 2z"/>
<path color="#f4c692" d="M2127 996l11-3 11-8-11 3z"/>
<path color="#dd7525" d="M2282 939l12-2 11-2-12 3z"/>
<path color="#d87124" d="M2506 931l13-1 9 6-13 1z"/>
<path color="#f1b06e" d="M2149 985l11-3 11-7-11 3z"/>
<path color="#e17826" d="M2260 945l12-3 10-3-11 3z"/>
<path color="#eea058" d="M2171 975l11-3 11-6-11 3z"/>
<path class="k" d="M2173 975l2-2"/>
<path color="#e77b28" d="M2238 951l11-3 11-3-11 3z"/>
<path class="k" d="M2247 948l9-2"/>
<path color="#ec9245" d="M2193 966l12-3 11-5-12 3z"/>
<path color="#ea8534" d="M2216 958l11-3 11-4-11 3z"/>
<path color="#d16d22" d="M2405 925l13-2 10 3-13 2z"/>
<path color="#e07726" d="M2563 940l13 0 9 7-13 1z"/>
<path class="k" d="M2571 947l3 1"/>
<path color="#efa15a" d="M2676 972l14 0 8 10-14 0z"/>
<path class="k" d="M2681 978l15 2"/>
<path color="#e98332" d="M2620 954l13-1 8 9-13 0z"/>
<path class="k" d="M2633 953l0 1"/>
<path color="#d46f23" d="M2484 928l13-1 9 4-12 2z"/>
<path color="#d16d22" d="M2383 925l13-2 9 2-12 2z"/>
<path color="#d26d22" d="M2361 927l12-2 10 0-12 3z"/>
<path color="#da7325" d="M2541 935l13-1 9 6-13 1z"/>
<path color="#d16d22" d="M2462 925l13-1 9 4-12 2z"/>
<path class="k" d="M2474 924l1 0"/>
<path color="#e47927" d="M2598 946l13 0 9 8-13 0z"/>
<path class="k" d="M2603 950l15 2"/>
<path color="#d36e23" d="M2339 929l12-2 10 0-12 2z"/>
<path color="#eb8f42" d="M2655 962l14 0 7 10-13-1z"/>
<path color="#f6e8d0" d="M2093 1018l11-3 12-10-11 3z"/>
<path color="#d56f23" d="M2316 932l12-2 11-1-12 3z"/>
<path color="#f5d2a7" d="M2116 1005l10-3 12-9-11 3z"/>
<path class="k" d="M2117 1004l0-1"/>
<path color="#cf6b22" d="M2440 924l13-2 9 3-12 2z"/>
<path class="k" d="M2445 923l11 0"/>
<path color="#d56f23" d="M2519 930l13-1 9 6-13 1z"/>
<path color="#d97224" d="M2294 937l12-3 10-2-11 3z"/>
<path color="#f3ba7d" d="M2138 993l11-3 11-8-11 3z"/>
<path color="#dd7425" d="M2272 942l11-3 11-2-12 2z"/>
<path color="#f0a762" d="M2160 982l11-3 11-7-11 3z"/>
<path class="k" d="M2172 979l1-4"/>
<path color="#e27826" d="M2249 948l12-3 11-3-12 3z"/>
<path color="#ed974c" d="M2182 972l12-3 11-6-12 3z"/>
<path color="#ce6a21" d="M2418 923l12-2 10 3-12 2z"/>
<path class="k" d="M2420 923l17 0"/>
<path color="#dd7525" d="M2576 940l14-1 8 7-13 1z"/>
<path color="#e87c28" d="M2227 955l11-3 11-4-11 3z"/>
<path class="k" d="M2244 950l3-2"/>
<path color="#ea8839" d="M2205 963l11-3 11-5-11 3z"/>
<path color="#ee9e56" d="M2690 972l14 1 7 9-13 0z"/>
<path class="k" d="M2696 980l15 2"/>
<path color="#e97f2c" d="M2633 953l14 1 8 8-14 0z"/>
<path class="k" d="M2633 954l15 1"/>
<path color="#d16c22" d="M2497 927l13-2 9 5-13 1z"/>
<path class="k" d="M2508 926l3 0"/>
<path color="#cd6a21" d="M2396 923l12-2 10 2-13 2z"/>
<path class="k" d="M2398 923l18 0"/>
<path color="#d77124" d="M2554 934l14-1 8 7-13 0z"/>
<path color="#ce6a21" d="M2373 925l12-2 11 0-13 2z"/>
<path class="k" d="M2378 924l15-1"/>
<path color="#ce6a21" d="M2475 924l13-1 9 4-13 1z"/>
<path class="k" d="M2475 924l18 1"/>
<path color="#f7f1e5" d="M2082 1028l11-2 11-11-11 3z"/>
<path color="#e27826" d="M2611 946l14 0 8 7-13 1z"/>
<path class="k" d="M2618 952l15 1"/>
<path color="#eb8c3d" d="M2669 962l13 1 8 9-14 0z"/>
<path color="#cf6b22" d="M2351 927l12-2 10 0-12 2z"/>
<path class="k" d="M2362 925l3 0"/>
<path color="#f6e0c1" d="M2104 1015l11-3 11-10-10 3z"/>
<path class="k" d="M2119 1008l-2-4"/>
<path color="#cb6921" d="M2453 922l12-1 10 3-13 1z"/>
<path class="k" d="M2456 923l18 1"/>
<path color="#d16d22" d="M2328 930l12-2 11-1-12 2z"/>
<path color="#d26d23" d="M2532 929l13-1 9 6-13 1z"/>
<path color="#f4c693" d="M2126 1002l11-3 12-9-11 3z"/>
<path color="#d46f23" d="M2306 934l12-2 10-2-12 2z"/>
<path color="#f1b06d" d="M2149 990l11-3 11-8-11 3z"/>
<path color="#d97224" d="M2283 939l12-2 11-3-12 3z"/>
<path color="#db7325" d="M2590 939l13 0 8 7-13 0z"/>
<path color="#ee9e56" d="M2171 979l11-2 12-8-12 3z"/>
<path class="k" d="M2172 979l0 0"/>
<path color="#ca6821" d="M2430 921l13-1 10 2-13 2z"/>
<path class="k" d="M2437 923l8 0"/>
<path color="#dd7525" d="M2261 945l12-2 10-4-11 3z"/>
<path color="#eb8e40" d="M2194 969l11-2 11-7-11 3z"/>
<path color="#e87c28" d="M2647 954l13 0 9 8-14 0z"/>
<path class="k" d="M2648 955l16 2"/>
<path color="#e37927" d="M2238 952l12-2 11-5-12 3z"/>
<path class="k" d="M2241 952l3-2"/>
<path color="#e9802d" d="M2216 960l11-2 11-6-11 3z"/>
<path color="#ce6a22" d="M2510 925l13 0 9 4-13 1z"/>
<path class="k" d="M2511 926l17 1"/>
<path color="#ca6720" d="M2408 921l12-1 10 1-12 2z"/>
<path class="k" d="M2416 923l4 0"/>
<path color="#e6f4eb" d="M2070 1040l11-2 12-12-11 2z"/>
<path class="k" d="M2078 1038l-3-3"/>
<path color="#d56f23" d="M2568 933l13 0 9 6-14 1z"/>
<path color="#ca6820" d="M2385 923l13-2 10 0-12 2z"/>
<path class="k" d="M2393 923l5 0"/>
<path color="#cb6821" d="M2488 923l13-1 9 3-13 2z"/>
<path class="k" d="M2493 925l15 1"/>
<path color="#ea8939" d="M2682 963l14 1 8 9-14-1z"/>
<path color="#e07626" d="M2625 946l14 0 8 8-14-1z"/>
<path color="#f6ebd7" d="M2093 1026l11-3 11-11-11 3z"/>
<path color="#cb6921" d="M2363 925l12-2 10 0-12 2z"/>
<path class="k" d="M2365 925l13-1"/>
<path color="#f5d5ad" d="M2115 1012l11-2 11-11-11 3z"/>
<path class="k" d="M2121 1011l-2-3"/>
<path color="#c86720" d="M2465 921l13-1 10 3-13 1z"/>
<path color="#d06c22" d="M2545 928l14 0 9 5-14 1z"/>
<path class="k" d="M2549 928l12 1"/>
<path color="#cd6a21" d="M2340 928l13-2 10-1-12 2z"/>
<path class="k" d="M2348 927l14-2"/>
<path color="#f3bc80" d="M2137 999l11-2 12-10-11 3z"/>
<path color="#d06c22" d="M2318 932l12-2 10-2-12 2z"/>
<path color="#f0a762" d="M2160 987l11-2 11-8-11 2z"/>
<path class="k" d="M2173 984l-1-5"/>
<path color="#d97224" d="M2603 939l13 0 9 7-14 0z"/>
<path color="#d46f23" d="M2295 937l12-2 11-3-12 2z"/>
<path color="#e67b28" d="M2660 954l14 1 8 8-13-1z"/>
<path class="k" d="M2664 957l14 2"/>
<path color="#c76620" d="M2443 920l13-1 9 2-12 1z"/>
<path color="#ed964a" d="M2182 977l12-3 11-7-11 2z"/>
<path color="#d97224" d="M2273 943l11-2 11-4-12 2z"/>
<path color="#ea8635" d="M2205 967l11-2 11-7-11 2z"/>
<path color="#df7626" d="M2250 950l12-2 11-5-12 2z"/>
<path color="#e67a27" d="M2227 958l12-2 11-6-12 2z"/>
<path class="k" d="M2238 956l3-4"/>
<path color="#cb6921" d="M2523 925l13-1 9 4-13 1z"/>
<path class="k" d="M2528 927l16 1"/>
<path color="#c3efe2" d="M2059 1053l11-2 11-13-11 2z"/>
<path class="k" d="M2080 1040l-2-2"/>
<path color="#c66520" d="M2420 920l13-1 10 1-13 1z"/>
<path color="#d36e23" d="M2581 933l13 0 9 6-13 0z"/>
<path color="#f7f6ef" d="M2081 1038l11-2 12-13-11 3z"/>
<path color="#c86620" d="M2501 922l13-1 9 4-13 0z"/>
<path color="#c76520" d="M2398 921l12-1 10 0-12 1z"/>
<path color="#de7525" d="M2639 946l13 1 8 7-13 0z"/>
<path color="#f6e5ca" d="M2104 1023l11-2 11-11-11 2z"/>
<path class="k" d="M2123 1012l-2-1"/>
<path color="#c86620" d="M2375 923l13-1 10-1-13 2z"/>
<path color="#c5651f" d="M2478 920l13-1 10 3-13 1z"/>
<path color="#cd6a21" d="M2559 928l13 0 9 5-13 0z"/>
<path class="k" d="M2561 929l16 2"/>
<path color="#f4cb9b" d="M2126 1010l11-2 11-11-11 2z"/>
<path color="#ca6820" d="M2353 926l12-2 10-1-12 2z"/>
<path color="#f2b270" d="M2148 997l12-2 11-10-11 2z"/>
<path color="#d77024" d="M2616 939l14 0 9 7-14 0z"/>
<path color="#cd6a21" d="M2330 930l12-2 11-2-13 2z"/>
<path class="k" d="M2337 929l11-2"/>
<path color="#e57a27" d="M2674 955l14 1 8 8-14-1z"/>
<path class="k" d="M2678 959l15 2"/>
<path color="#ee9f57" d="M2171 985l11-2 12-9-12 3z"/>
<path class="k" d="M2174 985l-1-1"/>
<path color="#a3ead7" d="M2047 1068l11-2 12-15-11 2z"/>
<path color="#d16c22" d="M2307 935l12-2 11-3-12 2z"/>
<path color="#c4641f" d="M2456 919l13-1 9 2-13 1z"/>
<path color="#eb8e40" d="M2194 974l11-2 11-7-11 2z"/>
<path color="#d56f23" d="M2284 941l12-2 11-4-12 2z"/>
<path color="#c96720" d="M2536 924l14 0 9 4-14 0z"/>
<path class="k" d="M2544 928l5 0"/>
<path color="#e87e2b" d="M2216 965l12-2 11-7-12 2z"/>
<path class="k" d="M2238 956l0 0"/>
<path color="#db7325" d="M2262 948l12-2 10-5-11 2z"/>
<path color="#e27826" d="M2239 956l12-2 11-6-12 2z"/>
<path color="#d4f2e7" d="M2070 1051l10-2 12-13-11 2z"/>
<path class="k" d="M2085 1044l-5-4"/>
<path color="#c3631f" d="M2433 919l13-1 10 1-13 1z"/>
<path color="#d16c22" d="M2594 933l14 0 8 6-13 0z"/>
<path class="k" d="M2604 933l4 1"/>
<path color="#dd7425" d="M2652 947l14 0 8 8-14-1z"/>
<path color="#c5651f" d="M2514 921l13 0 9 3-13 1z"/>
<path color="#f7f0e2" d="M2092 1036l11-2 12-13-11 2z"/>
<path color="#c3631f" d="M2410 920l13-2 10 1-13 1z"/>
<path color="#f6dcba" d="M2115 1021l11-2 11-11-11 2z"/>
<path class="k" d="M2129 1016l-6-4"/>
<path color="#c5641f" d="M2388 922l12-2 10 0-12 1z"/>
<path color="#cb6921" d="M2572 928l13 0 9 5-13 0z"/>
<path class="k" d="M2577 931l16 1"/>
<path color="#c3631f" d="M2491 919l13-1 10 3-13 1z"/>
<path color="#8be2cc" d="M2036 1083l10-1 12-16-11 2z"/>
<path class="k" d="M2052 1074l-6-4"/>
<path color="#f3c18a" d="M2137 1008l11-2 12-11-12 2z"/>
<path color="#c76520" d="M2365 924l12-1 11-1-13 1z"/>
<path color="#d56f23" d="M2630 939l14 1 8 7-13-1z"/>
<path color="#f0aa66" d="M2160 995l11-2 11-10-11 2z"/>
<path class="k" d="M2177 988l-3-3"/>
<path color="#c96720" d="M2342 928l12-1 11-3-12 2z"/>
<path color="#c1621e" d="M2469 918l13-1 9 2-13 1z"/>
<path color="#ed984d" d="M2182 983l12-2 11-9-11 2z"/>
<path color="#cd6a21" d="M2319 933l13-1 10-4-12 2z"/>
<path class="k" d="M2330 932l7-3"/>
<path color="#adecdc" d="M2058 1066l11-2 11-15-10 2z"/>
<path color="#c76620" d="M2550 924l13 0 9 4-13 0z"/>
<path color="#ea8636" d="M2205 972l12-1 11-8-12 2z"/>
<path color="#d26d22" d="M2296 939l13-1 10-5-12 2z"/>
<path color="#e57a27" d="M2228 963l12-2 11-7-12 2z"/>
<path class="k" d="M2240 961l-2-5"/>
<path color="#d77124" d="M2274 946l12-2 10-5-12 2z"/>
<path color="#de7525" d="M2251 954l12-2 11-6-12 2z"/>
<path color="#c0611e" d="M2446 918l13-1 10 1-13 1z"/>
<path color="#e5f4eb" d="M2080 1049l11-1 12-14-11 2z"/>
<path class="k" d="M2092 1047l-7-3"/>
<path color="#cf6b22" d="M2608 933l14 1 8 5-14 0z"/>
<path class="k" d="M2608 934l16 1"/>
<path color="#db7325" d="M2666 947l14 2 8 7-14-1z"/>
<path color="#c3631f" d="M2527 921l13 0 10 3-14 0z"/>
<path color="#c1611e" d="M2423 918l13 0 10 0-13 1z"/>
<path color="#f6ead6" d="M2103 1034l11-2 12-13-11 2z"/>
<path color="#c2621e" d="M2400 920l13-1 10-1-13 2z"/>
<path color="#f5d3aa" d="M2126 1019l11-1 11-12-11 2z"/>
<path class="k" d="M2132 1019l-3-3"/>
<path color="#ca6720" d="M2585 928l14 1 9 4-14 0z"/>
<path class="k" d="M2593 932l11 1"/>
<path color="#c1611e" d="M2504 918l14 0 9 3-13 0z"/>
<path color="#c4631f" d="M2377 923l13-1 10-2-12 2z"/>
<path color="#94e5d0" d="M2046 1082l11-2 12-16-11 2z"/>
<path class="k" d="M2059 1078l-7-4"/>
<path color="#d46f23" d="M2644 940l14 1 8 6-14 0z"/>
<path color="#f2b87a" d="M2148 1006l12-2 11-11-11 2z"/>
<path color="#c66520" d="M2354 927l13-1 10-3-12 1z"/>
<path color="#efa35c" d="M2171 993l12-1 11-11-12 2z"/>
<path class="k" d="M2183 992l-6-4"/>
<path color="#be601e" d="M2482 917l13 0 9 1-13 1z"/>
<path color="#ca6821" d="M2332 932l12-1 10-4-12 1z"/>
<path color="#c5641f" d="M2563 924l13 0 9 4-13 0z"/>
<path color="#ec9144" d="M2194 981l12-1 11-9-12 1z"/>
<path color="#bceee0" d="M2069 1064l11-1 11-15-11 1z"/>
<path color="#cf6b22" d="M2309 938l12-2 11-4-13 1z"/>
<path class="k" d="M2329 933l1-1"/>
<path color="#e9802d" d="M2217 971l12-2 11-8-12 2z"/>
<path color="#d46f23" d="M2286 944l12-1 11-5-13 1z"/>
<path color="#e27826" d="M2240 961l12-1 11-8-12 2z"/>
<path class="k" d="M2240 961l0 0"/>
<path color="#da7325" d="M2263 952l12-1 11-7-12 2z"/>
<path color="#bd601e" d="M2459 917l13 0 10 0-13 1z"/>
<path color="#ce6a21" d="M2622 934l13 1 9 5-14-1z"/>
<path class="k" d="M2624 935l15 2"/>
<path color="#f4f6ef" d="M2091 1048l11-1 12-15-11 2z"/>
<path class="k" d="M2092 1048l0-1"/>
<path color="#c1621e" d="M2540 921l14 0 9 3-13 0z"/>
<path color="#bd601e" d="M2436 918l13-1 10 0-13 1z"/>
<path color="#f6e5cb" d="M2114 1032l11-1 12-13-11 1z"/>
<path class="k" d="M2135 1020l-3-1"/>
<path color="#c86620" d="M2599 929l14 0 9 5-14-1z"/>
<path color="#bf601e" d="M2413 919l13 0 10-1-13 0z"/>
<path color="#be601e" d="M2518 918l13 0 9 3-13 0z"/>
<path color="#f4cb9b" d="M2137 1018l11-1 12-13-12 2z"/>
<path color="#d36e23" d="M2658 941l14 2 8 6-14-2z"/>
<path color="#c1621e" d="M2390 922l13 0 10-3-13 1z"/>
<path color="#9ce7d4" d="M2057 1080l11-1 12-16-11 1z"/>
<path class="k" d="M2063 1080l-4-2"/>
<path color="#f1b16e" d="M2160 1004l11-1 12-11-12 1z"/>
<path color="#c3631f" d="M2367 926l13-1 10-3-13 1z"/>
<path color="#bb5f1d" d="M2495 917l13 0 10 1-14 0z"/>
<path color="#ee9d54" d="M2183 992l11-1 12-11-12 1z"/>
<path class="k" d="M2183 992l0 0"/>
<path color="#c3631f" d="M2576 924l14 1 9 4-14-1z"/>
<path color="#c76620" d="M2344 931l12-1 11-4-13 1z"/>
<path color="#eb8a3b" d="M2206 980l11-1 12-10-12 2z"/>
<path color="#cbf0e4" d="M2080 1063l11-1 11-15-11 1z"/>
<path class="k" d="M2099 1051l-7-3"/>
<path color="#cc6921" d="M2321 936l12 0 11-5-12 1z"/>
<path class="k" d="M2328 936l1-3"/>
<path color="#e77b28" d="M2229 969l11-1 12-8-12 1z"/>
<path class="k" d="M2245 965l-5-4"/>
<path color="#d16c22" d="M2298 943l12-1 11-6-12 2z"/>
<path color="#de7626" d="M2252 960l12-1 11-8-12 1z"/>
<path color="#d77124" d="M2275 951l12-1 11-7-12 1z"/>
<path color="#cd6921" d="M2635 935l14 1 9 5-14-1z"/>
<path class="k" d="M2639 937l15 2"/>
<path color="#ba5e1d" d="M2472 917l13 0 10 0-13 0z"/>
<path color="#c0611e" d="M2554 921l13 0 9 3-13 0z"/>
<path color="#f7f2e8" d="M2102 1047l12-1 11-15-11 1z"/>
<path color="#ba5e1d" d="M2449 917l13 0 10 0-13 0z"/>
<path color="#f6dfbf" d="M2125 1031l12-1 11-13-11 1z"/>
<path class="k" d="M2142 1024l-7-4"/>
<path color="#c76620" d="M2613 929l14 1 8 5-13-1z"/>
<path color="#bb5e1d" d="M2426 919l13 0 10-2-13 1z"/>
<path color="#bc5f1d" d="M2531 918l13 1 10 2-14 0z"/>
<path color="#f3c38d" d="M2148 1017l12-1 11-13-11 1z"/>
<path color="#be601e" d="M2403 922l12-1 11-2-13 0z"/>
<path color="#a3ead8" d="M2068 1079l11 0 12-17-11 1z"/>
<path color="#f0aa66" d="M2171 1003l12-1 11-11-11 1z"/>
<path class="k" d="M2190 995l-7-3"/>
<path color="#c1621e" d="M2380 925l12 0 11-3-13 0z"/>
<path color="#b95d1d" d="M2508 917l13 0 10 1-13 0z"/>
<path color="#c2621f" d="M2590 925l14 1 9 3-14 0z"/>
<path color="#ed964b" d="M2194 991l12-1 11-11-11 1z"/>
<path color="#c4641f" d="M2356 930l13-1 11-4-13 1z"/>
<path color="#e98433" d="M2217 979l12-1 11-10-11 1z"/>
<path color="#c96720" d="M2333 936l13-1 10-5-12 1z"/>
<path color="#cc6921" d="M2649 936l14 2 9 5-14-2z"/>
<path class="k" d="M2654 939l15 2"/>
<path color="#d8f2e8" d="M2091 1062l11-1 12-15-12 1z"/>
<path class="k" d="M2107 1055l-8-4"/>
<path color="#e37927" d="M2240 968l12-1 12-8-12 1z"/>
<path class="k" d="M2250 968l-5-3"/>
<path color="#ce6b22" d="M2310 942l12 0 11-6-12 0z"/>
<path class="k" d="M2329 938l-1-2"/>
<path color="#db7425" d="M2264 959l12-1 11-8-12 1z"/>
<path color="#b75d1d" d="M2485 917l13 0 10 0-13 0z"/>
<path color="#d46f23" d="M2287 950l12-1 11-7-12 1z"/>
<path color="#be601e" d="M2567 921l14 1 9 3-14-1z"/>
<path color="#f7eede" d="M2114 1046l11-1 12-15-12 1z"/>
<path color="#b75c1d" d="M2462 917l13 0 10 0-13 0z"/>
<path color="#c66520" d="M2627 930l14 2 8 4-14-1z"/>
<path color="#f5d8b2" d="M2137 1030l11 0 12-14-12 1z"/>
<path class="k" d="M2150 1027l-8-3"/>
<path color="#b85d1d" d="M2439 919l13 0 10-2-13 0z"/>
<path color="#ba5e1d" d="M2544 919l14 1 9 1-13 0z"/>
<path color="#f3bb80" d="M2160 1016l11-1 12-13-12 1z"/>
<path color="#bb5e1d" d="M2415 921l13 0 11-2-13 0z"/>
<path color="#efa55e" d="M2183 1002l11 0 12-12-12 1z"/>
<path class="k" d="M2197 999l-7-4"/>
<path color="#aaecdb" d="M2079 1079l11-1 12-17-11 1z"/>
<path color="#b75c1d" d="M2521 917l14 1 9 1-13-1z"/>
<path color="#c1621e" d="M2604 926l14 1 9 3-14-1z"/>
<path color="#be601e" d="M2392 925l13 0 10-4-12 1z"/>
<path color="#ec9144" d="M2206 990l12-1 11-11-12 1z"/>
<path color="#c2621f" d="M2369 929l13 0 10-4-12 0z"/>
<path color="#e87f2c" d="M2229 978l12 0 11-11-12 1z"/>
<path class="k" d="M2251 969l-1-1"/>
<path color="#c66520" d="M2346 935l12 0 11-6-13 1z"/>
<path color="#e4f4eb" d="M2102 1061l11 0 12-16-11 1z"/>
<path class="k" d="M2115 1059l-8-4"/>
<path color="#e17726" d="M2252 967l13 0 11-9-12 1z"/>
<path color="#b55b1d" d="M2498 917l14 0 9 0-13 0z"/>
<path color="#cc6921" d="M2322 942l13-1 11-6-13 1z"/>
<path class="k" d="M2333 941l-4-3"/>
<path color="#d97224" d="M2276 958l12-1 11-8-12 1z"/>
<path color="#d26d22" d="M2299 949l12 0 11-7-12 0z"/>
<path color="#bc5f1e" d="M2581 922l14 1 9 3-14-1z"/>
<path color="#f6ead5" d="M2125 1045l11 0 12-15-11 0z"/>
<path color="#b55b1d" d="M2475 917l13 1 10-1-13 0z"/>
<path color="#c5651f" d="M2641 932l14 2 8 4-14-2z"/>
<path color="#b85d1d" d="M2558 920l14 1 9 1-14-1z"/>
<path color="#f5d1a6" d="M2148 1030l12-1 11-14-11 1z"/>
<path class="k" d="M2154 1029l-4-2"/>
<path color="#b65c1d" d="M2452 919l13 0 10-2-13 0z"/>
<path color="#f2b575" d="M2171 1015l12 0 11-13-11 0z"/>
<path color="#b85d1d" d="M2428 921l14 1 10-3-13 0z"/>
<path color="#c1611e" d="M2618 927l14 2 9 3-14-2z"/>
<path color="#b55b1d" d="M2535 918l13 1 10 1-14-1z"/>
<path color="#ee9f57" d="M2194 1002l12-1 12-12-12 1z"/>
<path class="k" d="M2203 1001l-6-2"/>
<path color="#bb5f1d" d="M2405 925l13 0 10-4-13 0z"/>
<path color="#b6eede" d="M2090 1078l12 0 11-17-11 0z"/>
<path color="#eb8c3d" d="M2218 989l12 0 11-11-12 0z"/>
<path color="#c0611e" d="M2382 929l13 0 10-4-13 0z"/>
<path color="#e77b28" d="M2241 978l12-1 12-10-13 0z"/>
<path class="k" d="M2259 972l-8-3"/>
<path color="#c4641f" d="M2358 935l13 0 11-6-13 0z"/>
<path color="#b35a1c" d="M2512 917l13 1 10 0-14-1z"/>
<path color="#de7526" d="M2265 967l12 0 11-10-12 1z"/>
<path color="#c96720" d="M2335 941l12 0 11-6-12 0z"/>
<path color="#eff5ee" d="M2113 1061l12 0 11-16-11 0z"/>
<path class="k" d="M2121 1061l-6-2"/>
<path color="#d67024" d="M2288 957l12 0 11-8-12 0z"/>
<path color="#cf6b22" d="M2311 949l13 0 11-8-13 1z"/>
<path class="k" d="M2334 942l-1-1"/>
<path color="#bb5e1d" d="M2595 923l14 2 9 2-14-1z"/>
<path color="#b35a1c" d="M2488 918l14 1 10-2-14 0z"/>
<path color="#f6e6cd" d="M2136 1045l12 0 12-16-12 1z"/>
<path class="k" d="M2158 1031l-4-2"/>
<path color="#b75c1d" d="M2572 921l14 1 9 1-14-1z"/>
<path color="#b45b1d" d="M2465 919l13 1 10-2-13-1z"/>
<path color="#f4cb9b" d="M2160 1029l11 0 12-14-12 0z"/>
<path color="#b65c1d" d="M2442 922l13 0 10-3-13 0z"/>
<path color="#f1b06d" d="M2183 1015l12 0 11-14-12 1z"/>
<path class="k" d="M2206 1002l-3-1"/>
<path color="#c0611e" d="M2632 929l14 2 9 3-14-2z"/>
<path color="#b45b1d" d="M2548 919l14 1 10 1-14-1z"/>
<path color="#b95d1d" d="M2418 925l13 1 11-4-14-1z"/>
<path color="#ed9b51" d="M2206 1001l12 0 12-12-12 0z"/>
<path color="#c0efe1" d="M2102 1078l11 0 12-17-12 0z"/>
<path class="k" d="M2124 1062l-3-1"/>
<path color="#be601e" d="M2395 929l13 1 10-5-13 0z"/>
<path color="#ea8737" d="M2230 989l12 0 11-12-12 1z"/>
<path color="#b25a1c" d="M2525 918l14 2 9-1-13-1z"/>
<path color="#c2631f" d="M2371 935l13 0 11-6-13 0z"/>
<path color="#e57a27" d="M2253 977l13 0 11-10-12 0z"/>
<path class="k" d="M2268 975l-9-3"/>
<path color="#ba5e1d" d="M2609 925l14 2 9 2-14-2z"/>
<path color="#c76620" d="M2347 941l13 1 11-7-13 0z"/>
<path color="#dc7425" d="M2277 967l12 0 11-10-12 0z"/>
<path color="#f7f5ee" d="M2125 1061l11 0 12-16-12 0z"/>
<path color="#cd6a21" d="M2324 949l13 0 10-8-12 0z"/>
<path class="k" d="M2342 945l-8-3"/>
<path color="#d46f23" d="M2300 957l13 1 11-9-13 0z"/>
<path color="#b1591c" d="M2502 919l13 1 10-2-13-1z"/>
<path color="#f6e3c6" d="M2148 1045l12 0 11-16-11 0z"/>
<path class="k" d="M2168 1034l-10-3"/>
<path color="#b65c1d" d="M2586 922l14 2 9 1-14-2z"/>
<path color="#b25a1c" d="M2478 920l14 1 10-2-14-1z"/>
<path color="#f4c592" d="M2171 1029l12 0 12-14-12 0z"/>
<path color="#b45b1d" d="M2455 922l13 1 10-3-13-1z"/>
<path color="#f0ac68" d="M2195 1015l12 0 11-14-12 0z"/>
<path class="k" d="M2215 1005l-9-3"/>
<path color="#b35a1c" d="M2562 920l14 2 10 0-14-1z"/>
<path color="#b75c1d" d="M2431 926l13 0 11-4-13 0z"/>
<path color="#ed974c" d="M2218 1001l13 1 11-13-12 0z"/>
<path color="#c9f0e4" d="M2113 1078l12 1 11-18-11 0z"/>
<path class="k" d="M2133 1066l-9-4"/>
<path color="#bb5f1d" d="M2408 930l13 1 10-5-13-1z"/>
<path color="#e98332" d="M2242 989l12 0 12-12-13 0z"/>
<path color="#b1591c" d="M2539 920l14 1 9-1-14-1z"/>
<path color="#c1621e" d="M2384 935l13 1 11-6-13-1z"/>
<path color="#ba5e1d" d="M2623 927l14 2 9 2-14-2z"/>
<path color="#e37827" d="M2266 977l12 1 11-11-12 0z"/>
<path class="k" d="M2275 978l-7-3"/>
<path color="#c6651f" d="M2360 942l13 0 11-7-13 0z"/>
<path color="#da7324" d="M2289 967l13 0 11-9-13-1z"/>
<path color="#cc6921" d="M2337 949l12 1 11-8-13-1z"/>
<path class="k" d="M2351 949l-9-4"/>
<path color="#d26d23" d="M2313 958l13 0 11-9-13 0z"/>
<path color="#f7f2e8" d="M2136 1061l12 1 12-17-12 0z"/>
<path color="#b0591c" d="M2515 920l14 1 10-1-14-2z"/>
<path color="#f6debd" d="M2160 1045l12 0 11-16-12 0z"/>
<path class="k" d="M2177 1038l-9-4"/>
<path color="#b65c1d" d="M2600 924l14 2 9 1-14-2z"/>
<path color="#b1591c" d="M2492 921l13 1 10-2-13-1z"/>
<path color="#f3c189" d="M2183 1029l12 1 12-15-12 0z"/>
<path color="#b25a1c" d="M2468 923l14 1 10-3-14-1z"/>
<path color="#b25a1c" d="M2576 922l14 2 10 0-14-2z"/>
<path color="#f0a863" d="M2207 1015l12 1 12-14-13-1z"/>
<path class="k" d="M2225 1009l-10-4"/>
<path color="#b55b1d" d="M2444 926l14 2 10-5-13-1z"/>
<path color="#ec9347" d="M2231 1002l12 0 11-13-12 0z"/>
<path color="#d1f1e6" d="M2125 1079l11 1 12-18-12-1z"/>
<path class="k" d="M2143 1069l-10-3"/>
<path color="#ba5e1d" d="M2421 931l13 1 10-6-13 0z"/>
<path color="#b0591c" d="M2553 921l14 2 9-1-14-2z"/>
<path color="#e9802d" d="M2254 989l13 1 11-12-12-1z"/>
<path class="k" d="M2277 978l-2 0"/>
<path color="#bf611e" d="M2397 936l13 1 11-6-13-1z"/>
<path color="#e17726" d="M2278 978l13 1 11-12-13 0z"/>
<path color="#c4641f" d="M2373 942l13 1 11-7-13-1z"/>
<path color="#d87124" d="M2302 967l12 1 12-10-13 0z"/>
<path color="#ca6821" d="M2349 950l13 1 11-9-13 0z"/>
<path class="k" d="M2356 950l-5-1"/>
<path color="#d16c22" d="M2326 958l12 1 11-9-12-1z"/>
<path color="#f7f0e2" d="M2148 1062l12 1 12-18-12 0z"/>
<path color="#af581c" d="M2529 921l14 2 10-2-14-1z"/>
<path color="#b55b1d" d="M2614 926l14 3 9 0-14-2z"/>
<path color="#f5dab6" d="M2172 1045l12 1 11-16-12-1z"/>
<path class="k" d="M2187 1041l-10-3"/>
<path color="#b0581c" d="M2505 922l14 2 10-3-14-1z"/>
<path color="#f3bc82" d="M2195 1030l12 1 12-15-12-1z"/>
<path color="#b1591c" d="M2482 924l13 2 10-4-13-1z"/>
<path color="#b25a1c" d="M2590 924l14 2 10 0-14-2z"/>
<path color="#efa45e" d="M2219 1016l12 1 12-15-12 0z"/>
<path class="k" d="M2235 1012l-10-3"/>
<path color="#b45b1d" d="M2458 928l13 1 11-5-14-1z"/>
<path color="#ec9043" d="M2243 1002l12 1 12-13-13-1z"/>
<path color="#b85d1d" d="M2434 932l13 1 11-5-14-2z"/>
<path color="#d8f2e8" d="M2136 1080l12 1 12-18-12-1z"/>
<path class="k" d="M2154 1072l-11-3"/>
<path color="#b0591c" d="M2567 923l14 2 9-1-14-2z"/>
<path color="#e87d29" d="M2267 990l12 1 12-12-13-1z"/>
<path class="k" d="M2288 981l-11-3"/>
<path color="#be601e" d="M2410 937l13 1 11-6-13-1z"/>
<path color="#df7626" d="M2291 979l12 1 11-12-12-1z"/>
<path color="#c3631f" d="M2386 943l13 2 11-8-13-1z"/>
<path color="#d77024" d="M2314 968l13 1 11-10-12-1z"/>
<path color="#c96720" d="M2362 951l13 1 11-9-13-1z"/>
<path color="#cf6b22" d="M2338 959l13 1 11-9-13-1z"/>
<path class="k" d="M2361 952l-5-2"/>
<path color="#f7eddd" d="M2160 1063l12 1 12-18-12-1z"/>
<path color="#af581c" d="M2543 923l14 2 10-2-14-2z"/>
<path color="#f5d6af" d="M2184 1046l12 2 11-17-12-1z"/>
<path class="k" d="M2198 1044l-11-3"/>
<path color="#af581c" d="M2519 924l14 2 10-3-14-2z"/>
<path color="#f2b97b" d="M2207 1031l13 1 11-15-12-1z"/>
<path color="#b25a1c" d="M2604 926l15 3 9 0-14-3z"/>
<path color="#b1591c" d="M2495 926l14 2 10-4-14-2z"/>
<path color="#efa25b" d="M2231 1017l13 1 11-15-12-1z"/>
<path class="k" d="M2246 1015l-11-3"/>
<path color="#b35a1d" d="M2471 929l14 2 10-5-13-2z"/>
<path color="#b0591c" d="M2581 925l14 3 9-2-14-2z"/>
<path color="#eb8d3f" d="M2255 1003l13 2 11-14-12-1z"/>
<path color="#b75d1d" d="M2447 933l14 2 10-6-13-1z"/>
<path color="#def3e9" d="M2148 1081l12 2 12-19-12-1z"/>
<path class="k" d="M2164 1076l-10-4"/>
<path color="#e77b28" d="M2279 991l13 1 11-12-12-1z"/>
<path class="k" d="M2299 984l-11-3"/>
<path color="#bd5f1e" d="M2423 938l14 2 10-7-13-1z"/>
<path color="#de7526" d="M2303 980l13 1 11-12-13-1z"/>
<path color="#c2631f" d="M2399 945l14 1 10-8-13-1z"/>
<path color="#d67023" d="M2327 969l13 2 11-11-13-1z"/>
<path color="#c86620" d="M2375 952l14 1 10-8-13-2z"/>
<path color="#ce6b22" d="M2351 960l13 2 11-10-13-1z"/>
<path class="k" d="M2373 954l-12-2"/>
<path color="#af581c" d="M2557 925l14 3 10-3-14-2z"/>
<path color="#f6ebd8" d="M2172 1064l12 1 12-17-12-2z"/>
<path color="#af581c" d="M2533 926l14 2 10-3-14-2z"/>
<path color="#f5d3a9" d="M2196 1048l12 1 12-17-13-1z"/>
<path class="k" d="M2209 1047l-11-3"/>
<path color="#b0591c" d="M2509 928l14 2 10-4-14-2z"/>
<path color="#f2b676" d="M2220 1032l12 2 12-16-13-1z"/>
<path color="#b35a1c" d="M2485 931l14 2 10-5-14-2z"/>
<path color="#eea058" d="M2244 1018l12 2 12-15-13-2z"/>
<path class="k" d="M2258 1018l-12-3"/>
<path color="#b0591c" d="M2595 928l14 3 10-2-15-3z"/>
<path color="#b75c1d" d="M2461 935l14 2 10-6-14-2z"/>
<path color="#eb8b3c" d="M2268 1005l12 1 12-14-13-1z"/>
<path color="#e3f3eb" d="M2160 1083l12 1 12-19-12-1z"/>
<path class="k" d="M2176 1079l-12-3"/>
<path color="#bc5f1e" d="M2437 940l13 2 11-7-14-2z"/>
<path color="#e67b28" d="M2292 992l13 2 11-13-13-1z"/>
<path class="k" d="M2311 987l-12-3"/>
<path color="#c2621e" d="M2413 946l13 2 11-8-14-2z"/>
<path color="#dd7525" d="M2316 981l13 2 11-12-13-2z"/>
<path color="#af581c" d="M2571 928l14 2 10-2-14-3z"/>
<path color="#c76620" d="M2389 953l13 2 11-9-14-1z"/>
<path color="#d56f23" d="M2340 971l13 2 11-11-13-2z"/>
<path color="#ce6a21" d="M2364 962l14 1 11-10-14-1z"/>
<path class="k" d="M2385 957l-12-3"/>
<path color="#f6ead5" d="M2184 1065l12 2 12-18-12-1z"/>
<path color="#af581c" d="M2547 928l14 3 10-3-14-3z"/>
<path color="#f4d0a5" d="M2208 1049l12 2 12-17-12-2z"/>
<path class="k" d="M2221 1050l-12-3"/>
<path color="#b0591c" d="M2523 930l14 3 10-5-14-2z"/>
<path color="#f2b472" d="M2232 1034l13 2 11-16-12-2z"/>
<path color="#b35a1c" d="M2499 933l14 3 10-6-14-2z"/>
<path color="#ee9e55" d="M2256 1020l13 2 11-16-12-1z"/>
<path class="k" d="M2269 1021l-11-3"/>
<path color="#b75c1d" d="M2475 937l13 3 11-7-14-2z"/>
<path color="#ea8a3a" d="M2280 1006l13 2 12-14-13-2z"/>
<path color="#e7f4ec" d="M2172 1084l12 3 12-20-12-2z"/>
<path class="k" d="M2187 1082l-11-3"/>
<path color="#bc5f1e" d="M2450 942l14 3 11-8-14-2z"/>
<path color="#e57a27" d="M2305 994l13 2 11-13-13-2z"/>
<path class="k" d="M2323 990l-12-3"/>
<path color="#c2621e" d="M2426 948l14 3 10-9-13-2z"/>
<path color="#b0591c" d="M2585 930l14 4 10-3-14-3z"/>
<path color="#dd7425" d="M2329 983l13 2 11-12-13-2z"/>
<path color="#c76620" d="M2402 955l13 3 11-10-13-2z"/>
<path color="#d46f23" d="M2353 973l13 2 12-12-14-1z"/>
<path color="#cd6a21" d="M2378 963l13 3 11-11-13-2z"/>
<path class="k" d="M2397 960l-12-3"/>
<path color="#f6e9d2" d="M2196 1067l13 2 11-18-12-2z"/>
<path color="#b0591c" d="M2561 931l14 3 10-4-14-2z"/>
<path color="#f4cfa2" d="M2220 1051l13 2 12-17-13-2z"/>
<path class="k" d="M2231 1053l-10-3"/>
<path color="#b1591c" d="M2537 933l14 3 10-5-14-3z"/>
<path color="#f2b271" d="M2245 1036l12 2 12-16-13-2z"/>
<path color="#b35a1d" d="M2513 936l14 3 10-6-14-3z"/>
<path color="#ee9d54" d="M2269 1022l13 2 11-16-13-2z"/>
<path class="k" d="M2282 1024l-13-3"/>
<path color="#b75c1d" d="M2488 940l14 3 11-7-14-3z"/>
<path color="#ea8939" d="M2293 1008l13 3 12-15-13-2z"/>
<path color="#bc5f1e" d="M2464 945l14 2 10-7-13-3z"/>
<path color="#eaf4ec" d="M2184 1087l13 2 12-20-13-2z"/>
<path class="k" d="M2199 1085l-12-3"/>
<path color="#e57a27" d="M2318 996l13 3 11-14-13-2z"/>
<path class="k" d="M2336 993l-13-3"/>
<path color="#c2621e" d="M2440 951l13 2 11-8-14-3z"/>
<path color="#dc7425" d="M2342 985l13 2 11-12-13-2z"/>
<path color="#c76620" d="M2415 958l14 2 11-9-14-3z"/>
<path color="#d46f23" d="M2366 975l14 2 11-11-13-3z"/>
<path color="#cd6a21" d="M2391 966l13 2 11-10-13-3z"/>
<path class="k" d="M2411 962l-14-2"/>
<path color="#f6e8d1" d="M2209 1069l12 3 12-19-13-2z"/>
<path class="k" d="M2233 1053l-2 0"/>
<path color="#b1591c" d="M2575 934l15 4 9-4-14-4z"/>
<path color="#f4cda0" d="M2233 1053l13 3 11-18-12-2z"/>
<path color="#b25a1c" d="M2551 936l14 3 10-5-14-3z"/>
<path color="#f2b170" d="M2257 1038l13 3 12-17-13-2z"/>
<path color="#b45b1d" d="M2527 939l14 3 10-6-14-3z"/>
<path color="#ee9c53" d="M2282 1024l13 3 11-16-13-3z"/>
<path class="k" d="M2295 1026l-13-2"/>
<path color="#b85d1d" d="M2502 943l14 3 11-7-14-3z"/>
<path color="#ea8838" d="M2306 1011l13 2 12-14-13-3z"/>
<path color="#bd5f1e" d="M2478 947l14 4 10-8-14-3z"/>
<path color="#ebf4ed" d="M2197 1089l12 3 12-20-12-3z"/>
<path class="k" d="M2211 1089l-12-4"/>
<path color="#e57a27" d="M2331 999l13 2 11-14-13-2z"/>
<path class="k" d="M2349 995l-13-2"/>
<path color="#c2621e" d="M2453 953l14 3 11-9-14-2z"/>
<path color="#dc7425" d="M2355 987l14 3 11-13-14-2z"/>
<path color="#c76620" d="M2429 960l14 3 10-10-13-2z"/>
<path color="#d46f23" d="M2380 977l13 3 11-12-13-2z"/>
<path color="#cd6a21" d="M2404 968l14 3 11-11-14-2z"/>
<path class="k" d="M2425 964l-14-2"/>
<path color="#f6e7d0" d="M2221 1072l13 3 12-19-13-3z"/>
<path class="k" d="M2245 1056l-12-3"/>
<path color="#f4cd9f" d="M2246 1056l12 3 12-18-13-3z"/>
<path color="#b35a1c" d="M2565 939l15 4 10-5-15-4z"/>
<path color="#f2b16f" d="M2270 1041l13 3 12-17-13-3z"/>
<path color="#b55b1d" d="M2541 942l14 4 10-7-14-3z"/>
<path color="#ee9c53" d="M2295 1027l13 3 11-17-13-2z"/>
<path class="k" d="M2308 1029l-13-3"/>
<path color="#b95d1d" d="M2516 946l15 3 10-7-14-3z"/>
<path color="#ea8839" d="M2319 1013l13 3 12-15-13-2z"/>
<path color="#bd601e" d="M2492 951l14 3 10-8-14-3z"/>
<path color="#ecf5ed" d="M2209 1092l13 3 12-20-13-3z"/>
<path class="k" d="M2224 1092l-13-3"/>
<path color="#e57a27" d="M2344 1001l13 3 12-14-14-3z"/>
<path class="k" d="M2362 998l-13-3"/>
<path color="#c2631f" d="M2467 956l14 4 11-9-14-4z"/>
<path color="#dc7425" d="M2369 990l13 3 11-13-13-3z"/>
<path color="#c86620" d="M2443 963l13 4 11-11-14-3z"/>
<path color="#d46f23" d="M2393 980l14 3 11-12-14-3z"/>
<path color="#ce6a21" d="M2418 971l14 3 11-11-14-3z"/>
<path class="k" d="M2439 967l-14-3"/>
<path color="#f6e7d0" d="M2234 1075l13 3 11-19-12-3z"/>
<path class="k" d="M2258 1059l-13-3"/>
<path color="#f4cd9f" d="M2258 1059l13 3 12-18-13-3z"/>
<path color="#b75c1d" d="M2555 946l15 4 10-7-15-4z"/>
<path color="#f2b170" d="M2283 1044l13 3 12-17-13-3z"/>
<path color="#ba5e1d" d="M2531 949l14 4 10-7-14-4z"/>
<path color="#ee9c53" d="M2308 1030l13 3 11-17-13-3z"/>
<path class="k" d="M2322 1032l-14-3"/>
<path color="#bf601e" d="M2506 954l14 4 11-9-15-3z"/>
<path color="#ea8939" d="M2332 1016l14 4 11-16-13-3z"/>
<path color="#ebf4ed" d="M2222 1095l13 4 12-21-13-3z"/>
<path class="k" d="M2237 1095l-13-3"/>
<path color="#c3631f" d="M2481 960l14 4 11-10-14-3z"/>
<path color="#e57a27" d="M2357 1004l14 4 11-15-13-3z"/>
<path class="k" d="M2377 1000l-15-2"/>
<path color="#c86720" d="M2456 967l14 3 11-10-14-4z"/>
<path color="#dd7425" d="M2382 993l14 4 11-14-14-3z"/>
<path color="#ce6b22" d="M2432 974l13 4 11-11-13-4z"/>
<path class="k" d="M2454 969l-15-2"/>
<path color="#d56f23" d="M2407 983l14 4 11-13-14-3z"/>
<path color="#f6e8d0" d="M2247 1078l13 4 11-20-13-3z"/>
<path class="k" d="M2271 1062l-13-3"/>
<path color="#f4cea0" d="M2271 1062l13 4 12-19-13-3z"/>
<path class="k" d="M2285 1065l-11-2"/>
<path color="#f2b271" d="M2296 1047l13 4 12-18-13-3z"/>
<path color="#bc5f1e" d="M2545 953l14 5 11-8-15-4z"/>
<path color="#ee9d55" d="M2321 1033l13 4 12-17-14-4z"/>
<path class="k" d="M2336 1035l-14-3"/>
<path color="#c0611e" d="M2520 958l14 4 11-9-14-4z"/>
<path color="#eb8a3b" d="M2346 1020l13 4 12-16-14-4z"/>
<path color="#c4641f" d="M2495 964l14 4 11-10-14-4z"/>
<path color="#eaf4ec" d="M2235 1099l13 4 12-21-13-4z"/>
<path class="k" d="M2251 1098l-14-3"/>
<path color="#e67b28" d="M2371 1008l13 4 12-15-14-4z"/>
<path class="k" d="M2391 1003l-14-3"/>
<path color="#c96720" d="M2470 970l14 4 11-10-14-4z"/>
<path class="k" d="M2486 973l-10-1"/>
<path color="#de7525" d="M2396 997l13 4 12-14-14-4z"/>
<path color="#cf6b22" d="M2445 978l14 4 11-12-14-3z"/>
<path class="k" d="M2470 971l-16-2"/>
<path color="#d67023" d="M2421 987l13 4 11-13-13-4z"/>
<path color="#f6e8d2" d="M2260 1082l13 4 11-20-13-4z"/>
<path class="k" d="M2274 1063l-3-1"/>
<path color="#f4cfa3" d="M2284 1066l14 4 11-19-13-4z"/>
<path class="k" d="M2299 1068l-14-3"/>
<path color="#f2b472" d="M2309 1051l14 4 11-18-13-4z"/>
<path color="#ee9f57" d="M2334 1037l14 4 11-17-13-4z"/>
<path class="k" d="M2350 1037l-14-2"/>
<path color="#c2621e" d="M2534 962l15 5 10-9-14-5z"/>
<path color="#eb8c3d" d="M2359 1024l14 4 11-16-13-4z"/>
<path color="#c6651f" d="M2509 968l15 4 10-10-14-4z"/>
<path color="#e7f4ec" d="M2248 1103l13 4 12-21-13-4z"/>
<path class="k" d="M2264 1101l-13-3"/>
<path color="#e77b28" d="M2384 1012l14 4 11-15-13-4z"/>
<path class="k" d="M2406 1005l-15-2"/>
<path color="#cb6821" d="M2484 974l15 5 10-11-14-4z"/>
<path class="k" d="M2502 975l-16-2"/>
<path color="#df7626" d="M2409 1001l14 4 11-14-13-4z"/>
<path color="#d06c22" d="M2459 982l15 5 10-13-14-4z"/>
<path class="k" d="M2476 972l-6-1"/>
<path color="#d77124" d="M2434 991l14 4 11-13-14-4z"/>
<path color="#f6e9d4" d="M2273 1086l13 4 12-20-14-4z"/>
<path color="#f5d1a6" d="M2298 1070l13 4 12-19-14-4z"/>
<path class="k" d="M2313 1071l-14-3"/>
<path color="#f2b676" d="M2323 1055l13 4 12-18-14-4z"/>
<path color="#efa159" d="M2348 1041l13 4 12-17-14-4z"/>
<path class="k" d="M2365 1040l-15-3"/>
<path color="#eb8e40" d="M2373 1028l14 4 11-16-14-4z"/>
<path color="#c86620" d="M2524 972l14 5 11-10-15-5z"/>
<path color="#e87d29" d="M2398 1016l14 5 11-16-14-4z"/>
<path class="k" d="M2421 1007l-15-2"/>
<path color="#e3f3eb" d="M2261 1107l13 5 12-22-13-4z"/>
<path class="k" d="M2279 1104l-15-3"/>
<path color="#cc6921" d="M2499 979l14 5 11-12-15-4z"/>
<path class="k" d="M2520 977l-18-2"/>
<path color="#e07726" d="M2423 1005l14 5 11-15-14-4z"/>
<path color="#d26d22" d="M2474 987l14 4 11-12-15-5z"/>
<path color="#d97224" d="M2448 995l15 5 11-13-15-5z"/>
<path color="#f6ebd7" d="M2286 1090l13 5 12-21-13-4z"/>
<path color="#f5d4ab" d="M2311 1074l13 5 12-20-13-4z"/>
<path class="k" d="M2328 1074l-15-3"/>
<path color="#f2b97b" d="M2336 1059l14 5 11-19-13-4z"/>
<path color="#efa35d" d="M2361 1045l14 5 12-18-14-4z"/>
<path class="k" d="M2380 1042l-15-2"/>
<path color="#ec9144" d="M2387 1032l14 5 11-16-14-5z"/>
<path color="#e97f2d" d="M2412 1021l14 5 11-16-14-5z"/>
<path class="k" d="M2437 1010l-16-3"/>
<path color="#ce6b22" d="M2513 984l15 5 10-12-14-5z"/>
<path class="k" d="M2537 979l-17-2"/>
<path color="#def3e9" d="M2274 1112l13 5 12-22-13-5z"/>
<path class="k" d="M2293 1107l-14-3"/>
<path color="#e27826" d="M2437 1010l14 5 12-15-15-5z"/>
<path class="k" d="M2454 1012l-16-2"/>
<path color="#d46e23" d="M2488 991l14 5 11-12-14-5z"/>
<path color="#da7325" d="M2463 1000l14 5 11-14-14-4z"/>
<path color="#f7eddb" d="M2299 1095l14 5 11-21-13-5z"/>
<path color="#f5d7b1" d="M2324 1079l14 5 12-20-14-5z"/>
<path class="k" d="M2343 1076l-15-2"/>
<path color="#f3bc81" d="M2350 1064l14 5 11-19-14-5z"/>
<path color="#f0a661" d="M2375 1050l14 6 12-19-14-5z"/>
<path class="k" d="M2396 1045l-16-3"/>
<path color="#ec9448" d="M2401 1037l14 6 11-17-14-5z"/>
<path color="#e98331" d="M2426 1026l14 5 11-16-14-5z"/>
<path class="k" d="M2438 1010l-1 0"/>
<path color="#d8f2e8" d="M2287 1117l14 6 12-23-14-5z"/>
<path class="k" d="M2308 1110l-15-3"/>
<path color="#d67023" d="M2502 996l15 6 11-13-15-5z"/>
<path color="#e47927" d="M2451 1015l15 5 11-15-14-5z"/>
<path class="k" d="M2470 1014l-16-2"/>
<path color="#dc7425" d="M2477 1005l14 6 11-15-14-5z"/>
<path color="#f7efe0" d="M2313 1100l13 6 12-22-14-5z"/>
<path color="#f5dbb8" d="M2338 1084l14 6 12-21-14-5z"/>
<path class="k" d="M2358 1079l-15-3"/>
<path color="#f3c089" d="M2364 1069l13 6 12-19-14-6z"/>
<path color="#f0aa66" d="M2389 1056l14 5 12-18-14-6z"/>
<path class="k" d="M2412 1047l-16-2"/>
<path color="#ed984d" d="M2415 1043l14 5 11-17-14-5z"/>
<path color="#ea8736" d="M2440 1031l14 6 12-17-15-5z"/>
<path color="#d1f1e6" d="M2301 1123l13 6 12-23-13-6z"/>
<path class="k" d="M2323 1112l-15-2"/>
<path color="#e67a27" d="M2466 1020l14 6 11-15-14-6z"/>
<path class="k" d="M2487 1016l-17-2"/>
<path color="#df7626" d="M2491 1011l15 5 11-14-15-6z"/>
<path color="#f7f1e6" d="M2326 1106l14 6 12-22-14-6z"/>
<path color="#f6e0c0" d="M2352 1090l14 6 11-21-13-6z"/>
<path class="k" d="M2374 1082l-16-3"/>
<path color="#f3c591" d="M2377 1075l14 6 12-20-14-5z"/>
<path color="#f1ae6b" d="M2403 1061l14 6 12-19-14-5z"/>
<path class="k" d="M2428 1050l-16-3"/>
<path color="#ee9c53" d="M2429 1048l14 7 11-18-14-6z"/>
<path class="k" d="M2445 1052l-12-2"/>
<path color="#eb8b3c" d="M2454 1037l15 6 11-17-14-6z"/>
<path color="#e87c28" d="M2480 1026l15 6 11-16-15-5z"/>
<path class="k" d="M2505 1018l-18-2"/>
<path color="#c9f0e3" d="M2314 1129l14 6 12-23-14-6z"/>
<path class="k" d="M2338 1115l-15-3"/>
<path color="#f7f4ec" d="M2340 1112l14 6 12-22-14-6z"/>
<path class="k" d="M2354 1118l0 0"/>
<path color="#f6e4c8" d="M2366 1096l14 6 11-21-14-6z"/>
<path class="k" d="M2390 1084l-16-2"/>
<path color="#f4cb9b" d="M2391 1081l15 7 11-21-14-6z"/>
<path class="k" d="M2406 1087l-3-1"/>
<path color="#f2b371" d="M2417 1067l15 7 11-19-14-7z"/>
<path class="k" d="M2433 1050l-5 0"/>
<path color="#efa159" d="M2443 1055l14 6 12-18-15-6z"/>
<path class="k" d="M2462 1054l-17-2"/>
<path color="#ec9043" d="M2469 1043l14 6 12-17-15-6z"/>
<path color="#c0efe1" d="M2328 1135l14 7 12-24-14-6z"/>
<path class="k" d="M2354 1118l-16-3"/>
<path color="#f2f5ef" d="M2354 1118l14 7 12-23-14-6z"/>
<path class="k" d="M2370 1121l-16-3"/>
<path color="#f6e7d0" d="M2380 1102l14 7 12-21-15-7z"/>
<path class="k" d="M2403 1086l-13-2"/>
<path color="#f5d1a6" d="M2406 1088l14 6 12-20-15-7z"/>
<path class="k" d="M2423 1089l-17-2"/>
<path color="#f2b97b" d="M2432 1074l14 7 11-20-14-6z"/>
<path color="#efa660" d="M2457 1061l15 7 11-19-14-6z"/>
<path class="k" d="M2479 1056l-17-2"/>
<path color="#b5edde" d="M2342 1142l14 7 12-24-14-7z"/>
<path color="#e8f4ec" d="M2368 1125l14 7 12-23-14-7z"/>
<path class="k" d="M2386 1124l-16-3"/>
<path color="#f6ebd8" d="M2394 1109l14 7 12-22-14-6z"/>
<path color="#f5d8b2" d="M2420 1094l14 8 12-21-14-7z"/>
<path class="k" d="M2440 1092l-17-3"/>
<path color="#f3c088" d="M2446 1081l14 7 12-20-15-7z"/>
<path color="#aaecdb" d="M2356 1149l14 7 12-24-14-7z"/>
<path color="#dcf2e9" d="M2382 1132l14 8 12-24-14-7z"/>
<path class="k" d="M2403 1126l-17-2"/>
<path color="#f7efe1" d="M2408 1116l15 8 11-22-14-8z"/>
<path color="#f6dfbf" d="M2434 1102l15 7 11-21-14-7z"/>
<path class="k" d="M2457 1094l-17-2"/>
<path color="#a3ead8" d="M2370 1156l14 8 12-24-14-8z"/>
<path class="k" d="M2385 1163l-4-1"/>
<path color="#cff1e5" d="M2396 1140l15 8 12-24-15-8z"/>
<path class="k" d="M2420 1129l-17-3"/>
<path color="#f7f4eb" d="M2423 1124l14 8 12-23-15-7z"/>
<path class="k" d="M2437 1132l-1-1"/>
<path color="#9be7d4" d="M2384 1164l15 9 12-25-15-8z"/>
<path class="k" d="M2402 1166l-17-3"/>
<path color="#c1efe1" d="M2411 1148l14 8 12-24-14-8z"/>
<path class="k" d="M2436 1131l-16-2"/>
<path color="#93e5d0" d="M2399 1173l14 9 12-26-14-8z"/>
<path class="k" d="M2419 1169l-17-3"/>
</g>
<text x="505.4" y="330.8" font-size="3.8" font-weight="bold" fill="#333" text-anchor="middle" transform="rotate(-22.0 505.4 330.8)">4.0</text>
<text x="528.3" y="338.8" font-size="3.8" font-weight="bold" fill="#333" text-anchor="middle" transform="rotate(-22.0 528.3 338.8)">4.5</text>
<text x="551.2" y="346.8" font-size="3.8" font-weight="bold" fill="#333" text-anchor="middle" transform="rotate(-22.0 551.2 346.8)">5.0</text>
<text x="574.1" y="354.9" font-size="3.8" font-weight="bold" fill="#333" text-anchor="middle" transform="rotate(-22.0 574.1 354.9)">5.5</text>
<text x="597.0" y="362.9" font-size="3.8" font-weight="bold" fill="#333" text-anchor="middle" transform="rotate(-22.0 597.0 362.9)">6.0</text>
<text x="608.8" y="363.5" font-size="3.8" font-weight="bold" fill="#333" text-anchor="middle" transform="rotate(-27.4 608.8 363.5)">3.0</text>
<text x="626.4" y="354.4" font-size="3.8" font-weight="bold" fill="#333" text-anchor="middle" transform="rotate(-27.4 626.4 354.4)">3.5</text>
<text x="644.0" y="345.2" font-size="3.8" font-weight="bold" fill="#333" text-anchor="middle" transform="rotate(-27.4 644.0 345.2)">4.0</text>
<text x="661.7" y="336.1" font-size="3.8" font-weight="bold" fill="#333" text-anchor="middle" transform="rotate(-27.4 661.7 336.1)">4.5</text>
<text x="679.3" y="327.0" font-size="3.8" font-weight="bold" fill="#333" text-anchor="middle" transform="rotate(-27.4 679.3 327.0)">5.0</text>
<text x="539.4" y="349.8" font-size="7.2" font-style="italic" fill="#222" text-anchor="middle" dominant-baseline="central" transform="rotate(19.3 539.4 349.8)">X₁: Inoculation size (%)</text>
<text x="659.8" y="344.8" font-size="6.4" font-style="italic" fill="#222" text-anchor="middle" dominant-baseline="central" transform="rotate(-27.4 659.8 344.8)">X₂: Time (day)</text>
<text x="0" y="0" font-size="7.8" font-weight="bold" fill="#111" text-anchor="middle" dominant-baseline="central" transform="translate(490.5 274.3) rotate(90)">AA-N (g/100 mL)</text>
<text x="474.5" y="205.3" font-size="20" font-weight="bold">F</text>
<line x1="42.50" y1="15.40" x2="42.50" y2="136.40" stroke="#000" stroke-width="1.3"/>
<line x1="41.85" y1="136.40" x2="197.00" y2="136.40" stroke="#000" stroke-width="1.3"/>
<line x1="37.90" y1="15.40" x2="42.50" y2="15.40" stroke="#000" stroke-width="1.3"/>
<text x="36.40" y="16.30" font-size="7.7" font-weight="bold" text-anchor="end" dominant-baseline="central">0.48</text>
<line x1="37.90" y1="35.58" x2="42.50" y2="35.58" stroke="#000" stroke-width="1.3"/>
<text x="36.40" y="36.48" font-size="7.7" font-weight="bold" text-anchor="end" dominant-baseline="central">0.47</text>
<line x1="37.90" y1="55.77" x2="42.50" y2="55.77" stroke="#000" stroke-width="1.3"/>
<text x="36.40" y="56.67" font-size="7.7" font-weight="bold" text-anchor="end" dominant-baseline="central">0.46</text>
<line x1="37.90" y1="75.95" x2="42.50" y2="75.95" stroke="#000" stroke-width="1.3"/>
<text x="36.40" y="76.85" font-size="7.7" font-weight="bold" text-anchor="end" dominant-baseline="central">0.45</text>
<line x1="37.90" y1="96.13" x2="42.50" y2="96.13" stroke="#000" stroke-width="1.3"/>
<text x="36.40" y="97.03" font-size="7.7" font-weight="bold" text-anchor="end" dominant-baseline="central">0.44</text>
<line x1="37.90" y1="116.32" x2="42.50" y2="116.32" stroke="#000" stroke-width="1.3"/>
<text x="36.40" y="117.22" font-size="7.7" font-weight="bold" text-anchor="end" dominant-baseline="central">0.43</text>
<line x1="37.90" y1="136.50" x2="42.50" y2="136.50" stroke="#000" stroke-width="1.3"/>
<text x="36.40" y="137.40" font-size="7.7" font-weight="bold" text-anchor="end" dominant-baseline="central">0.42</text>
<line x1="56.10" y1="136.40" x2="56.10" y2="141.40" stroke="#000" stroke-width="1.3"/>
<text x="56.10" y="147.00" font-size="7.7" font-weight="bold" text-anchor="middle" dominant-baseline="central">0.10</text>
<line x1="77.15" y1="136.40" x2="77.15" y2="141.40" stroke="#000" stroke-width="1.3"/>
<text x="77.15" y="147.00" font-size="7.7" font-weight="bold" text-anchor="middle" dominant-baseline="central">0.40</text>
<line x1="98.20" y1="136.40" x2="98.20" y2="141.40" stroke="#000" stroke-width="1.3"/>
<text x="98.20" y="147.00" font-size="7.7" font-weight="bold" text-anchor="middle" dominant-baseline="central">0.70</text>
<line x1="119.25" y1="136.40" x2="119.25" y2="141.40" stroke="#000" stroke-width="1.3"/>
<text x="119.25" y="147.00" font-size="7.7" font-weight="bold" text-anchor="middle" dominant-baseline="central">1.00</text>
<line x1="140.30" y1="136.40" x2="140.30" y2="141.40" stroke="#000" stroke-width="1.3"/>
<text x="140.30" y="147.00" font-size="7.7" font-weight="bold" text-anchor="middle" dominant-baseline="central">1.30</text>
<line x1="161.35" y1="136.40" x2="161.35" y2="141.40" stroke="#000" stroke-width="1.3"/>
<text x="161.35" y="147.00" font-size="7.7" font-weight="bold" text-anchor="middle" dominant-baseline="central">1.60</text>
<line x1="182.40" y1="136.40" x2="182.40" y2="141.40" stroke="#000" stroke-width="1.3"/>
<text x="182.40" y="147.00" font-size="7.7" font-weight="bold" text-anchor="middle" dominant-baseline="central">1.90</text>
<path d="M56.10,111.00 L77.15,89.70 L98.20,75.10 L119.25,57.20 L140.30,34.00 L161.35,72.40 L182.40,97.20" fill="none" stroke="#000" stroke-width="1.3" stroke-linejoin="round"/>
<line x1="56.10" y1="109.00" x2="56.10" y2="113.00" stroke="#000" stroke-width="0.8"/>
<line x1="54.50" y1="109.00" x2="57.70" y2="109.00" stroke="#000" stroke-width="0.8"/>
<line x1="54.50" y1="113.00" x2="57.70" y2="113.00" stroke="#000" stroke-width="0.8"/>
<circle cx="56.10" cy="111.00" r="1.7" fill="#000"/>
<text x="56.10" y="105.80" font-size="8.3" text-anchor="middle">e</text>
<line x1="77.15" y1="87.70" x2="77.15" y2="91.70" stroke="#000" stroke-width="0.8"/>
<line x1="75.55" y1="87.70" x2="78.75" y2="87.70" stroke="#000" stroke-width="0.8"/>
<line x1="75.55" y1="91.70" x2="78.75" y2="91.70" stroke="#000" stroke-width="0.8"/>
<circle cx="77.15" cy="89.70" r="1.7" fill="#000"/>
<text x="77.15" y="84.50" font-size="8.3" text-anchor="middle">d</text>
<line x1="98.20" y1="70.10" x2="98.20" y2="80.10" stroke="#000" stroke-width="0.8"/>
<line x1="96.60" y1="70.10" x2="99.80" y2="70.10" stroke="#000" stroke-width="0.8"/>
<line x1="96.60" y1="80.10" x2="99.80" y2="80.10" stroke="#000" stroke-width="0.8"/>
<circle cx="98.20" cy="75.10" r="1.7" fill="#000"/>
<text x="98.20" y="66.90" font-size="8.3" text-anchor="middle">c</text>
<line x1="119.25" y1="53.00" x2="119.25" y2="61.40" stroke="#000" stroke-width="0.8"/>
<line x1="117.65" y1="53.00" x2="120.85" y2="53.00" stroke="#000" stroke-width="0.8"/>
<line x1="117.65" y1="61.40" x2="120.85" y2="61.40" stroke="#000" stroke-width="0.8"/>
<circle cx="119.25" cy="57.20" r="1.7" fill="#000"/>
<text x="119.25" y="49.80" font-size="8.3" text-anchor="middle">b</text>
<line x1="140.30" y1="32.50" x2="140.30" y2="35.50" stroke="#000" stroke-width="0.8"/>
<line x1="138.70" y1="32.50" x2="141.90" y2="32.50" stroke="#000" stroke-width="0.8"/>
<line x1="138.70" y1="35.50" x2="141.90" y2="35.50" stroke="#000" stroke-width="0.8"/>
<circle cx="140.30" cy="34.00" r="1.7" fill="#000"/>
<text x="140.30" y="29.30" font-size="8.3" text-anchor="middle">a</text>
<line x1="161.35" y1="71.30" x2="161.35" y2="73.50" stroke="#000" stroke-width="0.8"/>
<line x1="159.75" y1="71.30" x2="162.95" y2="71.30" stroke="#000" stroke-width="0.8"/>
<line x1="159.75" y1="73.50" x2="162.95" y2="73.50" stroke="#000" stroke-width="0.8"/>
<circle cx="161.35" cy="72.40" r="1.7" fill="#000"/>
<text x="161.35" y="67.70" font-size="8.3" text-anchor="middle">c</text>
<line x1="182.40" y1="96.10" x2="182.40" y2="98.30" stroke="#000" stroke-width="0.8"/>
<line x1="180.80" y1="96.10" x2="184.00" y2="96.10" stroke="#000" stroke-width="0.8"/>
<line x1="180.80" y1="98.30" x2="184.00" y2="98.30" stroke="#000" stroke-width="0.8"/>
<circle cx="182.40" cy="97.20" r="1.7" fill="#000"/>
<text x="182.40" y="92.50" font-size="8.3" text-anchor="middle">d</text>
<text x="15.10" y="76.90" font-size="8.6" font-weight="bold" text-anchor="middle" dominant-baseline="central" transform="rotate(-90 15.10 76.90)">AA-N (g/100 mL)</text>
<text x="119.40" y="159.70" font-size="8.6" font-weight="bold" text-anchor="middle" dominant-baseline="central">Glucose dosage (%)</text>
<text x="0.50" y="14.80" font-size="20" font-weight="bold">A</text>
<line x1="278.40" y1="22.50" x2="278.40" y2="143.40" stroke="#000" stroke-width="1.3"/>
<line x1="277.75" y1="143.40" x2="433.20" y2="143.40" stroke="#000" stroke-width="1.3"/>
<line x1="273.80" y1="22.50" x2="278.40" y2="22.50" stroke="#000" stroke-width="1.3"/>
<text x="272.30" y="23.40" font-size="7.7" font-weight="bold" text-anchor="end" dominant-baseline="central">0.47</text>
<line x1="273.80" y1="42.65" x2="278.40" y2="42.65" stroke="#000" stroke-width="1.3"/>
<text x="272.30" y="43.55" font-size="7.7" font-weight="bold" text-anchor="end" dominant-baseline="central">0.46</text>
<line x1="273.80" y1="62.80" x2="278.40" y2="62.80" stroke="#000" stroke-width="1.3"/>
<text x="272.30" y="63.70" font-size="7.7" font-weight="bold" text-anchor="end" dominant-baseline="central">0.45</text>
<line x1="273.80" y1="82.95" x2="278.40" y2="82.95" stroke="#000" stroke-width="1.3"/>
<text x="272.30" y="83.85" font-size="7.7" font-weight="bold" text-anchor="end" dominant-baseline="central">0.44</text>
<line x1="273.80" y1="103.10" x2="278.40" y2="103.10" stroke="#000" stroke-width="1.3"/>
<text x="272.30" y="104.00" font-size="7.7" font-weight="bold" text-anchor="end" dominant-baseline="central">0.43</text>
<line x1="273.80" y1="123.25" x2="278.40" y2="123.25" stroke="#000" stroke-width="1.3"/>
<text x="272.30" y="124.15" font-size="7.7" font-weight="bold" text-anchor="end" dominant-baseline="central">0.42</text>
<line x1="273.80" y1="143.40" x2="278.40" y2="143.40" stroke="#000" stroke-width="1.3"/>
<text x="272.30" y="144.30" font-size="7.7" font-weight="bold" text-anchor="end" dominant-baseline="central">0.41</text>
<line x1="292.10" y1="143.40" x2="292.10" y2="148.40" stroke="#000" stroke-width="1.3"/>
<text x="292.10" y="154.00" font-size="7.7" font-weight="bold" text-anchor="middle" dominant-baseline="central">2</text>
<line x1="313.20" y1="143.40" x2="313.20" y2="148.40" stroke="#000" stroke-width="1.3"/>
<text x="313.20" y="154.00" font-size="7.7" font-weight="bold" text-anchor="middle" dominant-baseline="central">3</text>
<line x1="334.30" y1="143.40" x2="334.30" y2="148.40" stroke="#000" stroke-width="1.3"/>
<text x="334.30" y="154.00" font-size="7.7" font-weight="bold" text-anchor="middle" dominant-baseline="central">4</text>
<line x1="355.40" y1="143.40" x2="355.40" y2="148.40" stroke="#000" stroke-width="1.3"/>
<text x="355.40" y="154.00" font-size="7.7" font-weight="bold" text-anchor="middle" dominant-baseline="central">5</text>
<line x1="376.50" y1="143.40" x2="376.50" y2="148.40" stroke="#000" stroke-width="1.3"/>
<text x="376.50" y="154.00" font-size="7.7" font-weight="bold" text-anchor="middle" dominant-baseline="central">6</text>
<line x1="397.60" y1="143.40" x2="397.60" y2="148.40" stroke="#000" stroke-width="1.3"/>
<text x="397.60" y="154.00" font-size="7.7" font-weight="bold" text-anchor="middle" dominant-baseline="central">7</text>
<line x1="418.70" y1="143.40" x2="418.70" y2="148.40" stroke="#000" stroke-width="1.3"/>
<text x="418.70" y="154.00" font-size="7.7" font-weight="bold" text-anchor="middle" dominant-baseline="central">8</text>
<path d="M292.10,99.70 L313.20,77.90 L334.30,60.10 L355.40,50.70 L376.50,62.10 L397.60,73.90 L418.70,106.20" fill="none" stroke="#000" stroke-width="1.3" stroke-linejoin="round"/>
<line x1="292.10" y1="95.50" x2="292.10" y2="103.90" stroke="#000" stroke-width="0.8"/>
<line x1="290.50" y1="95.50" x2="293.70" y2="95.50" stroke="#000" stroke-width="0.8"/>
<line x1="290.50" y1="103.90" x2="293.70" y2="103.90" stroke="#000" stroke-width="0.8"/>
<circle cx="292.10" cy="99.70" r="1.7" fill="#000"/>
<text x="292.10" y="92.30" font-size="8.3" text-anchor="middle">c</text>
<line x1="313.20" y1="76.80" x2="313.20" y2="79.00" stroke="#000" stroke-width="0.8"/>
<line x1="311.60" y1="76.80" x2="314.80" y2="76.80" stroke="#000" stroke-width="0.8"/>
<line x1="311.60" y1="79.00" x2="314.80" y2="79.00" stroke="#000" stroke-width="0.8"/>
<circle cx="313.20" cy="77.90" r="1.7" fill="#000"/>
<text x="313.20" y="73.20" font-size="8.3" text-anchor="middle">b</text>
<line x1="334.30" y1="56.70" x2="334.30" y2="63.50" stroke="#000" stroke-width="0.8"/>
<line x1="332.70" y1="56.70" x2="335.90" y2="56.70" stroke="#000" stroke-width="0.8"/>
<line x1="332.70" y1="63.50" x2="335.90" y2="63.50" stroke="#000" stroke-width="0.8"/>
<circle cx="334.30" cy="60.10" r="1.7" fill="#000"/>
<text x="334.30" y="53.50" font-size="8.3" text-anchor="middle">ab</text>
<line x1="355.40" y1="42.00" x2="355.40" y2="59.40" stroke="#000" stroke-width="0.8"/>
<line x1="353.80" y1="42.00" x2="357.00" y2="42.00" stroke="#000" stroke-width="0.8"/>
<line x1="353.80" y1="59.40" x2="357.00" y2="59.40" stroke="#000" stroke-width="0.8"/>
<circle cx="355.40" cy="50.70" r="1.7" fill="#000"/>
<text x="355.40" y="38.80" font-size="8.3" text-anchor="middle">a</text>
<line x1="376.50" y1="54.20" x2="376.50" y2="70.00" stroke="#000" stroke-width="0.8"/>
<line x1="374.90" y1="54.20" x2="378.10" y2="54.20" stroke="#000" stroke-width="0.8"/>
<line x1="374.90" y1="70.00" x2="378.10" y2="70.00" stroke="#000" stroke-width="0.8"/>
<circle cx="376.50" cy="62.10" r="1.7" fill="#000"/>
<text x="376.50" y="51.00" font-size="8.3" text-anchor="middle">ab</text>
<line x1="397.60" y1="70.20" x2="397.60" y2="77.60" stroke="#000" stroke-width="0.8"/>
<line x1="396.00" y1="70.20" x2="399.20" y2="70.20" stroke="#000" stroke-width="0.8"/>
<line x1="396.00" y1="77.60" x2="399.20" y2="77.60" stroke="#000" stroke-width="0.8"/>
<circle cx="397.60" cy="73.90" r="1.7" fill="#000"/>
<text x="397.60" y="67.00" font-size="8.3" text-anchor="middle">ab</text>
<line x1="418.70" y1="105.10" x2="418.70" y2="107.30" stroke="#000" stroke-width="0.8"/>
<line x1="417.10" y1="105.10" x2="420.30" y2="105.10" stroke="#000" stroke-width="0.8"/>
<line x1="417.10" y1="107.30" x2="420.30" y2="107.30" stroke="#000" stroke-width="0.8"/>
<circle cx="418.70" cy="106.20" r="1.7" fill="#000"/>
<text x="418.70" y="101.50" font-size="8.3" text-anchor="middle">c</text>
<text x="251.10" y="84.20" font-size="8.6" font-weight="bold" text-anchor="middle" dominant-baseline="central" transform="rotate(-90 251.10 84.20)">AA-N (g/100 mL)</text>
<text x="355.30" y="167.60" font-size="8.6" font-weight="bold" text-anchor="middle" dominant-baseline="central">Inoculation size (%)</text>
<text x="237.20" y="15.20" font-size="20" font-weight="bold">B</text>
<line x1="518.00" y1="22.00" x2="518.00" y2="142.20" stroke="#000" stroke-width="1.3"/>
<line x1="517.35" y1="142.20" x2="672.60" y2="142.20" stroke="#000" stroke-width="1.3"/>
<line x1="513.40" y1="22.00" x2="518.00" y2="22.00" stroke="#000" stroke-width="1.3"/>
<text x="511.90" y="22.90" font-size="7.7" font-weight="bold" text-anchor="end" dominant-baseline="central">0.46</text>
<line x1="513.40" y1="46.04" x2="518.00" y2="46.04" stroke="#000" stroke-width="1.3"/>
<text x="511.90" y="46.94" font-size="7.7" font-weight="bold" text-anchor="end" dominant-baseline="central">0.44</text>
<line x1="513.40" y1="70.08" x2="518.00" y2="70.08" stroke="#000" stroke-width="1.3"/>
<text x="511.90" y="70.98" font-size="7.7" font-weight="bold" text-anchor="end" dominant-baseline="central">0.42</text>
<line x1="513.40" y1="94.12" x2="518.00" y2="94.12" stroke="#000" stroke-width="1.3"/>
<text x="511.90" y="95.02" font-size="7.7" font-weight="bold" text-anchor="end" dominant-baseline="central">0.40</text>
<line x1="513.40" y1="118.16" x2="518.00" y2="118.16" stroke="#000" stroke-width="1.3"/>
<text x="511.90" y="119.06" font-size="7.7" font-weight="bold" text-anchor="end" dominant-baseline="central">0.38</text>
<line x1="513.40" y1="142.20" x2="518.00" y2="142.20" stroke="#000" stroke-width="1.3"/>
<text x="511.90" y="143.10" font-size="7.7" font-weight="bold" text-anchor="end" dominant-baseline="central">0.36</text>
<line x1="531.50" y1="142.20" x2="531.50" y2="147.20" stroke="#000" stroke-width="1.3"/>
<text x="531.50" y="152.80" font-size="7.7" font-weight="bold" text-anchor="middle" dominant-baseline="central">1</text>
<line x1="552.55" y1="142.20" x2="552.55" y2="147.20" stroke="#000" stroke-width="1.3"/>
<text x="552.55" y="152.80" font-size="7.7" font-weight="bold" text-anchor="middle" dominant-baseline="central">2</text>
<line x1="573.60" y1="142.20" x2="573.60" y2="147.20" stroke="#000" stroke-width="1.3"/>
<text x="573.60" y="152.80" font-size="7.7" font-weight="bold" text-anchor="middle" dominant-baseline="central">3</text>
<line x1="594.65" y1="142.20" x2="594.65" y2="147.20" stroke="#000" stroke-width="1.3"/>
<text x="594.65" y="152.80" font-size="7.7" font-weight="bold" text-anchor="middle" dominant-baseline="central">4</text>
<line x1="615.70" y1="142.20" x2="615.70" y2="147.20" stroke="#000" stroke-width="1.3"/>
<text x="615.70" y="152.80" font-size="7.7" font-weight="bold" text-anchor="middle" dominant-baseline="central">5</text>
<line x1="636.75" y1="142.20" x2="636.75" y2="147.20" stroke="#000" stroke-width="1.3"/>
<text x="636.75" y="152.80" font-size="7.7" font-weight="bold" text-anchor="middle" dominant-baseline="central">6</text>
<line x1="657.80" y1="142.20" x2="657.80" y2="147.20" stroke="#000" stroke-width="1.3"/>
<text x="657.80" y="152.80" font-size="7.7" font-weight="bold" text-anchor="middle" dominant-baseline="central">7</text>
<path d="M531.50,130.80 L552.55,67.80 L573.60,60.80 L594.65,29.20 L615.70,46.30 L636.75,49.00 L657.80,57.10" fill="none" stroke="#000" stroke-width="1.3" stroke-linejoin="round"/>
<line x1="531.50" y1="129.70" x2="531.50" y2="131.90" stroke="#000" stroke-width="0.8"/>
<line x1="529.90" y1="129.70" x2="533.10" y2="129.70" stroke="#000" stroke-width="0.8"/>
<line x1="529.90" y1="131.90" x2="533.10" y2="131.90" stroke="#000" stroke-width="0.8"/>
<circle cx="531.50" cy="130.80" r="1.7" fill="#000"/>
<text x="531.50" y="126.10" font-size="8.3" text-anchor="middle">e</text>
<line x1="552.55" y1="66.70" x2="552.55" y2="68.90" stroke="#000" stroke-width="0.8"/>
<line x1="550.95" y1="66.70" x2="554.15" y2="66.70" stroke="#000" stroke-width="0.8"/>
<line x1="550.95" y1="68.90" x2="554.15" y2="68.90" stroke="#000" stroke-width="0.8"/>
<circle cx="552.55" cy="67.80" r="1.7" fill="#000"/>
<text x="552.55" y="63.10" font-size="8.3" text-anchor="middle">d</text>
<line x1="573.60" y1="59.30" x2="573.60" y2="62.30" stroke="#000" stroke-width="0.8"/>
<line x1="572.00" y1="59.30" x2="575.20" y2="59.30" stroke="#000" stroke-width="0.8"/>
<line x1="572.00" y1="62.30" x2="575.20" y2="62.30" stroke="#000" stroke-width="0.8"/>
<circle cx="573.60" cy="60.80" r="1.7" fill="#000"/>
<text x="573.60" y="56.10" font-size="8.3" text-anchor="middle">c</text>
<line x1="594.65" y1="28.10" x2="594.65" y2="30.30" stroke="#000" stroke-width="0.8"/>
<line x1="593.05" y1="28.10" x2="596.25" y2="28.10" stroke="#000" stroke-width="0.8"/>
<line x1="593.05" y1="30.30" x2="596.25" y2="30.30" stroke="#000" stroke-width="0.8"/>
<circle cx="594.65" cy="29.20" r="1.7" fill="#000"/>
<text x="594.65" y="24.50" font-size="8.3" text-anchor="middle">a</text>
<line x1="615.70" y1="45.20" x2="615.70" y2="47.40" stroke="#000" stroke-width="0.8"/>
<line x1="614.10" y1="45.20" x2="617.30" y2="45.20" stroke="#000" stroke-width="0.8"/>
<line x1="614.10" y1="47.40" x2="617.30" y2="47.40" stroke="#000" stroke-width="0.8"/>
<circle cx="615.70" cy="46.30" r="1.7" fill="#000"/>
<text x="615.70" y="41.60" font-size="8.3" text-anchor="middle">b</text>
<line x1="636.75" y1="47.00" x2="636.75" y2="51.00" stroke="#000" stroke-width="0.8"/>
<line x1="635.15" y1="47.00" x2="638.35" y2="47.00" stroke="#000" stroke-width="0.8"/>
<line x1="635.15" y1="51.00" x2="638.35" y2="51.00" stroke="#000" stroke-width="0.8"/>
<circle cx="636.75" cy="49.00" r="1.7" fill="#000"/>
<text x="636.75" y="43.80" font-size="8.3" text-anchor="middle">b</text>
<line x1="657.80" y1="55.10" x2="657.80" y2="59.10" stroke="#000" stroke-width="0.8"/>
<line x1="656.20" y1="55.10" x2="659.40" y2="55.10" stroke="#000" stroke-width="0.8"/>
<line x1="656.20" y1="59.10" x2="659.40" y2="59.10" stroke="#000" stroke-width="0.8"/>
<circle cx="657.80" cy="57.10" r="1.7" fill="#000"/>
<text x="657.80" y="51.90" font-size="8.3" text-anchor="middle">c</text>
<text x="489.20" y="82.10" font-size="8.6" font-weight="bold" text-anchor="middle" dominant-baseline="central" transform="rotate(-90 489.20 82.10)">AA-N (g/100 mL)</text>
<text x="595.40" y="167.20" font-size="8.6" font-weight="bold" text-anchor="middle" dominant-baseline="central">Time (day)</text>
<text x="471.00" y="15.80" font-size="20" font-weight="bold">C</text>
<line x1="39.40" y1="417.50" x2="39.40" y2="538.30" stroke="#000" stroke-width="1.3"/>
<line x1="38.75" y1="538.30" x2="194.10" y2="538.30" stroke="#000" stroke-width="1.3"/>
<line x1="34.80" y1="417.50" x2="39.40" y2="417.50" stroke="#000" stroke-width="1.3"/>
<text x="33.30" y="418.40" font-size="7.7" font-weight="bold" text-anchor="end" dominant-baseline="central">8.0</text>
<line x1="34.80" y1="447.70" x2="39.40" y2="447.70" stroke="#000" stroke-width="1.3"/>
<text x="33.30" y="448.60" font-size="7.7" font-weight="bold" text-anchor="end" dominant-baseline="central">7.5</text>
<line x1="34.80" y1="477.90" x2="39.40" y2="477.90" stroke="#000" stroke-width="1.3"/>
<text x="33.30" y="478.80" font-size="7.7" font-weight="bold" text-anchor="end" dominant-baseline="central">7.0</text>
<line x1="34.80" y1="508.10" x2="39.40" y2="508.10" stroke="#000" stroke-width="1.3"/>
<text x="33.30" y="509.00" font-size="7.7" font-weight="bold" text-anchor="end" dominant-baseline="central">6.5</text>
<line x1="34.80" y1="538.30" x2="39.40" y2="538.30" stroke="#000" stroke-width="1.3"/>
<text x="33.30" y="539.20" font-size="7.7" font-weight="bold" text-anchor="end" dominant-baseline="central">6.0</text>
<line x1="55.60" y1="538.30" x2="55.60" y2="543.30" stroke="#000" stroke-width="1.3"/>
<text x="55.60" y="548.90" font-size="7.7" font-weight="bold" text-anchor="middle" dominant-baseline="central">0</text>
<line x1="80.05" y1="538.30" x2="80.05" y2="543.30" stroke="#000" stroke-width="1.3"/>
<text x="80.05" y="548.90" font-size="7.7" font-weight="bold" text-anchor="middle" dominant-baseline="central">1</text>
<line x1="104.50" y1="538.30" x2="104.50" y2="543.30" stroke="#000" stroke-width="1.3"/>
<text x="104.50" y="548.90" font-size="7.7" font-weight="bold" text-anchor="middle" dominant-baseline="central">2</text>
<line x1="128.95" y1="538.30" x2="128.95" y2="543.30" stroke="#000" stroke-width="1.3"/>
<text x="128.95" y="548.90" font-size="7.7" font-weight="bold" text-anchor="middle" dominant-baseline="central">3</text>
<line x1="153.40" y1="538.30" x2="153.40" y2="543.30" stroke="#000" stroke-width="1.3"/>
<text x="153.40" y="548.90" font-size="7.7" font-weight="bold" text-anchor="middle" dominant-baseline="central">4</text>
<line x1="177.85" y1="538.30" x2="177.85" y2="543.30" stroke="#000" stroke-width="1.3"/>
<text x="177.85" y="548.90" font-size="7.7" font-weight="bold" text-anchor="middle" dominant-baseline="central">4.68</text>
<path d="M55.60,475.00 L80.05,428.70 L104.50,479.40 L128.95,487.50 L153.40,507.60 L177.85,505.60" fill="none" stroke="#000" stroke-width="1.3" stroke-linejoin="round"/>
<line x1="55.60" y1="471.50" x2="55.60" y2="478.50" stroke="#000" stroke-width="0.8"/>
<line x1="54.00" y1="471.50" x2="57.20" y2="471.50" stroke="#000" stroke-width="0.8"/>
<line x1="54.00" y1="478.50" x2="57.20" y2="478.50" stroke="#000" stroke-width="0.8"/>
<circle cx="55.60" cy="475.00" r="1.7" fill="#000"/>
<text x="55.60" y="468.30" font-size="8.3" text-anchor="middle">b</text>
<line x1="80.05" y1="425.30" x2="80.05" y2="432.10" stroke="#000" stroke-width="0.8"/>
<line x1="78.45" y1="425.30" x2="81.65" y2="425.30" stroke="#000" stroke-width="0.8"/>
<line x1="78.45" y1="432.10" x2="81.65" y2="432.10" stroke="#000" stroke-width="0.8"/>
<circle cx="80.05" cy="428.70" r="1.7" fill="#000"/>
<text x="80.05" y="422.10" font-size="8.3" text-anchor="middle">a</text>
<line x1="104.50" y1="477.90" x2="104.50" y2="480.90" stroke="#000" stroke-width="0.8"/>
<line x1="102.90" y1="477.90" x2="106.10" y2="477.90" stroke="#000" stroke-width="0.8"/>
<line x1="102.90" y1="480.90" x2="106.10" y2="480.90" stroke="#000" stroke-width="0.8"/>
<circle cx="104.50" cy="479.40" r="1.7" fill="#000"/>
<text x="104.50" y="474.70" font-size="8.3" text-anchor="middle">bc</text>
<line x1="128.95" y1="486.00" x2="128.95" y2="489.00" stroke="#000" stroke-width="0.8"/>
<line x1="127.35" y1="486.00" x2="130.55" y2="486.00" stroke="#000" stroke-width="0.8"/>
<line x1="127.35" y1="489.00" x2="130.55" y2="489.00" stroke="#000" stroke-width="0.8"/>
<circle cx="128.95" cy="487.50" r="1.7" fill="#000"/>
<text x="128.95" y="482.80" font-size="8.3" text-anchor="middle">c</text>
<line x1="153.40" y1="506.50" x2="153.40" y2="508.70" stroke="#000" stroke-width="0.8"/>
<line x1="151.80" y1="506.50" x2="155.00" y2="506.50" stroke="#000" stroke-width="0.8"/>
<line x1="151.80" y1="508.70" x2="155.00" y2="508.70" stroke="#000" stroke-width="0.8"/>
<circle cx="153.40" cy="507.60" r="1.7" fill="#000"/>
<text x="153.40" y="502.90" font-size="8.3" text-anchor="middle">d</text>
<line x1="177.85" y1="504.50" x2="177.85" y2="506.70" stroke="#000" stroke-width="0.8"/>
<line x1="176.25" y1="504.50" x2="179.45" y2="504.50" stroke="#000" stroke-width="0.8"/>
<line x1="176.25" y1="506.70" x2="179.45" y2="506.70" stroke="#000" stroke-width="0.8"/>
<circle cx="177.85" cy="505.60" r="1.7" fill="#000"/>
<text x="177.85" y="500.90" font-size="8.3" text-anchor="middle">d</text>
<text x="15.10" y="478.00" font-size="8.6" font-weight="bold" text-anchor="middle" dominant-baseline="central" transform="rotate(-90 15.10 478.00)">TVC (lg CFU/mL)</text>
<text x="117.00" y="561.50" font-size="8.6" font-weight="bold" text-anchor="middle" dominant-baseline="central">Time (day)</text>
<text x="3.50" y="398.10" font-size="20" font-weight="bold">G</text>
<line x1="282.70" y1="416.70" x2="282.70" y2="432.80" stroke="#000" stroke-width="1.3"/>
<line x1="282.70" y1="441.80" x2="282.70" y2="537.50" stroke="#000" stroke-width="1.3"/>
<line x1="282.05" y1="537.50" x2="437.20" y2="537.50" stroke="#000" stroke-width="1.3"/>
<line x1="278.10" y1="416.70" x2="282.70" y2="416.70" stroke="#000" stroke-width="1.3"/>
<text x="276.60" y="417.60" font-size="7.7" font-weight="bold" text-anchor="end" dominant-baseline="central">6.80</text>
<line x1="278.10" y1="425.00" x2="282.70" y2="425.00" stroke="#000" stroke-width="1.3"/>
<text x="276.60" y="425.90" font-size="7.7" font-weight="bold" text-anchor="end" dominant-baseline="central">6.75</text>
<text x="276.60" y="435.30" font-size="7.7" font-weight="bold" text-anchor="end" dominant-baseline="central">6.70</text>
<text x="276.60" y="444.30" font-size="7.7" font-weight="bold" text-anchor="end" dominant-baseline="central">4.70</text>
<line x1="278.10" y1="466.60" x2="282.70" y2="466.60" stroke="#000" stroke-width="1.3"/>
<text x="276.60" y="467.50" font-size="7.7" font-weight="bold" text-anchor="end" dominant-baseline="central">4.65</text>
<line x1="278.10" y1="490.10" x2="282.70" y2="490.10" stroke="#000" stroke-width="1.3"/>
<text x="276.60" y="491.00" font-size="7.7" font-weight="bold" text-anchor="end" dominant-baseline="central">4.60</text>
<line x1="278.10" y1="514.00" x2="282.70" y2="514.00" stroke="#000" stroke-width="1.3"/>
<text x="276.60" y="514.90" font-size="7.7" font-weight="bold" text-anchor="end" dominant-baseline="central">4.55</text>
<line x1="278.10" y1="537.50" x2="282.70" y2="537.50" stroke="#000" stroke-width="1.3"/>
<text x="276.60" y="538.40" font-size="7.7" font-weight="bold" text-anchor="end" dominant-baseline="central">4.50</text>
<line x1="280.00" y1="431.50" x2="285.90" y2="437.20" stroke="#000" stroke-width="1.3"/>
<line x1="280.00" y1="439.20" x2="285.90" y2="444.70" stroke="#000" stroke-width="1.3"/>
<line x1="298.80" y1="537.50" x2="298.80" y2="542.50" stroke="#000" stroke-width="1.3"/>
<text x="298.80" y="548.10" font-size="7.7" font-weight="bold" text-anchor="middle" dominant-baseline="central">0</text>
<line x1="323.25" y1="537.50" x2="323.25" y2="542.50" stroke="#000" stroke-width="1.3"/>
<text x="323.25" y="548.10" font-size="7.7" font-weight="bold" text-anchor="middle" dominant-baseline="central">1</text>
<line x1="347.70" y1="537.50" x2="347.70" y2="542.50" stroke="#000" stroke-width="1.3"/>
<text x="347.70" y="548.10" font-size="7.7" font-weight="bold" text-anchor="middle" dominant-baseline="central">2</text>
<line x1="372.15" y1="537.50" x2="372.15" y2="542.50" stroke="#000" stroke-width="1.3"/>
<text x="372.15" y="548.10" font-size="7.7" font-weight="bold" text-anchor="middle" dominant-baseline="central">3</text>
<line x1="396.60" y1="537.50" x2="396.60" y2="542.50" stroke="#000" stroke-width="1.3"/>
<text x="396.60" y="548.10" font-size="7.7" font-weight="bold" text-anchor="middle" dominant-baseline="central">4</text>
<line x1="421.05" y1="537.50" x2="421.05" y2="542.50" stroke="#000" stroke-width="1.3"/>
<text x="421.05" y="548.10" font-size="7.7" font-weight="bold" text-anchor="middle" dominant-baseline="central">4.68</text>
<path d="M298.80,427.20 L303.60,433.90" fill="none" stroke="#000" stroke-width="1.3" stroke-linejoin="round"/>
<path d="M308.20,442.30 L323.25,465.00 L347.70,474.40 L372.15,479.40 L396.60,486.80 L421.05,504.20" fill="none" stroke="#000" stroke-width="1.3" stroke-linejoin="round"/>
<line x1="298.80" y1="426.10" x2="298.80" y2="428.30" stroke="#000" stroke-width="0.8"/>
<line x1="297.20" y1="426.10" x2="300.40" y2="426.10" stroke="#000" stroke-width="0.8"/>
<line x1="297.20" y1="428.30" x2="300.40" y2="428.30" stroke="#000" stroke-width="0.8"/>
<circle cx="298.80" cy="427.20" r="1.7" fill="#000"/>
<text x="298.80" y="422.50" font-size="8.3" text-anchor="middle">a</text>
<line x1="323.25" y1="463.90" x2="323.25" y2="466.10" stroke="#000" stroke-width="0.8"/>
<line x1="321.65" y1="463.90" x2="324.85" y2="463.90" stroke="#000" stroke-width="0.8"/>
<line x1="321.65" y1="466.10" x2="324.85" y2="466.10" stroke="#000" stroke-width="0.8"/>
<circle cx="323.25" cy="465.00" r="1.7" fill="#000"/>
<text x="323.25" y="460.30" font-size="8.3" text-anchor="middle">b</text>
<line x1="347.70" y1="473.30" x2="347.70" y2="475.50" stroke="#000" stroke-width="0.8"/>
<line x1="346.10" y1="473.30" x2="349.30" y2="473.30" stroke="#000" stroke-width="0.8"/>
<line x1="346.10" y1="475.50" x2="349.30" y2="475.50" stroke="#000" stroke-width="0.8"/>
<circle cx="347.70" cy="474.40" r="1.7" fill="#000"/>
<text x="347.70" y="469.70" font-size="8.3" text-anchor="middle">c</text>
<line x1="372.15" y1="477.40" x2="372.15" y2="481.40" stroke="#000" stroke-width="0.8"/>
<line x1="370.55" y1="477.40" x2="373.75" y2="477.40" stroke="#000" stroke-width="0.8"/>
<line x1="370.55" y1="481.40" x2="373.75" y2="481.40" stroke="#000" stroke-width="0.8"/>
<circle cx="372.15" cy="479.40" r="1.7" fill="#000"/>
<text x="372.15" y="474.20" font-size="8.3" text-anchor="middle">cd</text>
<line x1="396.60" y1="485.70" x2="396.60" y2="487.90" stroke="#000" stroke-width="0.8"/>
<line x1="395.00" y1="485.70" x2="398.20" y2="485.70" stroke="#000" stroke-width="0.8"/>
<line x1="395.00" y1="487.90" x2="398.20" y2="487.90" stroke="#000" stroke-width="0.8"/>
<circle cx="396.60" cy="486.80" r="1.7" fill="#000"/>
<text x="396.60" y="482.10" font-size="8.3" text-anchor="middle">de</text>
<line x1="421.05" y1="501.70" x2="421.05" y2="506.70" stroke="#000" stroke-width="0.8"/>
<line x1="419.45" y1="501.70" x2="422.65" y2="501.70" stroke="#000" stroke-width="0.8"/>
<line x1="419.45" y1="506.70" x2="422.65" y2="506.70" stroke="#000" stroke-width="0.8"/>
<circle cx="421.05" cy="504.20" r="1.7" fill="#000"/>
<text x="421.05" y="498.50" font-size="8.3" text-anchor="middle">f</text>
<text x="254.70" y="478.30" font-size="9.5" font-weight="bold" text-anchor="middle" dominant-baseline="central" transform="rotate(-90 254.70 478.30)">pH</text>
<text x="348.00" y="561.50" font-size="8.6" font-weight="bold" text-anchor="middle" dominant-baseline="central">Time (day)</text>
<text x="245.50" y="399.10" font-size="20" font-weight="bold">H</text>
<line x1="508.60" y1="416.90" x2="508.60" y2="493.50" stroke="#000" stroke-width="1.3"/>
<line x1="508.60" y1="503.00" x2="508.60" y2="537.70" stroke="#000" stroke-width="1.3"/>
<line x1="507.95" y1="537.70" x2="663.90" y2="537.70" stroke="#000" stroke-width="1.3"/>
<line x1="504.00" y1="416.90" x2="508.60" y2="416.90" stroke="#000" stroke-width="1.3"/>
<text x="502.50" y="417.80" font-size="7.7" font-weight="bold" text-anchor="end" dominant-baseline="central">2.6</text>
<line x1="504.00" y1="436.40" x2="508.60" y2="436.40" stroke="#000" stroke-width="1.3"/>
<text x="502.50" y="437.30" font-size="7.7" font-weight="bold" text-anchor="end" dominant-baseline="central">2.5</text>
<line x1="504.00" y1="455.90" x2="508.60" y2="455.90" stroke="#000" stroke-width="1.3"/>
<text x="502.50" y="456.80" font-size="7.7" font-weight="bold" text-anchor="end" dominant-baseline="central">2.4</text>
<line x1="504.00" y1="475.40" x2="508.60" y2="475.40" stroke="#000" stroke-width="1.3"/>
<text x="502.50" y="476.30" font-size="7.7" font-weight="bold" text-anchor="end" dominant-baseline="central">2.3</text>
<text x="502.50" y="496.50" font-size="7.7" font-weight="bold" text-anchor="end" dominant-baseline="central">2.2</text>
<text x="502.50" y="505.30" font-size="7.7" font-weight="bold" text-anchor="end" dominant-baseline="central">1.3</text>
<line x1="504.00" y1="520.80" x2="508.60" y2="520.80" stroke="#000" stroke-width="1.3"/>
<text x="502.50" y="521.70" font-size="7.7" font-weight="bold" text-anchor="end" dominant-baseline="central">1.2</text>
<line x1="504.00" y1="537.70" x2="508.60" y2="537.70" stroke="#000" stroke-width="1.3"/>
<text x="502.50" y="538.60" font-size="7.7" font-weight="bold" text-anchor="end" dominant-baseline="central">1.1</text>
<line x1="506.30" y1="493.40" x2="512.20" y2="498.20" stroke="#000" stroke-width="1.3"/>
<line x1="506.30" y1="500.90" x2="512.20" y2="505.70" stroke="#000" stroke-width="1.3"/>
<line x1="525.10" y1="537.70" x2="525.10" y2="542.70" stroke="#000" stroke-width="1.3"/>
<text x="525.10" y="548.30" font-size="7.7" font-weight="bold" text-anchor="middle" dominant-baseline="central">0</text>
<line x1="549.55" y1="537.70" x2="549.55" y2="542.70" stroke="#000" stroke-width="1.3"/>
<text x="549.55" y="548.30" font-size="7.7" font-weight="bold" text-anchor="middle" dominant-baseline="central">1</text>
<line x1="574.00" y1="537.70" x2="574.00" y2="542.70" stroke="#000" stroke-width="1.3"/>
<text x="574.00" y="548.30" font-size="7.7" font-weight="bold" text-anchor="middle" dominant-baseline="central">2</text>
<line x1="598.45" y1="537.70" x2="598.45" y2="542.70" stroke="#000" stroke-width="1.3"/>
<text x="598.45" y="548.30" font-size="7.7" font-weight="bold" text-anchor="middle" dominant-baseline="central">3</text>
<line x1="622.90" y1="537.70" x2="622.90" y2="542.70" stroke="#000" stroke-width="1.3"/>
<text x="622.90" y="548.30" font-size="7.7" font-weight="bold" text-anchor="middle" dominant-baseline="central">4</text>
<line x1="647.35" y1="537.70" x2="647.35" y2="542.70" stroke="#000" stroke-width="1.3"/>
<text x="647.35" y="548.30" font-size="7.7" font-weight="bold" text-anchor="middle" dominant-baseline="central">4.68</text>
<path d="M525.10,522.60 L536.50,503.50" fill="none" stroke="#000" stroke-width="1.3" stroke-linejoin="round"/>
<path d="M540.20,495.60 L549.55,479.60 L574.00,471.70 L598.45,452.50 L622.90,436.70 L647.35,434.70" fill="none" stroke="#000" stroke-width="1.3" stroke-linejoin="round"/>
<line x1="525.10" y1="521.50" x2="525.10" y2="523.70" stroke="#000" stroke-width="0.8"/>
<line x1="523.50" y1="521.50" x2="526.70" y2="521.50" stroke="#000" stroke-width="0.8"/>
<line x1="523.50" y1="523.70" x2="526.70" y2="523.70" stroke="#000" stroke-width="0.8"/>
<circle cx="525.10" cy="522.60" r="1.7" fill="#000"/>
<text x="525.10" y="517.90" font-size="8.3" text-anchor="middle">d</text>
<line x1="549.55" y1="478.50" x2="549.55" y2="480.70" stroke="#000" stroke-width="0.8"/>
<line x1="547.95" y1="478.50" x2="551.15" y2="478.50" stroke="#000" stroke-width="0.8"/>
<line x1="547.95" y1="480.70" x2="551.15" y2="480.70" stroke="#000" stroke-width="0.8"/>
<circle cx="549.55" cy="479.60" r="1.7" fill="#000"/>
<text x="549.55" y="474.90" font-size="8.3" text-anchor="middle">c</text>
<line x1="574.00" y1="467.10" x2="574.00" y2="476.30" stroke="#000" stroke-width="0.8"/>
<line x1="572.40" y1="467.10" x2="575.60" y2="467.10" stroke="#000" stroke-width="0.8"/>
<line x1="572.40" y1="476.30" x2="575.60" y2="476.30" stroke="#000" stroke-width="0.8"/>
<circle cx="574.00" cy="471.70" r="1.7" fill="#000"/>
<text x="574.00" y="463.90" font-size="8.3" text-anchor="middle">c</text>
<line x1="598.45" y1="451.40" x2="598.45" y2="453.60" stroke="#000" stroke-width="0.8"/>
<line x1="596.85" y1="451.40" x2="600.05" y2="451.40" stroke="#000" stroke-width="0.8"/>
<line x1="596.85" y1="453.60" x2="600.05" y2="453.60" stroke="#000" stroke-width="0.8"/>
<circle cx="598.45" cy="452.50" r="1.7" fill="#000"/>
<text x="598.45" y="447.80" font-size="8.3" text-anchor="middle">b</text>
<line x1="622.90" y1="433.20" x2="622.90" y2="440.20" stroke="#000" stroke-width="0.8"/>
<line x1="621.30" y1="433.20" x2="624.50" y2="433.20" stroke="#000" stroke-width="0.8"/>
<line x1="621.30" y1="440.20" x2="624.50" y2="440.20" stroke="#000" stroke-width="0.8"/>
<circle cx="622.90" cy="436.70" r="1.7" fill="#000"/>
<text x="622.90" y="430.00" font-size="8.3" text-anchor="middle">a</text>
<line x1="647.35" y1="432.70" x2="647.35" y2="436.70" stroke="#000" stroke-width="0.8"/>
<line x1="645.75" y1="432.70" x2="648.95" y2="432.70" stroke="#000" stroke-width="0.8"/>
<line x1="645.75" y1="436.70" x2="648.95" y2="436.70" stroke="#000" stroke-width="0.8"/>
<circle cx="647.35" cy="434.70" r="1.7" fill="#000"/>
<text x="647.35" y="429.50" font-size="8.3" text-anchor="middle">a</text>
<text x="485.30" y="476.60" font-size="8.6" font-weight="bold" text-anchor="middle" dominant-baseline="central" transform="rotate(-90 485.30 476.60)">Total acid (g/L)</text>
<text x="574.00" y="561.50" font-size="8.6" font-weight="bold" text-anchor="middle" dominant-baseline="central">Time (day)</text>
<text x="476.00" y="398.10" font-size="20" font-weight="bold">I</text>
<line x1="40.40" y1="618.50" x2="40.40" y2="708.00" stroke="#000" stroke-width="1.3"/>
<line x1="40.40" y1="717.30" x2="40.40" y2="739.60" stroke="#000" stroke-width="1.3"/>
<line x1="39.75" y1="739.60" x2="194.80" y2="739.60" stroke="#000" stroke-width="1.3"/>
<line x1="35.80" y1="618.50" x2="40.40" y2="618.50" stroke="#000" stroke-width="1.3"/>
<text x="34.30" y="619.40" font-size="7.7" font-weight="bold" text-anchor="end" dominant-baseline="central">1.00</text>
<line x1="35.80" y1="644.10" x2="40.40" y2="644.10" stroke="#000" stroke-width="1.3"/>
<text x="34.30" y="645.00" font-size="7.7" font-weight="bold" text-anchor="end" dominant-baseline="central">0.98</text>
<line x1="35.80" y1="669.80" x2="40.40" y2="669.80" stroke="#000" stroke-width="1.3"/>
<text x="34.30" y="670.70" font-size="7.7" font-weight="bold" text-anchor="end" dominant-baseline="central">0.96</text>
<line x1="35.80" y1="695.50" x2="40.40" y2="695.50" stroke="#000" stroke-width="1.3"/>
<text x="34.30" y="696.40" font-size="7.7" font-weight="bold" text-anchor="end" dominant-baseline="central">0.94</text>
<text x="34.30" y="718.10" font-size="7.7" font-weight="bold" text-anchor="end" dominant-baseline="central">0.86</text>
<line x1="35.80" y1="728.20" x2="40.40" y2="728.20" stroke="#000" stroke-width="1.3"/>
<text x="34.30" y="729.10" font-size="7.7" font-weight="bold" text-anchor="end" dominant-baseline="central">0.83</text>
<line x1="35.80" y1="739.60" x2="40.40" y2="739.60" stroke="#000" stroke-width="1.3"/>
<text x="34.30" y="740.50" font-size="7.7" font-weight="bold" text-anchor="end" dominant-baseline="central">0.80</text>
<line x1="37.10" y1="705.80" x2="43.70" y2="711.50" stroke="#000" stroke-width="1.3"/>
<line x1="37.10" y1="713.30" x2="43.70" y2="719.60" stroke="#000" stroke-width="1.3"/>
<line x1="56.50" y1="739.60" x2="56.50" y2="744.60" stroke="#000" stroke-width="1.3"/>
<text x="56.50" y="750.20" font-size="7.7" font-weight="bold" text-anchor="middle" dominant-baseline="central">0</text>
<line x1="80.85" y1="739.60" x2="80.85" y2="744.60" stroke="#000" stroke-width="1.3"/>
<text x="80.85" y="750.20" font-size="7.7" font-weight="bold" text-anchor="middle" dominant-baseline="central">1</text>
<line x1="105.20" y1="739.60" x2="105.20" y2="744.60" stroke="#000" stroke-width="1.3"/>
<text x="105.20" y="750.20" font-size="7.7" font-weight="bold" text-anchor="middle" dominant-baseline="central">2</text>
<line x1="129.55" y1="739.60" x2="129.55" y2="744.60" stroke="#000" stroke-width="1.3"/>
<text x="129.55" y="750.20" font-size="7.7" font-weight="bold" text-anchor="middle" dominant-baseline="central">3</text>
<line x1="153.90" y1="739.60" x2="153.90" y2="744.60" stroke="#000" stroke-width="1.3"/>
<text x="153.90" y="750.20" font-size="7.7" font-weight="bold" text-anchor="middle" dominant-baseline="central">4</text>
<line x1="178.25" y1="739.60" x2="178.25" y2="744.60" stroke="#000" stroke-width="1.3"/>
<text x="178.25" y="750.20" font-size="7.7" font-weight="bold" text-anchor="middle" dominant-baseline="central">4.68</text>
<path d="M56.50,725.60 L64.20,716.50" fill="none" stroke="#000" stroke-width="1.3" stroke-linejoin="round"/>
<path d="M70.80,708.50 L80.85,697.00 L105.20,671.70 L129.55,661.90 L153.90,653.50 L178.25,631.00" fill="none" stroke="#000" stroke-width="1.3" stroke-linejoin="round"/>
<line x1="56.50" y1="722.00" x2="56.50" y2="729.20" stroke="#000" stroke-width="0.8"/>
<line x1="54.90" y1="722.00" x2="58.10" y2="722.00" stroke="#000" stroke-width="0.8"/>
<line x1="54.90" y1="729.20" x2="58.10" y2="729.20" stroke="#000" stroke-width="0.8"/>
<circle cx="56.50" cy="725.60" r="1.7" fill="#000"/>
<text x="56.50" y="718.80" font-size="8.3" text-anchor="middle">d</text>
<line x1="80.85" y1="692.00" x2="80.85" y2="702.00" stroke="#000" stroke-width="0.8"/>
<line x1="79.25" y1="692.00" x2="82.45" y2="692.00" stroke="#000" stroke-width="0.8"/>
<line x1="79.25" y1="702.00" x2="82.45" y2="702.00" stroke="#000" stroke-width="0.8"/>
<circle cx="80.85" cy="697.00" r="1.7" fill="#000"/>
<text x="80.85" y="688.80" font-size="8.3" text-anchor="middle">c</text>
<line x1="105.20" y1="670.60" x2="105.20" y2="672.80" stroke="#000" stroke-width="0.8"/>
<line x1="103.60" y1="670.60" x2="106.80" y2="670.60" stroke="#000" stroke-width="0.8"/>
<line x1="103.60" y1="672.80" x2="106.80" y2="672.80" stroke="#000" stroke-width="0.8"/>
<circle cx="105.20" cy="671.70" r="1.7" fill="#000"/>
<text x="105.20" y="667.00" font-size="8.3" text-anchor="middle">b</text>
<line x1="129.55" y1="660.80" x2="129.55" y2="663.00" stroke="#000" stroke-width="0.8"/>
<line x1="127.95" y1="660.80" x2="131.15" y2="660.80" stroke="#000" stroke-width="0.8"/>
<line x1="127.95" y1="663.00" x2="131.15" y2="663.00" stroke="#000" stroke-width="0.8"/>
<circle cx="129.55" cy="661.90" r="1.7" fill="#000"/>
<text x="129.55" y="657.20" font-size="8.3" text-anchor="middle">b</text>
<line x1="153.90" y1="652.40" x2="153.90" y2="654.60" stroke="#000" stroke-width="0.8"/>
<line x1="152.30" y1="652.40" x2="155.50" y2="652.40" stroke="#000" stroke-width="0.8"/>
<line x1="152.30" y1="654.60" x2="155.50" y2="654.60" stroke="#000" stroke-width="0.8"/>
<circle cx="153.90" cy="653.50" r="1.7" fill="#000"/>
<text x="153.90" y="648.80" font-size="8.3" text-anchor="middle">ab</text>
<line x1="178.25" y1="625.00" x2="178.25" y2="637.00" stroke="#000" stroke-width="0.8"/>
<line x1="176.65" y1="625.00" x2="179.85" y2="625.00" stroke="#000" stroke-width="0.8"/>
<line x1="176.65" y1="637.00" x2="179.85" y2="637.00" stroke="#000" stroke-width="0.8"/>
<circle cx="178.25" cy="631.00" r="1.7" fill="#000"/>
<text x="178.25" y="621.80" font-size="8.3" text-anchor="middle">a</text>
<text x="12.40" y="663.30" font-size="8.6" font-weight="bold" text-anchor="middle" dominant-baseline="central" transform="rotate(-90 12.40 663.30)">TS-N (g/100 mL)</text>
<text x="117.50" y="763.00" font-size="8.6" font-weight="bold" text-anchor="middle" dominant-baseline="central">Time (day)</text>
<text x="8.50" y="598.40" font-size="20" font-weight="bold">J</text>
<line x1="283.00" y1="619.00" x2="283.00" y2="708.50" stroke="#000" stroke-width="1.3"/>
<line x1="283.00" y1="717.10" x2="283.00" y2="739.80" stroke="#000" stroke-width="1.3"/>
<line x1="282.35" y1="739.80" x2="437.20" y2="739.80" stroke="#000" stroke-width="1.3"/>
<line x1="278.40" y1="619.00" x2="283.00" y2="619.00" stroke="#000" stroke-width="1.3"/>
<text x="276.90" y="619.90" font-size="7.7" font-weight="bold" text-anchor="end" dominant-baseline="central">0.61</text>
<line x1="278.40" y1="648.50" x2="283.00" y2="648.50" stroke="#000" stroke-width="1.3"/>
<text x="276.90" y="649.40" font-size="7.7" font-weight="bold" text-anchor="end" dominant-baseline="central">0.58</text>
<line x1="278.40" y1="678.00" x2="283.00" y2="678.00" stroke="#000" stroke-width="1.3"/>
<text x="276.90" y="678.90" font-size="7.7" font-weight="bold" text-anchor="end" dominant-baseline="central">0.55</text>
<text x="276.90" y="708.90" font-size="7.7" font-weight="bold" text-anchor="end" dominant-baseline="central">0.52</text>
<text x="276.90" y="717.90" font-size="7.7" font-weight="bold" text-anchor="end" dominant-baseline="central">0.37</text>
<line x1="278.40" y1="728.10" x2="283.00" y2="728.10" stroke="#000" stroke-width="1.3"/>
<text x="276.90" y="729.00" font-size="7.7" font-weight="bold" text-anchor="end" dominant-baseline="central">0.36</text>
<line x1="278.40" y1="739.80" x2="283.00" y2="739.80" stroke="#000" stroke-width="1.3"/>
<text x="276.90" y="740.70" font-size="7.7" font-weight="bold" text-anchor="end" dominant-baseline="central">0.35</text>
<line x1="279.70" y1="705.80" x2="286.30" y2="711.50" stroke="#000" stroke-width="1.3"/>
<line x1="279.70" y1="713.50" x2="286.30" y2="719.60" stroke="#000" stroke-width="1.3"/>
<line x1="298.80" y1="739.80" x2="298.80" y2="744.80" stroke="#000" stroke-width="1.3"/>
<text x="298.80" y="750.40" font-size="7.7" font-weight="bold" text-anchor="middle" dominant-baseline="central">0</text>
<line x1="323.25" y1="739.80" x2="323.25" y2="744.80" stroke="#000" stroke-width="1.3"/>
<text x="323.25" y="750.40" font-size="7.7" font-weight="bold" text-anchor="middle" dominant-baseline="central">1</text>
<line x1="347.70" y1="739.80" x2="347.70" y2="744.80" stroke="#000" stroke-width="1.3"/>
<text x="347.70" y="750.40" font-size="7.7" font-weight="bold" text-anchor="middle" dominant-baseline="central">2</text>
<line x1="372.15" y1="739.80" x2="372.15" y2="744.80" stroke="#000" stroke-width="1.3"/>
<text x="372.15" y="750.40" font-size="7.7" font-weight="bold" text-anchor="middle" dominant-baseline="central">3</text>
<line x1="396.60" y1="739.80" x2="396.60" y2="744.80" stroke="#000" stroke-width="1.3"/>
<text x="396.60" y="750.40" font-size="7.7" font-weight="bold" text-anchor="middle" dominant-baseline="central">4</text>
<line x1="421.05" y1="739.80" x2="421.05" y2="744.80" stroke="#000" stroke-width="1.3"/>
<text x="421.05" y="750.40" font-size="7.7" font-weight="bold" text-anchor="middle" dominant-baseline="central">4.68</text>
<path d="M298.80,725.10 L306.90,716.80" fill="none" stroke="#000" stroke-width="1.3" stroke-linejoin="round"/>
<path d="M314.00,708.70 L323.25,698.90 L347.70,691.10 L372.15,650.90 L396.60,643.50 L421.05,628.00" fill="none" stroke="#000" stroke-width="1.3" stroke-linejoin="round"/>
<line x1="298.80" y1="724.00" x2="298.80" y2="726.20" stroke="#000" stroke-width="0.8"/>
<line x1="297.20" y1="724.00" x2="300.40" y2="724.00" stroke="#000" stroke-width="0.8"/>
<line x1="297.20" y1="726.20" x2="300.40" y2="726.20" stroke="#000" stroke-width="0.8"/>
<circle cx="298.80" cy="725.10" r="1.7" fill="#000"/>
<text x="298.80" y="720.40" font-size="8.3" text-anchor="middle">d</text>
<line x1="323.25" y1="696.40" x2="323.25" y2="701.40" stroke="#000" stroke-width="0.8"/>
<line x1="321.65" y1="696.40" x2="324.85" y2="696.40" stroke="#000" stroke-width="0.8"/>
<line x1="321.65" y1="701.40" x2="324.85" y2="701.40" stroke="#000" stroke-width="0.8"/>
<circle cx="323.25" cy="698.90" r="1.7" fill="#000"/>
<text x="323.25" y="693.20" font-size="8.3" text-anchor="middle">c</text>
<line x1="347.70" y1="689.10" x2="347.70" y2="693.10" stroke="#000" stroke-width="0.8"/>
<line x1="346.10" y1="689.10" x2="349.30" y2="689.10" stroke="#000" stroke-width="0.8"/>
<line x1="346.10" y1="693.10" x2="349.30" y2="693.10" stroke="#000" stroke-width="0.8"/>
<circle cx="347.70" cy="691.10" r="1.7" fill="#000"/>
<text x="347.70" y="685.90" font-size="8.3" text-anchor="middle">c</text>
<line x1="372.15" y1="649.40" x2="372.15" y2="652.40" stroke="#000" stroke-width="0.8"/>
<line x1="370.55" y1="649.40" x2="373.75" y2="649.40" stroke="#000" stroke-width="0.8"/>
<line x1="370.55" y1="652.40" x2="373.75" y2="652.40" stroke="#000" stroke-width="0.8"/>
<circle cx="372.15" cy="650.90" r="1.7" fill="#000"/>
<text x="372.15" y="646.20" font-size="8.3" text-anchor="middle">b</text>
<line x1="396.60" y1="642.00" x2="396.60" y2="645.00" stroke="#000" stroke-width="0.8"/>
<line x1="395.00" y1="642.00" x2="398.20" y2="642.00" stroke="#000" stroke-width="0.8"/>
<line x1="395.00" y1="645.00" x2="398.20" y2="645.00" stroke="#000" stroke-width="0.8"/>
<circle cx="396.60" cy="643.50" r="1.7" fill="#000"/>
<text x="396.60" y="638.80" font-size="8.3" text-anchor="middle">b</text>
<line x1="421.05" y1="625.50" x2="421.05" y2="630.50" stroke="#000" stroke-width="0.8"/>
<line x1="419.45" y1="625.50" x2="422.65" y2="625.50" stroke="#000" stroke-width="0.8"/>
<line x1="419.45" y1="630.50" x2="422.65" y2="630.50" stroke="#000" stroke-width="0.8"/>
<circle cx="421.05" cy="628.00" r="1.7" fill="#000"/>
<text x="421.05" y="622.30" font-size="8.3" text-anchor="middle">a</text>
<text x="255.40" y="680.20" font-size="8.6" font-weight="bold" text-anchor="middle" dominant-baseline="central" transform="rotate(-90 255.40 680.20)">AA-N (g/100 mL)</text>
<text x="348.00" y="763.00" font-size="8.6" font-weight="bold" text-anchor="middle" dominant-baseline="central">Time (day)</text>
<text x="245.50" y="602.40" font-size="20" font-weight="bold">K</text>
<line x1="507.50" y1="619.00" x2="507.50" y2="708.00" stroke="#000" stroke-width="1.3"/>
<line x1="507.50" y1="717.00" x2="507.50" y2="739.80" stroke="#000" stroke-width="1.3"/>
<line x1="506.85" y1="739.80" x2="662.20" y2="739.80" stroke="#000" stroke-width="1.3"/>
<line x1="502.90" y1="619.00" x2="507.50" y2="619.00" stroke="#000" stroke-width="1.3"/>
<text x="501.40" y="619.90" font-size="7.7" font-weight="bold" text-anchor="end" dominant-baseline="central">64</text>
<line x1="502.90" y1="636.40" x2="507.50" y2="636.40" stroke="#000" stroke-width="1.3"/>
<text x="501.40" y="637.30" font-size="7.7" font-weight="bold" text-anchor="end" dominant-baseline="central">60</text>
<line x1="502.90" y1="654.50" x2="507.50" y2="654.50" stroke="#000" stroke-width="1.3"/>
<text x="501.40" y="655.40" font-size="7.7" font-weight="bold" text-anchor="end" dominant-baseline="central">56</text>
<line x1="502.90" y1="672.30" x2="507.50" y2="672.30" stroke="#000" stroke-width="1.3"/>
<text x="501.40" y="673.20" font-size="7.7" font-weight="bold" text-anchor="end" dominant-baseline="central">52</text>
<line x1="502.90" y1="690.50" x2="507.50" y2="690.50" stroke="#000" stroke-width="1.3"/>
<text x="501.40" y="691.40" font-size="7.7" font-weight="bold" text-anchor="end" dominant-baseline="central">48</text>
<text x="501.40" y="708.90" font-size="7.7" font-weight="bold" text-anchor="end" dominant-baseline="central">44</text>
<text x="501.40" y="717.90" font-size="7.7" font-weight="bold" text-anchor="end" dominant-baseline="central">28</text>
<line x1="502.90" y1="728.10" x2="507.50" y2="728.10" stroke="#000" stroke-width="1.3"/>
<text x="501.40" y="729.00" font-size="7.7" font-weight="bold" text-anchor="end" dominant-baseline="central">20</text>
<line x1="502.90" y1="739.80" x2="507.50" y2="739.80" stroke="#000" stroke-width="1.3"/>
<text x="501.40" y="740.70" font-size="7.7" font-weight="bold" text-anchor="end" dominant-baseline="central">12</text>
<line x1="504.30" y1="705.80" x2="510.90" y2="711.70" stroke="#000" stroke-width="1.3"/>
<line x1="504.30" y1="713.30" x2="510.90" y2="719.60" stroke="#000" stroke-width="1.3"/>
<line x1="523.80" y1="739.80" x2="523.80" y2="744.80" stroke="#000" stroke-width="1.3"/>
<text x="523.80" y="750.40" font-size="7.7" font-weight="bold" text-anchor="middle" dominant-baseline="central">0</text>
<line x1="548.25" y1="739.80" x2="548.25" y2="744.80" stroke="#000" stroke-width="1.3"/>
<text x="548.25" y="750.40" font-size="7.7" font-weight="bold" text-anchor="middle" dominant-baseline="central">1</text>
<line x1="572.70" y1="739.80" x2="572.70" y2="744.80" stroke="#000" stroke-width="1.3"/>
<text x="572.70" y="750.40" font-size="7.7" font-weight="bold" text-anchor="middle" dominant-baseline="central">2</text>
<line x1="597.15" y1="739.80" x2="597.15" y2="744.80" stroke="#000" stroke-width="1.3"/>
<text x="597.15" y="750.40" font-size="7.7" font-weight="bold" text-anchor="middle" dominant-baseline="central">3</text>
<line x1="621.60" y1="739.80" x2="621.60" y2="744.80" stroke="#000" stroke-width="1.3"/>
<text x="621.60" y="750.40" font-size="7.7" font-weight="bold" text-anchor="middle" dominant-baseline="central">4</text>
<line x1="646.05" y1="739.80" x2="646.05" y2="744.80" stroke="#000" stroke-width="1.3"/>
<text x="646.05" y="750.40" font-size="7.7" font-weight="bold" text-anchor="middle" dominant-baseline="central">4.68</text>
<path d="M523.80,726.70 L534.90,716.40" fill="none" stroke="#000" stroke-width="1.3" stroke-linejoin="round"/>
<path d="M542.30,708.70 L548.25,703.60 L572.70,694.80 L597.15,669.00 L621.60,660.60 L646.05,642.80" fill="none" stroke="#000" stroke-width="1.3" stroke-linejoin="round"/>
<line x1="523.80" y1="724.40" x2="523.80" y2="729.00" stroke="#000" stroke-width="0.8"/>
<line x1="522.20" y1="724.40" x2="525.40" y2="724.40" stroke="#000" stroke-width="0.8"/>
<line x1="522.20" y1="729.00" x2="525.40" y2="729.00" stroke="#000" stroke-width="0.8"/>
<circle cx="523.80" cy="726.70" r="1.7" fill="#000"/>
<text x="523.80" y="721.20" font-size="8.3" text-anchor="middle">d</text>
<line x1="548.25" y1="700.80" x2="548.25" y2="706.40" stroke="#000" stroke-width="0.8"/>
<line x1="546.65" y1="700.80" x2="549.85" y2="700.80" stroke="#000" stroke-width="0.8"/>
<line x1="546.65" y1="706.40" x2="549.85" y2="706.40" stroke="#000" stroke-width="0.8"/>
<circle cx="548.25" cy="703.60" r="1.7" fill="#000"/>
<text x="548.25" y="697.60" font-size="8.3" text-anchor="middle">c</text>
<line x1="572.70" y1="689.30" x2="572.70" y2="700.30" stroke="#000" stroke-width="0.8"/>
<line x1="571.10" y1="689.30" x2="574.30" y2="689.30" stroke="#000" stroke-width="0.8"/>
<line x1="571.10" y1="700.30" x2="574.30" y2="700.30" stroke="#000" stroke-width="0.8"/>
<circle cx="572.70" cy="694.80" r="1.7" fill="#000"/>
<text x="572.70" y="686.10" font-size="8.3" text-anchor="middle">c</text>
<line x1="597.15" y1="664.40" x2="597.15" y2="673.60" stroke="#000" stroke-width="0.8"/>
<line x1="595.55" y1="664.40" x2="598.75" y2="664.40" stroke="#000" stroke-width="0.8"/>
<line x1="595.55" y1="673.60" x2="598.75" y2="673.60" stroke="#000" stroke-width="0.8"/>
<circle cx="597.15" cy="669.00" r="1.7" fill="#000"/>
<text x="597.15" y="661.20" font-size="8.3" text-anchor="middle">b</text>
<line x1="621.60" y1="657.30" x2="621.60" y2="663.90" stroke="#000" stroke-width="0.8"/>
<line x1="620.00" y1="657.30" x2="623.20" y2="657.30" stroke="#000" stroke-width="0.8"/>
<line x1="620.00" y1="663.90" x2="623.20" y2="663.90" stroke="#000" stroke-width="0.8"/>
<circle cx="621.60" cy="660.60" r="1.7" fill="#000"/>
<text x="621.60" y="654.10" font-size="8.3" text-anchor="middle">ab</text>
<line x1="646.05" y1="638.80" x2="646.05" y2="646.80" stroke="#000" stroke-width="0.8"/>
<line x1="644.45" y1="638.80" x2="647.65" y2="638.80" stroke="#000" stroke-width="0.8"/>
<line x1="644.45" y1="646.80" x2="647.65" y2="646.80" stroke="#000" stroke-width="0.8"/>
<circle cx="646.05" cy="642.80" r="1.7" fill="#000"/>
<text x="646.05" y="635.60" font-size="8.3" text-anchor="middle">a</text>
<text x="484.80" y="679.60" font-size="8.6" font-weight="bold" text-anchor="middle" dominant-baseline="central" transform="rotate(-90 484.80 679.60)">TVB-N (mg/100 mL)</text>
<text x="573.00" y="763.00" font-size="8.6" font-weight="bold" text-anchor="middle" dominant-baseline="central">Time (day)</text>
<text x="476.00" y="601.60" font-size="20" font-weight="bold">L</text>
</svg></body></html>
